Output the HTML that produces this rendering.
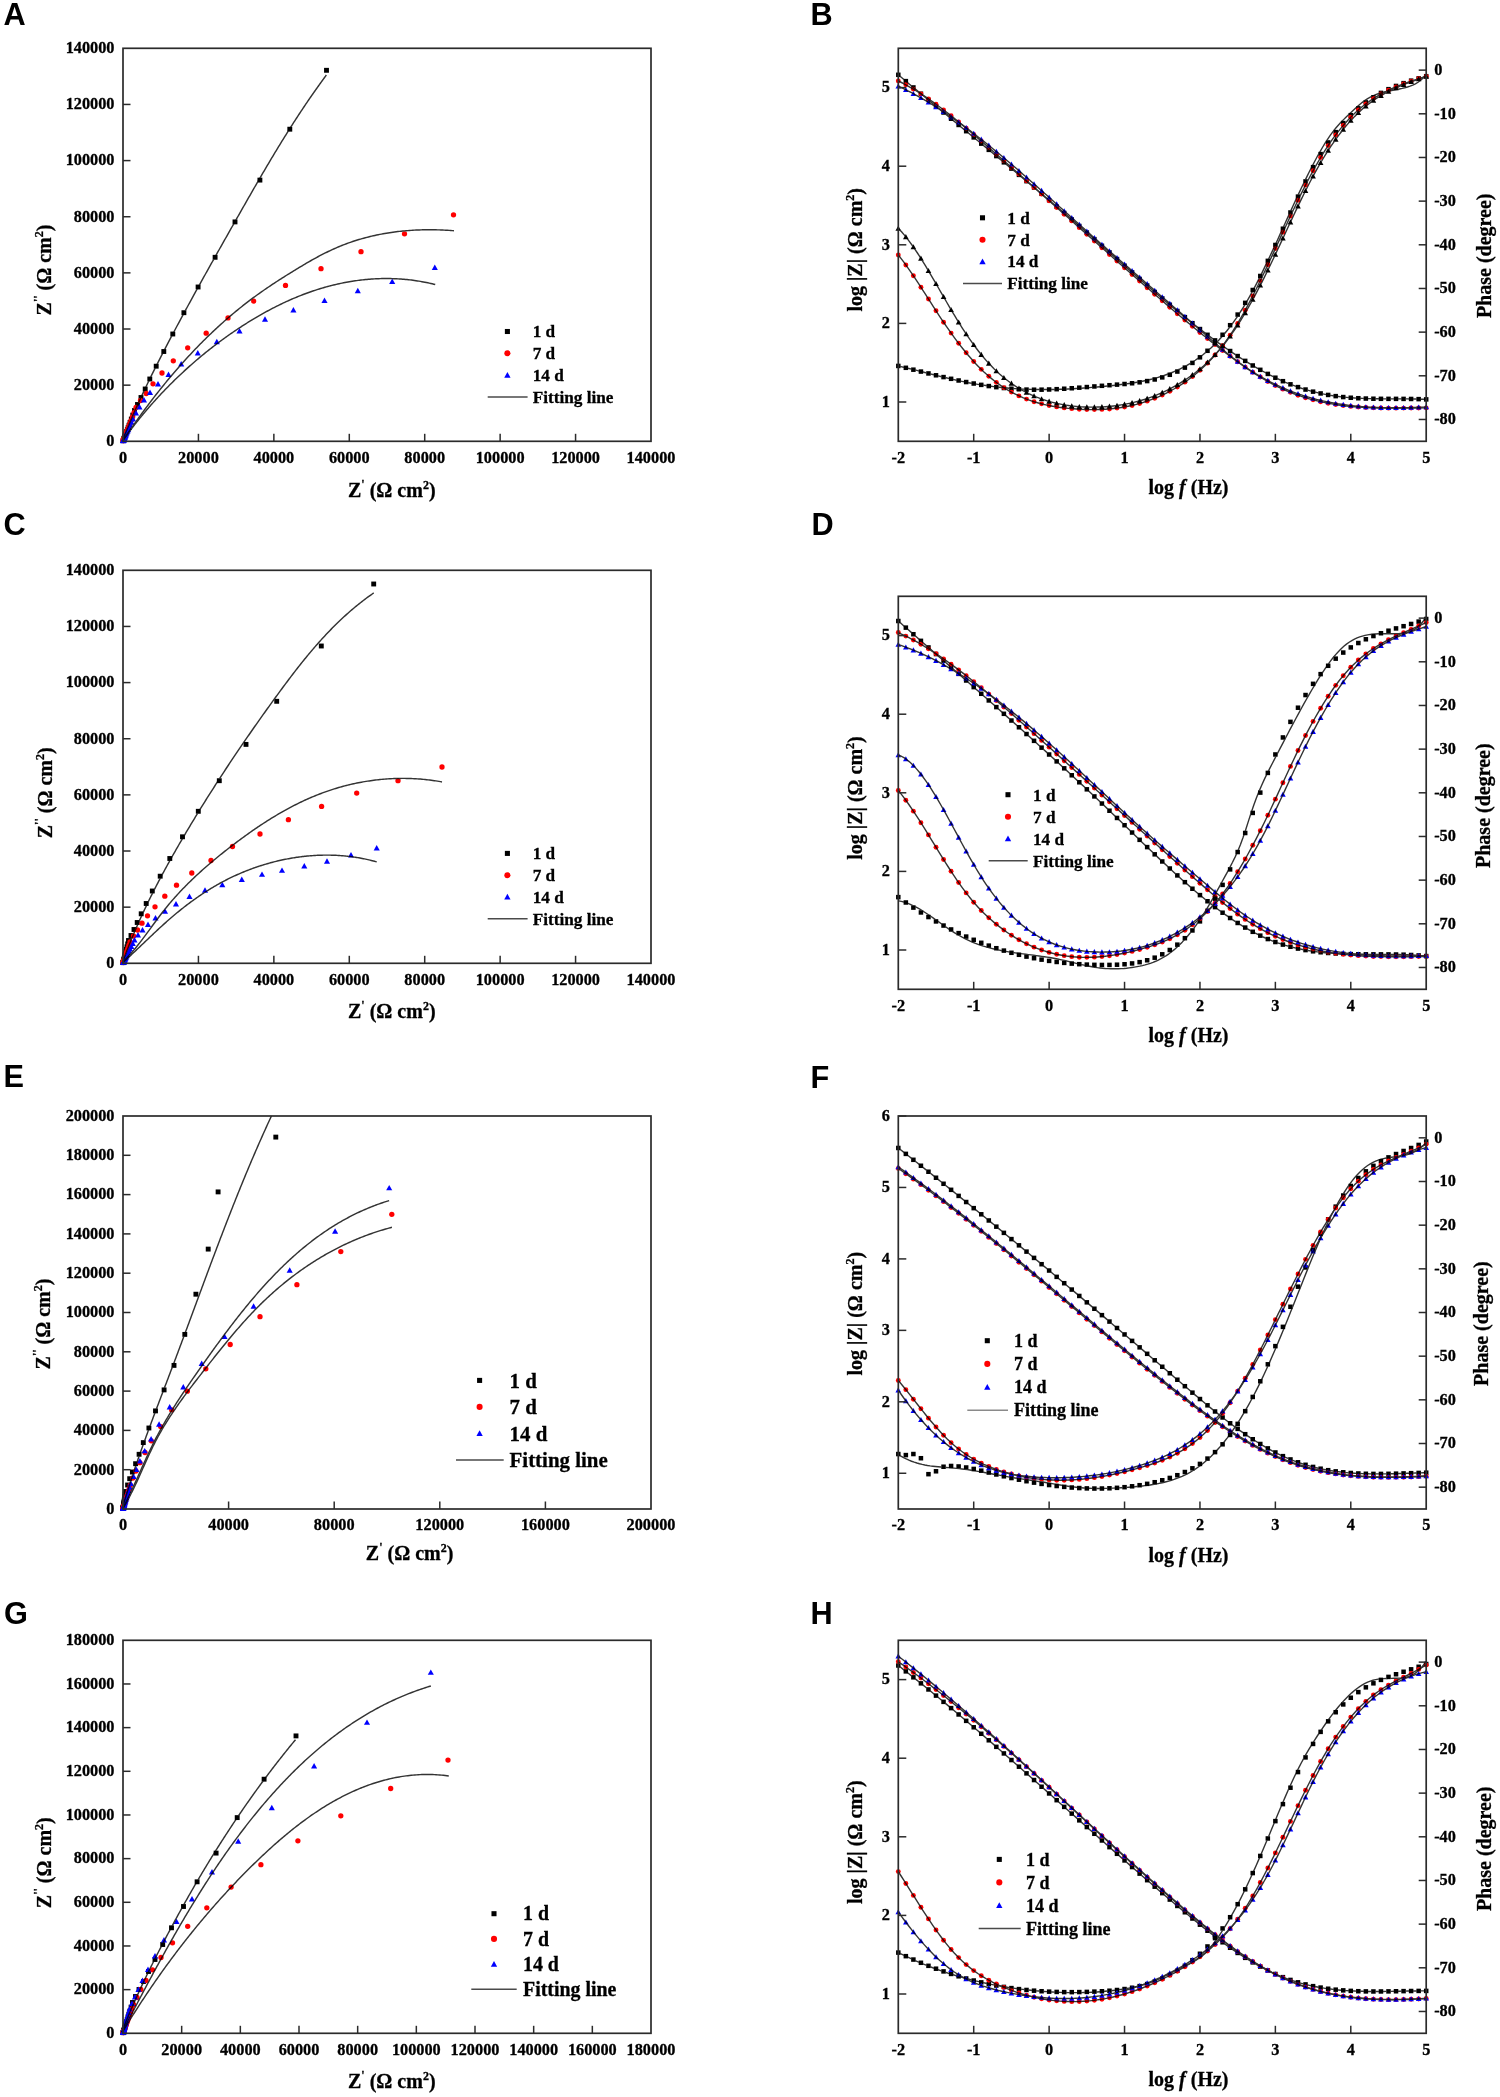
<!DOCTYPE html><html><head><meta charset="utf-8"><style>html,body{margin:0;padding:0;background:#fff;width:1500px;height:2097px;overflow:hidden}svg{display:block;will-change:transform} text[font-family*="Serif"]{stroke:#000;stroke-width:0.3px}</style></head><body><svg width="1500" height="2097" viewBox="0 0 1500 2097">
<rect width="1500" height="2097" fill="#fff"/>
<rect x="324.06" y="67.86" width="4.88" height="4.88" fill="#000"/>
<rect x="287.36" y="126.76" width="4.88" height="4.88" fill="#000"/>
<rect x="257.46" y="177.66" width="4.88" height="4.88" fill="#000"/>
<rect x="232.56" y="219.46" width="4.88" height="4.88" fill="#000"/>
<rect x="212.66" y="254.86" width="4.88" height="4.88" fill="#000"/>
<rect x="195.66" y="284.56" width="4.88" height="4.88" fill="#000"/>
<rect x="181.46" y="310.26" width="4.88" height="4.88" fill="#000"/>
<rect x="170.36" y="331.56" width="4.88" height="4.88" fill="#000"/>
<rect x="161.36" y="349.06" width="4.88" height="4.88" fill="#000"/>
<rect x="153.76" y="363.76" width="4.88" height="4.88" fill="#000"/>
<rect x="147.36" y="376.56" width="4.88" height="4.88" fill="#000"/>
<rect x="142.76" y="386.56" width="4.88" height="4.88" fill="#000"/>
<rect x="138.56" y="395.06" width="4.88" height="4.88" fill="#000"/>
<rect x="135.06" y="402.06" width="4.88" height="4.88" fill="#000"/>
<rect x="132.06" y="408.06" width="4.88" height="4.88" fill="#000"/>
<rect x="130.34" y="412.68" width="4.88" height="4.88" fill="#000"/>
<rect x="128.87" y="416.61" width="4.88" height="4.88" fill="#000"/>
<rect x="127.62" y="419.95" width="4.88" height="4.88" fill="#000"/>
<rect x="126.57" y="422.78" width="4.88" height="4.88" fill="#000"/>
<rect x="125.66" y="425.2" width="4.88" height="4.88" fill="#000"/>
<rect x="124.9" y="427.25" width="4.88" height="4.88" fill="#000"/>
<rect x="124.25" y="428.99" width="4.88" height="4.88" fill="#000"/>
<rect x="123.7" y="430.47" width="4.88" height="4.88" fill="#000"/>
<rect x="123.23" y="431.73" width="4.88" height="4.88" fill="#000"/>
<rect x="122.83" y="432.8" width="4.88" height="4.88" fill="#000"/>
<rect x="122.49" y="433.71" width="4.88" height="4.88" fill="#000"/>
<rect x="122.2" y="434.48" width="4.88" height="4.88" fill="#000"/>
<rect x="121.95" y="435.14" width="4.88" height="4.88" fill="#000"/>
<rect x="121.74" y="435.7" width="4.88" height="4.88" fill="#000"/>
<rect x="121.57" y="436.17" width="4.88" height="4.88" fill="#000"/>
<rect x="121.42" y="436.58" width="4.88" height="4.88" fill="#000"/>
<rect x="121.29" y="436.92" width="4.88" height="4.88" fill="#000"/>
<rect x="121.18" y="437.21" width="4.88" height="4.88" fill="#000"/>
<rect x="121.09" y="437.46" width="4.88" height="4.88" fill="#000"/>
<rect x="121.01" y="437.67" width="4.88" height="4.88" fill="#000"/>
<rect x="120.94" y="437.85" width="4.88" height="4.88" fill="#000"/>
<rect x="120.88" y="438" width="4.88" height="4.88" fill="#000"/>
<rect x="120.84" y="438.13" width="4.88" height="4.88" fill="#000"/>
<rect x="120.79" y="438.24" width="4.88" height="4.88" fill="#000"/>
<circle cx="453.5" cy="214.8" r="2.65" fill="#f00"/>
<circle cx="404.5" cy="233.8" r="2.65" fill="#f00"/>
<circle cx="361" cy="251.7" r="2.65" fill="#f00"/>
<circle cx="321" cy="268.7" r="2.65" fill="#f00"/>
<circle cx="285.5" cy="285.4" r="2.65" fill="#f00"/>
<circle cx="253.7" cy="301.1" r="2.65" fill="#f00"/>
<circle cx="228" cy="317.9" r="2.65" fill="#f00"/>
<circle cx="206.2" cy="333.2" r="2.65" fill="#f00"/>
<circle cx="187.7" cy="347.8" r="2.65" fill="#f00"/>
<circle cx="173.3" cy="360.8" r="2.65" fill="#f00"/>
<circle cx="162" cy="373" r="2.65" fill="#f00"/>
<circle cx="153" cy="383.8" r="2.65" fill="#f00"/>
<circle cx="146.2" cy="393.5" r="2.65" fill="#f00"/>
<circle cx="140.5" cy="400.5" r="2.65" fill="#f00"/>
<circle cx="136" cy="407.5" r="2.65" fill="#f00"/>
<circle cx="134.05" cy="412.57" r="2.65" fill="#f00"/>
<circle cx="132.39" cy="416.88" r="2.65" fill="#f00"/>
<circle cx="130.98" cy="420.54" r="2.65" fill="#f00"/>
<circle cx="129.79" cy="423.66" r="2.65" fill="#f00"/>
<circle cx="128.77" cy="426.3" r="2.65" fill="#f00"/>
<circle cx="127.9" cy="428.55" r="2.65" fill="#f00"/>
<circle cx="127.17" cy="430.46" r="2.65" fill="#f00"/>
<circle cx="126.54" cy="432.09" r="2.65" fill="#f00"/>
<circle cx="126.01" cy="433.47" r="2.65" fill="#f00"/>
<circle cx="125.56" cy="434.65" r="2.65" fill="#f00"/>
<circle cx="125.18" cy="435.64" r="2.65" fill="#f00"/>
<circle cx="124.85" cy="436.49" r="2.65" fill="#f00"/>
<circle cx="124.57" cy="437.21" r="2.65" fill="#f00"/>
<circle cx="124.34" cy="437.83" r="2.65" fill="#f00"/>
<circle cx="124.14" cy="438.35" r="2.65" fill="#f00"/>
<circle cx="123.97" cy="438.79" r="2.65" fill="#f00"/>
<circle cx="123.82" cy="439.17" r="2.65" fill="#f00"/>
<circle cx="123.7" cy="439.49" r="2.65" fill="#f00"/>
<circle cx="123.59" cy="439.76" r="2.65" fill="#f00"/>
<circle cx="123.5" cy="439.99" r="2.65" fill="#f00"/>
<circle cx="123.43" cy="440.19" r="2.65" fill="#f00"/>
<circle cx="123.36" cy="440.35" r="2.65" fill="#f00"/>
<circle cx="123.31" cy="440.5" r="2.65" fill="#f00"/>
<circle cx="123.26" cy="440.62" r="2.65" fill="#f00"/>
<path d="M431.75 269.97L437.85 269.97L434.8 264.48Z" fill="#00f"/>
<path d="M389.15 283.97L395.25 283.97L392.2 278.48Z" fill="#00f"/>
<path d="M354.75 293.27L360.85 293.27L357.8 287.78Z" fill="#00f"/>
<path d="M321.45 302.97L327.55 302.97L324.5 297.48Z" fill="#00f"/>
<path d="M290.35 312.57L296.45 312.57L293.4 307.08Z" fill="#00f"/>
<path d="M261.95 321.67L268.05 321.67L265 316.18Z" fill="#00f"/>
<path d="M236.45 333.47L242.55 333.47L239.5 327.98Z" fill="#00f"/>
<path d="M213.75 344.27L219.85 344.27L216.8 338.78Z" fill="#00f"/>
<path d="M194.75 355.47L200.85 355.47L197.8 349.98Z" fill="#00f"/>
<path d="M178.15 366.47L184.25 366.47L181.2 360.98Z" fill="#00f"/>
<path d="M165.45 376.97L171.55 376.97L168.5 371.48Z" fill="#00f"/>
<path d="M154.95 386.47L161.05 386.47L158 380.98Z" fill="#00f"/>
<path d="M146.95 394.97L153.05 394.97L150 389.48Z" fill="#00f"/>
<path d="M140.95 402.47L147.05 402.47L144 396.98Z" fill="#00f"/>
<path d="M136.45 409.47L142.55 409.47L139.5 403.98Z" fill="#00f"/>
<path d="M132.95 415.47L139.05 415.47L136 409.98Z" fill="#00f"/>
<path d="M129.95 421.47L136.05 421.47L133 415.98Z" fill="#00f"/>
<path d="M128.45 424.81L134.55 424.81L131.5 419.33Z" fill="#00f"/>
<path d="M127.18 427.66L133.27 427.66L130.22 422.17Z" fill="#00f"/>
<path d="M126.09 430.07L132.19 430.07L129.14 424.59Z" fill="#00f"/>
<path d="M125.17 432.13L131.27 432.13L128.22 426.64Z" fill="#00f"/>
<path d="M124.39 433.87L130.48 433.87L127.44 428.39Z" fill="#00f"/>
<path d="M123.72 435.36L129.82 435.36L126.77 429.87Z" fill="#00f"/>
<path d="M123.16 436.62L129.25 436.62L126.21 431.13Z" fill="#00f"/>
<path d="M122.68 437.69L128.77 437.69L125.72 432.21Z" fill="#00f"/>
<path d="M122.27 438.6L128.36 438.6L125.32 433.12Z" fill="#00f"/>
<path d="M121.92 439.38L128.02 439.38L124.97 433.89Z" fill="#00f"/>
<path d="M121.63 440.04L127.72 440.04L124.67 434.55Z" fill="#00f"/>
<path d="M121.37 440.6L127.47 440.6L124.42 435.11Z" fill="#00f"/>
<path d="M121.16 441.07L127.26 441.07L124.21 435.59Z" fill="#00f"/>
<path d="M120.98 441.48L127.08 441.48L124.03 435.99Z" fill="#00f"/>
<path d="M120.83 441.82L126.92 441.82L123.87 436.33Z" fill="#00f"/>
<path d="M120.7 442.11L126.79 442.11L123.74 436.63Z" fill="#00f"/>
<path d="M120.58 442.36L126.68 442.36L123.63 436.88Z" fill="#00f"/>
<path d="M120.49 442.57L126.58 442.57L123.54 437.09Z" fill="#00f"/>
<path d="M120.41 442.75L126.5 442.75L123.46 437.27Z" fill="#00f"/>
<path d="M120.34 442.9L126.44 442.9L123.39 437.42Z" fill="#00f"/>
<path d="M120.28 443.03L126.38 443.03L123.33 437.55Z" fill="#00f"/>
<path d="M120.23 443.14L126.33 443.14L123.28 437.66Z" fill="#00f"/>
<polyline points="326.37,75.04 325.37,76.4 324.37,77.76 323.37,79.12 322.37,80.49 321.38,81.85 320.39,83.22 319.41,84.59 318.43,85.96 317.45,87.34 316.47,88.71 315.5,90.09 314.53,91.47 313.56,92.85 312.6,94.23 311.64,95.62 310.68,97 309.72,98.39 308.77,99.78 307.82,101.17 306.87,102.57 305.93,103.96 304.99,105.36 304.05,106.75 303.11,108.15 302.18,109.56 301.25,110.96 300.32,112.36 299.4,113.77 298.47,115.17 297.55,116.58 296.63,117.99 295.72,119.4 294.8,120.82 293.89,122.23 292.98,123.65 292.08,125.06 291.17,126.48 290.27,127.9 289.37,129.32 288.47,130.75 287.58,132.17 286.68,133.59 285.79,135.02 284.9,136.45 284.01,137.88 283.13,139.3 282.24,140.74 281.36,142.17 280.48,143.6 279.6,145.03 278.72,146.47 277.85,147.91 276.97,149.34 276.1,150.78 275.23,152.22 274.36,153.66 273.5,155.1 272.63,156.54 271.77,157.99 270.9,159.43 270.04,160.87 269.18,162.32 268.32,163.77 267.47,165.21 266.61,166.66 265.76,168.11 264.9,169.56 264.05,171.01 263.2,172.46 262.35,173.92 261.5,175.37 260.65,176.82 259.81,178.28 258.96,179.73 258.12,181.19 257.27,182.64 256.43,184.1 255.59,185.56 254.75,187.01 253.91,188.47 253.07,189.93 252.23,191.39 251.39,192.85 250.55,194.31 249.72,195.77 248.88,197.23 248.04,198.69 247.21,200.15 246.37,201.62 245.54,203.08 244.71,204.54 243.87,206.01 243.04,207.47 242.21,208.93 241.38,210.4 240.54,211.86 239.71,213.33 238.88,214.79 238.05,216.26 237.22,217.72 236.39,219.19 235.56,220.65 234.72,222.12 233.89,223.58 233.06,225.05 232.23,226.51 231.4,227.98 230.57,229.45 229.74,230.91 228.91,232.38 228.08,233.85 227.25,235.31 226.42,236.78 225.59,238.25 224.76,239.71 223.93,241.18 223.1,242.65 222.27,244.11 221.44,245.58 220.61,247.05 219.79,248.52 218.96,249.99 218.13,251.46 217.3,252.92 216.48,254.39 215.65,255.86 214.82,257.33 214,258.8 213.17,260.27 212.35,261.74 211.52,263.21 210.7,264.68 209.87,266.15 209.05,267.63 208.23,269.1 207.4,270.57 206.58,272.04 205.76,273.51 204.94,274.99 204.12,276.46 203.3,277.93 202.48,279.41 201.66,280.88 200.84,282.35 200.02,283.83 199.2,285.3 198.39,286.78 197.57,288.25 196.76,289.73 195.94,291.21 195.13,292.68 194.31,294.16 193.5,295.64 192.69,297.12 191.88,298.59 191.07,300.07 190.26,301.55 189.45,303.03 188.64,304.51 187.83,305.99 187.03,307.47 186.22,308.95 185.42,310.44 184.61,311.92 183.81,313.4 183.01,314.88 182.2,316.37 181.4,317.85 180.6,319.33 179.81,320.82 179.01,322.31 178.21,323.79 177.42,325.28 176.62,326.76 175.83,328.25 175.03,329.74 174.24,331.23 173.45,332.72 172.66,334.21 171.87,335.7 171.09,337.19 170.3,338.68 169.52,340.17 168.73,341.66 167.95,343.15 167.17,344.65 166.39,346.14 165.61,347.64 164.83,349.13 164.06,350.63 163.28,352.13 162.51,353.62 161.74,355.12 160.97,356.62 160.2,358.12 159.44,359.62 158.67,361.12 157.91,362.63 157.15,364.13 156.39,365.63 155.64,367.14 154.88,368.65 154.13,370.15 153.38,371.66 152.63,373.17 151.88,374.68 151.14,376.19 150.4,377.7 149.66,379.22 148.92,380.73 148.19,382.24 147.45,383.76 146.72,385.28 146,386.8 145.27,388.32 144.55,389.84 143.83,391.36 143.11,392.88 142.4,394.41 141.69,395.93 140.98,397.46 140.27,398.98 139.57,400.51 138.87,402.04 138.17,403.58 137.47,405.11 136.78,406.64 136.09,408.18 135.41,409.72 134.72,411.25 134.04,412.79 133.37,414.34 132.7,415.88 132.03,417.42 131.36,418.97 130.7,420.51 130.04,422.06 129.38,423.61 128.73,425.16 128.08,426.72 127.43,428.27 126.79,429.83 126.15,431.39 125.52,432.95 124.89,434.51 124.26,436.07 123.64,437.64 123.02,439.2 122.4,440.77" fill="none" stroke="#333333" stroke-width="1.45" stroke-linejoin="round" style="mix-blend-mode:darken" />
<polyline points="453.96,230.76 452.33,230.63 450.71,230.51 449.08,230.39 447.45,230.29 445.81,230.19 444.17,230.11 442.53,230.03 440.89,229.96 439.25,229.9 437.6,229.85 435.96,229.81 434.31,229.78 432.66,229.75 431.01,229.74 429.35,229.74 427.7,229.75 426.04,229.76 424.39,229.79 422.73,229.82 421.07,229.87 419.41,229.92 417.76,229.99 416.1,230.06 414.44,230.15 412.78,230.25 411.12,230.35 409.46,230.47 407.81,230.6 406.15,230.73 404.49,230.88 402.84,231.04 401.18,231.21 399.53,231.39 397.88,231.58 396.23,231.78 394.58,231.99 392.93,232.22 391.28,232.45 389.64,232.7 388,232.95 386.35,233.22 384.72,233.5 383.08,233.79 381.45,234.09 379.82,234.41 378.19,234.73 376.56,235.07 374.94,235.42 373.32,235.78 371.71,236.15 370.1,236.53 368.49,236.93 366.88,237.34 365.28,237.76 363.68,238.19 362.09,238.63 360.5,239.09 358.92,239.56 357.34,240.04 355.76,240.53 354.19,241.04 352.63,241.56 351.06,242.09 349.51,242.63 347.96,243.19 346.41,243.76 344.87,244.34 343.34,244.94 341.8,245.54 340.28,246.16 338.76,246.79 337.24,247.43 335.73,248.08 334.22,248.75 332.72,249.42 331.22,250.11 329.73,250.8 328.24,251.51 326.76,252.23 325.28,252.96 323.81,253.69 322.34,254.44 320.87,255.2 319.41,255.97 317.95,256.74 316.5,257.53 315.05,258.32 313.6,259.12 312.16,259.93 310.72,260.75 309.28,261.57 307.84,262.4 306.41,263.23 304.99,264.07 303.56,264.91 302.13,265.76 300.71,266.61 299.29,267.46 297.87,268.32 296.46,269.18 295.04,270.04 293.63,270.9 292.22,271.77 290.81,272.64 289.4,273.51 287.99,274.38 286.59,275.26 285.19,276.14 283.79,277.02 282.39,277.91 280.99,278.8 279.6,279.69 278.21,280.59 276.82,281.49 275.44,282.4 274.06,283.3 272.68,284.22 271.3,285.13 269.93,286.05 268.56,286.98 267.19,287.9 265.83,288.84 264.47,289.77 263.11,290.72 261.76,291.66 260.41,292.61 259.06,293.57 257.72,294.53 256.38,295.5 255.04,296.47 253.71,297.44 252.38,298.42 251.06,299.41 249.74,300.4 248.42,301.4 247.11,302.4 245.8,303.41 244.5,304.43 243.2,305.44 241.91,306.47 240.62,307.5 239.33,308.53 238.04,309.57 236.77,310.62 235.49,311.66 234.22,312.72 232.95,313.78 231.69,314.84 230.43,315.91 229.17,316.99 227.92,318.06 226.67,319.15 225.43,320.24 224.19,321.33 222.95,322.43 221.72,323.53 220.49,324.63 219.27,325.75 218.04,326.86 216.83,327.98 215.61,329.11 214.41,330.23 213.2,331.37 212,332.5 210.8,333.65 209.61,334.79 208.42,335.94 207.23,337.1 206.05,338.25 204.87,339.42 203.69,340.58 202.52,341.75 201.35,342.93 200.19,344.11 199.03,345.29 197.87,346.47 196.72,347.66 195.57,348.86 194.42,350.05 193.28,351.25 192.14,352.46 191.01,353.67 189.87,354.88 188.75,356.09 187.62,357.31 186.5,358.53 185.39,359.76 184.27,360.99 183.16,362.22 182.06,363.45 180.95,364.69 179.86,365.93 178.76,367.18 177.67,368.43 176.58,369.68 175.49,370.93 174.41,372.19 173.34,373.45 172.26,374.71 171.19,375.98 170.12,377.25 169.06,378.52 168,379.79 166.94,381.07 165.89,382.35 164.84,383.63 163.79,384.92 162.75,386.21 161.71,387.5 160.67,388.79 159.64,390.09 158.61,391.38 157.58,392.68 156.56,393.99 155.54,395.29 154.52,396.6 153.51,397.91 152.5,399.22 151.49,400.53 150.49,401.85 149.49,403.17 148.49,404.49 147.5,405.81 146.51,407.14 145.52,408.46 144.54,409.79 143.56,411.12 142.58,412.45 141.6,413.79 140.63,415.12 139.67,416.46 138.7,417.8 137.74,419.14 136.78,420.48 135.83,421.82 134.88,423.17 133.93,424.51 132.98,425.86 132.04,427.21 131.1,428.56 130.16,429.92 129.23,431.27 128.3,432.62 127.37,433.98 126.45,435.34 125.53,436.7 124.61,438.05 123.7,439.42 122.79,440.78" fill="none" stroke="#333333" stroke-width="1.45" stroke-linejoin="round" style="mix-blend-mode:darken" />
<polyline points="435.24,284.55 433.76,284.18 432.28,283.83 430.79,283.48 429.31,283.15 427.83,282.83 426.34,282.52 424.86,282.23 423.38,281.94 421.89,281.67 420.4,281.41 418.92,281.16 417.43,280.92 415.94,280.69 414.45,280.48 412.97,280.28 411.48,280.08 409.99,279.9 408.5,279.74 407.01,279.58 405.52,279.43 404.04,279.3 402.55,279.17 401.06,279.06 399.57,278.96 398.08,278.87 396.59,278.79 395.11,278.72 393.62,278.66 392.13,278.61 390.64,278.58 389.16,278.55 387.67,278.54 386.19,278.53 384.7,278.54 383.22,278.55 381.74,278.58 380.25,278.62 378.77,278.67 377.29,278.72 375.81,278.79 374.33,278.87 372.85,278.96 371.37,279.06 369.9,279.17 368.42,279.29 366.95,279.42 365.48,279.56 364,279.71 362.53,279.87 361.06,280.03 359.6,280.21 358.13,280.4 356.66,280.6 355.2,280.81 353.74,281.02 352.28,281.25 350.82,281.49 349.36,281.73 347.91,281.99 346.45,282.25 345,282.52 343.55,282.81 342.1,283.1 340.66,283.4 339.21,283.71 337.77,284.03 336.33,284.36 334.89,284.7 333.45,285.04 332.02,285.4 330.59,285.76 329.16,286.13 327.73,286.51 326.31,286.9 324.89,287.3 323.47,287.71 322.05,288.12 320.63,288.55 319.22,288.98 317.81,289.42 316.41,289.87 315,290.33 313.6,290.79 312.2,291.26 310.8,291.75 309.41,292.24 308.02,292.73 306.63,293.24 305.25,293.75 303.86,294.27 302.48,294.8 301.1,295.34 299.73,295.88 298.36,296.43 296.99,296.99 295.62,297.55 294.26,298.12 292.9,298.7 291.54,299.29 290.18,299.89 288.83,300.49 287.48,301.09 286.13,301.71 284.78,302.33 283.44,302.96 282.1,303.59 280.77,304.23 279.43,304.88 278.1,305.54 276.77,306.2 275.45,306.86 274.12,307.54 272.8,308.22 271.49,308.9 270.17,309.59 268.86,310.29 267.55,310.99 266.24,311.7 264.94,312.42 263.64,313.14 262.34,313.87 261.05,314.6 259.76,315.34 258.47,316.08 257.18,316.83 255.9,317.58 254.62,318.34 253.34,319.11 252.06,319.88 250.79,320.65 249.52,321.43 248.25,322.21 246.99,323 245.73,323.8 244.47,324.6 243.22,325.4 241.97,326.21 240.72,327.02 239.47,327.84 238.23,328.66 236.99,329.49 235.75,330.32 234.51,331.15 233.28,331.99 232.05,332.83 230.83,333.68 229.61,334.53 228.39,335.39 227.17,336.25 225.96,337.12 224.75,337.98 223.54,338.86 222.33,339.73 221.13,340.62 219.94,341.5 218.74,342.39 217.55,343.28 216.36,344.18 215.17,345.08 213.99,345.99 212.81,346.9 211.63,347.81 210.46,348.73 209.29,349.65 208.12,350.58 206.96,351.51 205.8,352.44 204.64,353.38 203.49,354.32 202.34,355.27 201.19,356.21 200.05,357.17 198.91,358.12 197.77,359.08 196.63,360.05 195.5,361.02 194.38,361.99 193.25,362.96 192.13,363.94 191.01,364.93 189.9,365.91 188.79,366.9 187.68,367.9 186.58,368.89 185.48,369.89 184.38,370.9 183.29,371.91 182.2,372.92 181.11,373.93 180.03,374.95 178.95,375.98 177.87,377 176.8,378.03 175.73,379.06 174.66,380.1 173.6,381.14 172.54,382.18 171.49,383.23 170.43,384.28 169.39,385.33 168.34,386.39 167.3,387.45 166.27,388.51 165.23,389.57 164.2,390.64 163.18,391.72 162.15,392.79 161.13,393.87 160.12,394.95 159.11,396.04 158.1,397.13 157.1,398.22 156.1,399.31 155.1,400.41 154.11,401.51 153.12,402.62 152.13,403.72 151.15,404.83 150.18,405.95 149.2,407.06 148.23,408.18 147.27,409.3 146.3,410.43 145.35,411.56 144.39,412.69 143.44,413.82 142.5,414.96 141.55,416.1 140.61,417.24 139.68,418.38 138.75,419.53 137.82,420.68 136.9,421.83 135.98,422.99 135.06,424.15 134.15,425.31 133.25,426.47 132.34,427.64 131.45,428.81 130.55,429.98 129.66,431.16 128.77,432.33 127.89,433.51 127.01,434.7 126.14,435.88 125.27,437.07 124.4,438.26 123.54,439.45 122.68,440.65" fill="none" stroke="#333333" stroke-width="1.45" stroke-linejoin="round" style="mix-blend-mode:darken" />
<rect x="123" y="48.3" width="528" height="393.0" fill="none" stroke="#2b2b2b" stroke-width="1.7"/>
<text transform="translate(114.5,446.1) scale(1,1.075)" font-size="16.3" text-anchor="end" font-family='"Liberation Serif", serif' font-weight="bold">0</text>
<line x1="123" y1="385.16" x2="130.5" y2="385.16" stroke="#2b2b2b" stroke-width="1.5"/>
<text transform="translate(114.5,389.96) scale(1,1.075)" font-size="16.3" text-anchor="end" font-family='"Liberation Serif", serif' font-weight="bold">20000</text>
<line x1="123" y1="329.01" x2="130.5" y2="329.01" stroke="#2b2b2b" stroke-width="1.5"/>
<text transform="translate(114.5,333.81) scale(1,1.075)" font-size="16.3" text-anchor="end" font-family='"Liberation Serif", serif' font-weight="bold">40000</text>
<line x1="123" y1="272.87" x2="130.5" y2="272.87" stroke="#2b2b2b" stroke-width="1.5"/>
<text transform="translate(114.5,277.67) scale(1,1.075)" font-size="16.3" text-anchor="end" font-family='"Liberation Serif", serif' font-weight="bold">60000</text>
<line x1="123" y1="216.73" x2="130.5" y2="216.73" stroke="#2b2b2b" stroke-width="1.5"/>
<text transform="translate(114.5,221.53) scale(1,1.075)" font-size="16.3" text-anchor="end" font-family='"Liberation Serif", serif' font-weight="bold">80000</text>
<line x1="123" y1="160.59" x2="130.5" y2="160.59" stroke="#2b2b2b" stroke-width="1.5"/>
<text transform="translate(114.5,165.39) scale(1,1.075)" font-size="16.3" text-anchor="end" font-family='"Liberation Serif", serif' font-weight="bold">100000</text>
<line x1="123" y1="104.44" x2="130.5" y2="104.44" stroke="#2b2b2b" stroke-width="1.5"/>
<text transform="translate(114.5,109.24) scale(1,1.075)" font-size="16.3" text-anchor="end" font-family='"Liberation Serif", serif' font-weight="bold">120000</text>
<text transform="translate(114.5,53.1) scale(1,1.075)" font-size="16.3" text-anchor="end" font-family='"Liberation Serif", serif' font-weight="bold">140000</text>
<text transform="translate(123,462.5) scale(1,1.075)" font-size="16.3" text-anchor="middle" font-family='"Liberation Serif", serif' font-weight="bold">0</text>
<line x1="198.43" y1="441.3" x2="198.43" y2="433.8" stroke="#2b2b2b" stroke-width="1.5"/>
<text transform="translate(198.43,462.5) scale(1,1.075)" font-size="16.3" text-anchor="middle" font-family='"Liberation Serif", serif' font-weight="bold">20000</text>
<line x1="273.86" y1="441.3" x2="273.86" y2="433.8" stroke="#2b2b2b" stroke-width="1.5"/>
<text transform="translate(273.86,462.5) scale(1,1.075)" font-size="16.3" text-anchor="middle" font-family='"Liberation Serif", serif' font-weight="bold">40000</text>
<line x1="349.29" y1="441.3" x2="349.29" y2="433.8" stroke="#2b2b2b" stroke-width="1.5"/>
<text transform="translate(349.29,462.5) scale(1,1.075)" font-size="16.3" text-anchor="middle" font-family='"Liberation Serif", serif' font-weight="bold">60000</text>
<line x1="424.71" y1="441.3" x2="424.71" y2="433.8" stroke="#2b2b2b" stroke-width="1.5"/>
<text transform="translate(424.71,462.5) scale(1,1.075)" font-size="16.3" text-anchor="middle" font-family='"Liberation Serif", serif' font-weight="bold">80000</text>
<line x1="500.14" y1="441.3" x2="500.14" y2="433.8" stroke="#2b2b2b" stroke-width="1.5"/>
<text transform="translate(500.14,462.5) scale(1,1.075)" font-size="16.3" text-anchor="middle" font-family='"Liberation Serif", serif' font-weight="bold">100000</text>
<line x1="575.57" y1="441.3" x2="575.57" y2="433.8" stroke="#2b2b2b" stroke-width="1.5"/>
<text transform="translate(575.57,462.5) scale(1,1.075)" font-size="16.3" text-anchor="middle" font-family='"Liberation Serif", serif' font-weight="bold">120000</text>
<text transform="translate(651,462.5) scale(1,1.075)" font-size="16.3" text-anchor="middle" font-family='"Liberation Serif", serif' font-weight="bold">140000</text>
<rect x="371.26" y="581.56" width="4.88" height="4.88" fill="#000"/>
<rect x="318.86" y="643.56" width="4.88" height="4.88" fill="#000"/>
<rect x="274.26" y="698.86" width="4.88" height="4.88" fill="#000"/>
<rect x="243.56" y="741.96" width="4.88" height="4.88" fill="#000"/>
<rect x="216.86" y="778.26" width="4.88" height="4.88" fill="#000"/>
<rect x="195.86" y="808.86" width="4.88" height="4.88" fill="#000"/>
<rect x="180.06" y="834.36" width="4.88" height="4.88" fill="#000"/>
<rect x="167.36" y="856.06" width="4.88" height="4.88" fill="#000"/>
<rect x="157.76" y="873.76" width="4.88" height="4.88" fill="#000"/>
<rect x="149.86" y="888.56" width="4.88" height="4.88" fill="#000"/>
<rect x="143.76" y="901.06" width="4.88" height="4.88" fill="#000"/>
<rect x="138.76" y="911.36" width="4.88" height="4.88" fill="#000"/>
<rect x="134.76" y="920.06" width="4.88" height="4.88" fill="#000"/>
<rect x="131.56" y="927.06" width="4.88" height="4.88" fill="#000"/>
<rect x="128.56" y="933.06" width="4.88" height="4.88" fill="#000"/>
<rect x="126.06" y="938.06" width="4.88" height="4.88" fill="#000"/>
<rect x="125.24" y="941.48" width="4.88" height="4.88" fill="#000"/>
<rect x="124.54" y="944.39" width="4.88" height="4.88" fill="#000"/>
<rect x="123.94" y="946.86" width="4.88" height="4.88" fill="#000"/>
<rect x="123.43" y="948.96" width="4.88" height="4.88" fill="#000"/>
<rect x="123" y="950.75" width="4.88" height="4.88" fill="#000"/>
<rect x="122.64" y="952.26" width="4.88" height="4.88" fill="#000"/>
<rect x="122.33" y="953.55" width="4.88" height="4.88" fill="#000"/>
<rect x="122.06" y="954.65" width="4.88" height="4.88" fill="#000"/>
<rect x="121.84" y="955.58" width="4.88" height="4.88" fill="#000"/>
<rect x="121.64" y="956.37" width="4.88" height="4.88" fill="#000"/>
<rect x="121.48" y="957.05" width="4.88" height="4.88" fill="#000"/>
<rect x="121.34" y="957.62" width="4.88" height="4.88" fill="#000"/>
<rect x="121.23" y="958.11" width="4.88" height="4.88" fill="#000"/>
<rect x="121.13" y="958.52" width="4.88" height="4.88" fill="#000"/>
<rect x="121.04" y="958.87" width="4.88" height="4.88" fill="#000"/>
<rect x="120.97" y="959.17" width="4.88" height="4.88" fill="#000"/>
<rect x="120.91" y="959.42" width="4.88" height="4.88" fill="#000"/>
<rect x="120.86" y="959.64" width="4.88" height="4.88" fill="#000"/>
<rect x="120.81" y="959.82" width="4.88" height="4.88" fill="#000"/>
<rect x="120.78" y="959.98" width="4.88" height="4.88" fill="#000"/>
<rect x="120.74" y="960.11" width="4.88" height="4.88" fill="#000"/>
<rect x="120.72" y="960.22" width="4.88" height="4.88" fill="#000"/>
<circle cx="442" cy="767" r="2.65" fill="#f00"/>
<circle cx="398" cy="780.7" r="2.65" fill="#f00"/>
<circle cx="356.7" cy="793.1" r="2.65" fill="#f00"/>
<circle cx="321.6" cy="806.4" r="2.65" fill="#f00"/>
<circle cx="288.4" cy="819.7" r="2.65" fill="#f00"/>
<circle cx="260" cy="834" r="2.65" fill="#f00"/>
<circle cx="232.5" cy="846.5" r="2.65" fill="#f00"/>
<circle cx="211" cy="860.5" r="2.65" fill="#f00"/>
<circle cx="191.8" cy="873" r="2.65" fill="#f00"/>
<circle cx="176.5" cy="885.2" r="2.65" fill="#f00"/>
<circle cx="164.8" cy="896.2" r="2.65" fill="#f00"/>
<circle cx="155" cy="906.8" r="2.65" fill="#f00"/>
<circle cx="147.5" cy="915.8" r="2.65" fill="#f00"/>
<circle cx="142" cy="923.2" r="2.65" fill="#f00"/>
<circle cx="137.5" cy="930" r="2.65" fill="#f00"/>
<circle cx="133.5" cy="936" r="2.65" fill="#f00"/>
<circle cx="130" cy="942" r="2.65" fill="#f00"/>
<circle cx="128.95" cy="945.19" r="2.65" fill="#f00"/>
<circle cx="128.06" cy="947.91" r="2.65" fill="#f00"/>
<circle cx="127.3" cy="950.22" r="2.65" fill="#f00"/>
<circle cx="126.65" cy="952.18" r="2.65" fill="#f00"/>
<circle cx="126.11" cy="953.85" r="2.65" fill="#f00"/>
<circle cx="125.64" cy="955.27" r="2.65" fill="#f00"/>
<circle cx="125.24" cy="956.47" r="2.65" fill="#f00"/>
<circle cx="124.91" cy="957.5" r="2.65" fill="#f00"/>
<circle cx="124.62" cy="958.37" r="2.65" fill="#f00"/>
<circle cx="124.38" cy="959.11" r="2.65" fill="#f00"/>
<circle cx="124.17" cy="959.74" r="2.65" fill="#f00"/>
<circle cx="124" cy="960.27" r="2.65" fill="#f00"/>
<circle cx="123.85" cy="960.72" r="2.65" fill="#f00"/>
<circle cx="123.72" cy="961.11" r="2.65" fill="#f00"/>
<circle cx="123.61" cy="961.44" r="2.65" fill="#f00"/>
<circle cx="123.52" cy="961.72" r="2.65" fill="#f00"/>
<circle cx="123.44" cy="961.96" r="2.65" fill="#f00"/>
<circle cx="123.38" cy="962.16" r="2.65" fill="#f00"/>
<circle cx="123.32" cy="962.33" r="2.65" fill="#f00"/>
<circle cx="123.27" cy="962.47" r="2.65" fill="#f00"/>
<circle cx="123.23" cy="962.6" r="2.65" fill="#f00"/>
<path d="M373.65 850.47L379.75 850.47L376.7 844.98Z" fill="#00f"/>
<path d="M347.95 857.47L354.05 857.47L351 851.98Z" fill="#00f"/>
<path d="M323.95 863.77L330.05 863.77L327 858.28Z" fill="#00f"/>
<path d="M301.25 868.47L307.35 868.47L304.3 862.98Z" fill="#00f"/>
<path d="M278.95 872.87L285.05 872.87L282 867.38Z" fill="#00f"/>
<path d="M258.95 876.87L265.05 876.87L262 871.38Z" fill="#00f"/>
<path d="M238.75 881.97L244.85 881.97L241.8 876.48Z" fill="#00f"/>
<path d="M219.25 887.27L225.35 887.27L222.3 881.78Z" fill="#00f"/>
<path d="M201.95 892.67L208.05 892.67L205 887.18Z" fill="#00f"/>
<path d="M186.45 898.97L192.55 898.97L189.5 893.48Z" fill="#00f"/>
<path d="M172.95 906.47L179.05 906.47L176 900.98Z" fill="#00f"/>
<path d="M161.95 913.67L168.05 913.67L165 908.18Z" fill="#00f"/>
<path d="M152.45 920.47L158.55 920.47L155.5 914.98Z" fill="#00f"/>
<path d="M144.95 926.97L151.05 926.97L148 921.48Z" fill="#00f"/>
<path d="M139.45 932.47L145.55 932.47L142.5 926.98Z" fill="#00f"/>
<path d="M134.95 937.47L141.05 937.47L138 931.98Z" fill="#00f"/>
<path d="M131.45 942.47L137.55 942.47L134.5 936.98Z" fill="#00f"/>
<path d="M129.73 945.96L135.82 945.96L132.78 940.48Z" fill="#00f"/>
<path d="M128.26 948.93L134.36 948.93L131.31 943.45Z" fill="#00f"/>
<path d="M127.01 951.46L133.11 951.46L130.06 945.97Z" fill="#00f"/>
<path d="M125.96 953.61L132.05 953.61L129 948.12Z" fill="#00f"/>
<path d="M125.06 955.43L131.15 955.43L128.1 949.94Z" fill="#00f"/>
<path d="M124.29 956.98L130.38 956.98L127.34 951.5Z" fill="#00f"/>
<path d="M123.64 958.3L129.73 958.3L126.69 952.81Z" fill="#00f"/>
<path d="M123.09 959.42L129.18 959.42L126.13 953.93Z" fill="#00f"/>
<path d="M122.62 960.37L128.71 960.37L125.66 954.89Z" fill="#00f"/>
<path d="M122.22 961.18L128.31 961.18L125.26 955.7Z" fill="#00f"/>
<path d="M121.88 961.87L127.97 961.87L124.92 956.38Z" fill="#00f"/>
<path d="M121.59 962.45L127.68 962.45L124.64 956.97Z" fill="#00f"/>
<path d="M121.34 962.95L127.44 962.95L124.39 957.47Z" fill="#00f"/>
<path d="M121.13 963.37L127.23 963.37L124.18 957.89Z" fill="#00f"/>
<path d="M120.96 963.73L127.05 963.73L124 958.25Z" fill="#00f"/>
<path d="M120.81 964.04L126.9 964.04L123.85 958.55Z" fill="#00f"/>
<path d="M120.68 964.3L126.77 964.3L123.73 958.81Z" fill="#00f"/>
<path d="M120.57 964.52L126.66 964.52L123.62 959.03Z" fill="#00f"/>
<path d="M120.48 964.71L126.57 964.71L123.52 959.22Z" fill="#00f"/>
<path d="M120.4 964.87L126.49 964.87L123.45 959.38Z" fill="#00f"/>
<path d="M120.33 965L126.43 965L123.38 959.52Z" fill="#00f"/>
<path d="M120.27 965.12L126.37 965.12L123.32 959.63Z" fill="#00f"/>
<polyline points="373.72,592.94 372.21,593.99 370.71,595.05 369.22,596.11 367.74,597.19 366.27,598.28 364.81,599.37 363.35,600.47 361.91,601.59 360.48,602.71 359.05,603.84 357.63,604.97 356.23,606.12 354.83,607.28 353.44,608.44 352.05,609.61 350.68,610.79 349.31,611.98 347.96,613.17 346.61,614.38 345.26,615.59 343.93,616.8 342.6,618.03 341.29,619.26 339.97,620.5 338.67,621.75 337.37,623 336.09,624.26 334.8,625.53 333.53,626.81 332.26,628.09 331,629.37 329.74,630.67 328.49,631.97 327.25,633.27 326.01,634.58 324.78,635.9 323.56,637.22 322.34,638.55 321.13,639.88 319.92,641.22 318.72,642.57 317.53,643.92 316.34,645.27 315.15,646.63 313.97,648 312.8,649.37 311.63,650.74 310.46,652.12 309.3,653.51 308.15,654.89 307,656.29 305.85,657.68 304.71,659.08 303.57,660.49 302.44,661.89 301.31,663.3 300.18,664.72 299.06,666.14 297.94,667.56 296.82,668.98 295.71,670.41 294.6,671.84 293.5,673.28 292.4,674.71 291.3,676.15 290.2,677.6 289.11,679.04 288.02,680.49 286.93,681.94 285.84,683.39 284.76,684.84 283.68,686.3 282.6,687.75 281.52,689.21 280.45,690.67 279.38,692.13 278.31,693.6 277.24,695.06 276.17,696.53 275.1,698 274.03,699.46 272.97,700.93 271.91,702.4 270.85,703.87 269.78,705.34 268.73,706.82 267.67,708.29 266.61,709.76 265.55,711.24 264.5,712.71 263.45,714.19 262.4,715.67 261.35,717.15 260.3,718.63 259.25,720.11 258.2,721.59 257.16,723.07 256.11,724.56 255.07,726.04 254.03,727.53 252.99,729.01 251.95,730.5 250.92,731.99 249.88,733.48 248.85,734.97 247.82,736.46 246.79,737.95 245.76,739.45 244.73,740.94 243.7,742.44 242.68,743.93 241.66,745.43 240.63,746.93 239.61,748.43 238.59,749.93 237.58,751.43 236.56,752.93 235.55,754.43 234.53,755.94 233.52,757.44 232.51,758.95 231.51,760.46 230.5,761.97 229.5,763.47 228.49,764.98 227.49,766.5 226.49,768.01 225.49,769.52 224.5,771.04 223.5,772.55 222.51,774.07 221.52,775.59 220.53,777.11 219.54,778.62 218.55,780.15 217.57,781.67 216.58,783.19 215.6,784.71 214.62,786.24 213.64,787.77 212.67,789.29 211.69,790.82 210.72,792.35 209.75,793.88 208.78,795.41 207.81,796.94 206.85,798.48 205.88,800.01 204.92,801.55 203.96,803.08 203,804.62 202.04,806.16 201.09,807.7 200.14,809.24 199.19,810.78 198.24,812.33 197.29,813.87 196.34,815.42 195.4,816.96 194.46,818.51 193.52,820.06 192.58,821.61 191.64,823.16 190.71,824.71 189.78,826.27 188.85,827.82 187.92,829.38 186.99,830.93 186.07,832.49 185.15,834.05 184.23,835.61 183.31,837.17 182.39,838.74 181.48,840.3 180.57,841.86 179.66,843.43 178.75,845 177.84,846.57 176.94,848.14 176.04,849.71 175.14,851.28 174.25,852.85 173.35,854.43 172.46,856 171.57,857.58 170.69,859.16 169.81,860.74 168.93,862.32 168.05,863.91 167.17,865.49 166.3,867.08 165.43,868.67 164.57,870.26 163.71,871.85 162.85,873.44 161.99,875.04 161.14,876.63 160.29,878.23 159.44,879.83 158.6,881.43 157.76,883.04 156.92,884.64 156.09,886.25 155.26,887.86 154.44,889.47 153.62,891.08 152.8,892.7 151.98,894.32 151.17,895.93 150.37,897.55 149.57,899.18 148.77,900.8 147.97,902.43 147.18,904.06 146.4,905.69 145.62,907.32 144.84,908.96 144.07,910.59 143.3,912.23 142.53,913.88 141.77,915.52 141.02,917.17 140.27,918.82 139.52,920.47 138.78,922.12 138.05,923.78 137.31,925.43 136.59,927.1 135.87,928.76 135.15,930.42 134.44,932.09 133.73,933.76 133.03,935.44 132.33,937.11 131.64,938.79 130.95,940.47 130.27,942.15 129.6,943.84 128.93,945.53 128.26,947.22 127.61,948.91 126.95,950.61 126.3,952.31 125.66,954.01 125.03,955.72 124.4,957.43 123.77,959.14 123.15,960.85 122.54,962.57" fill="none" stroke="#333333" stroke-width="1.45" stroke-linejoin="round" style="mix-blend-mode:darken" />
<polyline points="442,781.93 440.47,781.65 438.94,781.39 437.41,781.13 435.88,780.89 434.34,780.66 432.8,780.44 431.26,780.23 429.72,780.04 428.18,779.85 426.64,779.68 425.09,779.51 423.54,779.36 421.99,779.22 420.45,779.09 418.89,778.97 417.34,778.86 415.79,778.77 414.24,778.68 412.68,778.61 411.13,778.54 409.57,778.49 408.01,778.45 406.46,778.42 404.9,778.4 403.34,778.39 401.78,778.39 400.23,778.41 398.67,778.43 397.11,778.46 395.55,778.51 393.99,778.57 392.44,778.63 390.88,778.71 389.32,778.8 387.77,778.9 386.21,779.01 384.66,779.13 383.1,779.26 381.55,779.4 380,779.55 378.44,779.71 376.89,779.89 375.34,780.07 373.8,780.26 372.25,780.47 370.7,780.68 369.16,780.91 367.62,781.14 366.08,781.39 364.54,781.64 363,781.91 361.47,782.19 359.93,782.47 358.4,782.77 356.87,783.08 355.35,783.4 353.82,783.72 352.3,784.06 350.78,784.41 349.26,784.77 347.75,785.13 346.24,785.51 344.73,785.9 343.22,786.3 341.72,786.71 340.22,787.12 338.72,787.55 337.23,787.99 335.74,788.44 334.25,788.89 332.77,789.36 331.29,789.84 329.81,790.32 328.34,790.82 326.87,791.33 325.41,791.84 323.95,792.37 322.49,792.9 321.04,793.45 319.59,794 318.14,794.56 316.7,795.14 315.26,795.72 313.83,796.31 312.4,796.91 310.97,797.51 309.55,798.13 308.13,798.76 306.71,799.39 305.3,800.03 303.89,800.68 302.48,801.34 301.08,802 299.68,802.68 298.29,803.36 296.9,804.05 295.51,804.74 294.13,805.45 292.75,806.16 291.37,806.88 290,807.61 288.63,808.34 287.26,809.08 285.9,809.83 284.54,810.58 283.18,811.34 281.83,812.11 280.48,812.88 279.13,813.67 277.79,814.45 276.45,815.25 275.11,816.04 273.78,816.85 272.44,817.66 271.12,818.48 269.79,819.3 268.47,820.13 267.15,820.96 265.84,821.8 264.53,822.65 263.22,823.5 261.91,824.35 260.61,825.21 259.31,826.08 258.01,826.94 256.72,827.82 255.43,828.7 254.14,829.58 252.85,830.47 251.57,831.36 250.29,832.26 249.02,833.16 247.74,834.06 246.47,834.97 245.21,835.88 243.94,836.8 242.68,837.72 241.42,838.64 240.16,839.57 238.91,840.5 237.66,841.43 236.41,842.37 235.16,843.31 233.92,844.25 232.68,845.19 231.44,846.14 230.2,847.09 228.97,848.05 227.74,849 226.51,849.96 225.29,850.92 224.07,851.89 222.85,852.85 221.63,853.83 220.42,854.8 219.21,855.78 218,856.76 216.8,857.74 215.6,858.73 214.4,859.72 213.21,860.71 212.02,861.71 210.84,862.71 209.66,863.72 208.48,864.73 207.31,865.74 206.14,866.76 204.97,867.78 203.81,868.8 202.65,869.83 201.49,870.86 200.35,871.9 199.2,872.94 198.06,873.99 196.92,875.04 195.79,876.09 194.66,877.15 193.54,878.21 192.42,879.28 191.31,880.36 190.2,881.43 189.09,882.52 187.99,883.6 186.9,884.69 185.81,885.79 184.73,886.89 183.65,888 182.57,889.11 181.5,890.23 180.44,891.36 179.38,892.48 178.33,893.62 177.28,894.76 176.24,895.9 175.21,897.05 174.18,898.21 173.15,899.37 172.14,900.54 171.12,901.71 170.12,902.89 169.12,904.08 168.12,905.27 167.14,906.46 166.15,907.67 165.18,908.88 164.21,910.09 163.25,911.32 162.29,912.54 161.34,913.78 160.39,915.02 159.45,916.26 158.51,917.5 157.57,918.75 156.64,920.01 155.71,921.26 154.79,922.52 153.86,923.78 152.93,925.04 152.01,926.3 151.09,927.56 150.16,928.83 149.24,930.09 148.31,931.35 147.39,932.61 146.46,933.87 145.53,935.12 144.59,936.37 143.66,937.62 142.72,938.87 141.77,940.11 140.82,941.35 139.87,942.59 138.91,943.82 137.94,945.04 136.97,946.26 135.99,947.47 135,948.67 134,949.87 133,951.05 131.99,952.23 130.97,953.41 129.94,954.57 128.9,955.72 127.84,956.86 126.78,958 125.71,959.12 124.62,960.23 123.52,961.33 122.41,962.41" fill="none" stroke="#333333" stroke-width="1.45" stroke-linejoin="round" style="mix-blend-mode:darken" />
<polyline points="376.74,861.91 375.63,861.6 374.52,861.29 373.41,861 372.3,860.71 371.18,860.43 370.07,860.16 368.95,859.89 367.83,859.63 366.71,859.38 365.59,859.14 364.46,858.9 363.33,858.67 362.21,858.45 361.08,858.24 359.95,858.03 358.82,857.83 357.68,857.64 356.55,857.45 355.41,857.27 354.28,857.1 353.14,856.94 352,856.78 350.86,856.63 349.72,856.49 348.57,856.36 347.43,856.23 346.29,856.11 345.14,856 343.99,855.89 342.85,855.79 341.7,855.7 340.55,855.61 339.4,855.53 338.25,855.46 337.1,855.4 335.95,855.34 334.8,855.29 333.64,855.24 332.49,855.21 331.34,855.17 330.18,855.15 329.03,855.13 327.87,855.12 326.72,855.12 325.56,855.12 324.41,855.13 323.25,855.15 322.09,855.17 320.94,855.2 319.78,855.24 318.62,855.28 317.47,855.33 316.31,855.39 315.15,855.45 314,855.52 312.84,855.6 311.68,855.68 310.53,855.77 309.37,855.87 308.22,855.97 307.06,856.08 305.91,856.19 304.75,856.31 303.6,856.44 302.44,856.57 301.29,856.72 300.14,856.86 298.99,857.01 297.83,857.17 296.68,857.34 295.53,857.51 294.38,857.69 293.24,857.87 292.09,858.06 290.94,858.26 289.79,858.46 288.65,858.67 287.5,858.88 286.36,859.1 285.22,859.33 284.08,859.56 282.94,859.8 281.8,860.05 280.66,860.3 279.52,860.55 278.39,860.82 277.25,861.08 276.12,861.36 274.99,861.64 273.86,861.92 272.73,862.22 271.6,862.51 270.48,862.82 269.35,863.13 268.23,863.44 267.11,863.76 265.99,864.09 264.87,864.42 263.76,864.76 262.64,865.1 261.53,865.45 260.42,865.81 259.31,866.17 258.2,866.53 257.1,866.9 256,867.28 254.9,867.66 253.8,868.05 252.7,868.44 251.61,868.84 250.51,869.25 249.42,869.66 248.34,870.07 247.25,870.49 246.17,870.92 245.09,871.35 244.01,871.79 242.93,872.23 241.86,872.68 240.79,873.13 239.72,873.59 238.65,874.05 237.59,874.52 236.53,874.99 235.47,875.47 234.42,875.95 233.36,876.44 232.32,876.94 231.27,877.44 230.22,877.94 229.18,878.45 228.15,878.96 227.11,879.48 226.08,880.01 225.05,880.54 224.03,881.07 223,881.61 221.98,882.15 220.97,882.7 219.95,883.25 218.95,883.81 217.94,884.38 216.94,884.94 215.93,885.52 214.94,886.09 213.94,886.68 212.95,887.26 211.96,887.85 210.98,888.45 210,889.05 209.02,889.65 208.04,890.26 207.07,890.88 206.1,891.49 205.13,892.12 204.16,892.74 203.2,893.37 202.24,894.01 201.28,894.64 200.33,895.29 199.38,895.93 198.43,896.58 197.49,897.24 196.54,897.9 195.6,898.56 194.66,899.23 193.73,899.9 192.8,900.57 191.87,901.25 190.94,901.93 190.01,902.61 189.09,903.3 188.17,903.99 187.25,904.69 186.34,905.39 185.42,906.09 184.51,906.8 183.61,907.51 182.7,908.22 181.8,908.93 180.89,909.65 180,910.38 179.1,911.1 178.2,911.83 177.31,912.56 176.42,913.3 175.53,914.03 174.65,914.78 173.77,915.52 172.88,916.27 172.01,917.02 171.13,917.77 170.25,918.52 169.38,919.28 168.51,920.04 167.64,920.81 166.77,921.57 165.91,922.34 165.04,923.11 164.18,923.89 163.32,924.66 162.46,925.44 161.61,926.22 160.75,927 159.9,927.78 159.04,928.57 158.19,929.36 157.34,930.15 156.49,930.94 155.64,931.73 154.8,932.52 153.95,933.32 153.11,934.11 152.26,934.91 151.42,935.7 150.57,936.5 149.73,937.3 148.89,938.1 148.05,938.9 147.21,939.7 146.37,940.5 145.52,941.3 144.68,942.11 143.84,942.91 143,943.71 142.16,944.51 141.32,945.31 140.48,946.11 139.64,946.91 138.8,947.71 137.96,948.51 137.12,949.31 136.27,950.11 135.43,950.91 134.59,951.7 133.74,952.5 132.9,953.29 132.05,954.08 131.2,954.87 130.35,955.66 129.5,956.45 128.65,957.24 127.8,958.02 126.95,958.81 126.09,959.59 125.24,960.37 124.38,961.14 123.52,961.92 122.66,962.69" fill="none" stroke="#333333" stroke-width="1.45" stroke-linejoin="round" style="mix-blend-mode:darken" />
<rect x="123" y="570.3" width="528" height="393.0" fill="none" stroke="#2b2b2b" stroke-width="1.7"/>
<text transform="translate(114.5,968.1) scale(1,1.075)" font-size="16.3" text-anchor="end" font-family='"Liberation Serif", serif' font-weight="bold">0</text>
<line x1="123" y1="907.16" x2="130.5" y2="907.16" stroke="#2b2b2b" stroke-width="1.5"/>
<text transform="translate(114.5,911.96) scale(1,1.075)" font-size="16.3" text-anchor="end" font-family='"Liberation Serif", serif' font-weight="bold">20000</text>
<line x1="123" y1="851.01" x2="130.5" y2="851.01" stroke="#2b2b2b" stroke-width="1.5"/>
<text transform="translate(114.5,855.81) scale(1,1.075)" font-size="16.3" text-anchor="end" font-family='"Liberation Serif", serif' font-weight="bold">40000</text>
<line x1="123" y1="794.87" x2="130.5" y2="794.87" stroke="#2b2b2b" stroke-width="1.5"/>
<text transform="translate(114.5,799.67) scale(1,1.075)" font-size="16.3" text-anchor="end" font-family='"Liberation Serif", serif' font-weight="bold">60000</text>
<line x1="123" y1="738.73" x2="130.5" y2="738.73" stroke="#2b2b2b" stroke-width="1.5"/>
<text transform="translate(114.5,743.53) scale(1,1.075)" font-size="16.3" text-anchor="end" font-family='"Liberation Serif", serif' font-weight="bold">80000</text>
<line x1="123" y1="682.59" x2="130.5" y2="682.59" stroke="#2b2b2b" stroke-width="1.5"/>
<text transform="translate(114.5,687.39) scale(1,1.075)" font-size="16.3" text-anchor="end" font-family='"Liberation Serif", serif' font-weight="bold">100000</text>
<line x1="123" y1="626.44" x2="130.5" y2="626.44" stroke="#2b2b2b" stroke-width="1.5"/>
<text transform="translate(114.5,631.24) scale(1,1.075)" font-size="16.3" text-anchor="end" font-family='"Liberation Serif", serif' font-weight="bold">120000</text>
<text transform="translate(114.5,575.1) scale(1,1.075)" font-size="16.3" text-anchor="end" font-family='"Liberation Serif", serif' font-weight="bold">140000</text>
<text transform="translate(123,984.5) scale(1,1.075)" font-size="16.3" text-anchor="middle" font-family='"Liberation Serif", serif' font-weight="bold">0</text>
<line x1="198.43" y1="963.3" x2="198.43" y2="955.8" stroke="#2b2b2b" stroke-width="1.5"/>
<text transform="translate(198.43,984.5) scale(1,1.075)" font-size="16.3" text-anchor="middle" font-family='"Liberation Serif", serif' font-weight="bold">20000</text>
<line x1="273.86" y1="963.3" x2="273.86" y2="955.8" stroke="#2b2b2b" stroke-width="1.5"/>
<text transform="translate(273.86,984.5) scale(1,1.075)" font-size="16.3" text-anchor="middle" font-family='"Liberation Serif", serif' font-weight="bold">40000</text>
<line x1="349.29" y1="963.3" x2="349.29" y2="955.8" stroke="#2b2b2b" stroke-width="1.5"/>
<text transform="translate(349.29,984.5) scale(1,1.075)" font-size="16.3" text-anchor="middle" font-family='"Liberation Serif", serif' font-weight="bold">60000</text>
<line x1="424.71" y1="963.3" x2="424.71" y2="955.8" stroke="#2b2b2b" stroke-width="1.5"/>
<text transform="translate(424.71,984.5) scale(1,1.075)" font-size="16.3" text-anchor="middle" font-family='"Liberation Serif", serif' font-weight="bold">80000</text>
<line x1="500.14" y1="963.3" x2="500.14" y2="955.8" stroke="#2b2b2b" stroke-width="1.5"/>
<text transform="translate(500.14,984.5) scale(1,1.075)" font-size="16.3" text-anchor="middle" font-family='"Liberation Serif", serif' font-weight="bold">100000</text>
<line x1="575.57" y1="963.3" x2="575.57" y2="955.8" stroke="#2b2b2b" stroke-width="1.5"/>
<text transform="translate(575.57,984.5) scale(1,1.075)" font-size="16.3" text-anchor="middle" font-family='"Liberation Serif", serif' font-weight="bold">120000</text>
<text transform="translate(651,984.5) scale(1,1.075)" font-size="16.3" text-anchor="middle" font-family='"Liberation Serif", serif' font-weight="bold">140000</text>
<rect x="273.36" y="1134.66" width="4.88" height="4.88" fill="#000"/>
<rect x="215.66" y="1189.46" width="4.88" height="4.88" fill="#000"/>
<rect x="205.76" y="1246.66" width="4.88" height="4.88" fill="#000"/>
<rect x="193.46" y="1291.76" width="4.88" height="4.88" fill="#000"/>
<rect x="182.36" y="1331.96" width="4.88" height="4.88" fill="#000"/>
<rect x="171.56" y="1362.96" width="4.88" height="4.88" fill="#000"/>
<rect x="161.66" y="1387.46" width="4.88" height="4.88" fill="#000"/>
<rect x="153.06" y="1408.46" width="4.88" height="4.88" fill="#000"/>
<rect x="146.46" y="1425.56" width="4.88" height="4.88" fill="#000"/>
<rect x="140.86" y="1440.16" width="4.88" height="4.88" fill="#000"/>
<rect x="136.66" y="1451.86" width="4.88" height="4.88" fill="#000"/>
<rect x="133.16" y="1461.26" width="4.88" height="4.88" fill="#000"/>
<rect x="129.96" y="1469.56" width="4.88" height="4.88" fill="#000"/>
<rect x="127.26" y="1476.26" width="4.88" height="4.88" fill="#000"/>
<rect x="125.16" y="1482.56" width="4.88" height="4.88" fill="#000"/>
<rect x="123.06" y="1489.06" width="4.88" height="4.88" fill="#000"/>
<rect x="122.69" y="1491.69" width="4.88" height="4.88" fill="#000"/>
<rect x="122.37" y="1493.92" width="4.88" height="4.88" fill="#000"/>
<rect x="122.1" y="1495.81" width="4.88" height="4.88" fill="#000"/>
<rect x="121.87" y="1497.43" width="4.88" height="4.88" fill="#000"/>
<rect x="121.67" y="1498.8" width="4.88" height="4.88" fill="#000"/>
<rect x="121.5" y="1499.96" width="4.88" height="4.88" fill="#000"/>
<rect x="121.36" y="1500.95" width="4.88" height="4.88" fill="#000"/>
<rect x="121.24" y="1501.79" width="4.88" height="4.88" fill="#000"/>
<rect x="121.14" y="1502.51" width="4.88" height="4.88" fill="#000"/>
<rect x="121.05" y="1503.12" width="4.88" height="4.88" fill="#000"/>
<rect x="120.98" y="1503.63" width="4.88" height="4.88" fill="#000"/>
<rect x="120.92" y="1504.07" width="4.88" height="4.88" fill="#000"/>
<rect x="120.86" y="1504.45" width="4.88" height="4.88" fill="#000"/>
<rect x="120.82" y="1504.76" width="4.88" height="4.88" fill="#000"/>
<rect x="120.78" y="1505.03" width="4.88" height="4.88" fill="#000"/>
<rect x="120.75" y="1505.26" width="4.88" height="4.88" fill="#000"/>
<rect x="120.72" y="1505.46" width="4.88" height="4.88" fill="#000"/>
<rect x="120.7" y="1505.62" width="4.88" height="4.88" fill="#000"/>
<rect x="120.68" y="1505.76" width="4.88" height="4.88" fill="#000"/>
<rect x="120.66" y="1505.88" width="4.88" height="4.88" fill="#000"/>
<circle cx="391.8" cy="1214.3" r="2.65" fill="#f00"/>
<circle cx="340.8" cy="1251.6" r="2.65" fill="#f00"/>
<circle cx="296.9" cy="1284.7" r="2.65" fill="#f00"/>
<circle cx="260" cy="1316.7" r="2.65" fill="#f00"/>
<circle cx="230.2" cy="1344.5" r="2.65" fill="#f00"/>
<circle cx="205.8" cy="1368.8" r="2.65" fill="#f00"/>
<circle cx="187.3" cy="1391.2" r="2.65" fill="#f00"/>
<circle cx="171.7" cy="1409.9" r="2.65" fill="#f00"/>
<circle cx="160.7" cy="1426.6" r="2.65" fill="#f00"/>
<circle cx="151.3" cy="1440.8" r="2.65" fill="#f00"/>
<circle cx="145" cy="1452.5" r="2.65" fill="#f00"/>
<circle cx="139.9" cy="1462.7" r="2.65" fill="#f00"/>
<circle cx="135.9" cy="1471" r="2.65" fill="#f00"/>
<circle cx="132.9" cy="1478.1" r="2.65" fill="#f00"/>
<circle cx="130.3" cy="1485.1" r="2.65" fill="#f00"/>
<circle cx="129.21" cy="1488.68" r="2.65" fill="#f00"/>
<circle cx="128.27" cy="1491.73" r="2.65" fill="#f00"/>
<circle cx="127.48" cy="1494.32" r="2.65" fill="#f00"/>
<circle cx="126.81" cy="1496.52" r="2.65" fill="#f00"/>
<circle cx="126.24" cy="1498.4" r="2.65" fill="#f00"/>
<circle cx="125.75" cy="1499.99" r="2.65" fill="#f00"/>
<circle cx="125.34" cy="1501.34" r="2.65" fill="#f00"/>
<circle cx="124.99" cy="1502.49" r="2.65" fill="#f00"/>
<circle cx="124.69" cy="1503.46" r="2.65" fill="#f00"/>
<circle cx="124.44" cy="1504.29" r="2.65" fill="#f00"/>
<circle cx="124.22" cy="1505" r="2.65" fill="#f00"/>
<circle cx="124.04" cy="1505.6" r="2.65" fill="#f00"/>
<circle cx="123.88" cy="1506.11" r="2.65" fill="#f00"/>
<circle cx="123.75" cy="1506.54" r="2.65" fill="#f00"/>
<circle cx="123.64" cy="1506.91" r="2.65" fill="#f00"/>
<circle cx="123.54" cy="1507.23" r="2.65" fill="#f00"/>
<circle cx="123.46" cy="1507.49" r="2.65" fill="#f00"/>
<circle cx="123.39" cy="1507.72" r="2.65" fill="#f00"/>
<circle cx="123.33" cy="1507.91" r="2.65" fill="#f00"/>
<circle cx="123.28" cy="1508.07" r="2.65" fill="#f00"/>
<circle cx="123.24" cy="1508.21" r="2.65" fill="#f00"/>
<circle cx="123.2" cy="1508.33" r="2.65" fill="#f00"/>
<path d="M386.15 1190.37L392.25 1190.37L389.2 1184.88Z" fill="#00f"/>
<path d="M332.05 1233.77L338.15 1233.77L335.1 1228.28Z" fill="#00f"/>
<path d="M286.65 1272.77L292.75 1272.77L289.7 1267.28Z" fill="#00f"/>
<path d="M250.55 1308.77L256.65 1308.77L253.6 1303.28Z" fill="#00f"/>
<path d="M221.45 1338.97L227.55 1338.97L224.5 1333.48Z" fill="#00f"/>
<path d="M198.65 1365.97L204.75 1365.97L201.7 1360.48Z" fill="#00f"/>
<path d="M180.25 1389.47L186.35 1389.47L183.3 1383.98Z" fill="#00f"/>
<path d="M166.65 1409.47L172.75 1409.47L169.7 1403.98Z" fill="#00f"/>
<path d="M156.05 1426.77L162.15 1426.77L159.1 1421.28Z" fill="#00f"/>
<path d="M148.05 1441.47L154.15 1441.47L151.1 1435.98Z" fill="#00f"/>
<path d="M141.65 1453.37L147.75 1453.37L144.7 1447.88Z" fill="#00f"/>
<path d="M136.85 1463.57L142.95 1463.57L139.9 1458.08Z" fill="#00f"/>
<path d="M133.25 1472.07L139.35 1472.07L136.3 1466.58Z" fill="#00f"/>
<path d="M130.45 1478.97L136.55 1478.97L133.5 1473.48Z" fill="#00f"/>
<path d="M127.75 1485.97L133.85 1485.97L130.8 1480.48Z" fill="#00f"/>
<path d="M126.58 1489.79L132.68 1489.79L129.63 1484.31Z" fill="#00f"/>
<path d="M125.59 1493.04L131.68 1493.04L128.64 1487.56Z" fill="#00f"/>
<path d="M124.74 1495.81L130.84 1495.81L127.79 1490.32Z" fill="#00f"/>
<path d="M124.02 1498.16L130.12 1498.16L127.07 1492.67Z" fill="#00f"/>
<path d="M123.41 1500.15L129.51 1500.15L126.46 1494.67Z" fill="#00f"/>
<path d="M122.89 1501.85L128.99 1501.85L125.94 1496.37Z" fill="#00f"/>
<path d="M122.45 1503.29L128.55 1503.29L125.5 1497.81Z" fill="#00f"/>
<path d="M122.08 1504.52L128.17 1504.52L125.13 1499.03Z" fill="#00f"/>
<path d="M121.76 1505.56L127.85 1505.56L124.81 1500.08Z" fill="#00f"/>
<path d="M121.49 1506.45L127.58 1506.45L124.54 1500.96Z" fill="#00f"/>
<path d="M121.26 1507.2L127.35 1507.2L124.31 1501.72Z" fill="#00f"/>
<path d="M121.06 1507.84L127.16 1507.84L124.11 1502.36Z" fill="#00f"/>
<path d="M120.9 1508.39L126.99 1508.39L123.94 1502.9Z" fill="#00f"/>
<path d="M120.75 1508.85L126.85 1508.85L123.8 1503.36Z" fill="#00f"/>
<path d="M120.63 1509.24L126.73 1509.24L123.68 1503.76Z" fill="#00f"/>
<path d="M120.53 1509.58L126.63 1509.58L123.58 1504.09Z" fill="#00f"/>
<path d="M120.44 1509.86L126.54 1509.86L123.49 1504.37Z" fill="#00f"/>
<path d="M120.37 1510.1L126.47 1510.1L123.42 1504.61Z" fill="#00f"/>
<path d="M120.31 1510.31L126.4 1510.31L123.36 1504.82Z" fill="#00f"/>
<path d="M120.25 1510.48L126.35 1510.48L123.3 1504.99Z" fill="#00f"/>
<path d="M120.21 1510.63L126.3 1510.63L123.26 1505.14Z" fill="#00f"/>
<path d="M120.17 1510.75L126.27 1510.75L123.22 1505.27Z" fill="#00f"/>
<path d="M120.14 1510.86L126.23 1510.86L123.19 1505.38Z" fill="#00f"/>
<polyline points="271.49,1115.87 270.77,1117.4 270.06,1118.94 269.35,1120.47 268.65,1122 267.94,1123.54 267.24,1125.07 266.54,1126.61 265.84,1128.15 265.15,1129.68 264.45,1131.22 263.76,1132.76 263.07,1134.3 262.38,1135.84 261.69,1137.38 261.01,1138.92 260.32,1140.47 259.64,1142.01 258.96,1143.56 258.29,1145.1 257.61,1146.65 256.94,1148.19 256.26,1149.74 255.59,1151.29 254.92,1152.84 254.26,1154.39 253.59,1155.94 252.93,1157.49 252.26,1159.04 251.6,1160.59 250.94,1162.14 250.29,1163.7 249.63,1165.25 248.98,1166.8 248.32,1168.36 247.67,1169.91 247.02,1171.47 246.37,1173.03 245.73,1174.59 245.08,1176.14 244.44,1177.7 243.79,1179.26 243.15,1180.82 242.51,1182.38 241.87,1183.94 241.24,1185.5 240.6,1187.07 239.97,1188.63 239.33,1190.19 238.7,1191.75 238.07,1193.32 237.44,1194.88 236.81,1196.45 236.19,1198.01 235.56,1199.58 234.94,1201.15 234.31,1202.71 233.69,1204.28 233.07,1205.85 232.45,1207.42 231.83,1208.98 231.21,1210.55 230.59,1212.12 229.98,1213.69 229.36,1215.26 228.75,1216.83 228.14,1218.4 227.52,1219.98 226.91,1221.55 226.3,1223.12 225.69,1224.69 225.09,1226.27 224.48,1227.84 223.87,1229.41 223.27,1230.99 222.66,1232.56 222.06,1234.14 221.45,1235.71 220.85,1237.29 220.25,1238.86 219.65,1240.44 219.05,1242.01 218.45,1243.59 217.85,1245.17 217.25,1246.75 216.65,1248.32 216.06,1249.9 215.46,1251.48 214.86,1253.06 214.27,1254.63 213.67,1256.21 213.08,1257.79 212.49,1259.37 211.89,1260.95 211.3,1262.53 210.71,1264.11 210.12,1265.69 209.53,1267.27 208.94,1268.85 208.34,1270.43 207.75,1272.01 207.17,1273.59 206.58,1275.17 205.99,1276.75 205.4,1278.33 204.81,1279.91 204.22,1281.5 203.63,1283.08 203.05,1284.66 202.46,1286.24 201.87,1287.82 201.29,1289.4 200.7,1290.99 200.11,1292.57 199.53,1294.15 198.94,1295.73 198.36,1297.31 197.77,1298.9 197.18,1300.48 196.6,1302.06 196.01,1303.64 195.43,1305.23 194.84,1306.81 194.26,1308.39 193.67,1309.97 193.08,1311.56 192.5,1313.14 191.91,1314.72 191.33,1316.3 190.74,1317.88 190.15,1319.47 189.57,1321.05 188.98,1322.63 188.4,1324.21 187.81,1325.79 187.22,1327.38 186.63,1328.96 186.05,1330.54 185.46,1332.12 184.87,1333.7 184.28,1335.28 183.69,1336.87 183.11,1338.45 182.52,1340.03 181.93,1341.61 181.34,1343.19 180.75,1344.77 180.15,1346.35 179.56,1347.93 178.97,1349.51 178.38,1351.09 177.79,1352.67 177.19,1354.25 176.6,1355.83 176.01,1357.41 175.41,1358.99 174.82,1360.57 174.22,1362.14 173.62,1363.72 173.03,1365.3 172.43,1366.88 171.83,1368.46 171.23,1370.03 170.63,1371.61 170.03,1373.19 169.43,1374.76 168.83,1376.34 168.23,1377.92 167.63,1379.49 167.03,1381.07 166.43,1382.64 165.82,1384.22 165.22,1385.8 164.62,1387.37 164.02,1388.95 163.42,1390.53 162.82,1392.1 162.22,1393.68 161.61,1395.25 161.01,1396.83 160.41,1398.41 159.81,1399.98 159.21,1401.56 158.61,1403.14 158.02,1404.71 157.42,1406.29 156.82,1407.87 156.22,1409.45 155.63,1411.02 155.03,1412.6 154.44,1414.18 153.84,1415.76 153.25,1417.34 152.66,1418.92 152.07,1420.49 151.48,1422.07 150.89,1423.65 150.3,1425.24 149.71,1426.82 149.12,1428.4 148.54,1429.98 147.96,1431.56 147.37,1433.14 146.79,1434.73 146.21,1436.31 145.64,1437.89 145.06,1439.48 144.48,1441.06 143.91,1442.65 143.34,1444.23 142.77,1445.82 142.2,1447.41 141.63,1449 141.07,1450.59 140.5,1452.17 139.94,1453.76 139.38,1455.35 138.83,1456.95 138.27,1458.54 137.72,1460.13 137.17,1461.72 136.62,1463.32 136.07,1464.91 135.53,1466.51 134.98,1468.11 134.44,1469.7 133.91,1471.3 133.37,1472.9 132.84,1474.5 132.31,1476.1 131.78,1477.7 131.26,1479.31 130.74,1480.91 130.22,1482.51 129.7,1484.12 129.19,1485.73 128.67,1487.33 128.17,1488.94 127.66,1490.55 127.16,1492.16 126.66,1493.77 126.16,1495.39 125.67,1497 125.18,1498.62 124.69,1500.23 124.21,1501.85 123.73,1503.47 123.25,1505.09 122.78,1506.71 122.31,1508.33" fill="none" stroke="#333333" stroke-width="1.45" stroke-linejoin="round" style="mix-blend-mode:darken" />
<polyline points="391.94,1227.32 390.36,1227.74 388.79,1228.16 387.21,1228.59 385.65,1229.04 384.08,1229.49 382.52,1229.95 380.97,1230.42 379.42,1230.91 377.87,1231.4 376.32,1231.9 374.78,1232.41 373.25,1232.93 371.71,1233.46 370.19,1233.99 368.66,1234.54 367.14,1235.1 365.62,1235.66 364.11,1236.24 362.6,1236.82 361.09,1237.41 359.59,1238.02 358.1,1238.63 356.6,1239.25 355.11,1239.87 353.63,1240.51 352.15,1241.15 350.67,1241.81 349.2,1242.47 347.73,1243.14 346.27,1243.82 344.81,1244.51 343.35,1245.21 341.9,1245.91 340.45,1246.62 339.01,1247.35 337.57,1248.08 336.14,1248.81 334.71,1249.56 333.28,1250.31 331.86,1251.07 330.45,1251.84 329.03,1252.62 327.62,1253.41 326.22,1254.2 324.82,1255 323.43,1255.81 322.04,1256.63 320.65,1257.45 319.27,1258.28 317.9,1259.12 316.52,1259.97 315.16,1260.82 313.79,1261.68 312.44,1262.55 311.08,1263.43 309.73,1264.31 308.39,1265.2 307.05,1266.1 305.72,1267.01 304.39,1267.92 303.06,1268.84 301.74,1269.76 300.43,1270.69 299.11,1271.63 297.81,1272.58 296.51,1273.53 295.21,1274.49 293.92,1275.46 292.63,1276.43 291.35,1277.41 290.08,1278.4 288.81,1279.39 287.54,1280.39 286.28,1281.39 285.02,1282.4 283.77,1283.42 282.52,1284.45 281.28,1285.48 280.05,1286.51 278.81,1287.55 277.59,1288.6 276.37,1289.66 275.15,1290.72 273.94,1291.78 272.74,1292.86 271.54,1293.93 270.34,1295.02 269.15,1296.11 267.97,1297.2 266.79,1298.3 265.62,1299.41 264.45,1300.52 263.28,1301.63 262.13,1302.76 260.97,1303.88 259.83,1305.02 258.69,1306.15 257.55,1307.3 256.42,1308.45 255.29,1309.6 254.17,1310.76 253.05,1311.92 251.94,1313.09 250.84,1314.26 249.73,1315.43 248.63,1316.61 247.54,1317.8 246.45,1318.99 245.37,1320.18 244.28,1321.37 243.21,1322.58 242.13,1323.78 241.06,1324.99 240,1326.2 238.94,1327.41 237.88,1328.63 236.82,1329.85 235.77,1331.07 234.72,1332.3 233.67,1333.53 232.63,1334.76 231.59,1336 230.55,1337.24 229.52,1338.48 228.49,1339.72 227.46,1340.97 226.43,1342.21 225.41,1343.46 224.38,1344.72 223.36,1345.97 222.35,1347.23 221.33,1348.48 220.32,1349.74 219.3,1351 218.29,1352.26 217.28,1353.53 216.28,1354.79 215.27,1356.06 214.26,1357.32 213.26,1358.59 212.26,1359.86 211.26,1361.13 210.25,1362.4 209.25,1363.67 208.26,1364.94 207.26,1366.21 206.26,1367.48 205.26,1368.75 204.26,1370.02 203.27,1371.3 202.27,1372.57 201.28,1373.84 200.28,1375.11 199.29,1376.39 198.3,1377.66 197.31,1378.94 196.32,1380.21 195.33,1381.49 194.35,1382.77 193.37,1384.05 192.39,1385.33 191.41,1386.61 190.43,1387.89 189.46,1389.18 188.49,1390.46 187.52,1391.75 186.56,1393.04 185.6,1394.34 184.64,1395.63 183.69,1396.93 182.74,1398.23 181.8,1399.53 180.86,1400.83 179.92,1402.14 178.99,1403.45 178.06,1404.76 177.14,1406.08 176.22,1407.4 175.31,1408.72 174.4,1410.04 173.5,1411.37 172.6,1412.71 171.71,1414.04 170.83,1415.38 169.95,1416.72 169.08,1418.07 168.21,1419.42 167.35,1420.78 166.5,1422.14 165.65,1423.5 164.81,1424.87 163.98,1426.24 163.16,1427.62 162.34,1429 161.53,1430.39 160.73,1431.78 159.94,1433.18 159.15,1434.58 158.37,1435.99 157.6,1437.4 156.84,1438.82 156.09,1440.24 155.35,1441.67 154.62,1443.11 153.89,1444.55 153.17,1446 152.46,1447.45 151.76,1448.9 151.06,1450.36 150.37,1451.82 149.68,1453.29 149,1454.76 148.32,1456.23 147.65,1457.7 146.98,1459.18 146.31,1460.66 145.65,1462.14 144.99,1463.62 144.32,1465.1 143.66,1466.58 143,1468.07 142.35,1469.55 141.69,1471.03 141.02,1472.52 140.36,1474 139.7,1475.48 139.03,1476.96 138.36,1478.43 137.69,1479.91 137.01,1481.38 136.33,1482.85 135.65,1484.32 134.95,1485.78 134.26,1487.24 133.55,1488.7 132.85,1490.15 132.13,1491.59 131.4,1493.04 130.67,1494.47 129.93,1495.9 129.18,1497.33 128.42,1498.75 127.65,1500.16 126.86,1501.57 126.07,1502.97 125.27,1504.36 124.45,1505.74 123.62,1507.12 122.78,1508.49" fill="none" stroke="#333333" stroke-width="1.45" stroke-linejoin="round" style="mix-blend-mode:darken" />
<polyline points="389.13,1200.6 387.47,1201.11 385.82,1201.63 384.17,1202.17 382.53,1202.71 380.9,1203.27 379.27,1203.84 377.66,1204.42 376.05,1205.01 374.45,1205.62 372.85,1206.23 371.27,1206.86 369.69,1207.49 368.12,1208.14 366.55,1208.8 364.99,1209.46 363.44,1210.14 361.9,1210.83 360.37,1211.53 358.84,1212.24 357.31,1212.96 355.8,1213.69 354.29,1214.43 352.79,1215.18 351.3,1215.94 349.81,1216.71 348.33,1217.49 346.85,1218.28 345.39,1219.08 343.93,1219.89 342.47,1220.71 341.02,1221.53 339.58,1222.37 338.15,1223.22 336.72,1224.07 335.3,1224.94 333.88,1225.81 332.47,1226.69 331.07,1227.58 329.67,1228.48 328.28,1229.39 326.9,1230.31 325.52,1231.23 324.15,1232.17 322.78,1233.11 321.42,1234.06 320.07,1235.02 318.72,1235.98 317.38,1236.96 316.04,1237.94 314.71,1238.93 313.38,1239.93 312.06,1240.93 310.75,1241.95 309.44,1242.97 308.14,1244 306.84,1245.03 305.55,1246.07 304.26,1247.12 302.98,1248.18 301.7,1249.25 300.43,1250.32 299.16,1251.4 297.9,1252.48 296.65,1253.57 295.4,1254.67 294.15,1255.78 292.91,1256.89 291.68,1258 290.45,1259.13 289.22,1260.26 288,1261.4 286.78,1262.54 285.57,1263.69 284.37,1264.84 283.17,1266 281.97,1267.17 280.78,1268.34 279.59,1269.52 278.4,1270.7 277.23,1271.89 276.05,1273.08 274.88,1274.28 273.71,1275.49 272.55,1276.7 271.4,1277.91 270.24,1279.13 269.09,1280.36 267.95,1281.58 266.81,1282.82 265.67,1284.06 264.54,1285.3 263.41,1286.55 262.28,1287.8 261.16,1289.06 260.05,1290.32 258.93,1291.58 257.82,1292.85 256.72,1294.12 255.62,1295.4 254.52,1296.68 253.42,1297.97 252.33,1299.26 251.24,1300.55 250.16,1301.84 249.07,1303.14 248,1304.44 246.92,1305.75 245.85,1307.06 244.78,1308.37 243.72,1309.69 242.66,1311 241.6,1312.32 240.54,1313.65 239.49,1314.97 238.44,1316.3 237.39,1317.64 236.35,1318.97 235.31,1320.31 234.27,1321.65 233.23,1322.99 232.2,1324.33 231.17,1325.68 230.14,1327.02 229.12,1328.37 228.09,1329.72 227.07,1331.08 226.06,1332.43 225.04,1333.79 224.03,1335.15 223.02,1336.5 222.01,1337.87 221,1339.23 220,1340.59 219,1341.96 218,1343.32 217,1344.69 216.01,1346.05 215.01,1347.42 214.02,1348.79 213.03,1350.16 212.05,1351.53 211.06,1352.9 210.08,1354.27 209.09,1355.65 208.11,1357.02 207.13,1358.39 206.16,1359.76 205.18,1361.13 204.21,1362.5 203.23,1363.88 202.26,1365.25 201.29,1366.62 200.32,1367.99 199.36,1369.36 198.39,1370.73 197.43,1372.1 196.47,1373.47 195.51,1374.85 194.55,1376.22 193.59,1377.59 192.64,1378.96 191.69,1380.33 190.74,1381.71 189.79,1383.08 188.85,1384.46 187.91,1385.83 186.97,1387.21 186.03,1388.59 185.1,1389.97 184.17,1391.35 183.24,1392.74 182.32,1394.12 181.4,1395.51 180.48,1396.9 179.57,1398.29 178.66,1399.68 177.75,1401.08 176.85,1402.47 175.95,1403.87 175.06,1405.27 174.17,1406.68 173.28,1408.09 172.4,1409.5 171.52,1410.91 170.65,1412.33 169.78,1413.74 168.92,1415.17 168.06,1416.59 167.21,1418.02 166.36,1419.45 165.52,1420.89 164.68,1422.33 163.84,1423.77 163.02,1425.22 162.19,1426.67 161.38,1428.13 160.56,1429.59 159.76,1431.05 158.96,1432.52 158.17,1433.99 157.38,1435.47 156.6,1436.95 155.82,1438.44 155.05,1439.93 154.29,1441.43 153.53,1442.93 152.78,1444.44 152.03,1445.95 151.29,1447.47 150.56,1448.98 149.83,1450.51 149.1,1452.03 148.38,1453.56 147.66,1455.09 146.95,1456.63 146.24,1458.16 145.53,1459.7 144.82,1461.24 144.12,1462.78 143.42,1464.32 142.72,1465.87 142.03,1467.41 141.33,1468.96 140.64,1470.5 139.94,1472.05 139.25,1473.6 138.56,1475.14 137.86,1476.68 137.17,1478.23 136.48,1479.77 135.78,1481.31 135.09,1482.85 134.39,1484.39 133.69,1485.92 132.99,1487.46 132.29,1488.99 131.59,1490.51 130.88,1492.04 130.17,1493.56 129.45,1495.07 128.74,1496.59 128.02,1498.1 127.29,1499.6 126.56,1501.1 125.83,1502.6 125.09,1504.09 124.34,1505.57 123.59,1507.05 122.84,1508.52" fill="none" stroke="#333333" stroke-width="1.45" stroke-linejoin="round" style="mix-blend-mode:darken" />
<rect x="123" y="1116" width="528" height="393.0" fill="none" stroke="#2b2b2b" stroke-width="1.7"/>
<text transform="translate(114.5,1513.8) scale(1,1.075)" font-size="16.3" text-anchor="end" font-family='"Liberation Serif", serif' font-weight="bold">0</text>
<line x1="123" y1="1469.7" x2="130.5" y2="1469.7" stroke="#2b2b2b" stroke-width="1.5"/>
<text transform="translate(114.5,1474.5) scale(1,1.075)" font-size="16.3" text-anchor="end" font-family='"Liberation Serif", serif' font-weight="bold">20000</text>
<line x1="123" y1="1430.4" x2="130.5" y2="1430.4" stroke="#2b2b2b" stroke-width="1.5"/>
<text transform="translate(114.5,1435.2) scale(1,1.075)" font-size="16.3" text-anchor="end" font-family='"Liberation Serif", serif' font-weight="bold">40000</text>
<line x1="123" y1="1391.1" x2="130.5" y2="1391.1" stroke="#2b2b2b" stroke-width="1.5"/>
<text transform="translate(114.5,1395.9) scale(1,1.075)" font-size="16.3" text-anchor="end" font-family='"Liberation Serif", serif' font-weight="bold">60000</text>
<line x1="123" y1="1351.8" x2="130.5" y2="1351.8" stroke="#2b2b2b" stroke-width="1.5"/>
<text transform="translate(114.5,1356.6) scale(1,1.075)" font-size="16.3" text-anchor="end" font-family='"Liberation Serif", serif' font-weight="bold">80000</text>
<line x1="123" y1="1312.5" x2="130.5" y2="1312.5" stroke="#2b2b2b" stroke-width="1.5"/>
<text transform="translate(114.5,1317.3) scale(1,1.075)" font-size="16.3" text-anchor="end" font-family='"Liberation Serif", serif' font-weight="bold">100000</text>
<line x1="123" y1="1273.2" x2="130.5" y2="1273.2" stroke="#2b2b2b" stroke-width="1.5"/>
<text transform="translate(114.5,1278) scale(1,1.075)" font-size="16.3" text-anchor="end" font-family='"Liberation Serif", serif' font-weight="bold">120000</text>
<line x1="123" y1="1233.9" x2="130.5" y2="1233.9" stroke="#2b2b2b" stroke-width="1.5"/>
<text transform="translate(114.5,1238.7) scale(1,1.075)" font-size="16.3" text-anchor="end" font-family='"Liberation Serif", serif' font-weight="bold">140000</text>
<line x1="123" y1="1194.6" x2="130.5" y2="1194.6" stroke="#2b2b2b" stroke-width="1.5"/>
<text transform="translate(114.5,1199.4) scale(1,1.075)" font-size="16.3" text-anchor="end" font-family='"Liberation Serif", serif' font-weight="bold">160000</text>
<line x1="123" y1="1155.3" x2="130.5" y2="1155.3" stroke="#2b2b2b" stroke-width="1.5"/>
<text transform="translate(114.5,1160.1) scale(1,1.075)" font-size="16.3" text-anchor="end" font-family='"Liberation Serif", serif' font-weight="bold">180000</text>
<text transform="translate(114.5,1120.8) scale(1,1.075)" font-size="16.3" text-anchor="end" font-family='"Liberation Serif", serif' font-weight="bold">200000</text>
<text transform="translate(123,1530.2) scale(1,1.075)" font-size="16.3" text-anchor="middle" font-family='"Liberation Serif", serif' font-weight="bold">0</text>
<line x1="228.6" y1="1509" x2="228.6" y2="1501.5" stroke="#2b2b2b" stroke-width="1.5"/>
<text transform="translate(228.6,1530.2) scale(1,1.075)" font-size="16.3" text-anchor="middle" font-family='"Liberation Serif", serif' font-weight="bold">40000</text>
<line x1="334.2" y1="1509" x2="334.2" y2="1501.5" stroke="#2b2b2b" stroke-width="1.5"/>
<text transform="translate(334.2,1530.2) scale(1,1.075)" font-size="16.3" text-anchor="middle" font-family='"Liberation Serif", serif' font-weight="bold">80000</text>
<line x1="439.8" y1="1509" x2="439.8" y2="1501.5" stroke="#2b2b2b" stroke-width="1.5"/>
<text transform="translate(439.8,1530.2) scale(1,1.075)" font-size="16.3" text-anchor="middle" font-family='"Liberation Serif", serif' font-weight="bold">120000</text>
<line x1="545.4" y1="1509" x2="545.4" y2="1501.5" stroke="#2b2b2b" stroke-width="1.5"/>
<text transform="translate(545.4,1530.2) scale(1,1.075)" font-size="16.3" text-anchor="middle" font-family='"Liberation Serif", serif' font-weight="bold">160000</text>
<text transform="translate(651,1530.2) scale(1,1.075)" font-size="16.3" text-anchor="middle" font-family='"Liberation Serif", serif' font-weight="bold">200000</text>
<rect x="293.56" y="1733.46" width="4.88" height="4.88" fill="#000"/>
<rect x="261.66" y="1776.76" width="4.88" height="4.88" fill="#000"/>
<rect x="234.76" y="1815.16" width="4.88" height="4.88" fill="#000"/>
<rect x="213.66" y="1850.66" width="4.88" height="4.88" fill="#000"/>
<rect x="194.66" y="1879.36" width="4.88" height="4.88" fill="#000"/>
<rect x="181.06" y="1904.06" width="4.88" height="4.88" fill="#000"/>
<rect x="169.06" y="1925.36" width="4.88" height="4.88" fill="#000"/>
<rect x="160.26" y="1942.06" width="4.88" height="4.88" fill="#000"/>
<rect x="152.56" y="1957.06" width="4.88" height="4.88" fill="#000"/>
<rect x="146.06" y="1969.06" width="4.88" height="4.88" fill="#000"/>
<rect x="141.06" y="1979.06" width="4.88" height="4.88" fill="#000"/>
<rect x="136.56" y="1987.06" width="4.88" height="4.88" fill="#000"/>
<rect x="133.06" y="1994.06" width="4.88" height="4.88" fill="#000"/>
<rect x="130.06" y="2000.06" width="4.88" height="4.88" fill="#000"/>
<rect x="128.64" y="2004.68" width="4.88" height="4.88" fill="#000"/>
<rect x="127.43" y="2008.61" width="4.88" height="4.88" fill="#000"/>
<rect x="126.4" y="2011.95" width="4.88" height="4.88" fill="#000"/>
<rect x="125.52" y="2014.78" width="4.88" height="4.88" fill="#000"/>
<rect x="124.78" y="2017.2" width="4.88" height="4.88" fill="#000"/>
<rect x="124.14" y="2019.25" width="4.88" height="4.88" fill="#000"/>
<rect x="123.61" y="2020.99" width="4.88" height="4.88" fill="#000"/>
<rect x="123.15" y="2022.47" width="4.88" height="4.88" fill="#000"/>
<rect x="122.76" y="2023.73" width="4.88" height="4.88" fill="#000"/>
<rect x="122.43" y="2024.8" width="4.88" height="4.88" fill="#000"/>
<rect x="122.15" y="2025.71" width="4.88" height="4.88" fill="#000"/>
<rect x="121.91" y="2026.48" width="4.88" height="4.88" fill="#000"/>
<rect x="121.71" y="2027.14" width="4.88" height="4.88" fill="#000"/>
<rect x="121.54" y="2027.7" width="4.88" height="4.88" fill="#000"/>
<rect x="121.39" y="2028.17" width="4.88" height="4.88" fill="#000"/>
<rect x="121.27" y="2028.58" width="4.88" height="4.88" fill="#000"/>
<rect x="121.16" y="2028.92" width="4.88" height="4.88" fill="#000"/>
<rect x="121.07" y="2029.21" width="4.88" height="4.88" fill="#000"/>
<rect x="121" y="2029.46" width="4.88" height="4.88" fill="#000"/>
<rect x="120.93" y="2029.67" width="4.88" height="4.88" fill="#000"/>
<rect x="120.87" y="2029.85" width="4.88" height="4.88" fill="#000"/>
<rect x="120.83" y="2030" width="4.88" height="4.88" fill="#000"/>
<rect x="120.79" y="2030.13" width="4.88" height="4.88" fill="#000"/>
<rect x="120.75" y="2030.24" width="4.88" height="4.88" fill="#000"/>
<circle cx="448" cy="1760.1" r="2.65" fill="#f00"/>
<circle cx="390.7" cy="1788.5" r="2.65" fill="#f00"/>
<circle cx="340.8" cy="1815.8" r="2.65" fill="#f00"/>
<circle cx="297.9" cy="1840.8" r="2.65" fill="#f00"/>
<circle cx="260.9" cy="1864.7" r="2.65" fill="#f00"/>
<circle cx="231.1" cy="1887.1" r="2.65" fill="#f00"/>
<circle cx="206.8" cy="1907.8" r="2.65" fill="#f00"/>
<circle cx="187.7" cy="1926.3" r="2.65" fill="#f00"/>
<circle cx="172.5" cy="1942.8" r="2.65" fill="#f00"/>
<circle cx="161" cy="1957.5" r="2.65" fill="#f00"/>
<circle cx="152.5" cy="1969.8" r="2.65" fill="#f00"/>
<circle cx="146" cy="1980.5" r="2.65" fill="#f00"/>
<circle cx="140.8" cy="1989.5" r="2.65" fill="#f00"/>
<circle cx="137" cy="1997.5" r="2.65" fill="#f00"/>
<circle cx="133.5" cy="2004.5" r="2.65" fill="#f00"/>
<circle cx="131.93" cy="2008.82" r="2.65" fill="#f00"/>
<circle cx="130.59" cy="2012.49" r="2.65" fill="#f00"/>
<circle cx="129.45" cy="2015.61" r="2.65" fill="#f00"/>
<circle cx="128.48" cy="2018.27" r="2.65" fill="#f00"/>
<circle cx="127.66" cy="2020.52" r="2.65" fill="#f00"/>
<circle cx="126.96" cy="2022.44" r="2.65" fill="#f00"/>
<circle cx="126.37" cy="2024.07" r="2.65" fill="#f00"/>
<circle cx="125.86" cy="2025.45" r="2.65" fill="#f00"/>
<circle cx="125.43" cy="2026.63" r="2.65" fill="#f00"/>
<circle cx="125.07" cy="2027.63" r="2.65" fill="#f00"/>
<circle cx="124.76" cy="2028.48" r="2.65" fill="#f00"/>
<circle cx="124.49" cy="2029.2" r="2.65" fill="#f00"/>
<circle cx="124.27" cy="2029.82" r="2.65" fill="#f00"/>
<circle cx="124.08" cy="2030.34" r="2.65" fill="#f00"/>
<circle cx="123.92" cy="2030.78" r="2.65" fill="#f00"/>
<circle cx="123.78" cy="2031.16" r="2.65" fill="#f00"/>
<circle cx="123.66" cy="2031.48" r="2.65" fill="#f00"/>
<circle cx="123.56" cy="2031.75" r="2.65" fill="#f00"/>
<circle cx="123.48" cy="2031.99" r="2.65" fill="#f00"/>
<circle cx="123.41" cy="2032.18" r="2.65" fill="#f00"/>
<circle cx="123.35" cy="2032.35" r="2.65" fill="#f00"/>
<circle cx="123.29" cy="2032.49" r="2.65" fill="#f00"/>
<circle cx="123.25" cy="2032.61" r="2.65" fill="#f00"/>
<path d="M427.75 1674.87L433.85 1674.87L430.8 1669.38Z" fill="#00f"/>
<path d="M363.95 1724.87L370.05 1724.87L367 1719.38Z" fill="#00f"/>
<path d="M311.05 1768.57L317.15 1768.57L314.1 1763.08Z" fill="#00f"/>
<path d="M268.75 1810.17L274.85 1810.17L271.8 1804.68Z" fill="#00f"/>
<path d="M235.15 1843.77L241.25 1843.77L238.2 1838.28Z" fill="#00f"/>
<path d="M208.95 1874.57L215.05 1874.57L212 1869.08Z" fill="#00f"/>
<path d="M188.95 1901.47L195.05 1901.47L192 1895.98Z" fill="#00f"/>
<path d="M173.45 1923.97L179.55 1923.97L176.5 1918.48Z" fill="#00f"/>
<path d="M160.95 1942.47L167.05 1942.47L164 1936.98Z" fill="#00f"/>
<path d="M151.95 1958.47L158.05 1958.47L155 1952.98Z" fill="#00f"/>
<path d="M144.95 1971.97L151.05 1971.97L148 1966.48Z" fill="#00f"/>
<path d="M139.45 1982.97L145.55 1982.97L142.5 1977.48Z" fill="#00f"/>
<path d="M135.45 1991.97L141.55 1991.97L138.5 1986.48Z" fill="#00f"/>
<path d="M131.95 1999.47L138.05 1999.47L135 1993.98Z" fill="#00f"/>
<path d="M128.95 2005.97L135.05 2005.97L132 2000.48Z" fill="#00f"/>
<path d="M126.45 2011.47L132.55 2011.47L129.5 2005.98Z" fill="#00f"/>
<path d="M125.48 2015.11L131.57 2015.11L128.53 2009.63Z" fill="#00f"/>
<path d="M124.65 2018.21L130.74 2018.21L127.7 2012.73Z" fill="#00f"/>
<path d="M123.94 2020.85L130.04 2020.85L126.99 2015.36Z" fill="#00f"/>
<path d="M123.35 2023.08L129.44 2023.08L126.39 2017.6Z" fill="#00f"/>
<path d="M122.84 2024.99L128.93 2024.99L125.88 2019.5Z" fill="#00f"/>
<path d="M122.4 2026.6L128.5 2026.6L125.45 2021.12Z" fill="#00f"/>
<path d="M122.04 2027.98L128.13 2027.98L125.08 2022.49Z" fill="#00f"/>
<path d="M121.72 2029.15L127.82 2029.15L124.77 2023.66Z" fill="#00f"/>
<path d="M121.46 2030.14L127.55 2030.14L124.51 2024.65Z" fill="#00f"/>
<path d="M121.23 2030.98L127.33 2030.98L124.28 2025.5Z" fill="#00f"/>
<path d="M121.04 2031.7L127.14 2031.7L124.09 2026.22Z" fill="#00f"/>
<path d="M120.88 2032.31L126.97 2032.31L123.92 2026.83Z" fill="#00f"/>
<path d="M120.74 2032.83L126.83 2032.83L123.79 2027.34Z" fill="#00f"/>
<path d="M120.62 2033.27L126.72 2033.27L123.67 2027.79Z" fill="#00f"/>
<path d="M120.52 2033.65L126.62 2033.65L123.57 2028.16Z" fill="#00f"/>
<path d="M120.44 2033.96L126.53 2033.96L123.48 2028.48Z" fill="#00f"/>
<path d="M120.36 2034.23L126.46 2034.23L123.41 2028.75Z" fill="#00f"/>
<path d="M120.3 2034.46L126.4 2034.46L123.35 2028.98Z" fill="#00f"/>
<path d="M120.25 2034.66L126.34 2034.66L123.3 2029.17Z" fill="#00f"/>
<path d="M120.2 2034.83L126.3 2034.83L123.25 2029.34Z" fill="#00f"/>
<path d="M120.17 2034.97L126.26 2034.97L123.21 2029.48Z" fill="#00f"/>
<path d="M120.13 2035.09L126.23 2035.09L123.18 2029.6Z" fill="#00f"/>
<polyline points="295.51,1739.68 294.64,1740.73 293.77,1741.78 292.9,1742.84 292.03,1743.89 291.16,1744.95 290.3,1746.01 289.43,1747.07 288.57,1748.14 287.71,1749.2 286.85,1750.26 286,1751.33 285.14,1752.4 284.28,1753.47 283.43,1754.54 282.58,1755.61 281.73,1756.68 280.88,1757.75 280.04,1758.83 279.19,1759.91 278.35,1760.98 277.5,1762.06 276.66,1763.14 275.83,1764.22 274.99,1765.31 274.15,1766.39 273.32,1767.48 272.48,1768.56 271.65,1769.65 270.82,1770.74 269.99,1771.83 269.17,1772.92 268.34,1774.01 267.52,1775.11 266.7,1776.2 265.88,1777.3 265.06,1778.4 264.24,1779.5 263.42,1780.6 262.61,1781.7 261.79,1782.8 260.98,1783.9 260.17,1785.01 259.36,1786.11 258.55,1787.22 257.75,1788.33 256.94,1789.44 256.14,1790.55 255.34,1791.66 254.54,1792.77 253.74,1793.88 252.94,1795 252.15,1796.11 251.35,1797.23 250.56,1798.35 249.77,1799.47 248.98,1800.59 248.19,1801.71 247.4,1802.83 246.62,1803.96 245.83,1805.08 245.05,1806.21 244.27,1807.33 243.49,1808.46 242.71,1809.59 241.93,1810.72 241.16,1811.85 240.38,1812.98 239.61,1814.12 238.84,1815.25 238.07,1816.39 237.3,1817.52 236.53,1818.66 235.77,1819.8 235,1820.94 234.24,1822.08 233.48,1823.22 232.72,1824.36 231.96,1825.5 231.2,1826.65 230.44,1827.79 229.69,1828.94 228.94,1830.08 228.18,1831.23 227.43,1832.38 226.68,1833.53 225.94,1834.68 225.19,1835.83 224.44,1836.99 223.7,1838.14 222.96,1839.29 222.22,1840.45 221.48,1841.61 220.74,1842.76 220,1843.92 219.26,1845.08 218.53,1846.24 217.8,1847.4 217.06,1848.56 216.33,1849.73 215.6,1850.89 214.88,1852.05 214.15,1853.22 213.42,1854.39 212.7,1855.55 211.98,1856.72 211.26,1857.89 210.54,1859.06 209.82,1860.23 209.1,1861.4 208.38,1862.57 207.67,1863.75 206.96,1864.92 206.24,1866.09 205.53,1867.27 204.82,1868.45 204.11,1869.62 203.41,1870.8 202.7,1871.98 202,1873.16 201.29,1874.34 200.59,1875.52 199.89,1876.7 199.19,1877.88 198.49,1879.07 197.79,1880.25 197.1,1881.43 196.4,1882.62 195.71,1883.81 195.02,1884.99 194.33,1886.18 193.64,1887.37 192.95,1888.56 192.26,1889.75 191.58,1890.94 190.89,1892.13 190.21,1893.32 189.53,1894.51 188.85,1895.71 188.17,1896.9 187.49,1898.09 186.81,1899.29 186.13,1900.49 185.46,1901.68 184.79,1902.88 184.11,1904.08 183.44,1905.28 182.77,1906.47 182.1,1907.67 181.43,1908.88 180.77,1910.08 180.1,1911.28 179.44,1912.48 178.78,1913.68 178.11,1914.89 177.45,1916.09 176.79,1917.3 176.13,1918.5 175.48,1919.71 174.82,1920.91 174.17,1922.12 173.51,1923.33 172.86,1924.54 172.21,1925.75 171.56,1926.95 170.91,1928.16 170.26,1929.37 169.62,1930.59 168.97,1931.8 168.32,1933.01 167.68,1934.22 167.04,1935.44 166.4,1936.65 165.76,1937.86 165.12,1939.08 164.48,1940.29 163.84,1941.51 163.21,1942.72 162.57,1943.94 161.94,1945.16 161.31,1946.38 160.68,1947.59 160.05,1948.81 159.42,1950.03 158.79,1951.25 158.17,1952.47 157.54,1953.69 156.92,1954.91 156.3,1956.14 155.67,1957.36 155.05,1958.58 154.44,1959.81 153.82,1961.03 153.2,1962.25 152.59,1963.48 151.98,1964.71 151.37,1965.93 150.76,1967.16 150.15,1968.39 149.54,1969.62 148.94,1970.85 148.34,1972.08 147.74,1973.31 147.14,1974.54 146.54,1975.77 145.94,1977.01 145.35,1978.24 144.76,1979.47 144.16,1980.71 143.58,1981.95 142.99,1983.18 142.4,1984.42 141.82,1985.66 141.24,1986.9 140.66,1988.14 140.08,1989.38 139.51,1990.62 138.93,1991.87 138.36,1993.11 137.79,1994.35 137.23,1995.6 136.66,1996.85 136.1,1998.09 135.54,1999.34 134.98,2000.59 134.42,2001.84 133.87,2003.09 133.32,2004.34 132.77,2005.6 132.22,2006.85 131.68,2008.11 131.14,2009.36 130.6,2010.62 130.06,2011.88 129.52,2013.14 128.99,2014.4 128.46,2015.66 127.93,2016.92 127.41,2018.18 126.89,2019.45 126.37,2020.71 125.85,2021.98 125.34,2023.25 124.82,2024.51 124.32,2025.78 123.81,2027.06 123.31,2028.33 122.8,2029.6 122.31,2030.88 121.81,2032.15" fill="none" stroke="#333333" stroke-width="1.45" stroke-linejoin="round" style="mix-blend-mode:darken" />
<polyline points="448.78,1775.96 446.96,1775.72 445.14,1775.5 443.32,1775.31 441.51,1775.13 439.7,1774.98 437.9,1774.85 436.09,1774.74 434.3,1774.65 432.5,1774.58 430.71,1774.53 428.93,1774.5 427.14,1774.49 425.37,1774.5 423.59,1774.53 421.82,1774.58 420.05,1774.65 418.29,1774.74 416.53,1774.85 414.78,1774.97 413.03,1775.12 411.28,1775.28 409.54,1775.47 407.8,1775.67 406.07,1775.89 404.34,1776.12 402.61,1776.38 400.89,1776.65 399.18,1776.94 397.46,1777.25 395.76,1777.57 394.05,1777.91 392.35,1778.27 390.66,1778.64 388.97,1779.03 387.28,1779.44 385.6,1779.86 383.93,1780.3 382.26,1780.75 380.59,1781.22 378.93,1781.71 377.27,1782.21 375.62,1782.72 373.97,1783.25 372.33,1783.8 370.69,1784.36 369.06,1784.93 367.43,1785.52 365.8,1786.12 364.19,1786.74 362.57,1787.37 360.96,1788.01 359.36,1788.67 357.76,1789.33 356.17,1790.02 354.58,1790.71 353,1791.42 351.42,1792.14 349.85,1792.87 348.28,1793.62 346.72,1794.37 345.16,1795.14 343.61,1795.92 342.07,1796.71 340.53,1797.52 338.99,1798.33 337.46,1799.16 335.94,1799.99 334.42,1800.84 332.91,1801.69 331.4,1802.56 329.9,1803.44 328.4,1804.33 326.91,1805.22 325.42,1806.13 323.94,1807.05 322.46,1807.98 320.99,1808.91 319.52,1809.86 318.06,1810.81 316.61,1811.78 315.15,1812.75 313.71,1813.73 312.27,1814.72 310.83,1815.72 309.4,1816.72 307.97,1817.74 306.55,1818.76 305.13,1819.79 303.72,1820.83 302.31,1821.87 300.9,1822.93 299.5,1823.99 298.11,1825.06 296.72,1826.13 295.33,1827.21 293.95,1828.3 292.58,1829.39 291.2,1830.5 289.84,1831.6 288.47,1832.72 287.11,1833.84 285.76,1834.96 284.41,1836.09 283.06,1837.23 281.72,1838.37 280.38,1839.52 279.05,1840.67 277.72,1841.83 276.39,1842.99 275.07,1844.16 273.75,1845.33 272.43,1846.51 271.12,1847.69 269.82,1848.88 268.52,1850.07 267.22,1851.26 265.92,1852.46 264.63,1853.66 263.34,1854.86 262.06,1856.07 260.78,1857.28 259.5,1858.49 258.23,1859.71 256.96,1860.93 255.69,1862.15 254.43,1863.38 253.17,1864.61 251.92,1865.84 250.66,1867.08 249.42,1868.32 248.17,1869.56 246.93,1870.8 245.69,1872.05 244.46,1873.3 243.23,1874.56 242,1875.81 240.77,1877.07 239.55,1878.33 238.33,1879.59 237.12,1880.86 235.91,1882.13 234.7,1883.4 233.49,1884.68 232.29,1885.95 231.09,1887.23 229.9,1888.51 228.7,1889.79 227.51,1891.08 226.33,1892.37 225.15,1893.66 223.96,1894.95 222.79,1896.25 221.61,1897.54 220.44,1898.84 219.28,1900.14 218.11,1901.45 216.95,1902.75 215.79,1904.06 214.63,1905.37 213.48,1906.69 212.33,1908 211.19,1909.32 210.04,1910.64 208.9,1911.96 207.76,1913.29 206.63,1914.61 205.5,1915.94 204.37,1917.27 203.24,1918.61 202.12,1919.94 201,1921.28 199.88,1922.62 198.77,1923.97 197.66,1925.31 196.55,1926.66 195.45,1928.01 194.34,1929.36 193.25,1930.71 192.15,1932.07 191.06,1933.43 189.97,1934.79 188.88,1936.15 187.79,1937.52 186.71,1938.88 185.63,1940.25 184.56,1941.62 183.48,1943 182.41,1944.37 181.35,1945.75 180.28,1947.13 179.22,1948.52 178.16,1949.9 177.1,1951.29 176.05,1952.68 175,1954.07 173.95,1955.46 172.91,1956.86 171.86,1958.26 170.82,1959.66 169.79,1961.06 168.75,1962.47 167.72,1963.87 166.69,1965.28 165.67,1966.69 164.64,1968.11 163.62,1969.52 162.61,1970.94 161.59,1972.36 160.58,1973.78 159.57,1975.21 158.56,1976.63 157.56,1978.06 156.56,1979.49 155.56,1980.93 154.56,1982.36 153.57,1983.8 152.58,1985.24 151.59,1986.68 150.6,1988.12 149.62,1989.57 148.64,1991.02 147.66,1992.47 146.69,1993.92 145.72,1995.37 144.75,1996.83 143.78,1998.29 142.81,1999.75 141.85,2001.21 140.89,2002.68 139.93,2004.15 138.98,2005.61 138.03,2007.09 137.08,2008.56 136.13,2010.04 135.19,2011.51 134.25,2012.99 133.31,2014.47 132.37,2015.96 131.44,2017.44 130.5,2018.93 129.57,2020.42 128.65,2021.92 127.72,2023.41 126.8,2024.91 125.88,2026.41 124.96,2027.91 124.05,2029.41 123.14,2030.91 122.23,2032.42" fill="none" stroke="#333333" stroke-width="1.45" stroke-linejoin="round" style="mix-blend-mode:darken" />
<polyline points="430.86,1685.95 428.97,1686.53 427.09,1687.12 425.22,1687.72 423.36,1688.33 421.5,1688.95 419.65,1689.59 417.8,1690.24 415.97,1690.9 414.14,1691.57 412.32,1692.26 410.5,1692.95 408.7,1693.66 406.89,1694.38 405.1,1695.1 403.31,1695.85 401.53,1696.6 399.76,1697.36 398,1698.14 396.24,1698.92 394.48,1699.72 392.74,1700.52 391,1701.34 389.27,1702.17 387.54,1703.01 385.82,1703.86 384.11,1704.72 382.41,1705.59 380.71,1706.47 379.02,1707.36 377.33,1708.26 375.65,1709.17 373.98,1710.09 372.31,1711.02 370.66,1711.96 369,1712.91 367.36,1713.87 365.72,1714.84 364.08,1715.82 362.46,1716.81 360.84,1717.8 359.22,1718.81 357.61,1719.83 356.01,1720.85 354.42,1721.89 352.83,1722.93 351.24,1723.98 349.67,1725.04 348.1,1726.11 346.53,1727.19 344.97,1728.28 343.42,1729.37 341.88,1730.48 340.34,1731.59 338.8,1732.71 337.27,1733.84 335.75,1734.98 334.24,1736.12 332.73,1737.27 331.22,1738.43 329.72,1739.6 328.23,1740.78 326.74,1741.96 325.26,1743.16 323.79,1744.35 322.32,1745.56 320.86,1746.78 319.4,1748 317.95,1749.23 316.5,1750.46 315.06,1751.7 313.62,1752.95 312.19,1754.21 310.77,1755.47 309.35,1756.74 307.94,1758.02 306.53,1759.3 305.13,1760.59 303.73,1761.89 302.34,1763.19 300.96,1764.5 299.58,1765.82 298.2,1767.14 296.83,1768.47 295.47,1769.8 294.11,1771.14 292.76,1772.48 291.41,1773.83 290.07,1775.19 288.73,1776.55 287.4,1777.92 286.07,1779.29 284.75,1780.67 283.43,1782.06 282.12,1783.45 280.81,1784.84 279.51,1786.24 278.21,1787.64 276.92,1789.05 275.63,1790.47 274.35,1791.89 273.07,1793.31 271.8,1794.74 270.53,1796.17 269.27,1797.61 268.01,1799.05 266.76,1800.49 265.51,1801.94 264.27,1803.4 263.03,1804.86 261.79,1806.32 260.57,1807.79 259.34,1809.26 258.12,1810.73 256.91,1812.21 255.69,1813.69 254.49,1815.18 253.29,1816.67 252.09,1818.16 250.9,1819.66 249.71,1821.16 248.52,1822.66 247.34,1824.17 246.17,1825.68 245,1827.2 243.83,1828.71 242.67,1830.24 241.51,1831.76 240.35,1833.29 239.2,1834.82 238.06,1836.36 236.91,1837.9 235.78,1839.44 234.64,1840.98 233.51,1842.53 232.38,1844.08 231.26,1845.64 230.14,1847.19 229.03,1848.75 227.92,1850.32 226.81,1851.88 225.71,1853.45 224.61,1855.02 223.51,1856.6 222.42,1858.17 221.33,1859.75 220.25,1861.34 219.17,1862.92 218.09,1864.51 217.01,1866.1 215.94,1867.69 214.87,1869.29 213.81,1870.89 212.75,1872.49 211.69,1874.09 210.64,1875.7 209.59,1877.3 208.54,1878.91 207.5,1880.52 206.46,1882.14 205.42,1883.75 204.38,1885.37 203.35,1886.99 202.32,1888.62 201.3,1890.24 200.28,1891.87 199.26,1893.49 198.24,1895.12 197.23,1896.76 196.22,1898.39 195.21,1900.02 194.21,1901.66 193.2,1903.3 192.21,1904.94 191.21,1906.58 190.22,1908.23 189.23,1909.87 188.24,1911.52 187.25,1913.17 186.27,1914.82 185.29,1916.47 184.31,1918.12 183.34,1919.77 182.36,1921.43 181.39,1923.08 180.42,1924.74 179.46,1926.4 178.5,1928.06 177.54,1929.72 176.58,1931.38 175.62,1933.04 174.67,1934.71 173.71,1936.37 172.77,1938.04 171.82,1939.7 170.87,1941.37 169.93,1943.04 168.99,1944.71 168.05,1946.38 167.11,1948.05 166.18,1949.72 165.24,1951.39 164.31,1953.06 163.38,1954.74 162.46,1956.41 161.53,1958.09 160.61,1959.76 159.69,1961.44 158.77,1963.11 157.85,1964.79 156.93,1966.47 156.02,1968.15 155.1,1969.83 154.19,1971.51 153.28,1973.19 152.37,1974.87 151.47,1976.55 150.56,1978.23 149.66,1979.91 148.75,1981.59 147.85,1983.27 146.95,1984.95 146.05,1986.64 145.16,1988.32 144.26,1990 143.37,1991.68 142.47,1993.37 141.58,1995.05 140.69,1996.73 139.8,1998.42 138.91,2000.1 138.03,2001.78 137.14,2003.47 136.25,2005.15 135.37,2006.83 134.49,2008.52 133.6,2010.2 132.72,2011.88 131.84,2013.57 130.96,2015.25 130.08,2016.93 129.21,2018.61 128.33,2020.3 127.45,2021.98 126.58,2023.66 125.7,2025.34 124.83,2027.02 123.96,2028.7 123.08,2030.38 122.21,2032.06" fill="none" stroke="#333333" stroke-width="1.45" stroke-linejoin="round" style="mix-blend-mode:darken" />
<rect x="123" y="1640.3" width="528" height="393.0" fill="none" stroke="#2b2b2b" stroke-width="1.7"/>
<text transform="translate(114.5,2038.1) scale(1,1.075)" font-size="16.3" text-anchor="end" font-family='"Liberation Serif", serif' font-weight="bold">0</text>
<line x1="123" y1="1989.63" x2="130.5" y2="1989.63" stroke="#2b2b2b" stroke-width="1.5"/>
<text transform="translate(114.5,1994.43) scale(1,1.075)" font-size="16.3" text-anchor="end" font-family='"Liberation Serif", serif' font-weight="bold">20000</text>
<line x1="123" y1="1945.97" x2="130.5" y2="1945.97" stroke="#2b2b2b" stroke-width="1.5"/>
<text transform="translate(114.5,1950.77) scale(1,1.075)" font-size="16.3" text-anchor="end" font-family='"Liberation Serif", serif' font-weight="bold">40000</text>
<line x1="123" y1="1902.3" x2="130.5" y2="1902.3" stroke="#2b2b2b" stroke-width="1.5"/>
<text transform="translate(114.5,1907.1) scale(1,1.075)" font-size="16.3" text-anchor="end" font-family='"Liberation Serif", serif' font-weight="bold">60000</text>
<line x1="123" y1="1858.63" x2="130.5" y2="1858.63" stroke="#2b2b2b" stroke-width="1.5"/>
<text transform="translate(114.5,1863.43) scale(1,1.075)" font-size="16.3" text-anchor="end" font-family='"Liberation Serif", serif' font-weight="bold">80000</text>
<line x1="123" y1="1814.97" x2="130.5" y2="1814.97" stroke="#2b2b2b" stroke-width="1.5"/>
<text transform="translate(114.5,1819.77) scale(1,1.075)" font-size="16.3" text-anchor="end" font-family='"Liberation Serif", serif' font-weight="bold">100000</text>
<line x1="123" y1="1771.3" x2="130.5" y2="1771.3" stroke="#2b2b2b" stroke-width="1.5"/>
<text transform="translate(114.5,1776.1) scale(1,1.075)" font-size="16.3" text-anchor="end" font-family='"Liberation Serif", serif' font-weight="bold">120000</text>
<line x1="123" y1="1727.63" x2="130.5" y2="1727.63" stroke="#2b2b2b" stroke-width="1.5"/>
<text transform="translate(114.5,1732.43) scale(1,1.075)" font-size="16.3" text-anchor="end" font-family='"Liberation Serif", serif' font-weight="bold">140000</text>
<line x1="123" y1="1683.97" x2="130.5" y2="1683.97" stroke="#2b2b2b" stroke-width="1.5"/>
<text transform="translate(114.5,1688.77) scale(1,1.075)" font-size="16.3" text-anchor="end" font-family='"Liberation Serif", serif' font-weight="bold">160000</text>
<text transform="translate(114.5,1645.1) scale(1,1.075)" font-size="16.3" text-anchor="end" font-family='"Liberation Serif", serif' font-weight="bold">180000</text>
<text transform="translate(123,2054.5) scale(1,1.075)" font-size="16.3" text-anchor="middle" font-family='"Liberation Serif", serif' font-weight="bold">0</text>
<line x1="181.67" y1="2033.3" x2="181.67" y2="2025.8" stroke="#2b2b2b" stroke-width="1.5"/>
<text transform="translate(181.67,2054.5) scale(1,1.075)" font-size="16.3" text-anchor="middle" font-family='"Liberation Serif", serif' font-weight="bold">20000</text>
<line x1="240.33" y1="2033.3" x2="240.33" y2="2025.8" stroke="#2b2b2b" stroke-width="1.5"/>
<text transform="translate(240.33,2054.5) scale(1,1.075)" font-size="16.3" text-anchor="middle" font-family='"Liberation Serif", serif' font-weight="bold">40000</text>
<line x1="299" y1="2033.3" x2="299" y2="2025.8" stroke="#2b2b2b" stroke-width="1.5"/>
<text transform="translate(299,2054.5) scale(1,1.075)" font-size="16.3" text-anchor="middle" font-family='"Liberation Serif", serif' font-weight="bold">60000</text>
<line x1="357.67" y1="2033.3" x2="357.67" y2="2025.8" stroke="#2b2b2b" stroke-width="1.5"/>
<text transform="translate(357.67,2054.5) scale(1,1.075)" font-size="16.3" text-anchor="middle" font-family='"Liberation Serif", serif' font-weight="bold">80000</text>
<line x1="416.33" y1="2033.3" x2="416.33" y2="2025.8" stroke="#2b2b2b" stroke-width="1.5"/>
<text transform="translate(416.33,2054.5) scale(1,1.075)" font-size="16.3" text-anchor="middle" font-family='"Liberation Serif", serif' font-weight="bold">100000</text>
<line x1="475" y1="2033.3" x2="475" y2="2025.8" stroke="#2b2b2b" stroke-width="1.5"/>
<text transform="translate(475,2054.5) scale(1,1.075)" font-size="16.3" text-anchor="middle" font-family='"Liberation Serif", serif' font-weight="bold">120000</text>
<line x1="533.67" y1="2033.3" x2="533.67" y2="2025.8" stroke="#2b2b2b" stroke-width="1.5"/>
<text transform="translate(533.67,2054.5) scale(1,1.075)" font-size="16.3" text-anchor="middle" font-family='"Liberation Serif", serif' font-weight="bold">140000</text>
<line x1="592.33" y1="2033.3" x2="592.33" y2="2025.8" stroke="#2b2b2b" stroke-width="1.5"/>
<text transform="translate(592.33,2054.5) scale(1,1.075)" font-size="16.3" text-anchor="middle" font-family='"Liberation Serif", serif' font-weight="bold">160000</text>
<text transform="translate(651,2054.5) scale(1,1.075)" font-size="16.3" text-anchor="middle" font-family='"Liberation Serif", serif' font-weight="bold">180000</text>
<rect x="896.05" y="72.55" width="4.51" height="4.51" fill="#000"/>
<rect x="903.59" y="78.88" width="4.51" height="4.51" fill="#000"/>
<rect x="911.13" y="85.19" width="4.51" height="4.51" fill="#000"/>
<rect x="918.67" y="91.48" width="4.51" height="4.51" fill="#000"/>
<rect x="926.21" y="97.75" width="4.51" height="4.51" fill="#000"/>
<rect x="933.75" y="104" width="4.51" height="4.51" fill="#000"/>
<rect x="941.29" y="110.25" width="4.51" height="4.51" fill="#000"/>
<rect x="948.84" y="116.48" width="4.51" height="4.51" fill="#000"/>
<rect x="956.38" y="122.7" width="4.51" height="4.51" fill="#000"/>
<rect x="963.92" y="128.93" width="4.51" height="4.51" fill="#000"/>
<rect x="971.46" y="135.15" width="4.51" height="4.51" fill="#000"/>
<rect x="979" y="141.37" width="4.51" height="4.51" fill="#000"/>
<rect x="986.54" y="147.6" width="4.51" height="4.51" fill="#000"/>
<rect x="994.08" y="153.83" width="4.51" height="4.51" fill="#000"/>
<rect x="1001.63" y="160.08" width="4.51" height="4.51" fill="#000"/>
<rect x="1009.17" y="166.34" width="4.51" height="4.51" fill="#000"/>
<rect x="1016.71" y="172.61" width="4.51" height="4.51" fill="#000"/>
<rect x="1024.25" y="178.91" width="4.51" height="4.51" fill="#000"/>
<rect x="1031.79" y="185.23" width="4.51" height="4.51" fill="#000"/>
<rect x="1039.33" y="191.57" width="4.51" height="4.51" fill="#000"/>
<rect x="1046.87" y="197.94" width="4.51" height="4.51" fill="#000"/>
<rect x="1054.42" y="204.34" width="4.51" height="4.51" fill="#000"/>
<rect x="1061.96" y="210.77" width="4.51" height="4.51" fill="#000"/>
<rect x="1069.5" y="217.24" width="4.51" height="4.51" fill="#000"/>
<rect x="1077.04" y="223.75" width="4.51" height="4.51" fill="#000"/>
<rect x="1084.58" y="230.3" width="4.51" height="4.51" fill="#000"/>
<rect x="1092.12" y="236.9" width="4.51" height="4.51" fill="#000"/>
<rect x="1099.66" y="243.53" width="4.51" height="4.51" fill="#000"/>
<rect x="1107.21" y="250.17" width="4.51" height="4.51" fill="#000"/>
<rect x="1114.75" y="256.82" width="4.51" height="4.51" fill="#000"/>
<rect x="1122.29" y="263.47" width="4.51" height="4.51" fill="#000"/>
<rect x="1129.83" y="270.1" width="4.51" height="4.51" fill="#000"/>
<rect x="1137.37" y="276.7" width="4.51" height="4.51" fill="#000"/>
<rect x="1144.91" y="283.25" width="4.51" height="4.51" fill="#000"/>
<rect x="1152.45" y="289.74" width="4.51" height="4.51" fill="#000"/>
<rect x="1160" y="296.17" width="4.51" height="4.51" fill="#000"/>
<rect x="1167.54" y="302.51" width="4.51" height="4.51" fill="#000"/>
<rect x="1175.08" y="308.76" width="4.51" height="4.51" fill="#000"/>
<rect x="1182.62" y="314.9" width="4.51" height="4.51" fill="#000"/>
<rect x="1190.16" y="320.93" width="4.51" height="4.51" fill="#000"/>
<rect x="1197.7" y="326.81" width="4.51" height="4.51" fill="#000"/>
<rect x="1205.24" y="332.55" width="4.51" height="4.51" fill="#000"/>
<rect x="1212.79" y="338.14" width="4.51" height="4.51" fill="#000"/>
<rect x="1220.33" y="343.55" width="4.51" height="4.51" fill="#000"/>
<rect x="1227.87" y="348.78" width="4.51" height="4.51" fill="#000"/>
<rect x="1235.41" y="353.81" width="4.51" height="4.51" fill="#000"/>
<rect x="1242.95" y="358.63" width="4.51" height="4.51" fill="#000"/>
<rect x="1250.49" y="363.23" width="4.51" height="4.51" fill="#000"/>
<rect x="1258.03" y="367.58" width="4.51" height="4.51" fill="#000"/>
<rect x="1265.58" y="371.66" width="4.51" height="4.51" fill="#000"/>
<rect x="1273.12" y="375.46" width="4.51" height="4.51" fill="#000"/>
<rect x="1280.66" y="378.93" width="4.51" height="4.51" fill="#000"/>
<rect x="1288.2" y="382.07" width="4.51" height="4.51" fill="#000"/>
<rect x="1295.74" y="384.85" width="4.51" height="4.51" fill="#000"/>
<rect x="1303.28" y="387.29" width="4.51" height="4.51" fill="#000"/>
<rect x="1310.82" y="389.4" width="4.51" height="4.51" fill="#000"/>
<rect x="1318.37" y="391.19" width="4.51" height="4.51" fill="#000"/>
<rect x="1325.91" y="392.68" width="4.51" height="4.51" fill="#000"/>
<rect x="1333.45" y="393.87" width="4.51" height="4.51" fill="#000"/>
<rect x="1340.99" y="394.8" width="4.51" height="4.51" fill="#000"/>
<rect x="1348.53" y="395.49" width="4.51" height="4.51" fill="#000"/>
<rect x="1356.07" y="395.97" width="4.51" height="4.51" fill="#000"/>
<rect x="1363.61" y="396.29" width="4.51" height="4.51" fill="#000"/>
<rect x="1371.16" y="396.48" width="4.51" height="4.51" fill="#000"/>
<rect x="1378.7" y="396.57" width="4.51" height="4.51" fill="#000"/>
<rect x="1386.24" y="396.6" width="4.51" height="4.51" fill="#000"/>
<rect x="1393.78" y="396.61" width="4.51" height="4.51" fill="#000"/>
<rect x="1401.32" y="396.64" width="4.51" height="4.51" fill="#000"/>
<rect x="1408.86" y="396.71" width="4.51" height="4.51" fill="#000"/>
<rect x="1416.4" y="396.87" width="4.51" height="4.51" fill="#000"/>
<rect x="1423.95" y="397.14" width="4.51" height="4.51" fill="#000"/>
<circle cx="898.3" cy="80.93" r="2.45" fill="#f00"/>
<circle cx="905.84" cy="84.82" r="2.45" fill="#f00"/>
<circle cx="913.38" cy="89.13" r="2.45" fill="#f00"/>
<circle cx="920.92" cy="93.83" r="2.45" fill="#f00"/>
<circle cx="928.47" cy="98.89" r="2.45" fill="#f00"/>
<circle cx="936.01" cy="104.26" r="2.45" fill="#f00"/>
<circle cx="943.55" cy="109.9" r="2.45" fill="#f00"/>
<circle cx="951.09" cy="115.79" r="2.45" fill="#f00"/>
<circle cx="958.63" cy="121.89" r="2.45" fill="#f00"/>
<circle cx="966.17" cy="128.15" r="2.45" fill="#f00"/>
<circle cx="973.71" cy="134.55" r="2.45" fill="#f00"/>
<circle cx="981.26" cy="141.05" r="2.45" fill="#f00"/>
<circle cx="988.8" cy="147.6" r="2.45" fill="#f00"/>
<circle cx="996.34" cy="154.18" r="2.45" fill="#f00"/>
<circle cx="1003.88" cy="160.79" r="2.45" fill="#f00"/>
<circle cx="1011.42" cy="167.42" r="2.45" fill="#f00"/>
<circle cx="1018.96" cy="174.06" r="2.45" fill="#f00"/>
<circle cx="1026.5" cy="180.73" r="2.45" fill="#f00"/>
<circle cx="1034.05" cy="187.4" r="2.45" fill="#f00"/>
<circle cx="1041.59" cy="194.09" r="2.45" fill="#f00"/>
<circle cx="1049.13" cy="200.79" r="2.45" fill="#f00"/>
<circle cx="1056.67" cy="207.49" r="2.45" fill="#f00"/>
<circle cx="1064.21" cy="214.2" r="2.45" fill="#f00"/>
<circle cx="1071.75" cy="220.92" r="2.45" fill="#f00"/>
<circle cx="1079.29" cy="227.63" r="2.45" fill="#f00"/>
<circle cx="1086.84" cy="234.34" r="2.45" fill="#f00"/>
<circle cx="1094.38" cy="241.05" r="2.45" fill="#f00"/>
<circle cx="1101.92" cy="247.75" r="2.45" fill="#f00"/>
<circle cx="1109.46" cy="254.44" r="2.45" fill="#f00"/>
<circle cx="1117" cy="261.12" r="2.45" fill="#f00"/>
<circle cx="1124.54" cy="267.79" r="2.45" fill="#f00"/>
<circle cx="1132.08" cy="274.44" r="2.45" fill="#f00"/>
<circle cx="1139.63" cy="281.07" r="2.45" fill="#f00"/>
<circle cx="1147.17" cy="287.68" r="2.45" fill="#f00"/>
<circle cx="1154.71" cy="294.25" r="2.45" fill="#f00"/>
<circle cx="1162.25" cy="300.78" r="2.45" fill="#f00"/>
<circle cx="1169.79" cy="307.26" r="2.45" fill="#f00"/>
<circle cx="1177.33" cy="313.69" r="2.45" fill="#f00"/>
<circle cx="1184.87" cy="320.04" r="2.45" fill="#f00"/>
<circle cx="1192.42" cy="326.32" r="2.45" fill="#f00"/>
<circle cx="1199.96" cy="332.51" r="2.45" fill="#f00"/>
<circle cx="1207.5" cy="338.61" r="2.45" fill="#f00"/>
<circle cx="1215.04" cy="344.61" r="2.45" fill="#f00"/>
<circle cx="1222.58" cy="350.5" r="2.45" fill="#f00"/>
<circle cx="1230.12" cy="356.25" r="2.45" fill="#f00"/>
<circle cx="1237.66" cy="361.82" r="2.45" fill="#f00"/>
<circle cx="1245.21" cy="367.17" r="2.45" fill="#f00"/>
<circle cx="1252.75" cy="372.26" r="2.45" fill="#f00"/>
<circle cx="1260.29" cy="377.03" r="2.45" fill="#f00"/>
<circle cx="1267.83" cy="381.46" r="2.45" fill="#f00"/>
<circle cx="1275.37" cy="385.51" r="2.45" fill="#f00"/>
<circle cx="1282.91" cy="389.13" r="2.45" fill="#f00"/>
<circle cx="1290.45" cy="392.35" r="2.45" fill="#f00"/>
<circle cx="1298" cy="395.19" r="2.45" fill="#f00"/>
<circle cx="1305.54" cy="397.68" r="2.45" fill="#f00"/>
<circle cx="1313.08" cy="399.83" r="2.45" fill="#f00"/>
<circle cx="1320.62" cy="401.68" r="2.45" fill="#f00"/>
<circle cx="1328.16" cy="403.23" r="2.45" fill="#f00"/>
<circle cx="1335.7" cy="404.53" r="2.45" fill="#f00"/>
<circle cx="1343.24" cy="405.58" r="2.45" fill="#f00"/>
<circle cx="1350.79" cy="406.41" r="2.45" fill="#f00"/>
<circle cx="1358.33" cy="407.05" r="2.45" fill="#f00"/>
<circle cx="1365.87" cy="407.52" r="2.45" fill="#f00"/>
<circle cx="1373.41" cy="407.85" r="2.45" fill="#f00"/>
<circle cx="1380.95" cy="408.04" r="2.45" fill="#f00"/>
<circle cx="1388.49" cy="408.14" r="2.45" fill="#f00"/>
<circle cx="1396.03" cy="408.15" r="2.45" fill="#f00"/>
<circle cx="1403.58" cy="408.12" r="2.45" fill="#f00"/>
<circle cx="1411.12" cy="408.04" r="2.45" fill="#f00"/>
<circle cx="1418.66" cy="407.96" r="2.45" fill="#f00"/>
<circle cx="1426.2" cy="407.9" r="2.45" fill="#f00"/>
<path d="M895.48 88.54L901.12 88.54L898.3 83.47Z" fill="#00f"/>
<path d="M903.02 92.11L908.66 92.11L905.84 87.04Z" fill="#00f"/>
<path d="M910.57 95.98L916.2 95.98L913.38 90.91Z" fill="#00f"/>
<path d="M918.11 100.12L923.74 100.12L920.92 95.05Z" fill="#00f"/>
<path d="M925.65 104.53L931.28 104.53L928.47 99.46Z" fill="#00f"/>
<path d="M933.19 109.19L938.82 109.19L936.01 104.12Z" fill="#00f"/>
<path d="M940.73 114.09L946.37 114.09L943.55 109.02Z" fill="#00f"/>
<path d="M948.27 119.21L953.91 119.21L951.09 114.14Z" fill="#00f"/>
<path d="M955.81 124.54L961.45 124.54L958.63 119.47Z" fill="#00f"/>
<path d="M963.36 130.06L968.99 130.06L966.17 124.99Z" fill="#00f"/>
<path d="M970.9 135.77L976.53 135.77L973.71 130.7Z" fill="#00f"/>
<path d="M978.44 141.64L984.07 141.64L981.26 136.57Z" fill="#00f"/>
<path d="M985.98 147.66L991.61 147.66L988.8 142.59Z" fill="#00f"/>
<path d="M993.52 153.83L999.16 153.83L996.34 148.75Z" fill="#00f"/>
<path d="M1001.06 160.11L1006.7 160.11L1003.88 155.04Z" fill="#00f"/>
<path d="M1008.6 166.51L1014.24 166.51L1011.42 161.44Z" fill="#00f"/>
<path d="M1016.15 173L1021.78 173L1018.96 167.93Z" fill="#00f"/>
<path d="M1023.69 179.58L1029.32 179.58L1026.5 174.51Z" fill="#00f"/>
<path d="M1031.23 186.22L1036.86 186.22L1034.05 181.15Z" fill="#00f"/>
<path d="M1038.77 192.92L1044.4 192.92L1041.59 187.85Z" fill="#00f"/>
<path d="M1046.31 199.66L1051.95 199.66L1049.13 194.58Z" fill="#00f"/>
<path d="M1053.85 206.42L1059.49 206.42L1056.67 201.35Z" fill="#00f"/>
<path d="M1061.39 213.2L1067.03 213.2L1064.21 208.13Z" fill="#00f"/>
<path d="M1068.94 219.97L1074.57 219.97L1071.75 214.9Z" fill="#00f"/>
<path d="M1076.48 226.73L1082.11 226.73L1079.29 221.66Z" fill="#00f"/>
<path d="M1084.02 233.46L1089.65 233.46L1086.84 228.39Z" fill="#00f"/>
<path d="M1091.56 240.14L1097.19 240.14L1094.38 235.07Z" fill="#00f"/>
<path d="M1099.1 246.79L1104.74 246.79L1101.92 241.72Z" fill="#00f"/>
<path d="M1106.64 253.41L1112.28 253.41L1109.46 248.34Z" fill="#00f"/>
<path d="M1114.18 260L1119.82 260L1117 254.93Z" fill="#00f"/>
<path d="M1121.73 266.56L1127.36 266.56L1124.54 261.49Z" fill="#00f"/>
<path d="M1129.27 273.11L1134.9 273.11L1132.08 268.04Z" fill="#00f"/>
<path d="M1136.81 279.65L1142.44 279.65L1139.63 274.57Z" fill="#00f"/>
<path d="M1144.35 286.17L1149.98 286.17L1147.17 281.1Z" fill="#00f"/>
<path d="M1151.89 292.7L1157.53 292.7L1154.71 287.63Z" fill="#00f"/>
<path d="M1159.43 299.23L1165.07 299.23L1162.25 294.16Z" fill="#00f"/>
<path d="M1166.97 305.77L1172.61 305.77L1169.79 300.7Z" fill="#00f"/>
<path d="M1174.52 312.33L1180.15 312.33L1177.33 307.26Z" fill="#00f"/>
<path d="M1182.06 318.9L1187.69 318.9L1184.87 313.83Z" fill="#00f"/>
<path d="M1189.6 325.51L1195.23 325.51L1192.42 320.43Z" fill="#00f"/>
<path d="M1197.14 332.14L1202.77 332.14L1199.96 327.06Z" fill="#00f"/>
<path d="M1204.68 338.78L1210.32 338.78L1207.5 333.71Z" fill="#00f"/>
<path d="M1212.22 345.36L1217.86 345.36L1215.04 340.29Z" fill="#00f"/>
<path d="M1219.76 351.78L1225.4 351.78L1222.58 346.71Z" fill="#00f"/>
<path d="M1227.31 357.95L1232.94 357.95L1230.12 352.87Z" fill="#00f"/>
<path d="M1234.85 363.77L1240.48 363.77L1237.66 358.69Z" fill="#00f"/>
<path d="M1242.39 369.17L1248.02 369.17L1245.21 364.09Z" fill="#00f"/>
<path d="M1249.93 374.15L1255.56 374.15L1252.75 369.07Z" fill="#00f"/>
<path d="M1257.47 378.72L1263.11 378.72L1260.29 373.65Z" fill="#00f"/>
<path d="M1265.01 382.91L1270.65 382.91L1267.83 377.84Z" fill="#00f"/>
<path d="M1272.55 386.72L1278.19 386.72L1275.37 381.65Z" fill="#00f"/>
<path d="M1280.1 390.18L1285.73 390.18L1282.91 385.11Z" fill="#00f"/>
<path d="M1287.64 393.29L1293.27 393.29L1290.45 388.22Z" fill="#00f"/>
<path d="M1295.18 396.08L1300.81 396.08L1298 391.01Z" fill="#00f"/>
<path d="M1302.72 398.56L1308.35 398.56L1305.54 393.49Z" fill="#00f"/>
<path d="M1310.26 400.75L1315.9 400.75L1313.08 395.68Z" fill="#00f"/>
<path d="M1317.8 402.66L1323.44 402.66L1320.62 397.59Z" fill="#00f"/>
<path d="M1325.34 404.31L1330.98 404.31L1328.16 399.24Z" fill="#00f"/>
<path d="M1332.89 405.71L1338.52 405.71L1335.7 400.64Z" fill="#00f"/>
<path d="M1340.43 406.89L1346.06 406.89L1343.24 401.82Z" fill="#00f"/>
<path d="M1347.97 407.85L1353.6 407.85L1350.79 402.78Z" fill="#00f"/>
<path d="M1355.51 408.61L1361.14 408.61L1358.33 403.54Z" fill="#00f"/>
<path d="M1363.05 409.2L1368.69 409.2L1365.87 404.13Z" fill="#00f"/>
<path d="M1370.59 409.61L1376.23 409.61L1373.41 404.54Z" fill="#00f"/>
<path d="M1378.13 409.88L1383.77 409.88L1380.95 404.81Z" fill="#00f"/>
<path d="M1385.68 410.02L1391.31 410.02L1388.49 404.95Z" fill="#00f"/>
<path d="M1393.22 410.03L1398.85 410.03L1396.03 404.96Z" fill="#00f"/>
<path d="M1400.76 409.95L1406.39 409.95L1403.58 404.88Z" fill="#00f"/>
<path d="M1408.3 409.78L1413.93 409.78L1411.12 404.71Z" fill="#00f"/>
<path d="M1415.84 409.54L1421.48 409.54L1418.66 404.47Z" fill="#00f"/>
<path d="M1423.38 409.25L1429.02 409.25L1426.2 404.17Z" fill="#00f"/>
<rect x="896.05" y="363.68" width="4.51" height="4.51" fill="#000"/>
<rect x="903.59" y="365.55" width="4.51" height="4.51" fill="#000"/>
<rect x="911.13" y="367.43" width="4.51" height="4.51" fill="#000"/>
<rect x="918.67" y="369.32" width="4.51" height="4.51" fill="#000"/>
<rect x="926.21" y="371.19" width="4.51" height="4.51" fill="#000"/>
<rect x="933.75" y="373.03" width="4.51" height="4.51" fill="#000"/>
<rect x="941.29" y="374.83" width="4.51" height="4.51" fill="#000"/>
<rect x="948.84" y="376.56" width="4.51" height="4.51" fill="#000"/>
<rect x="956.38" y="378.23" width="4.51" height="4.51" fill="#000"/>
<rect x="963.92" y="379.8" width="4.51" height="4.51" fill="#000"/>
<rect x="971.46" y="381.26" width="4.51" height="4.51" fill="#000"/>
<rect x="979" y="382.61" width="4.51" height="4.51" fill="#000"/>
<rect x="986.54" y="383.82" width="4.51" height="4.51" fill="#000"/>
<rect x="994.08" y="384.89" width="4.51" height="4.51" fill="#000"/>
<rect x="1001.63" y="385.78" width="4.51" height="4.51" fill="#000"/>
<rect x="1009.17" y="386.5" width="4.51" height="4.51" fill="#000"/>
<rect x="1016.71" y="387.02" width="4.51" height="4.51" fill="#000"/>
<rect x="1024.25" y="387.34" width="4.51" height="4.51" fill="#000"/>
<rect x="1031.79" y="387.46" width="4.51" height="4.51" fill="#000"/>
<rect x="1039.33" y="387.42" width="4.51" height="4.51" fill="#000"/>
<rect x="1046.87" y="387.23" width="4.51" height="4.51" fill="#000"/>
<rect x="1054.42" y="386.92" width="4.51" height="4.51" fill="#000"/>
<rect x="1061.96" y="386.49" width="4.51" height="4.51" fill="#000"/>
<rect x="1069.5" y="385.99" width="4.51" height="4.51" fill="#000"/>
<rect x="1077.04" y="385.42" width="4.51" height="4.51" fill="#000"/>
<rect x="1084.58" y="384.81" width="4.51" height="4.51" fill="#000"/>
<rect x="1092.12" y="384.19" width="4.51" height="4.51" fill="#000"/>
<rect x="1099.66" y="383.56" width="4.51" height="4.51" fill="#000"/>
<rect x="1107.21" y="382.95" width="4.51" height="4.51" fill="#000"/>
<rect x="1114.75" y="382.37" width="4.51" height="4.51" fill="#000"/>
<rect x="1122.29" y="381.75" width="4.51" height="4.51" fill="#000"/>
<rect x="1129.83" y="381.01" width="4.51" height="4.51" fill="#000"/>
<rect x="1137.37" y="380.06" width="4.51" height="4.51" fill="#000"/>
<rect x="1144.91" y="378.82" width="4.51" height="4.51" fill="#000"/>
<rect x="1152.45" y="377.21" width="4.51" height="4.51" fill="#000"/>
<rect x="1160" y="375.14" width="4.51" height="4.51" fill="#000"/>
<rect x="1167.54" y="372.53" width="4.51" height="4.51" fill="#000"/>
<rect x="1175.08" y="369.3" width="4.51" height="4.51" fill="#000"/>
<rect x="1182.62" y="365.37" width="4.51" height="4.51" fill="#000"/>
<rect x="1190.16" y="360.65" width="4.51" height="4.51" fill="#000"/>
<rect x="1197.7" y="355.07" width="4.51" height="4.51" fill="#000"/>
<rect x="1205.24" y="348.54" width="4.51" height="4.51" fill="#000"/>
<rect x="1212.79" y="341.03" width="4.51" height="4.51" fill="#000"/>
<rect x="1220.33" y="332.51" width="4.51" height="4.51" fill="#000"/>
<rect x="1227.87" y="322.95" width="4.51" height="4.51" fill="#000"/>
<rect x="1235.41" y="312.33" width="4.51" height="4.51" fill="#000"/>
<rect x="1242.95" y="300.6" width="4.51" height="4.51" fill="#000"/>
<rect x="1250.49" y="287.75" width="4.51" height="4.51" fill="#000"/>
<rect x="1258.03" y="273.73" width="4.51" height="4.51" fill="#000"/>
<rect x="1265.58" y="258.61" width="4.51" height="4.51" fill="#000"/>
<rect x="1273.12" y="242.73" width="4.51" height="4.51" fill="#000"/>
<rect x="1280.66" y="226.48" width="4.51" height="4.51" fill="#000"/>
<rect x="1288.2" y="210.24" width="4.51" height="4.51" fill="#000"/>
<rect x="1295.74" y="194.37" width="4.51" height="4.51" fill="#000"/>
<rect x="1303.28" y="179.17" width="4.51" height="4.51" fill="#000"/>
<rect x="1310.82" y="164.9" width="4.51" height="4.51" fill="#000"/>
<rect x="1318.37" y="151.84" width="4.51" height="4.51" fill="#000"/>
<rect x="1325.91" y="140.19" width="4.51" height="4.51" fill="#000"/>
<rect x="1333.45" y="129.89" width="4.51" height="4.51" fill="#000"/>
<rect x="1340.99" y="120.83" width="4.51" height="4.51" fill="#000"/>
<rect x="1348.53" y="112.92" width="4.51" height="4.51" fill="#000"/>
<rect x="1356.07" y="106.05" width="4.51" height="4.51" fill="#000"/>
<rect x="1363.61" y="100.12" width="4.51" height="4.51" fill="#000"/>
<rect x="1371.16" y="95.02" width="4.51" height="4.51" fill="#000"/>
<rect x="1378.7" y="90.65" width="4.51" height="4.51" fill="#000"/>
<rect x="1386.24" y="86.91" width="4.51" height="4.51" fill="#000"/>
<rect x="1393.78" y="83.69" width="4.51" height="4.51" fill="#000"/>
<rect x="1401.32" y="80.89" width="4.51" height="4.51" fill="#000"/>
<rect x="1408.86" y="78.4" width="4.51" height="4.51" fill="#000"/>
<rect x="1416.4" y="76.12" width="4.51" height="4.51" fill="#000"/>
<rect x="1423.95" y="73.95" width="4.51" height="4.51" fill="#000"/>
<circle cx="898.3" cy="254.95" r="2.45" fill="#f00"/>
<circle cx="905.84" cy="264.93" r="2.45" fill="#f00"/>
<circle cx="913.38" cy="275.8" r="2.45" fill="#f00"/>
<circle cx="920.92" cy="287.26" r="2.45" fill="#f00"/>
<circle cx="928.47" cy="299.02" r="2.45" fill="#f00"/>
<circle cx="936.01" cy="310.76" r="2.45" fill="#f00"/>
<circle cx="943.55" cy="322.2" r="2.45" fill="#f00"/>
<circle cx="951.09" cy="333.08" r="2.45" fill="#f00"/>
<circle cx="958.63" cy="343.31" r="2.45" fill="#f00"/>
<circle cx="966.17" cy="352.81" r="2.45" fill="#f00"/>
<circle cx="973.71" cy="361.52" r="2.45" fill="#f00"/>
<circle cx="981.26" cy="369.35" r="2.45" fill="#f00"/>
<circle cx="988.8" cy="376.28" r="2.45" fill="#f00"/>
<circle cx="996.34" cy="382.33" r="2.45" fill="#f00"/>
<circle cx="1003.88" cy="387.58" r="2.45" fill="#f00"/>
<circle cx="1011.42" cy="392.08" r="2.45" fill="#f00"/>
<circle cx="1018.96" cy="395.9" r="2.45" fill="#f00"/>
<circle cx="1026.5" cy="399.1" r="2.45" fill="#f00"/>
<circle cx="1034.05" cy="401.73" r="2.45" fill="#f00"/>
<circle cx="1041.59" cy="403.87" r="2.45" fill="#f00"/>
<circle cx="1049.13" cy="405.57" r="2.45" fill="#f00"/>
<circle cx="1056.67" cy="406.89" r="2.45" fill="#f00"/>
<circle cx="1064.21" cy="407.9" r="2.45" fill="#f00"/>
<circle cx="1071.75" cy="408.66" r="2.45" fill="#f00"/>
<circle cx="1079.29" cy="409.21" r="2.45" fill="#f00"/>
<circle cx="1086.84" cy="409.53" r="2.45" fill="#f00"/>
<circle cx="1094.38" cy="409.61" r="2.45" fill="#f00"/>
<circle cx="1101.92" cy="409.42" r="2.45" fill="#f00"/>
<circle cx="1109.46" cy="408.93" r="2.45" fill="#f00"/>
<circle cx="1117" cy="408.12" r="2.45" fill="#f00"/>
<circle cx="1124.54" cy="406.96" r="2.45" fill="#f00"/>
<circle cx="1132.08" cy="405.43" r="2.45" fill="#f00"/>
<circle cx="1139.63" cy="403.5" r="2.45" fill="#f00"/>
<circle cx="1147.17" cy="401.15" r="2.45" fill="#f00"/>
<circle cx="1154.71" cy="398.35" r="2.45" fill="#f00"/>
<circle cx="1162.25" cy="395.07" r="2.45" fill="#f00"/>
<circle cx="1169.79" cy="391.3" r="2.45" fill="#f00"/>
<circle cx="1177.33" cy="387" r="2.45" fill="#f00"/>
<circle cx="1184.87" cy="382.14" r="2.45" fill="#f00"/>
<circle cx="1192.42" cy="376.61" r="2.45" fill="#f00"/>
<circle cx="1199.96" cy="370.31" r="2.45" fill="#f00"/>
<circle cx="1207.5" cy="363.13" r="2.45" fill="#f00"/>
<circle cx="1215.04" cy="354.95" r="2.45" fill="#f00"/>
<circle cx="1222.58" cy="345.67" r="2.45" fill="#f00"/>
<circle cx="1230.12" cy="335.19" r="2.45" fill="#f00"/>
<circle cx="1237.66" cy="323.38" r="2.45" fill="#f00"/>
<circle cx="1245.21" cy="310.21" r="2.45" fill="#f00"/>
<circle cx="1252.75" cy="295.89" r="2.45" fill="#f00"/>
<circle cx="1260.29" cy="280.67" r="2.45" fill="#f00"/>
<circle cx="1267.83" cy="264.82" r="2.45" fill="#f00"/>
<circle cx="1275.37" cy="248.6" r="2.45" fill="#f00"/>
<circle cx="1282.91" cy="232.28" r="2.45" fill="#f00"/>
<circle cx="1290.45" cy="216.1" r="2.45" fill="#f00"/>
<circle cx="1298" cy="200.29" r="2.45" fill="#f00"/>
<circle cx="1305.54" cy="185.1" r="2.45" fill="#f00"/>
<circle cx="1313.08" cy="170.77" r="2.45" fill="#f00"/>
<circle cx="1320.62" cy="157.54" r="2.45" fill="#f00"/>
<circle cx="1328.16" cy="145.59" r="2.45" fill="#f00"/>
<circle cx="1335.7" cy="134.92" r="2.45" fill="#f00"/>
<circle cx="1343.24" cy="125.46" r="2.45" fill="#f00"/>
<circle cx="1350.79" cy="117.18" r="2.45" fill="#f00"/>
<circle cx="1358.33" cy="110.01" r="2.45" fill="#f00"/>
<circle cx="1365.87" cy="103.85" r="2.45" fill="#f00"/>
<circle cx="1373.41" cy="98.56" r="2.45" fill="#f00"/>
<circle cx="1380.95" cy="94.05" r="2.45" fill="#f00"/>
<circle cx="1388.49" cy="90.17" r="2.45" fill="#f00"/>
<circle cx="1396.03" cy="86.83" r="2.45" fill="#f00"/>
<circle cx="1403.58" cy="83.89" r="2.45" fill="#f00"/>
<circle cx="1411.12" cy="81.25" r="2.45" fill="#f00"/>
<circle cx="1418.66" cy="78.77" r="2.45" fill="#f00"/>
<circle cx="1426.2" cy="76.35" r="2.45" fill="#f00"/>
<path d="M895.48 230.7L901.12 230.7L898.3 225.63Z" fill="#000"/>
<path d="M903.02 239.15L908.66 239.15L905.84 234.07Z" fill="#000"/>
<path d="M910.57 249.27L916.2 249.27L913.38 244.2Z" fill="#000"/>
<path d="M918.11 260.7L923.74 260.7L920.92 255.62Z" fill="#000"/>
<path d="M925.65 273.05L931.28 273.05L928.47 267.98Z" fill="#000"/>
<path d="M933.19 285.97L938.82 285.97L936.01 280.9Z" fill="#000"/>
<path d="M940.73 299.07L946.37 299.07L943.55 294Z" fill="#000"/>
<path d="M948.27 312L953.91 312L951.09 306.93Z" fill="#000"/>
<path d="M955.81 324.48L961.45 324.48L958.63 319.41Z" fill="#000"/>
<path d="M963.36 336.25L968.99 336.25L966.17 331.18Z" fill="#000"/>
<path d="M970.9 347.08L976.53 347.08L973.71 342.01Z" fill="#000"/>
<path d="M978.44 356.9L984.07 356.9L981.26 351.83Z" fill="#000"/>
<path d="M985.98 365.65L991.61 365.65L988.8 360.58Z" fill="#000"/>
<path d="M993.52 373.32L999.16 373.32L996.34 368.25Z" fill="#000"/>
<path d="M1001.06 379.97L1006.7 379.97L1003.88 374.9Z" fill="#000"/>
<path d="M1008.6 385.69L1014.24 385.69L1011.42 380.62Z" fill="#000"/>
<path d="M1016.15 390.58L1021.78 390.58L1018.96 385.51Z" fill="#000"/>
<path d="M1023.69 394.74L1029.32 394.74L1026.5 389.67Z" fill="#000"/>
<path d="M1031.23 398.25L1036.86 398.25L1034.05 393.18Z" fill="#000"/>
<path d="M1038.77 401.21L1044.4 401.21L1041.59 396.14Z" fill="#000"/>
<path d="M1046.31 403.65L1051.95 403.65L1049.13 398.58Z" fill="#000"/>
<path d="M1053.85 405.61L1059.49 405.61L1056.67 400.54Z" fill="#000"/>
<path d="M1061.39 407.13L1067.03 407.13L1064.21 402.06Z" fill="#000"/>
<path d="M1068.94 408.23L1074.57 408.23L1071.75 403.16Z" fill="#000"/>
<path d="M1076.48 408.96L1082.11 408.96L1079.29 403.88Z" fill="#000"/>
<path d="M1084.02 409.33L1089.65 409.33L1086.84 404.26Z" fill="#000"/>
<path d="M1091.56 409.4L1097.19 409.4L1094.38 404.33Z" fill="#000"/>
<path d="M1099.1 409.18L1104.74 409.18L1101.92 404.11Z" fill="#000"/>
<path d="M1106.64 408.65L1112.28 408.65L1109.46 403.58Z" fill="#000"/>
<path d="M1114.18 407.81L1119.82 407.81L1117 402.74Z" fill="#000"/>
<path d="M1121.73 406.62L1127.36 406.62L1124.54 401.55Z" fill="#000"/>
<path d="M1129.27 405.07L1134.9 405.07L1132.08 400Z" fill="#000"/>
<path d="M1136.81 403.14L1142.44 403.14L1139.63 398.07Z" fill="#000"/>
<path d="M1144.35 400.8L1149.98 400.8L1147.17 395.73Z" fill="#000"/>
<path d="M1151.89 398.04L1157.53 398.04L1154.71 392.97Z" fill="#000"/>
<path d="M1159.43 394.84L1165.07 394.84L1162.25 389.77Z" fill="#000"/>
<path d="M1166.97 391.17L1172.61 391.17L1169.79 386.1Z" fill="#000"/>
<path d="M1174.52 387.02L1180.15 387.02L1177.33 381.94Z" fill="#000"/>
<path d="M1182.06 382.36L1187.69 382.36L1184.87 377.29Z" fill="#000"/>
<path d="M1189.6 377.15L1195.23 377.15L1192.42 372.08Z" fill="#000"/>
<path d="M1197.14 371.28L1202.77 371.28L1199.96 366.21Z" fill="#000"/>
<path d="M1204.68 364.61L1210.32 364.61L1207.5 359.54Z" fill="#000"/>
<path d="M1212.22 357.02L1217.86 357.02L1215.04 351.95Z" fill="#000"/>
<path d="M1219.76 348.37L1225.4 348.37L1222.58 343.29Z" fill="#000"/>
<path d="M1227.31 338.53L1232.94 338.53L1230.12 333.45Z" fill="#000"/>
<path d="M1234.85 327.42L1240.48 327.42L1237.66 322.35Z" fill="#000"/>
<path d="M1242.39 315.15L1248.02 315.15L1245.21 310.08Z" fill="#000"/>
<path d="M1249.93 301.82L1255.56 301.82L1252.75 296.75Z" fill="#000"/>
<path d="M1257.47 287.56L1263.11 287.56L1260.29 282.49Z" fill="#000"/>
<path d="M1265.01 272.48L1270.65 272.48L1267.83 267.41Z" fill="#000"/>
<path d="M1272.55 256.73L1278.19 256.73L1275.37 251.66Z" fill="#000"/>
<path d="M1280.1 240.59L1285.73 240.59L1282.91 235.52Z" fill="#000"/>
<path d="M1287.64 224.38L1293.27 224.38L1290.45 219.31Z" fill="#000"/>
<path d="M1295.18 208.41L1300.81 208.41L1298 203.34Z" fill="#000"/>
<path d="M1302.72 193L1308.35 193L1305.54 187.93Z" fill="#000"/>
<path d="M1310.26 178.46L1315.9 178.46L1313.08 173.39Z" fill="#000"/>
<path d="M1317.8 165.04L1323.44 165.04L1320.62 159.97Z" fill="#000"/>
<path d="M1325.34 152.78L1330.98 152.78L1328.16 147.71Z" fill="#000"/>
<path d="M1332.89 141.67L1338.52 141.67L1335.7 136.6Z" fill="#000"/>
<path d="M1340.43 131.7L1346.06 131.7L1343.24 126.63Z" fill="#000"/>
<path d="M1347.97 122.85L1353.6 122.85L1350.79 117.78Z" fill="#000"/>
<path d="M1355.51 115.12L1361.14 115.12L1358.33 110.05Z" fill="#000"/>
<path d="M1363.05 108.46L1368.69 108.46L1365.87 103.39Z" fill="#000"/>
<path d="M1370.59 102.77L1376.23 102.77L1373.41 97.7Z" fill="#000"/>
<path d="M1378.13 97.91L1383.77 97.91L1380.95 92.84Z" fill="#000"/>
<path d="M1385.68 93.74L1391.31 93.74L1388.49 88.67Z" fill="#000"/>
<path d="M1393.22 90.14L1398.85 90.14L1396.03 85.07Z" fill="#000"/>
<path d="M1400.76 86.96L1406.39 86.96L1403.58 81.89Z" fill="#000"/>
<path d="M1408.3 84.07L1413.93 84.07L1411.12 79Z" fill="#000"/>
<path d="M1415.84 81.34L1421.48 81.34L1418.66 76.26Z" fill="#000"/>
<path d="M1423.38 78.63L1429.02 78.63L1426.2 73.55Z" fill="#000"/>
<polyline points="898.3,74.8 900.95,77.03 903.6,79.26 906.26,81.48 908.91,83.7 911.56,85.92 914.21,88.14 916.86,90.35 919.51,92.56 922.17,94.77 924.82,96.97 927.47,99.18 930.12,101.38 932.77,103.58 935.42,105.78 938.08,107.97 940.73,110.17 943.38,112.36 946.03,114.55 948.68,116.74 951.34,118.94 953.99,121.12 956.64,123.31 959.29,125.5 961.94,127.69 964.59,129.88 967.25,132.07 969.9,134.25 972.55,136.44 975.2,138.63 977.85,140.82 980.5,143 983.16,145.19 985.81,147.38 988.46,149.57 991.11,151.76 993.76,153.96 996.42,156.15 999.07,158.35 1001.72,160.54 1004.37,162.74 1007.02,164.94 1009.67,167.14 1012.33,169.34 1014.98,171.55 1017.63,173.76 1020.28,175.97 1022.93,178.18 1025.58,180.39 1028.24,182.61 1030.89,184.83 1033.54,187.06 1036.19,189.28 1038.84,191.51 1041.49,193.74 1044.15,195.98 1046.8,198.22 1049.45,200.46 1052.1,202.71 1054.75,204.96 1057.41,207.22 1060.06,209.48 1062.71,211.74 1065.36,214.01 1068.01,216.28 1070.66,218.56 1073.32,220.84 1075.97,223.13 1078.62,225.42 1081.27,227.72 1083.92,230.02 1086.57,232.33 1089.23,234.65 1091.88,236.96 1094.53,239.29 1097.18,241.61 1099.83,243.95 1102.49,246.28 1105.14,248.61 1107.79,250.95 1110.44,253.29 1113.09,255.63 1115.74,257.97 1118.4,260.31 1121.05,262.65 1123.7,264.98 1126.35,267.32 1129,269.65 1131.65,271.98 1134.31,274.3 1136.96,276.62 1139.61,278.94 1142.26,281.25 1144.91,283.55 1147.57,285.85 1150.22,288.14 1152.87,290.42 1155.52,292.69 1158.17,294.96 1160.82,297.22 1163.48,299.46 1166.13,301.7 1168.78,303.92 1171.43,306.14 1174.08,308.34 1176.73,310.53 1179.39,312.7 1182.04,314.86 1184.69,317.01 1187.34,319.14 1189.99,321.26 1192.65,323.36 1195.3,325.45 1197.95,327.51 1200.6,329.56 1203.25,331.59 1205.9,333.61 1208.56,335.6 1211.21,337.58 1213.86,339.53 1216.51,341.46 1219.16,343.37 1221.81,345.26 1224.47,347.13 1227.12,348.97 1229.77,350.79 1232.42,352.59 1235.07,354.36 1237.73,356.1 1240.38,357.82 1243.03,359.52 1245.68,361.18 1248.33,362.82 1250.98,364.43 1253.64,366.01 1256.29,367.56 1258.94,369.08 1261.59,370.56 1264.24,372.01 1266.89,373.43 1269.55,374.81 1272.2,376.15 1274.85,377.46 1277.5,378.72 1280.15,379.95 1282.81,381.14 1285.46,382.28 1288.11,383.38 1290.76,384.44 1293.41,385.46 1296.06,386.43 1298.72,387.35 1301.37,388.24 1304.02,389.08 1306.67,389.88 1309.32,390.64 1311.97,391.36 1314.63,392.04 1317.28,392.69 1319.93,393.29 1322.58,393.86 1325.23,394.39 1327.88,394.88 1330.54,395.34 1333.19,395.76 1335.84,396.15 1338.49,396.5 1341.14,396.82 1343.8,397.11 1346.45,397.37 1349.1,397.61 1351.75,397.81 1354.4,398 1357.05,398.16 1359.71,398.29 1362.36,398.41 1365.01,398.51 1367.66,398.6 1370.31,398.67 1372.96,398.72 1375.62,398.77 1378.27,398.8 1380.92,398.82 1383.57,398.84 1386.22,398.85 1388.88,398.86 1391.53,398.86 1394.18,398.87 1396.83,398.87 1399.48,398.88 1402.13,398.88 1404.79,398.9 1407.44,398.92 1410.09,398.95 1412.74,398.99 1415.39,399.04 1418.04,399.1 1420.7,399.18 1423.35,399.28 1426,399.39" fill="none" stroke="#333333" stroke-width="1.4" stroke-linejoin="round" style="mix-blend-mode:darken" />
<polyline points="898.3,80.93 900.95,82.25 903.6,83.62 906.26,85.04 908.91,86.52 911.56,88.05 914.21,89.63 916.86,91.25 919.51,92.93 922.17,94.64 924.82,96.4 927.47,98.2 930.12,100.04 932.77,101.92 935.42,103.83 938.08,105.78 940.73,107.76 943.38,109.78 946.03,111.82 948.68,113.89 951.34,115.99 953.99,118.11 956.64,120.26 959.29,122.43 961.94,124.62 964.59,126.83 967.25,129.06 969.9,131.3 972.55,133.56 975.2,135.83 977.85,138.11 980.5,140.4 983.16,142.69 985.81,145 988.46,147.31 991.11,149.62 993.76,151.93 996.42,154.25 999.07,156.57 1001.72,158.89 1004.37,161.22 1007.02,163.55 1009.67,165.88 1012.33,168.21 1014.98,170.55 1017.63,172.89 1020.28,175.23 1022.93,177.57 1025.58,179.91 1028.24,182.26 1030.89,184.61 1033.54,186.95 1036.19,189.31 1038.84,191.66 1041.49,194.01 1044.15,196.36 1046.8,198.72 1049.45,201.08 1052.1,203.43 1054.75,205.79 1057.41,208.15 1060.06,210.51 1062.71,212.87 1065.36,215.23 1068.01,217.59 1070.66,219.95 1073.32,222.31 1075.97,224.67 1078.62,227.03 1081.27,229.39 1083.92,231.75 1086.57,234.11 1089.23,236.47 1091.88,238.83 1094.53,241.18 1097.18,243.54 1099.83,245.9 1102.49,248.25 1105.14,250.6 1107.79,252.96 1110.44,255.31 1113.09,257.66 1115.74,260.01 1118.4,262.35 1121.05,264.7 1123.7,267.04 1126.35,269.38 1129,271.72 1131.65,274.06 1134.31,276.39 1136.96,278.73 1139.61,281.06 1142.26,283.38 1144.91,285.71 1147.57,288.03 1150.22,290.34 1152.87,292.65 1155.52,294.96 1158.17,297.26 1160.82,299.55 1163.48,301.84 1166.13,304.12 1168.78,306.4 1171.43,308.67 1174.08,310.93 1176.73,313.18 1179.39,315.42 1182.04,317.66 1184.69,319.89 1187.34,322.1 1189.99,324.31 1192.65,326.51 1195.3,328.7 1197.95,330.87 1200.6,333.04 1203.25,335.19 1205.9,337.33 1208.56,339.46 1211.21,341.58 1213.86,343.68 1216.51,345.77 1219.16,347.85 1221.81,349.91 1224.47,351.95 1227.12,353.98 1229.77,355.99 1232.42,357.97 1235.07,359.93 1237.73,361.87 1240.38,363.77 1243.03,365.65 1245.68,367.5 1248.33,369.31 1250.98,371.09 1253.64,372.83 1256.29,374.54 1258.94,376.2 1261.59,377.82 1264.24,379.4 1266.89,380.93 1269.55,382.42 1272.2,383.85 1274.85,385.24 1277.5,386.57 1280.15,387.85 1282.81,389.08 1285.46,390.26 1288.11,391.39 1290.76,392.47 1293.41,393.51 1296.06,394.5 1298.72,395.45 1301.37,396.35 1304.02,397.21 1306.67,398.02 1309.32,398.8 1311.97,399.54 1314.63,400.24 1317.28,400.9 1319.93,401.52 1322.58,402.11 1325.23,402.66 1327.88,403.18 1330.54,403.67 1333.19,404.12 1335.84,404.55 1338.49,404.94 1341.14,405.31 1343.8,405.65 1346.45,405.96 1349.1,406.24 1351.75,406.51 1354.4,406.74 1357.05,406.96 1359.71,407.15 1362.36,407.32 1365.01,407.48 1367.66,407.61 1370.31,407.73 1372.96,407.83 1375.62,407.92 1378.27,407.99 1380.92,408.04 1383.57,408.09 1386.22,408.12 1388.88,408.14 1391.53,408.15 1394.18,408.16 1396.83,408.15 1399.48,408.14 1402.13,408.13 1404.79,408.11 1407.44,408.08 1410.09,408.06 1412.74,408.03 1415.39,408 1418.04,407.97 1420.7,407.94 1423.35,407.92 1426,407.9" fill="none" stroke="#333333" stroke-width="1.4" stroke-linejoin="round" style="mix-blend-mode:darken" />
<polyline points="898.3,86.26 900.95,87.48 903.6,88.74 906.26,90.03 908.91,91.37 911.56,92.73 914.21,94.14 916.86,95.57 919.51,97.04 922.17,98.55 924.82,100.08 927.47,101.65 930.12,103.25 932.77,104.88 935.42,106.54 938.08,108.23 940.73,109.95 943.38,111.7 946.03,113.47 948.68,115.27 951.34,117.1 953.99,118.95 956.64,120.83 959.29,122.73 961.94,124.66 964.59,126.61 967.25,128.58 969.9,130.58 972.55,132.59 975.2,134.63 977.85,136.69 980.5,138.77 983.16,140.86 985.81,142.98 988.46,145.11 991.11,147.26 993.76,149.42 996.42,151.61 999.07,153.8 1001.72,156.02 1004.37,158.24 1007.02,160.48 1009.67,162.73 1012.33,165 1014.98,167.28 1017.63,169.56 1020.28,171.86 1022.93,174.17 1025.58,176.49 1028.24,178.81 1030.89,181.15 1033.54,183.49 1036.19,185.84 1038.84,188.19 1041.49,190.55 1044.15,192.92 1046.8,195.29 1049.45,197.66 1052.1,200.04 1054.75,202.42 1057.41,204.8 1060.06,207.18 1062.71,209.56 1065.36,211.95 1068.01,214.33 1070.66,216.71 1073.32,219.09 1075.97,221.47 1078.62,223.84 1081.27,226.21 1083.92,228.58 1086.57,230.94 1089.23,233.3 1091.88,235.65 1094.53,238 1097.18,240.34 1099.83,242.68 1102.49,245.01 1105.14,247.34 1107.79,249.66 1110.44,251.98 1113.09,254.3 1115.74,256.62 1118.4,258.93 1121.05,261.24 1123.7,263.55 1126.35,265.85 1129,268.15 1131.65,270.45 1134.31,272.75 1136.96,275.05 1139.61,277.35 1142.26,279.65 1144.91,281.94 1147.57,284.24 1150.22,286.53 1152.87,288.83 1155.52,291.12 1158.17,293.42 1160.82,295.72 1163.48,298.01 1166.13,300.31 1168.78,302.61 1171.43,304.92 1174.08,307.22 1176.73,309.53 1179.39,311.84 1182.04,314.15 1184.69,316.46 1187.34,318.78 1189.99,321.1 1192.65,323.42 1195.3,325.75 1197.95,328.08 1200.6,330.42 1203.25,332.76 1205.9,335.1 1208.56,337.43 1211.21,339.75 1213.86,342.06 1216.51,344.34 1219.16,346.61 1221.81,348.85 1224.47,351.06 1227.12,353.24 1229.77,355.38 1232.42,357.48 1235.07,359.53 1237.73,361.53 1240.38,363.48 1243.03,365.37 1245.68,367.21 1248.33,369 1250.98,370.74 1253.64,372.42 1256.29,374.06 1258.94,375.65 1261.59,377.19 1264.24,378.68 1266.89,380.13 1269.55,381.53 1272.2,382.88 1274.85,384.19 1277.5,385.45 1280.15,386.67 1282.81,387.85 1285.46,388.98 1288.11,390.08 1290.76,391.13 1293.41,392.14 1296.06,393.11 1298.72,394.05 1301.37,394.95 1304.02,395.81 1306.67,396.63 1309.32,397.41 1311.97,398.17 1314.63,398.88 1317.28,399.57 1319.93,400.21 1322.58,400.83 1325.23,401.42 1327.88,401.97 1330.54,402.5 1333.19,402.99 1335.84,403.46 1338.49,403.89 1341.14,404.3 1343.8,404.68 1346.45,405.04 1349.1,405.37 1351.75,405.68 1354.4,405.96 1357.05,406.22 1359.71,406.45 1362.36,406.67 1365.01,406.86 1367.66,407.03 1370.31,407.18 1372.96,407.31 1375.62,407.43 1378.27,407.52 1380.92,407.6 1383.57,407.66 1386.22,407.71 1388.88,407.74 1391.53,407.75 1394.18,407.76 1396.83,407.75 1399.48,407.72 1402.13,407.69 1404.79,407.64 1407.44,407.59 1410.09,407.52 1412.74,407.45 1415.39,407.37 1418.04,407.28 1420.7,407.18 1423.35,407.08 1426,406.97" fill="none" stroke="#333333" stroke-width="1.4" stroke-linejoin="round" style="mix-blend-mode:darken" />
<polyline points="898.3,365.99 900.95,366.59 903.6,367.2 906.26,367.82 908.91,368.46 911.56,369.1 914.21,369.76 916.86,370.42 919.51,371.09 922.17,371.77 924.82,372.45 927.47,373.13 930.12,373.81 932.77,374.49 935.42,375.16 938.08,375.83 940.73,376.5 943.38,377.15 946.03,377.8 948.68,378.43 951.34,379.06 953.99,379.66 956.64,380.26 959.29,380.83 961.94,381.39 964.59,381.92 967.25,382.44 969.9,382.94 972.55,383.43 975.2,383.89 977.85,384.33 980.5,384.76 983.16,385.17 985.81,385.56 988.46,385.93 991.11,386.28 993.76,386.62 996.42,386.94 999.07,387.23 1001.72,387.52 1004.37,387.78 1007.02,388.02 1009.67,388.25 1012.33,388.45 1014.98,388.64 1017.63,388.81 1020.28,388.97 1022.93,389.1 1025.58,389.22 1028.24,389.32 1030.89,389.4 1033.54,389.47 1036.19,389.52 1038.84,389.55 1041.49,389.57 1044.15,389.57 1046.8,389.56 1049.45,389.54 1052.1,389.5 1054.75,389.44 1057.41,389.38 1060.06,389.29 1062.71,389.2 1065.36,389.09 1068.01,388.98 1070.66,388.85 1073.32,388.7 1075.97,388.55 1078.62,388.39 1081.27,388.21 1083.92,388.03 1086.57,387.84 1089.23,387.63 1091.88,387.42 1094.53,387.2 1097.18,386.97 1099.83,386.73 1102.49,386.49 1105.14,386.23 1107.79,385.97 1110.44,385.71 1113.09,385.43 1115.74,385.15 1118.4,384.85 1121.05,384.54 1123.7,384.21 1126.35,383.87 1129,383.5 1131.65,383.11 1134.31,382.69 1136.96,382.24 1139.61,381.76 1142.26,381.25 1144.91,380.7 1147.57,380.11 1150.22,379.49 1152.87,378.82 1155.52,378.11 1158.17,377.34 1160.82,376.53 1163.48,375.67 1166.13,374.75 1168.78,373.77 1171.43,372.74 1174.08,371.64 1176.73,370.48 1179.39,369.26 1182.04,367.96 1184.69,366.59 1187.34,365.13 1189.99,363.59 1192.65,361.97 1195.3,360.24 1197.95,358.42 1200.6,356.5 1203.25,354.46 1205.9,352.32 1208.56,350.05 1211.21,347.66 1213.86,345.15 1216.51,342.5 1219.16,339.72 1221.81,336.8 1224.47,333.73 1227.12,330.51 1229.77,327.13 1232.42,323.6 1235.07,319.9 1237.73,316.03 1240.38,311.99 1243.03,307.77 1245.68,303.37 1248.33,298.78 1250.98,294.03 1253.64,289.12 1256.29,284.07 1258.94,278.88 1261.59,273.58 1264.24,268.16 1266.89,262.65 1269.55,257.06 1272.2,251.4 1274.85,245.69 1277.5,239.92 1280.15,234.13 1282.81,228.31 1285.46,222.48 1288.11,216.66 1290.76,210.86 1293.41,205.08 1296.06,199.35 1298.72,193.67 1301.37,188.06 1304.02,182.52 1306.67,177.08 1309.32,171.74 1311.97,166.53 1314.63,161.45 1317.28,156.54 1319.93,151.8 1322.58,147.25 1325.23,142.91 1327.88,138.8 1330.54,134.93 1333.19,131.32 1335.84,127.99 1338.49,124.92 1341.14,122.07 1343.8,119.38 1346.45,116.8 1349.1,114.27 1351.75,111.76 1354.4,109.26 1357.05,106.82 1359.71,104.5 1362.36,102.33 1365.01,100.36 1367.66,98.63 1370.31,97.13 1372.96,95.83 1375.62,94.71 1378.27,93.74 1380.92,92.92 1383.57,92.2 1386.22,91.57 1388.88,91.01 1391.53,90.49 1394.18,89.99 1396.83,89.48 1399.48,88.96 1402.13,88.38 1404.79,87.73 1407.44,86.98 1410.09,86.11 1412.74,85.1 1415.39,83.84 1418.04,82.26 1420.7,80.25 1423.35,77.72 1426,74.59" fill="none" stroke="#333333" stroke-width="1.4" stroke-linejoin="round" style="mix-blend-mode:darken" />
<polyline points="898.9,255.7 901.55,259.12 904.2,262.67 906.85,266.34 909.49,270.11 912.14,273.97 914.79,277.91 917.44,281.92 920.09,285.98 922.74,290.08 925.39,294.2 928.04,298.34 930.68,302.49 933.33,306.62 935.98,310.72 938.63,314.79 941.28,318.81 943.93,322.76 946.58,326.64 949.23,330.45 951.87,334.18 954.52,337.83 957.17,341.39 959.82,344.86 962.47,348.24 965.12,351.53 967.77,354.72 970.42,357.81 973.06,360.8 975.71,363.68 978.36,366.45 981.01,369.11 983.66,371.66 986.31,374.09 988.96,376.41 991.61,378.63 994.25,380.74 996.9,382.75 999.55,384.66 1002.2,386.48 1004.85,388.2 1007.5,389.83 1010.15,391.37 1012.8,392.83 1015.44,394.2 1018.09,395.49 1020.74,396.71 1023.39,397.85 1026.04,398.92 1028.69,399.92 1031.34,400.85 1033.99,401.72 1036.63,402.52 1039.28,403.27 1041.93,403.96 1044.58,404.59 1047.23,405.18 1049.88,405.72 1052.53,406.21 1055.18,406.66 1057.82,407.07 1060.47,407.44 1063.12,407.77 1065.77,408.08 1068.42,408.35 1071.07,408.6 1073.72,408.82 1076.37,409.02 1079.01,409.19 1081.66,409.33 1084.31,409.45 1086.96,409.54 1089.61,409.59 1092.26,409.62 1094.91,409.61 1097.56,409.57 1100.2,409.49 1102.85,409.38 1105.5,409.23 1108.15,409.04 1110.8,408.81 1113.45,408.54 1116.1,408.23 1118.75,407.88 1121.39,407.49 1124.04,407.05 1126.69,406.56 1129.34,406.03 1131.99,405.45 1134.64,404.82 1137.29,404.14 1139.94,403.41 1142.58,402.63 1145.23,401.79 1147.88,400.9 1150.53,399.95 1153.18,398.95 1155.83,397.89 1158.48,396.77 1161.13,395.59 1163.77,394.35 1166.42,393.05 1169.07,391.68 1171.72,390.25 1174.37,388.76 1177.02,387.19 1179.67,385.56 1182.32,383.86 1184.96,382.08 1187.61,380.22 1190.26,378.27 1192.91,376.23 1195.56,374.09 1198.21,371.85 1200.86,369.5 1203.51,367.05 1206.15,364.48 1208.8,361.79 1211.45,358.97 1214.1,356.03 1216.75,352.95 1219.4,349.73 1222.05,346.37 1224.7,342.86 1227.34,339.2 1229.99,335.38 1232.64,331.4 1235.29,327.25 1237.94,322.92 1240.59,318.43 1243.24,313.77 1245.89,308.96 1248.53,304.02 1251.18,298.94 1253.83,293.75 1256.48,288.45 1259.13,283.05 1261.78,277.58 1264.43,272.03 1267.08,266.43 1269.72,260.77 1272.37,255.08 1275.02,249.36 1277.67,243.63 1280.32,237.89 1282.97,232.16 1285.62,226.45 1288.27,220.76 1290.91,215.12 1293.56,209.52 1296.21,203.98 1298.86,198.51 1301.51,193.12 1304.16,187.82 1306.81,182.62 1309.46,177.53 1312.1,172.56 1314.75,167.73 1317.4,163.04 1320.05,158.5 1322.7,154.12 1325.35,149.9 1328,145.84 1330.65,141.94 1333.29,138.19 1335.94,134.6 1338.59,131.15 1341.24,127.86 1343.89,124.71 1346.54,121.7 1349.19,118.84 1351.84,116.12 1354.48,113.53 1357.13,111.08 1359.78,108.75 1362.43,106.54 1365.08,104.45 1367.73,102.47 1370.38,100.59 1373.03,98.81 1375.67,97.13 1378.32,95.54 1380.97,94.04 1383.62,92.61 1386.27,91.26 1388.92,89.97 1391.57,88.75 1394.22,87.59 1396.86,86.49 1399.51,85.43 1402.16,84.42 1404.81,83.44 1407.46,82.5 1410.11,81.59 1412.76,80.7 1415.41,79.83 1418.05,78.97 1420.7,78.12 1423.35,77.27 1426,76.42" fill="none" stroke="#333333" stroke-width="1.4" stroke-linejoin="round" style="mix-blend-mode:darken" />
<polyline points="898.9,229.02 901.55,231.83 904.2,234.87 906.85,238.12 909.49,241.58 912.14,245.22 914.79,249.03 917.44,253 920.09,257.1 922.74,261.32 925.39,265.64 928.04,270.05 930.68,274.53 933.33,279.07 935.98,283.65 938.63,288.25 941.28,292.85 943.93,297.45 946.58,302.02 949.23,306.56 951.87,311.04 954.52,315.47 957.17,319.83 959.82,324.11 962.47,328.29 965.12,332.37 967.77,336.34 970.42,340.18 973.06,343.9 975.71,347.5 978.36,350.97 981.01,354.31 983.66,357.53 986.31,360.6 988.96,363.55 991.61,366.35 994.25,369.03 996.9,371.57 999.55,373.99 1002.2,376.29 1004.85,378.47 1007.5,380.54 1010.15,382.5 1012.8,384.36 1015.44,386.12 1018.09,387.78 1020.74,389.35 1023.39,390.83 1026.04,392.22 1028.69,393.54 1031.34,394.78 1033.99,395.95 1036.63,397.05 1039.28,398.08 1041.93,399.05 1044.58,399.96 1047.23,400.8 1049.88,401.59 1052.53,402.31 1055.18,402.98 1057.82,403.59 1060.47,404.15 1063.12,404.65 1065.77,405.11 1068.42,405.51 1071.07,405.87 1073.72,406.17 1076.37,406.43 1079.01,406.65 1081.66,406.83 1084.31,406.96 1086.96,407.05 1089.61,407.11 1092.26,407.13 1094.91,407.11 1097.56,407.06 1100.2,406.97 1102.85,406.85 1105.5,406.68 1108.15,406.48 1110.8,406.25 1113.45,405.97 1116.1,405.64 1118.75,405.28 1121.39,404.88 1124.04,404.43 1126.69,403.93 1129.34,403.4 1131.99,402.81 1134.64,402.18 1137.29,401.5 1139.94,400.77 1142.58,399.99 1145.23,399.16 1147.88,398.28 1150.53,397.34 1153.18,396.35 1155.83,395.31 1158.48,394.22 1161.13,393.06 1163.77,391.85 1166.42,390.58 1169.07,389.26 1171.72,387.87 1174.37,386.43 1177.02,384.92 1179.67,383.35 1182.32,381.71 1184.96,380.02 1187.61,378.25 1190.26,376.42 1192.91,374.5 1195.56,372.51 1198.21,370.42 1200.86,368.25 1203.51,365.97 1206.15,363.58 1208.8,361.08 1211.45,358.47 1214.1,355.74 1216.75,352.87 1219.4,349.87 1222.05,346.73 1224.7,343.45 1227.34,340.02 1229.99,336.42 1232.64,332.67 1235.29,328.77 1237.94,324.71 1240.59,320.52 1243.24,316.18 1245.89,311.71 1248.53,307.11 1251.18,302.38 1253.83,297.54 1256.48,292.59 1259.13,287.52 1261.78,282.36 1264.43,277.09 1267.08,271.74 1269.72,266.29 1272.37,260.77 1275.02,255.19 1277.67,249.55 1280.32,243.88 1282.97,238.19 1285.62,232.49 1288.27,226.79 1290.91,221.12 1293.56,215.47 1296.21,209.87 1298.86,204.33 1301.51,198.86 1304.16,193.48 1306.81,188.2 1309.46,183.03 1312.1,177.99 1314.75,173.1 1317.4,168.34 1320.05,163.73 1322.7,159.26 1325.35,154.94 1328,150.76 1330.65,146.71 1333.29,142.81 1335.94,139.06 1338.59,135.44 1341.24,131.96 1343.89,128.62 1346.54,125.42 1349.19,122.35 1351.84,119.43 1354.48,116.64 1357.13,113.99 1359.78,111.47 1362.43,109.09 1365.08,106.83 1367.73,104.69 1370.38,102.67 1373.03,100.76 1375.67,98.95 1378.32,97.24 1380.97,95.62 1383.62,94.08 1386.27,92.63 1388.92,91.25 1391.57,89.93 1394.22,88.68 1396.86,87.49 1399.51,86.34 1402.16,85.25 1404.81,84.19 1407.46,83.16 1410.11,82.16 1412.76,81.18 1415.41,80.22 1418.05,79.27 1420.7,78.32 1423.35,77.37 1426,76.42" fill="none" stroke="#333333" stroke-width="1.4" stroke-linejoin="round" style="mix-blend-mode:darken" />
<rect x="898.3" y="48.3" width="527.9" height="393.0" fill="none" stroke="#2b2b2b" stroke-width="1.7"/>
<line x1="898.3" y1="402" x2="906.3" y2="402" stroke="#2b2b2b" stroke-width="1.5"/>
<text transform="translate(889.8,406.8) scale(1,1.075)" font-size="16.3" text-anchor="end" font-family='"Liberation Serif", serif' font-weight="bold">1</text>
<line x1="898.3" y1="323.4" x2="906.3" y2="323.4" stroke="#2b2b2b" stroke-width="1.5"/>
<text transform="translate(889.8,328.2) scale(1,1.075)" font-size="16.3" text-anchor="end" font-family='"Liberation Serif", serif' font-weight="bold">2</text>
<line x1="898.3" y1="244.8" x2="906.3" y2="244.8" stroke="#2b2b2b" stroke-width="1.5"/>
<text transform="translate(889.8,249.6) scale(1,1.075)" font-size="16.3" text-anchor="end" font-family='"Liberation Serif", serif' font-weight="bold">3</text>
<line x1="898.3" y1="166.2" x2="906.3" y2="166.2" stroke="#2b2b2b" stroke-width="1.5"/>
<text transform="translate(889.8,171) scale(1,1.075)" font-size="16.3" text-anchor="end" font-family='"Liberation Serif", serif' font-weight="bold">4</text>
<line x1="898.3" y1="87.6" x2="906.3" y2="87.6" stroke="#2b2b2b" stroke-width="1.5"/>
<text transform="translate(889.8,92.4) scale(1,1.075)" font-size="16.3" text-anchor="end" font-family='"Liberation Serif", serif' font-weight="bold">5</text>
<line x1="1426.2" y1="70.13" x2="1418.7" y2="70.13" stroke="#2b2b2b" stroke-width="1.5"/>
<text transform="translate(1434.2,74.93) scale(1,1.075)" font-size="16.3" text-anchor="start" font-family='"Liberation Serif", serif' font-weight="bold">0</text>
<line x1="1426.2" y1="113.8" x2="1418.7" y2="113.8" stroke="#2b2b2b" stroke-width="1.5"/>
<text transform="translate(1434.2,118.6) scale(1,1.075)" font-size="16.3" text-anchor="start" font-family='"Liberation Serif", serif' font-weight="bold">-10</text>
<line x1="1426.2" y1="157.47" x2="1418.7" y2="157.47" stroke="#2b2b2b" stroke-width="1.5"/>
<text transform="translate(1434.2,162.27) scale(1,1.075)" font-size="16.3" text-anchor="start" font-family='"Liberation Serif", serif' font-weight="bold">-20</text>
<line x1="1426.2" y1="201.13" x2="1418.7" y2="201.13" stroke="#2b2b2b" stroke-width="1.5"/>
<text transform="translate(1434.2,205.93) scale(1,1.075)" font-size="16.3" text-anchor="start" font-family='"Liberation Serif", serif' font-weight="bold">-30</text>
<line x1="1426.2" y1="244.8" x2="1418.7" y2="244.8" stroke="#2b2b2b" stroke-width="1.5"/>
<text transform="translate(1434.2,249.6) scale(1,1.075)" font-size="16.3" text-anchor="start" font-family='"Liberation Serif", serif' font-weight="bold">-40</text>
<line x1="1426.2" y1="288.47" x2="1418.7" y2="288.47" stroke="#2b2b2b" stroke-width="1.5"/>
<text transform="translate(1434.2,293.27) scale(1,1.075)" font-size="16.3" text-anchor="start" font-family='"Liberation Serif", serif' font-weight="bold">-50</text>
<line x1="1426.2" y1="332.13" x2="1418.7" y2="332.13" stroke="#2b2b2b" stroke-width="1.5"/>
<text transform="translate(1434.2,336.93) scale(1,1.075)" font-size="16.3" text-anchor="start" font-family='"Liberation Serif", serif' font-weight="bold">-60</text>
<line x1="1426.2" y1="375.8" x2="1418.7" y2="375.8" stroke="#2b2b2b" stroke-width="1.5"/>
<text transform="translate(1434.2,380.6) scale(1,1.075)" font-size="16.3" text-anchor="start" font-family='"Liberation Serif", serif' font-weight="bold">-70</text>
<line x1="1426.2" y1="419.47" x2="1418.7" y2="419.47" stroke="#2b2b2b" stroke-width="1.5"/>
<text transform="translate(1434.2,424.27) scale(1,1.075)" font-size="16.3" text-anchor="start" font-family='"Liberation Serif", serif' font-weight="bold">-80</text>
<text transform="translate(898.3,462.5) scale(1,1.075)" font-size="16.3" text-anchor="middle" font-family='"Liberation Serif", serif' font-weight="bold">-2</text>
<line x1="973.71" y1="441.3" x2="973.71" y2="433.8" stroke="#2b2b2b" stroke-width="1.5"/>
<text transform="translate(973.71,462.5) scale(1,1.075)" font-size="16.3" text-anchor="middle" font-family='"Liberation Serif", serif' font-weight="bold">-1</text>
<line x1="1049.13" y1="441.3" x2="1049.13" y2="433.8" stroke="#2b2b2b" stroke-width="1.5"/>
<text transform="translate(1049.13,462.5) scale(1,1.075)" font-size="16.3" text-anchor="middle" font-family='"Liberation Serif", serif' font-weight="bold">0</text>
<line x1="1124.54" y1="441.3" x2="1124.54" y2="433.8" stroke="#2b2b2b" stroke-width="1.5"/>
<text transform="translate(1124.54,462.5) scale(1,1.075)" font-size="16.3" text-anchor="middle" font-family='"Liberation Serif", serif' font-weight="bold">1</text>
<line x1="1199.96" y1="441.3" x2="1199.96" y2="433.8" stroke="#2b2b2b" stroke-width="1.5"/>
<text transform="translate(1199.96,462.5) scale(1,1.075)" font-size="16.3" text-anchor="middle" font-family='"Liberation Serif", serif' font-weight="bold">2</text>
<line x1="1275.37" y1="441.3" x2="1275.37" y2="433.8" stroke="#2b2b2b" stroke-width="1.5"/>
<text transform="translate(1275.37,462.5) scale(1,1.075)" font-size="16.3" text-anchor="middle" font-family='"Liberation Serif", serif' font-weight="bold">3</text>
<line x1="1350.79" y1="441.3" x2="1350.79" y2="433.8" stroke="#2b2b2b" stroke-width="1.5"/>
<text transform="translate(1350.79,462.5) scale(1,1.075)" font-size="16.3" text-anchor="middle" font-family='"Liberation Serif", serif' font-weight="bold">4</text>
<text transform="translate(1426.2,462.5) scale(1,1.075)" font-size="16.3" text-anchor="middle" font-family='"Liberation Serif", serif' font-weight="bold">5</text>
<rect x="896.05" y="618.76" width="4.51" height="4.51" fill="#000"/>
<rect x="903.59" y="625.38" width="4.51" height="4.51" fill="#000"/>
<rect x="911.13" y="631.98" width="4.51" height="4.51" fill="#000"/>
<rect x="918.67" y="638.59" width="4.51" height="4.51" fill="#000"/>
<rect x="926.21" y="645.19" width="4.51" height="4.51" fill="#000"/>
<rect x="933.75" y="651.79" width="4.51" height="4.51" fill="#000"/>
<rect x="941.29" y="658.39" width="4.51" height="4.51" fill="#000"/>
<rect x="948.84" y="665" width="4.51" height="4.51" fill="#000"/>
<rect x="956.38" y="671.61" width="4.51" height="4.51" fill="#000"/>
<rect x="963.92" y="678.24" width="4.51" height="4.51" fill="#000"/>
<rect x="971.46" y="684.87" width="4.51" height="4.51" fill="#000"/>
<rect x="979" y="691.52" width="4.51" height="4.51" fill="#000"/>
<rect x="986.54" y="698.18" width="4.51" height="4.51" fill="#000"/>
<rect x="994.08" y="704.86" width="4.51" height="4.51" fill="#000"/>
<rect x="1001.63" y="711.56" width="4.51" height="4.51" fill="#000"/>
<rect x="1009.17" y="718.28" width="4.51" height="4.51" fill="#000"/>
<rect x="1016.71" y="725.02" width="4.51" height="4.51" fill="#000"/>
<rect x="1024.25" y="731.78" width="4.51" height="4.51" fill="#000"/>
<rect x="1031.79" y="738.58" width="4.51" height="4.51" fill="#000"/>
<rect x="1039.33" y="745.4" width="4.51" height="4.51" fill="#000"/>
<rect x="1046.87" y="752.26" width="4.51" height="4.51" fill="#000"/>
<rect x="1054.42" y="759.14" width="4.51" height="4.51" fill="#000"/>
<rect x="1061.96" y="766.07" width="4.51" height="4.51" fill="#000"/>
<rect x="1069.5" y="773.03" width="4.51" height="4.51" fill="#000"/>
<rect x="1077.04" y="780.03" width="4.51" height="4.51" fill="#000"/>
<rect x="1084.58" y="787.07" width="4.51" height="4.51" fill="#000"/>
<rect x="1092.12" y="794.16" width="4.51" height="4.51" fill="#000"/>
<rect x="1099.66" y="801.29" width="4.51" height="4.51" fill="#000"/>
<rect x="1107.21" y="808.47" width="4.51" height="4.51" fill="#000"/>
<rect x="1114.75" y="815.7" width="4.51" height="4.51" fill="#000"/>
<rect x="1122.29" y="822.97" width="4.51" height="4.51" fill="#000"/>
<rect x="1129.83" y="830.28" width="4.51" height="4.51" fill="#000"/>
<rect x="1137.37" y="837.58" width="4.51" height="4.51" fill="#000"/>
<rect x="1144.91" y="844.85" width="4.51" height="4.51" fill="#000"/>
<rect x="1152.45" y="852.07" width="4.51" height="4.51" fill="#000"/>
<rect x="1160" y="859.21" width="4.51" height="4.51" fill="#000"/>
<rect x="1167.54" y="866.25" width="4.51" height="4.51" fill="#000"/>
<rect x="1175.08" y="873.16" width="4.51" height="4.51" fill="#000"/>
<rect x="1182.62" y="879.92" width="4.51" height="4.51" fill="#000"/>
<rect x="1190.16" y="886.49" width="4.51" height="4.51" fill="#000"/>
<rect x="1197.7" y="892.86" width="4.51" height="4.51" fill="#000"/>
<rect x="1205.24" y="898.99" width="4.51" height="4.51" fill="#000"/>
<rect x="1212.79" y="904.86" width="4.51" height="4.51" fill="#000"/>
<rect x="1220.33" y="910.46" width="4.51" height="4.51" fill="#000"/>
<rect x="1227.87" y="915.75" width="4.51" height="4.51" fill="#000"/>
<rect x="1235.41" y="920.71" width="4.51" height="4.51" fill="#000"/>
<rect x="1242.95" y="925.32" width="4.51" height="4.51" fill="#000"/>
<rect x="1250.49" y="929.56" width="4.51" height="4.51" fill="#000"/>
<rect x="1258.03" y="933.39" width="4.51" height="4.51" fill="#000"/>
<rect x="1265.58" y="936.8" width="4.51" height="4.51" fill="#000"/>
<rect x="1273.12" y="939.77" width="4.51" height="4.51" fill="#000"/>
<rect x="1280.66" y="942.33" width="4.51" height="4.51" fill="#000"/>
<rect x="1288.2" y="944.51" width="4.51" height="4.51" fill="#000"/>
<rect x="1295.74" y="946.33" width="4.51" height="4.51" fill="#000"/>
<rect x="1303.28" y="947.83" width="4.51" height="4.51" fill="#000"/>
<rect x="1310.82" y="949.05" width="4.51" height="4.51" fill="#000"/>
<rect x="1318.37" y="950" width="4.51" height="4.51" fill="#000"/>
<rect x="1325.91" y="950.73" width="4.51" height="4.51" fill="#000"/>
<rect x="1333.45" y="951.26" width="4.51" height="4.51" fill="#000"/>
<rect x="1340.99" y="951.63" width="4.51" height="4.51" fill="#000"/>
<rect x="1348.53" y="951.87" width="4.51" height="4.51" fill="#000"/>
<rect x="1356.07" y="952" width="4.51" height="4.51" fill="#000"/>
<rect x="1363.61" y="952.06" width="4.51" height="4.51" fill="#000"/>
<rect x="1371.16" y="952.09" width="4.51" height="4.51" fill="#000"/>
<rect x="1378.7" y="952.11" width="4.51" height="4.51" fill="#000"/>
<rect x="1386.24" y="952.15" width="4.51" height="4.51" fill="#000"/>
<rect x="1393.78" y="952.24" width="4.51" height="4.51" fill="#000"/>
<rect x="1401.32" y="952.43" width="4.51" height="4.51" fill="#000"/>
<rect x="1408.86" y="952.73" width="4.51" height="4.51" fill="#000"/>
<rect x="1416.4" y="953.18" width="4.51" height="4.51" fill="#000"/>
<rect x="1423.95" y="953.81" width="4.51" height="4.51" fill="#000"/>
<circle cx="898.3" cy="632.56" r="2.45" fill="#f00"/>
<circle cx="905.84" cy="636.12" r="2.45" fill="#f00"/>
<circle cx="913.38" cy="640.04" r="2.45" fill="#f00"/>
<circle cx="920.92" cy="644.29" r="2.45" fill="#f00"/>
<circle cx="928.47" cy="648.86" r="2.45" fill="#f00"/>
<circle cx="936.01" cy="653.72" r="2.45" fill="#f00"/>
<circle cx="943.55" cy="658.85" r="2.45" fill="#f00"/>
<circle cx="951.09" cy="664.22" r="2.45" fill="#f00"/>
<circle cx="958.63" cy="669.83" r="2.45" fill="#f00"/>
<circle cx="966.17" cy="675.64" r="2.45" fill="#f00"/>
<circle cx="973.71" cy="681.63" r="2.45" fill="#f00"/>
<circle cx="981.26" cy="687.79" r="2.45" fill="#f00"/>
<circle cx="988.8" cy="694.08" r="2.45" fill="#f00"/>
<circle cx="996.34" cy="700.5" r="2.45" fill="#f00"/>
<circle cx="1003.88" cy="707.02" r="2.45" fill="#f00"/>
<circle cx="1011.42" cy="713.61" r="2.45" fill="#f00"/>
<circle cx="1018.96" cy="720.25" r="2.45" fill="#f00"/>
<circle cx="1026.5" cy="726.94" r="2.45" fill="#f00"/>
<circle cx="1034.05" cy="733.65" r="2.45" fill="#f00"/>
<circle cx="1041.59" cy="740.39" r="2.45" fill="#f00"/>
<circle cx="1049.13" cy="747.16" r="2.45" fill="#f00"/>
<circle cx="1056.67" cy="753.94" r="2.45" fill="#f00"/>
<circle cx="1064.21" cy="760.75" r="2.45" fill="#f00"/>
<circle cx="1071.75" cy="767.57" r="2.45" fill="#f00"/>
<circle cx="1079.29" cy="774.41" r="2.45" fill="#f00"/>
<circle cx="1086.84" cy="781.26" r="2.45" fill="#f00"/>
<circle cx="1094.38" cy="788.12" r="2.45" fill="#f00"/>
<circle cx="1101.92" cy="794.98" r="2.45" fill="#f00"/>
<circle cx="1109.46" cy="801.84" r="2.45" fill="#f00"/>
<circle cx="1117" cy="808.71" r="2.45" fill="#f00"/>
<circle cx="1124.54" cy="815.57" r="2.45" fill="#f00"/>
<circle cx="1132.08" cy="822.42" r="2.45" fill="#f00"/>
<circle cx="1139.63" cy="829.27" r="2.45" fill="#f00"/>
<circle cx="1147.17" cy="836.11" r="2.45" fill="#f00"/>
<circle cx="1154.71" cy="842.93" r="2.45" fill="#f00"/>
<circle cx="1162.25" cy="849.73" r="2.45" fill="#f00"/>
<circle cx="1169.79" cy="856.51" r="2.45" fill="#f00"/>
<circle cx="1177.33" cy="863.25" r="2.45" fill="#f00"/>
<circle cx="1184.87" cy="869.96" r="2.45" fill="#f00"/>
<circle cx="1192.42" cy="876.63" r="2.45" fill="#f00"/>
<circle cx="1199.96" cy="883.25" r="2.45" fill="#f00"/>
<circle cx="1207.5" cy="889.81" r="2.45" fill="#f00"/>
<circle cx="1215.04" cy="896.24" r="2.45" fill="#f00"/>
<circle cx="1222.58" cy="902.48" r="2.45" fill="#f00"/>
<circle cx="1230.12" cy="908.46" r="2.45" fill="#f00"/>
<circle cx="1237.66" cy="914.13" r="2.45" fill="#f00"/>
<circle cx="1245.21" cy="919.41" r="2.45" fill="#f00"/>
<circle cx="1252.75" cy="924.25" r="2.45" fill="#f00"/>
<circle cx="1260.29" cy="928.66" r="2.45" fill="#f00"/>
<circle cx="1267.83" cy="932.65" r="2.45" fill="#f00"/>
<circle cx="1275.37" cy="936.26" r="2.45" fill="#f00"/>
<circle cx="1282.91" cy="939.49" r="2.45" fill="#f00"/>
<circle cx="1290.45" cy="942.37" r="2.45" fill="#f00"/>
<circle cx="1298" cy="944.91" r="2.45" fill="#f00"/>
<circle cx="1305.54" cy="947.14" r="2.45" fill="#f00"/>
<circle cx="1313.08" cy="949.08" r="2.45" fill="#f00"/>
<circle cx="1320.62" cy="950.75" r="2.45" fill="#f00"/>
<circle cx="1328.16" cy="952.16" r="2.45" fill="#f00"/>
<circle cx="1335.7" cy="953.34" r="2.45" fill="#f00"/>
<circle cx="1343.24" cy="954.31" r="2.45" fill="#f00"/>
<circle cx="1350.79" cy="955.08" r="2.45" fill="#f00"/>
<circle cx="1358.33" cy="955.67" r="2.45" fill="#f00"/>
<circle cx="1365.87" cy="956.12" r="2.45" fill="#f00"/>
<circle cx="1373.41" cy="956.43" r="2.45" fill="#f00"/>
<circle cx="1380.95" cy="956.62" r="2.45" fill="#f00"/>
<circle cx="1388.49" cy="956.72" r="2.45" fill="#f00"/>
<circle cx="1396.03" cy="956.75" r="2.45" fill="#f00"/>
<circle cx="1403.58" cy="956.72" r="2.45" fill="#f00"/>
<circle cx="1411.12" cy="956.65" r="2.45" fill="#f00"/>
<circle cx="1418.66" cy="956.57" r="2.45" fill="#f00"/>
<circle cx="1426.2" cy="956.5" r="2.45" fill="#f00"/>
<path d="M895.48 646.84L901.12 646.84L898.3 641.77Z" fill="#00f"/>
<path d="M903.02 649.48L908.66 649.48L905.84 644.41Z" fill="#00f"/>
<path d="M910.57 652.41L916.2 652.41L913.38 647.34Z" fill="#00f"/>
<path d="M918.11 655.64L923.74 655.64L920.92 650.57Z" fill="#00f"/>
<path d="M925.65 659.15L931.28 659.15L928.47 654.08Z" fill="#00f"/>
<path d="M933.19 662.93L938.82 662.93L936.01 657.86Z" fill="#00f"/>
<path d="M940.73 666.97L946.37 666.97L943.55 661.9Z" fill="#00f"/>
<path d="M948.27 671.26L953.91 671.26L951.09 666.19Z" fill="#00f"/>
<path d="M955.81 675.8L961.45 675.8L958.63 670.73Z" fill="#00f"/>
<path d="M963.36 680.56L968.99 680.56L966.17 675.49Z" fill="#00f"/>
<path d="M970.9 685.55L976.53 685.55L973.71 680.48Z" fill="#00f"/>
<path d="M978.44 690.76L984.07 690.76L981.26 685.69Z" fill="#00f"/>
<path d="M985.98 696.17L991.61 696.17L988.8 691.09Z" fill="#00f"/>
<path d="M993.52 701.77L999.16 701.77L996.34 696.7Z" fill="#00f"/>
<path d="M1001.06 707.55L1006.7 707.55L1003.88 702.48Z" fill="#00f"/>
<path d="M1008.6 713.51L1014.24 713.51L1011.42 708.44Z" fill="#00f"/>
<path d="M1016.15 719.64L1021.78 719.64L1018.96 714.57Z" fill="#00f"/>
<path d="M1023.69 725.92L1029.32 725.92L1026.5 720.85Z" fill="#00f"/>
<path d="M1031.23 732.34L1036.86 732.34L1034.05 727.27Z" fill="#00f"/>
<path d="M1038.77 738.89L1044.4 738.89L1041.59 733.82Z" fill="#00f"/>
<path d="M1046.31 745.55L1051.95 745.55L1049.13 740.48Z" fill="#00f"/>
<path d="M1053.85 752.31L1059.49 752.31L1056.67 747.24Z" fill="#00f"/>
<path d="M1061.39 759.15L1067.03 759.15L1064.21 754.08Z" fill="#00f"/>
<path d="M1068.94 766.06L1074.57 766.06L1071.75 760.99Z" fill="#00f"/>
<path d="M1076.48 773.02L1082.11 773.02L1079.29 767.95Z" fill="#00f"/>
<path d="M1084.02 780.02L1089.65 780.02L1086.84 774.95Z" fill="#00f"/>
<path d="M1091.56 787.04L1097.19 787.04L1094.38 781.97Z" fill="#00f"/>
<path d="M1099.1 794.07L1104.74 794.07L1101.92 789Z" fill="#00f"/>
<path d="M1106.64 801.1L1112.28 801.1L1109.46 796.03Z" fill="#00f"/>
<path d="M1114.18 808.1L1119.82 808.1L1117 803.03Z" fill="#00f"/>
<path d="M1121.73 815.07L1127.36 815.07L1124.54 810Z" fill="#00f"/>
<path d="M1129.27 821.99L1134.9 821.99L1132.08 816.92Z" fill="#00f"/>
<path d="M1136.81 828.85L1142.44 828.85L1139.63 823.78Z" fill="#00f"/>
<path d="M1144.35 835.63L1149.98 835.63L1147.17 830.56Z" fill="#00f"/>
<path d="M1151.89 842.31L1157.53 842.31L1154.71 837.24Z" fill="#00f"/>
<path d="M1159.43 848.91L1165.07 848.91L1162.25 843.84Z" fill="#00f"/>
<path d="M1166.97 855.44L1172.61 855.44L1169.79 850.37Z" fill="#00f"/>
<path d="M1174.52 861.92L1180.15 861.92L1177.33 856.85Z" fill="#00f"/>
<path d="M1182.06 868.38L1187.69 868.38L1184.87 863.31Z" fill="#00f"/>
<path d="M1189.6 874.82L1195.23 874.82L1192.42 869.75Z" fill="#00f"/>
<path d="M1197.14 881.27L1202.77 881.27L1199.96 876.2Z" fill="#00f"/>
<path d="M1204.68 887.73L1210.32 887.73L1207.5 882.66Z" fill="#00f"/>
<path d="M1212.22 894.14L1217.86 894.14L1215.04 889.06Z" fill="#00f"/>
<path d="M1219.76 900.41L1225.4 900.41L1222.58 895.34Z" fill="#00f"/>
<path d="M1227.31 906.48L1232.94 906.48L1230.12 901.41Z" fill="#00f"/>
<path d="M1234.85 912.26L1240.48 912.26L1237.66 907.19Z" fill="#00f"/>
<path d="M1242.39 917.68L1248.02 917.68L1245.21 912.61Z" fill="#00f"/>
<path d="M1249.93 922.68L1255.56 922.68L1252.75 917.61Z" fill="#00f"/>
<path d="M1257.47 927.26L1263.11 927.26L1260.29 922.19Z" fill="#00f"/>
<path d="M1265.01 931.43L1270.65 931.43L1267.83 926.36Z" fill="#00f"/>
<path d="M1272.55 935.23L1278.19 935.23L1275.37 930.15Z" fill="#00f"/>
<path d="M1280.1 938.65L1285.73 938.65L1282.91 933.58Z" fill="#00f"/>
<path d="M1287.64 941.73L1293.27 941.73L1290.45 936.66Z" fill="#00f"/>
<path d="M1295.18 944.47L1300.81 944.47L1298 939.4Z" fill="#00f"/>
<path d="M1302.72 946.91L1308.35 946.91L1305.54 941.84Z" fill="#00f"/>
<path d="M1310.26 949.05L1315.9 949.05L1313.08 943.98Z" fill="#00f"/>
<path d="M1317.8 950.91L1323.44 950.91L1320.62 945.84Z" fill="#00f"/>
<path d="M1325.34 952.51L1330.98 952.51L1328.16 947.44Z" fill="#00f"/>
<path d="M1332.89 953.87L1338.52 953.87L1335.7 948.8Z" fill="#00f"/>
<path d="M1340.43 955.01L1346.06 955.01L1343.24 949.94Z" fill="#00f"/>
<path d="M1347.97 955.95L1353.6 955.95L1350.79 950.87Z" fill="#00f"/>
<path d="M1355.51 956.69L1361.14 956.69L1358.33 951.62Z" fill="#00f"/>
<path d="M1363.05 957.27L1368.69 957.27L1365.87 952.2Z" fill="#00f"/>
<path d="M1370.59 957.69L1376.23 957.69L1373.41 952.62Z" fill="#00f"/>
<path d="M1378.13 957.98L1383.77 957.98L1380.95 952.91Z" fill="#00f"/>
<path d="M1385.68 958.16L1391.31 958.16L1388.49 953.09Z" fill="#00f"/>
<path d="M1393.22 958.23L1398.85 958.23L1396.03 953.16Z" fill="#00f"/>
<path d="M1400.76 958.23L1406.39 958.23L1403.58 953.16Z" fill="#00f"/>
<path d="M1408.3 958.16L1413.93 958.16L1411.12 953.09Z" fill="#00f"/>
<path d="M1415.84 958.05L1421.48 958.05L1418.66 952.98Z" fill="#00f"/>
<path d="M1423.38 957.92L1429.02 957.92L1426.2 952.85Z" fill="#00f"/>
<rect x="896.05" y="894.88" width="4.51" height="4.51" fill="#000"/>
<rect x="903.59" y="900.23" width="4.51" height="4.51" fill="#000"/>
<rect x="911.13" y="905.33" width="4.51" height="4.51" fill="#000"/>
<rect x="918.67" y="910.19" width="4.51" height="4.51" fill="#000"/>
<rect x="926.21" y="914.79" width="4.51" height="4.51" fill="#000"/>
<rect x="933.75" y="919.16" width="4.51" height="4.51" fill="#000"/>
<rect x="941.29" y="923.3" width="4.51" height="4.51" fill="#000"/>
<rect x="948.84" y="927.2" width="4.51" height="4.51" fill="#000"/>
<rect x="956.38" y="930.87" width="4.51" height="4.51" fill="#000"/>
<rect x="963.92" y="934.32" width="4.51" height="4.51" fill="#000"/>
<rect x="971.46" y="937.55" width="4.51" height="4.51" fill="#000"/>
<rect x="979" y="940.56" width="4.51" height="4.51" fill="#000"/>
<rect x="986.54" y="943.37" width="4.51" height="4.51" fill="#000"/>
<rect x="994.08" y="945.96" width="4.51" height="4.51" fill="#000"/>
<rect x="1001.63" y="948.35" width="4.51" height="4.51" fill="#000"/>
<rect x="1009.17" y="950.54" width="4.51" height="4.51" fill="#000"/>
<rect x="1016.71" y="952.53" width="4.51" height="4.51" fill="#000"/>
<rect x="1024.25" y="954.34" width="4.51" height="4.51" fill="#000"/>
<rect x="1031.79" y="955.95" width="4.51" height="4.51" fill="#000"/>
<rect x="1039.33" y="957.38" width="4.51" height="4.51" fill="#000"/>
<rect x="1046.87" y="958.64" width="4.51" height="4.51" fill="#000"/>
<rect x="1054.42" y="959.71" width="4.51" height="4.51" fill="#000"/>
<rect x="1061.96" y="960.61" width="4.51" height="4.51" fill="#000"/>
<rect x="1069.5" y="961.35" width="4.51" height="4.51" fill="#000"/>
<rect x="1077.04" y="961.92" width="4.51" height="4.51" fill="#000"/>
<rect x="1084.58" y="962.34" width="4.51" height="4.51" fill="#000"/>
<rect x="1092.12" y="962.59" width="4.51" height="4.51" fill="#000"/>
<rect x="1099.66" y="962.7" width="4.51" height="4.51" fill="#000"/>
<rect x="1107.21" y="962.66" width="4.51" height="4.51" fill="#000"/>
<rect x="1114.75" y="962.45" width="4.51" height="4.51" fill="#000"/>
<rect x="1122.29" y="962" width="4.51" height="4.51" fill="#000"/>
<rect x="1129.83" y="961.18" width="4.51" height="4.51" fill="#000"/>
<rect x="1137.37" y="959.89" width="4.51" height="4.51" fill="#000"/>
<rect x="1144.91" y="958.01" width="4.51" height="4.51" fill="#000"/>
<rect x="1152.45" y="955.43" width="4.51" height="4.51" fill="#000"/>
<rect x="1160" y="952.05" width="4.51" height="4.51" fill="#000"/>
<rect x="1167.54" y="947.75" width="4.51" height="4.51" fill="#000"/>
<rect x="1175.08" y="942.41" width="4.51" height="4.51" fill="#000"/>
<rect x="1182.62" y="935.93" width="4.51" height="4.51" fill="#000"/>
<rect x="1190.16" y="928.2" width="4.51" height="4.51" fill="#000"/>
<rect x="1197.7" y="919.11" width="4.51" height="4.51" fill="#000"/>
<rect x="1205.24" y="908.54" width="4.51" height="4.51" fill="#000"/>
<rect x="1212.79" y="896.41" width="4.51" height="4.51" fill="#000"/>
<rect x="1220.33" y="882.63" width="4.51" height="4.51" fill="#000"/>
<rect x="1227.87" y="867.13" width="4.51" height="4.51" fill="#000"/>
<rect x="1235.41" y="849.8" width="4.51" height="4.51" fill="#000"/>
<rect x="1242.95" y="830.75" width="4.51" height="4.51" fill="#000"/>
<rect x="1250.49" y="810.66" width="4.51" height="4.51" fill="#000"/>
<rect x="1258.03" y="790.35" width="4.51" height="4.51" fill="#000"/>
<rect x="1265.58" y="770.65" width="4.51" height="4.51" fill="#000"/>
<rect x="1273.12" y="752.22" width="4.51" height="4.51" fill="#000"/>
<rect x="1280.66" y="735.2" width="4.51" height="4.51" fill="#000"/>
<rect x="1288.2" y="719.61" width="4.51" height="4.51" fill="#000"/>
<rect x="1295.74" y="705.46" width="4.51" height="4.51" fill="#000"/>
<rect x="1303.28" y="692.78" width="4.51" height="4.51" fill="#000"/>
<rect x="1310.82" y="681.59" width="4.51" height="4.51" fill="#000"/>
<rect x="1318.37" y="671.88" width="4.51" height="4.51" fill="#000"/>
<rect x="1325.91" y="663.53" width="4.51" height="4.51" fill="#000"/>
<rect x="1333.45" y="656.39" width="4.51" height="4.51" fill="#000"/>
<rect x="1340.99" y="650.31" width="4.51" height="4.51" fill="#000"/>
<rect x="1348.53" y="645.16" width="4.51" height="4.51" fill="#000"/>
<rect x="1356.07" y="640.77" width="4.51" height="4.51" fill="#000"/>
<rect x="1363.61" y="637.02" width="4.51" height="4.51" fill="#000"/>
<rect x="1371.16" y="633.79" width="4.51" height="4.51" fill="#000"/>
<rect x="1378.7" y="630.98" width="4.51" height="4.51" fill="#000"/>
<rect x="1386.24" y="628.47" width="4.51" height="4.51" fill="#000"/>
<rect x="1393.78" y="626.16" width="4.51" height="4.51" fill="#000"/>
<rect x="1401.32" y="623.94" width="4.51" height="4.51" fill="#000"/>
<rect x="1408.86" y="621.71" width="4.51" height="4.51" fill="#000"/>
<rect x="1416.4" y="619.35" width="4.51" height="4.51" fill="#000"/>
<rect x="1423.95" y="616.77" width="4.51" height="4.51" fill="#000"/>
<circle cx="898.3" cy="790.44" r="2.45" fill="#f00"/>
<circle cx="905.84" cy="800.27" r="2.45" fill="#f00"/>
<circle cx="913.38" cy="811.13" r="2.45" fill="#f00"/>
<circle cx="920.92" cy="822.76" r="2.45" fill="#f00"/>
<circle cx="928.47" cy="834.88" r="2.45" fill="#f00"/>
<circle cx="936.01" cy="847.21" r="2.45" fill="#f00"/>
<circle cx="943.55" cy="859.45" r="2.45" fill="#f00"/>
<circle cx="951.09" cy="871.31" r="2.45" fill="#f00"/>
<circle cx="958.63" cy="882.51" r="2.45" fill="#f00"/>
<circle cx="966.17" cy="892.88" r="2.45" fill="#f00"/>
<circle cx="973.71" cy="902.25" r="2.45" fill="#f00"/>
<circle cx="981.26" cy="910.51" r="2.45" fill="#f00"/>
<circle cx="988.8" cy="917.8" r="2.45" fill="#f00"/>
<circle cx="996.34" cy="924.27" r="2.45" fill="#f00"/>
<circle cx="1003.88" cy="930.06" r="2.45" fill="#f00"/>
<circle cx="1011.42" cy="935.23" r="2.45" fill="#f00"/>
<circle cx="1018.96" cy="939.78" r="2.45" fill="#f00"/>
<circle cx="1026.5" cy="943.75" r="2.45" fill="#f00"/>
<circle cx="1034.05" cy="947.16" r="2.45" fill="#f00"/>
<circle cx="1041.59" cy="950.03" r="2.45" fill="#f00"/>
<circle cx="1049.13" cy="952.39" r="2.45" fill="#f00"/>
<circle cx="1056.67" cy="954.27" r="2.45" fill="#f00"/>
<circle cx="1064.21" cy="955.67" r="2.45" fill="#f00"/>
<circle cx="1071.75" cy="956.64" r="2.45" fill="#f00"/>
<circle cx="1079.29" cy="957.19" r="2.45" fill="#f00"/>
<circle cx="1086.84" cy="957.35" r="2.45" fill="#f00"/>
<circle cx="1094.38" cy="957.14" r="2.45" fill="#f00"/>
<circle cx="1101.92" cy="956.58" r="2.45" fill="#f00"/>
<circle cx="1109.46" cy="955.7" r="2.45" fill="#f00"/>
<circle cx="1117" cy="954.53" r="2.45" fill="#f00"/>
<circle cx="1124.54" cy="953.08" r="2.45" fill="#f00"/>
<circle cx="1132.08" cy="951.38" r="2.45" fill="#f00"/>
<circle cx="1139.63" cy="949.46" r="2.45" fill="#f00"/>
<circle cx="1147.17" cy="947.31" r="2.45" fill="#f00"/>
<circle cx="1154.71" cy="944.86" r="2.45" fill="#f00"/>
<circle cx="1162.25" cy="942.02" r="2.45" fill="#f00"/>
<circle cx="1169.79" cy="938.68" r="2.45" fill="#f00"/>
<circle cx="1177.33" cy="934.77" r="2.45" fill="#f00"/>
<circle cx="1184.87" cy="930.19" r="2.45" fill="#f00"/>
<circle cx="1192.42" cy="924.84" r="2.45" fill="#f00"/>
<circle cx="1199.96" cy="918.63" r="2.45" fill="#f00"/>
<circle cx="1207.5" cy="911.48" r="2.45" fill="#f00"/>
<circle cx="1215.04" cy="903.28" r="2.45" fill="#f00"/>
<circle cx="1222.58" cy="893.95" r="2.45" fill="#f00"/>
<circle cx="1230.12" cy="883.43" r="2.45" fill="#f00"/>
<circle cx="1237.66" cy="871.76" r="2.45" fill="#f00"/>
<circle cx="1245.21" cy="859.02" r="2.45" fill="#f00"/>
<circle cx="1252.75" cy="845.31" r="2.45" fill="#f00"/>
<circle cx="1260.29" cy="830.69" r="2.45" fill="#f00"/>
<circle cx="1267.83" cy="815.26" r="2.45" fill="#f00"/>
<circle cx="1275.37" cy="799.15" r="2.45" fill="#f00"/>
<circle cx="1282.91" cy="782.74" r="2.45" fill="#f00"/>
<circle cx="1290.45" cy="766.41" r="2.45" fill="#f00"/>
<circle cx="1298" cy="750.55" r="2.45" fill="#f00"/>
<circle cx="1305.54" cy="735.5" r="2.45" fill="#f00"/>
<circle cx="1313.08" cy="721.38" r="2.45" fill="#f00"/>
<circle cx="1320.62" cy="708.25" r="2.45" fill="#f00"/>
<circle cx="1328.16" cy="696.21" r="2.45" fill="#f00"/>
<circle cx="1335.7" cy="685.33" r="2.45" fill="#f00"/>
<circle cx="1343.24" cy="675.68" r="2.45" fill="#f00"/>
<circle cx="1350.79" cy="667.3" r="2.45" fill="#f00"/>
<circle cx="1358.33" cy="660.07" r="2.45" fill="#f00"/>
<circle cx="1365.87" cy="653.85" r="2.45" fill="#f00"/>
<circle cx="1373.41" cy="648.48" r="2.45" fill="#f00"/>
<circle cx="1380.95" cy="643.83" r="2.45" fill="#f00"/>
<circle cx="1388.49" cy="639.74" r="2.45" fill="#f00"/>
<circle cx="1396.03" cy="636.07" r="2.45" fill="#f00"/>
<circle cx="1403.58" cy="632.66" r="2.45" fill="#f00"/>
<circle cx="1411.12" cy="629.38" r="2.45" fill="#f00"/>
<circle cx="1418.66" cy="626.07" r="2.45" fill="#f00"/>
<circle cx="1426.2" cy="622.59" r="2.45" fill="#f00"/>
<path d="M895.48 757.32L901.12 757.32L898.3 752.25Z" fill="#00f"/>
<path d="M903.02 761.25L908.66 761.25L905.84 756.18Z" fill="#00f"/>
<path d="M910.57 767.77L916.2 767.77L913.38 762.7Z" fill="#00f"/>
<path d="M918.11 776.5L923.74 776.5L920.92 771.43Z" fill="#00f"/>
<path d="M925.65 787.04L931.28 787.04L928.47 781.97Z" fill="#00f"/>
<path d="M933.19 799.01L938.82 799.01L936.01 793.94Z" fill="#00f"/>
<path d="M940.73 812.03L946.37 812.03L943.55 806.96Z" fill="#00f"/>
<path d="M948.27 825.7L953.91 825.7L951.09 820.63Z" fill="#00f"/>
<path d="M955.81 839.65L961.45 839.65L958.63 834.58Z" fill="#00f"/>
<path d="M963.36 853.49L968.99 853.49L966.17 848.42Z" fill="#00f"/>
<path d="M970.9 866.82L976.53 866.82L973.71 861.75Z" fill="#00f"/>
<path d="M978.44 879.27L984.07 879.27L981.26 874.2Z" fill="#00f"/>
<path d="M985.98 890.55L991.61 890.55L988.8 885.48Z" fill="#00f"/>
<path d="M993.52 900.67L999.16 900.67L996.34 895.6Z" fill="#00f"/>
<path d="M1001.06 909.7L1006.7 909.7L1003.88 904.63Z" fill="#00f"/>
<path d="M1008.6 917.69L1014.24 917.69L1011.42 912.62Z" fill="#00f"/>
<path d="M1016.15 924.7L1021.78 924.7L1018.96 919.63Z" fill="#00f"/>
<path d="M1023.69 930.8L1029.32 930.8L1026.5 925.72Z" fill="#00f"/>
<path d="M1031.23 936.03L1036.86 936.03L1034.05 930.96Z" fill="#00f"/>
<path d="M1038.77 940.47L1044.4 940.47L1041.59 935.4Z" fill="#00f"/>
<path d="M1046.31 944.17L1051.95 944.17L1049.13 939.1Z" fill="#00f"/>
<path d="M1053.85 947.19L1059.49 947.19L1056.67 942.12Z" fill="#00f"/>
<path d="M1061.39 949.59L1067.03 949.59L1064.21 944.52Z" fill="#00f"/>
<path d="M1068.94 951.43L1074.57 951.43L1071.75 946.36Z" fill="#00f"/>
<path d="M1076.48 952.77L1082.11 952.77L1079.29 947.7Z" fill="#00f"/>
<path d="M1084.02 953.67L1089.65 953.67L1086.84 948.6Z" fill="#00f"/>
<path d="M1091.56 954.19L1097.19 954.19L1094.38 949.12Z" fill="#00f"/>
<path d="M1099.1 954.38L1104.74 954.38L1101.92 949.31Z" fill="#00f"/>
<path d="M1106.64 954.22L1112.28 954.22L1109.46 949.15Z" fill="#00f"/>
<path d="M1114.18 953.71L1119.82 953.71L1117 948.64Z" fill="#00f"/>
<path d="M1121.73 952.82L1127.36 952.82L1124.54 947.75Z" fill="#00f"/>
<path d="M1129.27 951.54L1134.9 951.54L1132.08 946.47Z" fill="#00f"/>
<path d="M1136.81 949.85L1142.44 949.85L1139.63 944.78Z" fill="#00f"/>
<path d="M1144.35 947.73L1149.98 947.73L1147.17 942.66Z" fill="#00f"/>
<path d="M1151.89 945.16L1157.53 945.16L1154.71 940.09Z" fill="#00f"/>
<path d="M1159.43 942.13L1165.07 942.13L1162.25 937.06Z" fill="#00f"/>
<path d="M1166.97 938.62L1172.61 938.62L1169.79 933.55Z" fill="#00f"/>
<path d="M1174.52 934.61L1180.15 934.61L1177.33 929.54Z" fill="#00f"/>
<path d="M1182.06 930.08L1187.69 930.08L1184.87 925.01Z" fill="#00f"/>
<path d="M1189.6 925.01L1195.23 925.01L1192.42 919.94Z" fill="#00f"/>
<path d="M1197.14 919.33L1202.77 919.33L1199.96 914.25Z" fill="#00f"/>
<path d="M1204.68 912.95L1210.32 912.95L1207.5 907.88Z" fill="#00f"/>
<path d="M1212.22 905.82L1217.86 905.82L1215.04 900.75Z" fill="#00f"/>
<path d="M1219.76 897.84L1225.4 897.84L1222.58 892.77Z" fill="#00f"/>
<path d="M1227.31 888.96L1232.94 888.96L1230.12 883.89Z" fill="#00f"/>
<path d="M1234.85 879.09L1240.48 879.09L1237.66 874.02Z" fill="#00f"/>
<path d="M1242.39 868.15L1248.02 868.15L1245.21 863.08Z" fill="#00f"/>
<path d="M1249.93 856.08L1255.56 856.08L1252.75 851.01Z" fill="#00f"/>
<path d="M1257.47 842.8L1263.11 842.8L1260.29 837.73Z" fill="#00f"/>
<path d="M1265.01 828.3L1270.65 828.3L1267.83 823.23Z" fill="#00f"/>
<path d="M1272.55 812.87L1278.19 812.87L1275.37 807.79Z" fill="#00f"/>
<path d="M1280.1 796.84L1285.73 796.84L1282.91 791.77Z" fill="#00f"/>
<path d="M1287.64 780.59L1293.27 780.59L1290.45 775.52Z" fill="#00f"/>
<path d="M1295.18 764.45L1300.81 764.45L1298 759.38Z" fill="#00f"/>
<path d="M1302.72 748.8L1308.35 748.8L1305.54 743.72Z" fill="#00f"/>
<path d="M1310.26 733.92L1315.9 733.92L1313.08 728.85Z" fill="#00f"/>
<path d="M1317.8 719.94L1323.44 719.94L1320.62 714.87Z" fill="#00f"/>
<path d="M1325.34 706.95L1330.98 706.95L1328.16 701.88Z" fill="#00f"/>
<path d="M1332.89 695.02L1338.52 695.02L1335.7 689.94Z" fill="#00f"/>
<path d="M1340.43 684.22L1346.06 684.22L1343.24 679.15Z" fill="#00f"/>
<path d="M1347.97 674.65L1353.6 674.65L1350.79 669.58Z" fill="#00f"/>
<path d="M1355.51 666.34L1361.14 666.34L1358.33 661.27Z" fill="#00f"/>
<path d="M1363.05 659.21L1368.69 659.21L1365.87 654.14Z" fill="#00f"/>
<path d="M1370.59 653.12L1376.23 653.12L1373.41 648.04Z" fill="#00f"/>
<path d="M1378.13 647.94L1383.77 647.94L1380.95 642.87Z" fill="#00f"/>
<path d="M1385.68 643.55L1391.31 643.55L1388.49 638.48Z" fill="#00f"/>
<path d="M1393.22 639.82L1398.85 639.82L1396.03 634.75Z" fill="#00f"/>
<path d="M1400.76 636.63L1406.39 636.63L1403.58 631.55Z" fill="#00f"/>
<path d="M1408.3 633.82L1413.93 633.82L1411.12 628.75Z" fill="#00f"/>
<path d="M1415.84 631.27L1421.48 631.27L1418.66 626.2Z" fill="#00f"/>
<path d="M1423.38 628.85L1429.02 628.85L1426.2 623.77Z" fill="#00f"/>
<polyline points="898.3,621.02 900.95,623.34 903.6,625.67 906.26,627.99 908.91,630.32 911.56,632.64 914.21,634.96 916.86,637.28 919.51,639.6 922.17,641.93 924.82,644.25 927.47,646.57 930.12,648.89 932.77,651.21 935.42,653.53 938.08,655.85 940.73,658.18 943.38,660.5 946.03,662.82 948.68,665.14 951.34,667.47 953.99,669.79 956.64,672.12 959.29,674.45 961.94,676.78 964.59,679.1 967.25,681.44 969.9,683.77 972.55,686.1 975.2,688.44 977.85,690.77 980.5,693.11 983.16,695.45 985.81,697.79 988.46,700.14 991.11,702.48 993.76,704.83 996.42,707.18 999.07,709.53 1001.72,711.89 1004.37,714.25 1007.02,716.61 1009.67,718.97 1012.33,721.34 1014.98,723.71 1017.63,726.08 1020.28,728.45 1022.93,730.83 1025.58,733.21 1028.24,735.6 1030.89,737.98 1033.54,740.38 1036.19,742.77 1038.84,745.17 1041.49,747.57 1044.15,749.98 1046.8,752.39 1049.45,754.8 1052.1,757.22 1054.75,759.64 1057.41,762.07 1060.06,764.5 1062.71,766.94 1065.36,769.38 1068.01,771.83 1070.66,774.28 1073.32,776.73 1075.97,779.19 1078.62,781.65 1081.27,784.13 1083.92,786.6 1086.57,789.08 1089.23,791.57 1091.88,794.06 1094.53,796.56 1097.18,799.06 1099.83,801.57 1102.49,804.08 1105.14,806.6 1107.79,809.13 1110.44,811.66 1113.09,814.2 1115.74,816.74 1118.4,819.29 1121.05,821.85 1123.7,824.41 1126.35,826.98 1129,829.54 1131.65,832.11 1134.31,834.68 1136.96,837.25 1139.61,839.81 1142.26,842.38 1144.91,844.93 1147.57,847.49 1150.22,850.03 1152.87,852.57 1155.52,855.1 1158.17,857.62 1160.82,860.12 1163.48,862.62 1166.13,865.1 1168.78,867.57 1171.43,870.02 1174.08,872.46 1176.73,874.87 1179.39,877.27 1182.04,879.65 1184.69,882.01 1187.34,884.34 1189.99,886.65 1192.65,888.94 1195.3,891.2 1197.95,893.44 1200.6,895.64 1203.25,897.82 1205.9,899.97 1208.56,902.08 1211.21,904.17 1213.86,906.22 1216.51,908.23 1219.16,910.21 1221.81,912.16 1224.47,914.06 1227.12,915.93 1229.77,917.76 1232.42,919.55 1235.07,921.3 1237.73,923.01 1240.38,924.67 1243.03,926.28 1245.68,927.85 1248.33,929.38 1250.98,930.86 1253.64,932.28 1256.29,933.66 1258.94,934.99 1261.59,936.27 1264.24,937.49 1266.89,938.66 1269.55,939.77 1272.2,940.83 1274.85,941.84 1277.5,942.79 1280.15,943.7 1282.81,944.55 1285.46,945.36 1288.11,946.12 1290.76,946.84 1293.41,947.52 1296.06,948.15 1298.72,948.74 1301.37,949.29 1304.02,949.81 1306.67,950.29 1309.32,950.73 1311.97,951.14 1314.63,951.52 1317.28,951.86 1319.93,952.18 1322.58,952.46 1325.23,952.73 1327.88,952.96 1330.54,953.17 1333.19,953.36 1335.84,953.52 1338.49,953.67 1341.14,953.8 1343.8,953.91 1346.45,954 1349.1,954.08 1351.75,954.14 1354.4,954.19 1357.05,954.24 1359.71,954.27 1362.36,954.29 1365.01,954.31 1367.66,954.33 1370.31,954.34 1372.96,954.34 1375.62,954.35 1378.27,954.35 1380.92,954.36 1383.57,954.37 1386.22,954.39 1388.88,954.41 1391.53,954.43 1394.18,954.47 1396.83,954.51 1399.48,954.57 1402.13,954.64 1404.79,954.72 1407.44,954.82 1410.09,954.93 1412.74,955.06 1415.39,955.22 1418.04,955.39 1420.7,955.58 1423.35,955.8 1426,956.04" fill="none" stroke="#333333" stroke-width="1.4" stroke-linejoin="round" style="mix-blend-mode:darken" />
<polyline points="898.3,632.56 900.95,633.77 903.6,635.03 906.26,636.33 908.91,637.67 911.56,639.06 914.21,640.49 916.86,641.96 919.51,643.47 922.17,645.02 924.82,646.61 927.47,648.24 930.12,649.9 932.77,651.6 935.42,653.33 938.08,655.1 940.73,656.9 943.38,658.73 946.03,660.59 948.68,662.48 951.34,664.4 953.99,666.35 956.64,668.32 959.29,670.33 961.94,672.35 964.59,674.4 967.25,676.48 969.9,678.57 972.55,680.69 975.2,682.83 977.85,684.99 980.5,687.17 983.16,689.36 985.81,691.57 988.46,693.8 991.11,696.04 993.76,698.3 996.42,700.57 999.07,702.85 1001.72,705.14 1004.37,707.44 1007.02,709.75 1009.67,712.07 1012.33,714.4 1014.98,716.73 1017.63,719.07 1020.28,721.42 1022.93,723.77 1025.58,726.12 1028.24,728.47 1030.89,730.83 1033.54,733.2 1036.19,735.56 1038.84,737.93 1041.49,740.31 1044.15,742.68 1046.8,745.06 1049.45,747.44 1052.1,749.83 1054.75,752.22 1057.41,754.61 1060.06,757 1062.71,759.39 1065.36,761.79 1068.01,764.19 1070.66,766.59 1073.32,768.99 1075.97,771.39 1078.62,773.8 1081.27,776.21 1083.92,778.61 1086.57,781.02 1089.23,783.43 1091.88,785.84 1094.53,788.26 1097.18,790.67 1099.83,793.08 1102.49,795.5 1105.14,797.91 1107.79,800.32 1110.44,802.74 1113.09,805.15 1115.74,807.56 1118.4,809.98 1121.05,812.39 1123.7,814.8 1126.35,817.21 1129,819.62 1131.65,822.03 1134.31,824.44 1136.96,826.85 1139.61,829.26 1142.26,831.66 1144.91,834.07 1147.57,836.47 1150.22,838.87 1152.87,841.27 1155.52,843.66 1158.17,846.05 1160.82,848.45 1163.48,850.83 1166.13,853.22 1168.78,855.6 1171.43,857.98 1174.08,860.35 1176.73,862.72 1179.39,865.08 1182.04,867.45 1184.69,869.8 1187.34,872.15 1189.99,874.5 1192.65,876.83 1195.3,879.17 1197.95,881.49 1200.6,883.81 1203.25,886.13 1205.9,888.43 1208.56,890.72 1211.21,892.99 1213.86,895.24 1216.51,897.47 1219.16,899.68 1221.81,901.85 1224.47,904 1227.12,906.11 1229.77,908.19 1232.42,910.23 1235.07,912.22 1237.73,914.17 1240.38,916.08 1243.03,917.93 1245.68,919.73 1248.33,921.47 1250.98,923.16 1253.64,924.79 1256.29,926.37 1258.94,927.9 1261.59,929.38 1264.24,930.8 1266.89,932.18 1269.55,933.51 1272.2,934.79 1274.85,936.02 1277.5,937.21 1280.15,938.35 1282.81,939.44 1285.46,940.5 1288.11,941.51 1290.76,942.48 1293.41,943.4 1296.06,944.29 1298.72,945.14 1301.37,945.95 1304.02,946.72 1306.67,947.45 1309.32,948.15 1311.97,948.82 1314.63,949.45 1317.28,950.04 1319.93,950.61 1322.58,951.14 1325.23,951.64 1327.88,952.11 1330.54,952.56 1333.19,952.97 1335.84,953.36 1338.49,953.72 1341.14,954.06 1343.8,954.37 1346.45,954.66 1349.1,954.92 1351.75,955.16 1354.4,955.38 1357.05,955.58 1359.71,955.77 1362.36,955.93 1365.01,956.07 1367.66,956.2 1370.31,956.31 1372.96,956.41 1375.62,956.49 1378.27,956.56 1380.92,956.62 1383.57,956.66 1386.22,956.7 1388.88,956.72 1391.53,956.74 1394.18,956.75 1396.83,956.75 1399.48,956.74 1402.13,956.73 1404.79,956.71 1407.44,956.69 1410.09,956.66 1412.74,956.64 1415.39,956.61 1418.04,956.58 1420.7,956.55 1423.35,956.53 1426,956.5" fill="none" stroke="#333333" stroke-width="1.4" stroke-linejoin="round" style="mix-blend-mode:darken" />
<polyline points="898.3,644.56 900.95,645.45 903.6,646.38 906.26,647.35 908.91,648.35 911.56,649.39 914.21,650.47 916.86,651.59 919.51,652.73 922.17,653.92 924.82,655.14 927.47,656.39 930.12,657.67 932.77,658.99 935.42,660.35 938.08,661.73 940.73,663.15 943.38,664.59 946.03,666.07 948.68,667.58 951.34,669.12 953.99,670.69 956.64,672.29 959.29,673.92 961.94,675.58 964.59,677.27 967.25,678.98 969.9,680.72 972.55,682.49 975.2,684.28 977.85,686.1 980.5,687.95 983.16,689.82 985.81,691.72 988.46,693.64 991.11,695.58 993.76,697.55 996.42,699.54 999.07,701.56 1001.72,703.59 1004.37,705.65 1007.02,707.73 1009.67,709.84 1012.33,711.96 1014.98,714.1 1017.63,716.26 1020.28,718.45 1022.93,720.65 1025.58,722.87 1028.24,725.1 1030.89,727.36 1033.54,729.63 1036.19,731.91 1038.84,734.21 1041.49,736.53 1044.15,738.86 1046.8,741.2 1049.45,743.56 1052.1,745.92 1054.75,748.3 1057.41,750.69 1060.06,753.09 1062.71,755.5 1065.36,757.92 1068.01,760.34 1070.66,762.77 1073.32,765.21 1075.97,767.66 1078.62,770.11 1081.27,772.57 1083.92,775.03 1086.57,777.49 1089.23,779.96 1091.88,782.43 1094.53,784.9 1097.18,787.37 1099.83,789.84 1102.49,792.32 1105.14,794.79 1107.79,797.26 1110.44,799.73 1113.09,802.19 1115.74,804.65 1118.4,807.11 1121.05,809.57 1123.7,812.01 1126.35,814.46 1129,816.89 1131.65,819.32 1134.31,821.74 1136.96,824.15 1139.61,826.55 1142.26,828.95 1144.91,831.33 1147.57,833.7 1150.22,836.06 1152.87,838.41 1155.52,840.75 1158.17,843.07 1160.82,845.39 1163.48,847.7 1166.13,849.99 1168.78,852.29 1171.43,854.57 1174.08,856.85 1176.73,859.13 1179.39,861.4 1182.04,863.67 1184.69,865.94 1187.34,868.2 1189.99,870.47 1192.65,872.73 1195.3,875 1197.95,877.27 1200.6,879.54 1203.25,881.81 1205.9,884.08 1208.56,886.35 1211.21,888.61 1213.86,890.86 1216.51,893.09 1219.16,895.3 1221.81,897.5 1224.47,899.67 1227.12,901.81 1229.77,903.92 1232.42,905.99 1235.07,908.03 1237.73,910.02 1240.38,911.97 1243.03,913.87 1245.68,915.72 1248.33,917.52 1250.98,919.27 1253.64,920.96 1256.29,922.6 1258.94,924.19 1261.59,925.72 1264.24,927.21 1266.89,928.65 1269.55,930.05 1272.2,931.39 1274.85,932.69 1277.5,933.95 1280.15,935.16 1282.81,936.32 1285.46,937.44 1288.11,938.53 1290.76,939.56 1293.41,940.56 1296.06,941.52 1298.72,942.44 1301.37,943.32 1304.02,944.16 1306.67,944.97 1309.32,945.74 1311.97,946.47 1314.63,947.17 1317.28,947.84 1319.93,948.47 1322.58,949.07 1325.23,949.64 1327.88,950.18 1330.54,950.68 1333.19,951.16 1335.84,951.61 1338.49,952.04 1341.14,952.43 1343.8,952.81 1346.45,953.15 1349.1,953.47 1351.75,953.77 1354.4,954.04 1357.05,954.3 1359.71,954.53 1362.36,954.74 1365.01,954.93 1367.66,955.1 1370.31,955.25 1372.96,955.39 1375.62,955.51 1378.27,955.61 1380.92,955.7 1383.57,955.77 1386.22,955.83 1388.88,955.88 1391.53,955.92 1394.18,955.94 1396.83,955.95 1399.48,955.96 1402.13,955.95 1404.79,955.94 1407.44,955.92 1410.09,955.89 1412.74,955.86 1415.39,955.82 1418.04,955.78 1420.7,955.74 1423.35,955.69 1426,955.64" fill="none" stroke="#333333" stroke-width="1.4" stroke-linejoin="round" style="mix-blend-mode:darken" />
<polyline points="898.6,900.88 901.25,901.37 903.9,902.04 906.55,902.88 909.2,903.88 911.85,905.03 914.5,906.31 917.15,907.7 919.8,909.2 922.45,910.8 925.1,912.48 927.75,914.22 930.4,916.02 933.05,917.86 935.7,919.73 938.35,921.61 941,923.5 943.65,925.39 946.3,927.24 948.95,929.07 951.61,930.84 954.26,932.56 956.91,934.2 959.56,935.76 962.21,937.22 964.86,938.6 967.51,939.89 970.16,941.11 972.81,942.25 975.46,943.31 978.11,944.3 980.76,945.23 983.41,946.1 986.06,946.9 988.71,947.65 991.36,948.35 994.01,949 996.66,949.6 999.31,950.17 1001.96,950.69 1004.61,951.18 1007.26,951.64 1009.91,952.07 1012.56,952.47 1015.21,952.86 1017.86,953.22 1020.51,953.58 1023.16,953.92 1025.81,954.26 1028.46,954.59 1031.11,954.92 1033.76,955.26 1036.41,955.6 1039.06,955.96 1041.71,956.32 1044.36,956.71 1047.01,957.12 1049.66,957.55 1052.31,958.01 1054.96,958.5 1057.62,959.03 1060.27,959.59 1062.92,960.18 1065.57,960.79 1068.22,961.42 1070.87,962.05 1073.52,962.69 1076.17,963.33 1078.82,963.96 1081.47,964.58 1084.12,965.17 1086.77,965.74 1089.42,966.27 1092.07,966.77 1094.72,967.23 1097.37,967.63 1100.02,967.97 1102.67,968.26 1105.32,968.49 1107.97,968.65 1110.62,968.76 1113.27,968.81 1115.92,968.8 1118.57,968.73 1121.22,968.61 1123.87,968.43 1126.52,968.19 1129.17,967.89 1131.82,967.54 1134.47,967.14 1137.12,966.68 1139.77,966.16 1142.42,965.57 1145.07,964.91 1147.72,964.15 1150.37,963.3 1153.02,962.35 1155.67,961.27 1158.32,960.07 1160.97,958.73 1163.63,957.25 1166.28,955.61 1168.93,953.8 1171.58,951.81 1174.23,949.66 1176.88,947.33 1179.53,944.82 1182.18,942.14 1184.83,939.29 1187.48,936.26 1190.13,933.06 1192.78,929.68 1195.43,926.12 1198.08,922.39 1200.73,918.49 1203.38,914.41 1206.03,910.15 1208.68,905.73 1211.33,901.16 1213.98,896.47 1216.63,891.7 1219.28,886.87 1221.93,882.02 1224.58,877.17 1227.23,872.33 1229.88,867.41 1232.53,862.29 1235.18,856.84 1237.83,850.94 1240.48,844.48 1243.13,837.33 1245.78,829.44 1248.43,821.15 1251.08,812.92 1253.73,805.16 1256.38,798 1259.03,791.38 1261.68,785.2 1264.33,779.4 1266.98,773.89 1269.64,768.6 1272.29,763.45 1274.94,758.36 1277.59,753.28 1280.24,748.19 1282.89,743.1 1285.54,738.03 1288.19,732.98 1290.84,727.95 1293.49,722.96 1296.14,718.01 1298.79,713.1 1301.44,708.25 1304.09,703.46 1306.74,698.73 1309.39,694.09 1312.04,689.52 1314.69,685.05 1317.34,680.67 1319.99,676.42 1322.64,672.31 1325.29,668.34 1327.94,664.55 1330.59,660.94 1333.24,657.54 1335.89,654.36 1338.54,651.41 1341.19,648.71 1343.84,646.29 1346.49,644.14 1349.14,642.24 1351.79,640.59 1354.44,639.16 1357.09,637.94 1359.74,636.92 1362.39,636.07 1365.04,635.38 1367.69,634.84 1370.34,634.43 1372.99,634.14 1375.65,633.94 1378.3,633.82 1380.95,633.75 1383.6,633.73 1386.25,633.74 1388.9,633.74 1391.55,633.73 1394.2,633.69 1396.85,633.6 1399.5,633.43 1402.15,633.17 1404.8,632.8 1407.45,632.27 1410.1,631.49 1412.75,630.38 1415.4,628.85 1418.05,626.83 1420.7,624.23 1423.35,620.97 1426,616.96" fill="none" stroke="#333333" stroke-width="1.4" stroke-linejoin="round" style="mix-blend-mode:darken" />
<polyline points="898.6,790.8 901.25,794.14 903.9,797.63 906.55,801.25 909.2,805 911.85,808.86 914.5,812.82 917.15,816.87 919.8,820.99 922.45,825.19 925.1,829.43 927.75,833.72 930.4,838.04 933.05,842.37 935.7,846.71 938.35,851.04 941,855.34 943.65,859.62 946.3,863.84 948.95,868 951.61,872.09 954.26,876.1 956.91,880.02 959.56,883.83 962.21,887.54 964.86,891.14 967.51,894.62 970.16,897.97 972.81,901.18 975.46,904.26 978.11,907.19 980.76,910 983.41,912.68 986.06,915.25 988.71,917.72 991.36,920.08 994.01,922.35 996.66,924.53 999.31,926.63 1001.96,928.65 1004.61,930.59 1007.26,932.45 1009.91,934.24 1012.56,935.95 1015.21,937.59 1017.86,939.15 1020.51,940.64 1023.16,942.06 1025.81,943.41 1028.46,944.69 1031.11,945.9 1033.76,947.04 1036.41,948.12 1039.06,949.13 1041.71,950.08 1044.36,950.96 1047.01,951.78 1049.66,952.54 1052.31,953.24 1054.96,953.88 1057.62,954.47 1060.27,954.99 1062.92,955.46 1065.57,955.88 1068.22,956.24 1070.87,956.55 1073.52,956.81 1076.17,957.01 1078.82,957.17 1081.47,957.28 1084.12,957.33 1086.77,957.35 1089.42,957.32 1092.07,957.24 1094.72,957.12 1097.37,956.96 1100.02,956.75 1102.67,956.51 1105.32,956.22 1107.97,955.9 1110.62,955.54 1113.27,955.14 1115.92,954.71 1118.57,954.25 1121.22,953.75 1123.87,953.22 1126.52,952.66 1129.17,952.07 1131.82,951.45 1134.47,950.8 1137.12,950.12 1139.77,949.42 1142.42,948.69 1145.07,947.94 1147.72,947.14 1150.37,946.31 1153.02,945.44 1155.67,944.52 1158.32,943.55 1160.97,942.53 1163.63,941.45 1166.28,940.3 1168.93,939.09 1171.58,937.81 1174.23,936.46 1176.88,935.03 1179.53,933.51 1182.18,931.91 1184.83,930.22 1187.48,928.43 1190.13,926.55 1192.78,924.56 1195.43,922.46 1198.08,920.26 1200.73,917.94 1203.38,915.51 1206.03,912.95 1208.68,910.26 1211.33,907.45 1213.98,904.5 1216.63,901.41 1219.28,898.18 1221.93,894.8 1224.58,891.28 1227.23,887.6 1229.88,883.78 1232.53,879.82 1235.18,875.72 1237.83,871.49 1240.48,867.12 1243.13,862.63 1245.78,858.01 1248.43,853.27 1251.08,848.42 1253.73,843.45 1256.38,838.37 1259.03,833.18 1261.68,827.9 1264.33,822.51 1266.98,817.02 1269.64,811.45 1272.29,805.8 1274.94,800.1 1277.59,794.35 1280.24,788.57 1282.89,782.8 1285.54,777.03 1288.19,771.28 1290.84,765.59 1293.49,759.95 1296.14,754.39 1298.79,748.93 1301.44,743.57 1304.09,738.32 1306.74,733.19 1309.39,728.17 1312.04,723.27 1314.69,718.49 1317.34,713.83 1319.99,709.31 1322.64,704.92 1325.29,700.66 1327.94,696.55 1330.59,692.57 1333.24,688.75 1335.89,685.07 1338.54,681.54 1341.19,678.18 1343.84,674.97 1346.49,671.92 1349.14,669.02 1351.79,666.27 1354.44,663.66 1357.09,661.18 1359.74,658.83 1362.39,656.6 1365.04,654.48 1367.69,652.47 1370.34,650.57 1372.99,648.76 1375.65,647.04 1378.3,645.4 1380.95,643.83 1383.6,642.34 1386.25,640.91 1388.9,639.53 1391.55,638.21 1394.2,636.93 1396.85,635.69 1399.5,634.48 1402.15,633.29 1404.8,632.13 1407.45,630.97 1410.1,629.82 1412.75,628.67 1415.4,627.51 1418.05,626.34 1420.7,625.15 1423.35,623.94 1426,622.69" fill="none" stroke="#333333" stroke-width="1.4" stroke-linejoin="round" style="mix-blend-mode:darken" />
<polyline points="898.6,755.14 901.25,756.24 903.9,757.69 906.55,759.48 909.2,761.58 911.85,763.97 914.5,766.65 917.15,769.6 919.8,772.79 922.45,776.22 925.1,779.86 927.75,783.69 930.4,787.71 933.05,791.89 935.7,796.22 938.35,800.69 941,805.26 943.65,809.93 946.3,814.69 948.95,819.51 951.61,824.37 954.26,829.27 956.91,834.17 959.56,839.08 962.21,843.97 964.86,848.81 967.51,853.61 970.16,858.34 972.81,862.97 975.46,867.51 978.11,871.92 980.76,876.2 983.41,880.33 986.06,884.31 988.71,888.14 991.36,891.83 994.01,895.38 996.66,898.8 999.31,902.07 1001.96,905.22 1004.61,908.23 1007.26,911.12 1009.91,913.89 1012.56,916.53 1015.21,919.05 1017.86,921.45 1020.51,923.74 1023.16,925.92 1025.81,927.99 1028.46,929.95 1031.11,931.81 1033.76,933.57 1036.41,935.23 1039.06,936.79 1041.71,938.26 1044.36,939.63 1047.01,940.92 1049.66,942.12 1052.31,943.24 1054.96,944.28 1057.62,945.24 1060.27,946.12 1062.92,946.94 1065.57,947.68 1068.22,948.35 1070.87,948.96 1073.52,949.5 1076.17,949.99 1078.82,950.42 1081.47,950.79 1084.12,951.11 1086.77,951.38 1089.42,951.61 1092.07,951.79 1094.72,951.93 1097.37,952.02 1100.02,952.08 1102.67,952.1 1105.32,952.07 1107.97,952 1110.62,951.89 1113.27,951.73 1115.92,951.52 1118.57,951.27 1121.22,950.98 1123.87,950.63 1126.52,950.24 1129.17,949.8 1131.82,949.31 1134.47,948.77 1137.12,948.17 1139.77,947.53 1142.42,946.83 1145.07,946.08 1147.72,945.27 1150.37,944.41 1153.02,943.49 1155.67,942.52 1158.32,941.48 1160.97,940.39 1163.63,939.24 1166.28,938.04 1168.93,936.77 1171.58,935.43 1174.23,934.04 1176.88,932.58 1179.53,931.06 1182.18,929.48 1184.83,927.83 1187.48,926.11 1190.13,924.33 1192.78,922.47 1195.43,920.54 1198.08,918.52 1200.73,916.42 1203.38,914.24 1206.03,911.97 1208.68,909.61 1211.33,907.15 1213.98,904.59 1216.63,901.93 1219.28,899.16 1221.93,896.28 1224.58,893.3 1227.23,890.2 1229.88,886.98 1232.53,883.63 1235.18,880.17 1237.83,876.57 1240.48,872.85 1243.13,868.99 1245.78,864.99 1248.43,860.85 1251.08,856.57 1253.73,852.13 1256.38,847.55 1259.03,842.82 1261.68,837.92 1264.33,832.88 1266.98,827.7 1269.64,822.4 1272.29,816.99 1274.94,811.5 1277.59,805.92 1280.24,800.29 1282.89,794.62 1285.54,788.91 1288.19,783.2 1290.84,777.48 1293.49,771.78 1296.14,766.12 1298.79,760.5 1301.44,754.94 1304.09,749.47 1306.74,744.09 1309.39,738.81 1312.04,733.63 1314.69,728.57 1317.34,723.62 1319.99,718.79 1322.64,714.08 1325.29,709.49 1327.94,705.03 1330.59,700.7 1333.24,696.51 1335.89,692.45 1338.54,688.53 1341.19,684.76 1343.84,681.14 1346.49,677.67 1349.14,674.35 1351.79,671.19 1354.44,668.19 1357.09,665.34 1359.74,662.64 1362.39,660.08 1365.04,657.65 1367.69,655.36 1370.34,653.19 1372.99,651.14 1375.65,649.21 1378.3,647.38 1380.95,645.66 1383.6,644.03 1386.25,642.5 1388.9,641.05 1391.55,639.69 1394.2,638.39 1396.85,637.17 1399.5,636.01 1402.15,634.91 1404.8,633.87 1407.45,632.86 1410.1,631.9 1412.75,630.97 1415.4,630.07 1418.05,629.19 1420.7,628.33 1423.35,627.48 1426,626.63" fill="none" stroke="#333333" stroke-width="1.4" stroke-linejoin="round" style="mix-blend-mode:darken" />
<rect x="898.3" y="596.3" width="527.9" height="393.0" fill="none" stroke="#2b2b2b" stroke-width="1.7"/>
<line x1="898.3" y1="950" x2="906.3" y2="950" stroke="#2b2b2b" stroke-width="1.5"/>
<text transform="translate(889.8,954.8) scale(1,1.075)" font-size="16.3" text-anchor="end" font-family='"Liberation Serif", serif' font-weight="bold">1</text>
<line x1="898.3" y1="871.4" x2="906.3" y2="871.4" stroke="#2b2b2b" stroke-width="1.5"/>
<text transform="translate(889.8,876.2) scale(1,1.075)" font-size="16.3" text-anchor="end" font-family='"Liberation Serif", serif' font-weight="bold">2</text>
<line x1="898.3" y1="792.8" x2="906.3" y2="792.8" stroke="#2b2b2b" stroke-width="1.5"/>
<text transform="translate(889.8,797.6) scale(1,1.075)" font-size="16.3" text-anchor="end" font-family='"Liberation Serif", serif' font-weight="bold">3</text>
<line x1="898.3" y1="714.2" x2="906.3" y2="714.2" stroke="#2b2b2b" stroke-width="1.5"/>
<text transform="translate(889.8,719) scale(1,1.075)" font-size="16.3" text-anchor="end" font-family='"Liberation Serif", serif' font-weight="bold">4</text>
<line x1="898.3" y1="635.6" x2="906.3" y2="635.6" stroke="#2b2b2b" stroke-width="1.5"/>
<text transform="translate(889.8,640.4) scale(1,1.075)" font-size="16.3" text-anchor="end" font-family='"Liberation Serif", serif' font-weight="bold">5</text>
<line x1="1426.2" y1="618.13" x2="1418.7" y2="618.13" stroke="#2b2b2b" stroke-width="1.5"/>
<text transform="translate(1434.2,622.93) scale(1,1.075)" font-size="16.3" text-anchor="start" font-family='"Liberation Serif", serif' font-weight="bold">0</text>
<line x1="1426.2" y1="661.8" x2="1418.7" y2="661.8" stroke="#2b2b2b" stroke-width="1.5"/>
<text transform="translate(1434.2,666.6) scale(1,1.075)" font-size="16.3" text-anchor="start" font-family='"Liberation Serif", serif' font-weight="bold">-10</text>
<line x1="1426.2" y1="705.47" x2="1418.7" y2="705.47" stroke="#2b2b2b" stroke-width="1.5"/>
<text transform="translate(1434.2,710.27) scale(1,1.075)" font-size="16.3" text-anchor="start" font-family='"Liberation Serif", serif' font-weight="bold">-20</text>
<line x1="1426.2" y1="749.13" x2="1418.7" y2="749.13" stroke="#2b2b2b" stroke-width="1.5"/>
<text transform="translate(1434.2,753.93) scale(1,1.075)" font-size="16.3" text-anchor="start" font-family='"Liberation Serif", serif' font-weight="bold">-30</text>
<line x1="1426.2" y1="792.8" x2="1418.7" y2="792.8" stroke="#2b2b2b" stroke-width="1.5"/>
<text transform="translate(1434.2,797.6) scale(1,1.075)" font-size="16.3" text-anchor="start" font-family='"Liberation Serif", serif' font-weight="bold">-40</text>
<line x1="1426.2" y1="836.47" x2="1418.7" y2="836.47" stroke="#2b2b2b" stroke-width="1.5"/>
<text transform="translate(1434.2,841.27) scale(1,1.075)" font-size="16.3" text-anchor="start" font-family='"Liberation Serif", serif' font-weight="bold">-50</text>
<line x1="1426.2" y1="880.13" x2="1418.7" y2="880.13" stroke="#2b2b2b" stroke-width="1.5"/>
<text transform="translate(1434.2,884.93) scale(1,1.075)" font-size="16.3" text-anchor="start" font-family='"Liberation Serif", serif' font-weight="bold">-60</text>
<line x1="1426.2" y1="923.8" x2="1418.7" y2="923.8" stroke="#2b2b2b" stroke-width="1.5"/>
<text transform="translate(1434.2,928.6) scale(1,1.075)" font-size="16.3" text-anchor="start" font-family='"Liberation Serif", serif' font-weight="bold">-70</text>
<line x1="1426.2" y1="967.47" x2="1418.7" y2="967.47" stroke="#2b2b2b" stroke-width="1.5"/>
<text transform="translate(1434.2,972.27) scale(1,1.075)" font-size="16.3" text-anchor="start" font-family='"Liberation Serif", serif' font-weight="bold">-80</text>
<text transform="translate(898.3,1010.5) scale(1,1.075)" font-size="16.3" text-anchor="middle" font-family='"Liberation Serif", serif' font-weight="bold">-2</text>
<line x1="973.71" y1="989.3" x2="973.71" y2="981.8" stroke="#2b2b2b" stroke-width="1.5"/>
<text transform="translate(973.71,1010.5) scale(1,1.075)" font-size="16.3" text-anchor="middle" font-family='"Liberation Serif", serif' font-weight="bold">-1</text>
<line x1="1049.13" y1="989.3" x2="1049.13" y2="981.8" stroke="#2b2b2b" stroke-width="1.5"/>
<text transform="translate(1049.13,1010.5) scale(1,1.075)" font-size="16.3" text-anchor="middle" font-family='"Liberation Serif", serif' font-weight="bold">0</text>
<line x1="1124.54" y1="989.3" x2="1124.54" y2="981.8" stroke="#2b2b2b" stroke-width="1.5"/>
<text transform="translate(1124.54,1010.5) scale(1,1.075)" font-size="16.3" text-anchor="middle" font-family='"Liberation Serif", serif' font-weight="bold">1</text>
<line x1="1199.96" y1="989.3" x2="1199.96" y2="981.8" stroke="#2b2b2b" stroke-width="1.5"/>
<text transform="translate(1199.96,1010.5) scale(1,1.075)" font-size="16.3" text-anchor="middle" font-family='"Liberation Serif", serif' font-weight="bold">2</text>
<line x1="1275.37" y1="989.3" x2="1275.37" y2="981.8" stroke="#2b2b2b" stroke-width="1.5"/>
<text transform="translate(1275.37,1010.5) scale(1,1.075)" font-size="16.3" text-anchor="middle" font-family='"Liberation Serif", serif' font-weight="bold">3</text>
<line x1="1350.79" y1="989.3" x2="1350.79" y2="981.8" stroke="#2b2b2b" stroke-width="1.5"/>
<text transform="translate(1350.79,1010.5) scale(1,1.075)" font-size="16.3" text-anchor="middle" font-family='"Liberation Serif", serif' font-weight="bold">4</text>
<text transform="translate(1426.2,1010.5) scale(1,1.075)" font-size="16.3" text-anchor="middle" font-family='"Liberation Serif", serif' font-weight="bold">5</text>
<rect x="896.05" y="1145.73" width="4.51" height="4.51" fill="#000"/>
<rect x="903.59" y="1151.63" width="4.51" height="4.51" fill="#000"/>
<rect x="911.13" y="1157.55" width="4.51" height="4.51" fill="#000"/>
<rect x="918.67" y="1163.5" width="4.51" height="4.51" fill="#000"/>
<rect x="926.21" y="1169.48" width="4.51" height="4.51" fill="#000"/>
<rect x="933.75" y="1175.49" width="4.51" height="4.51" fill="#000"/>
<rect x="941.29" y="1181.52" width="4.51" height="4.51" fill="#000"/>
<rect x="948.84" y="1187.57" width="4.51" height="4.51" fill="#000"/>
<rect x="956.38" y="1193.65" width="4.51" height="4.51" fill="#000"/>
<rect x="963.92" y="1199.76" width="4.51" height="4.51" fill="#000"/>
<rect x="971.46" y="1205.89" width="4.51" height="4.51" fill="#000"/>
<rect x="979" y="1212.04" width="4.51" height="4.51" fill="#000"/>
<rect x="986.54" y="1218.21" width="4.51" height="4.51" fill="#000"/>
<rect x="994.08" y="1224.4" width="4.51" height="4.51" fill="#000"/>
<rect x="1001.63" y="1230.61" width="4.51" height="4.51" fill="#000"/>
<rect x="1009.17" y="1236.84" width="4.51" height="4.51" fill="#000"/>
<rect x="1016.71" y="1243.09" width="4.51" height="4.51" fill="#000"/>
<rect x="1024.25" y="1249.36" width="4.51" height="4.51" fill="#000"/>
<rect x="1031.79" y="1255.65" width="4.51" height="4.51" fill="#000"/>
<rect x="1039.33" y="1261.95" width="4.51" height="4.51" fill="#000"/>
<rect x="1046.87" y="1268.27" width="4.51" height="4.51" fill="#000"/>
<rect x="1054.42" y="1274.61" width="4.51" height="4.51" fill="#000"/>
<rect x="1061.96" y="1280.96" width="4.51" height="4.51" fill="#000"/>
<rect x="1069.5" y="1287.32" width="4.51" height="4.51" fill="#000"/>
<rect x="1077.04" y="1293.7" width="4.51" height="4.51" fill="#000"/>
<rect x="1084.58" y="1300.08" width="4.51" height="4.51" fill="#000"/>
<rect x="1092.12" y="1306.49" width="4.51" height="4.51" fill="#000"/>
<rect x="1099.66" y="1312.9" width="4.51" height="4.51" fill="#000"/>
<rect x="1107.21" y="1319.32" width="4.51" height="4.51" fill="#000"/>
<rect x="1114.75" y="1325.75" width="4.51" height="4.51" fill="#000"/>
<rect x="1122.29" y="1332.19" width="4.51" height="4.51" fill="#000"/>
<rect x="1129.83" y="1338.64" width="4.51" height="4.51" fill="#000"/>
<rect x="1137.37" y="1345.1" width="4.51" height="4.51" fill="#000"/>
<rect x="1144.91" y="1351.56" width="4.51" height="4.51" fill="#000"/>
<rect x="1152.45" y="1358.03" width="4.51" height="4.51" fill="#000"/>
<rect x="1160" y="1364.51" width="4.51" height="4.51" fill="#000"/>
<rect x="1167.54" y="1370.99" width="4.51" height="4.51" fill="#000"/>
<rect x="1175.08" y="1377.47" width="4.51" height="4.51" fill="#000"/>
<rect x="1182.62" y="1383.95" width="4.51" height="4.51" fill="#000"/>
<rect x="1190.16" y="1390.4" width="4.51" height="4.51" fill="#000"/>
<rect x="1197.7" y="1396.78" width="4.51" height="4.51" fill="#000"/>
<rect x="1205.24" y="1403.06" width="4.51" height="4.51" fill="#000"/>
<rect x="1212.79" y="1409.22" width="4.51" height="4.51" fill="#000"/>
<rect x="1220.33" y="1415.22" width="4.51" height="4.51" fill="#000"/>
<rect x="1227.87" y="1421.03" width="4.51" height="4.51" fill="#000"/>
<rect x="1235.41" y="1426.61" width="4.51" height="4.51" fill="#000"/>
<rect x="1242.95" y="1431.94" width="4.51" height="4.51" fill="#000"/>
<rect x="1250.49" y="1436.99" width="4.51" height="4.51" fill="#000"/>
<rect x="1258.03" y="1441.73" width="4.51" height="4.51" fill="#000"/>
<rect x="1265.58" y="1446.14" width="4.51" height="4.51" fill="#000"/>
<rect x="1273.12" y="1450.2" width="4.51" height="4.51" fill="#000"/>
<rect x="1280.66" y="1453.89" width="4.51" height="4.51" fill="#000"/>
<rect x="1288.2" y="1457.18" width="4.51" height="4.51" fill="#000"/>
<rect x="1295.74" y="1460.06" width="4.51" height="4.51" fill="#000"/>
<rect x="1303.28" y="1462.54" width="4.51" height="4.51" fill="#000"/>
<rect x="1310.82" y="1464.67" width="4.51" height="4.51" fill="#000"/>
<rect x="1318.37" y="1466.45" width="4.51" height="4.51" fill="#000"/>
<rect x="1325.91" y="1467.93" width="4.51" height="4.51" fill="#000"/>
<rect x="1333.45" y="1469.11" width="4.51" height="4.51" fill="#000"/>
<rect x="1340.99" y="1470.04" width="4.51" height="4.51" fill="#000"/>
<rect x="1348.53" y="1470.73" width="4.51" height="4.51" fill="#000"/>
<rect x="1356.07" y="1471.21" width="4.51" height="4.51" fill="#000"/>
<rect x="1363.61" y="1471.51" width="4.51" height="4.51" fill="#000"/>
<rect x="1371.16" y="1471.65" width="4.51" height="4.51" fill="#000"/>
<rect x="1378.7" y="1471.66" width="4.51" height="4.51" fill="#000"/>
<rect x="1386.24" y="1471.56" width="4.51" height="4.51" fill="#000"/>
<rect x="1393.78" y="1471.39" width="4.51" height="4.51" fill="#000"/>
<rect x="1401.32" y="1471.16" width="4.51" height="4.51" fill="#000"/>
<rect x="1408.86" y="1470.91" width="4.51" height="4.51" fill="#000"/>
<rect x="1416.4" y="1470.66" width="4.51" height="4.51" fill="#000"/>
<rect x="1423.95" y="1470.43" width="4.51" height="4.51" fill="#000"/>
<circle cx="898.3" cy="1168.42" r="2.45" fill="#f00"/>
<circle cx="905.84" cy="1173.74" r="2.45" fill="#f00"/>
<circle cx="913.38" cy="1179.15" r="2.45" fill="#f00"/>
<circle cx="920.92" cy="1184.65" r="2.45" fill="#f00"/>
<circle cx="928.47" cy="1190.24" r="2.45" fill="#f00"/>
<circle cx="936.01" cy="1195.9" r="2.45" fill="#f00"/>
<circle cx="943.55" cy="1201.64" r="2.45" fill="#f00"/>
<circle cx="951.09" cy="1207.45" r="2.45" fill="#f00"/>
<circle cx="958.63" cy="1213.32" r="2.45" fill="#f00"/>
<circle cx="966.17" cy="1219.26" r="2.45" fill="#f00"/>
<circle cx="973.71" cy="1225.26" r="2.45" fill="#f00"/>
<circle cx="981.26" cy="1231.31" r="2.45" fill="#f00"/>
<circle cx="988.8" cy="1237.41" r="2.45" fill="#f00"/>
<circle cx="996.34" cy="1243.55" r="2.45" fill="#f00"/>
<circle cx="1003.88" cy="1249.74" r="2.45" fill="#f00"/>
<circle cx="1011.42" cy="1255.96" r="2.45" fill="#f00"/>
<circle cx="1018.96" cy="1262.22" r="2.45" fill="#f00"/>
<circle cx="1026.5" cy="1268.5" r="2.45" fill="#f00"/>
<circle cx="1034.05" cy="1274.8" r="2.45" fill="#f00"/>
<circle cx="1041.59" cy="1281.13" r="2.45" fill="#f00"/>
<circle cx="1049.13" cy="1287.47" r="2.45" fill="#f00"/>
<circle cx="1056.67" cy="1293.82" r="2.45" fill="#f00"/>
<circle cx="1064.21" cy="1300.18" r="2.45" fill="#f00"/>
<circle cx="1071.75" cy="1306.53" r="2.45" fill="#f00"/>
<circle cx="1079.29" cy="1312.89" r="2.45" fill="#f00"/>
<circle cx="1086.84" cy="1319.24" r="2.45" fill="#f00"/>
<circle cx="1094.38" cy="1325.58" r="2.45" fill="#f00"/>
<circle cx="1101.92" cy="1331.9" r="2.45" fill="#f00"/>
<circle cx="1109.46" cy="1338.2" r="2.45" fill="#f00"/>
<circle cx="1117" cy="1344.48" r="2.45" fill="#f00"/>
<circle cx="1124.54" cy="1350.73" r="2.45" fill="#f00"/>
<circle cx="1132.08" cy="1356.95" r="2.45" fill="#f00"/>
<circle cx="1139.63" cy="1363.13" r="2.45" fill="#f00"/>
<circle cx="1147.17" cy="1369.27" r="2.45" fill="#f00"/>
<circle cx="1154.71" cy="1375.36" r="2.45" fill="#f00"/>
<circle cx="1162.25" cy="1381.4" r="2.45" fill="#f00"/>
<circle cx="1169.79" cy="1387.39" r="2.45" fill="#f00"/>
<circle cx="1177.33" cy="1393.32" r="2.45" fill="#f00"/>
<circle cx="1184.87" cy="1399.19" r="2.45" fill="#f00"/>
<circle cx="1192.42" cy="1404.96" r="2.45" fill="#f00"/>
<circle cx="1199.96" cy="1410.63" r="2.45" fill="#f00"/>
<circle cx="1207.5" cy="1416.16" r="2.45" fill="#f00"/>
<circle cx="1215.04" cy="1421.54" r="2.45" fill="#f00"/>
<circle cx="1222.58" cy="1426.75" r="2.45" fill="#f00"/>
<circle cx="1230.12" cy="1431.76" r="2.45" fill="#f00"/>
<circle cx="1237.66" cy="1436.55" r="2.45" fill="#f00"/>
<circle cx="1245.21" cy="1441.1" r="2.45" fill="#f00"/>
<circle cx="1252.75" cy="1445.39" r="2.45" fill="#f00"/>
<circle cx="1260.29" cy="1449.41" r="2.45" fill="#f00"/>
<circle cx="1267.83" cy="1453.15" r="2.45" fill="#f00"/>
<circle cx="1275.37" cy="1456.61" r="2.45" fill="#f00"/>
<circle cx="1282.91" cy="1459.78" r="2.45" fill="#f00"/>
<circle cx="1290.45" cy="1462.64" r="2.45" fill="#f00"/>
<circle cx="1298" cy="1465.2" r="2.45" fill="#f00"/>
<circle cx="1305.54" cy="1467.47" r="2.45" fill="#f00"/>
<circle cx="1313.08" cy="1469.45" r="2.45" fill="#f00"/>
<circle cx="1320.62" cy="1471.18" r="2.45" fill="#f00"/>
<circle cx="1328.16" cy="1472.65" r="2.45" fill="#f00"/>
<circle cx="1335.7" cy="1473.9" r="2.45" fill="#f00"/>
<circle cx="1343.24" cy="1474.93" r="2.45" fill="#f00"/>
<circle cx="1350.79" cy="1475.76" r="2.45" fill="#f00"/>
<circle cx="1358.33" cy="1476.4" r="2.45" fill="#f00"/>
<circle cx="1365.87" cy="1476.87" r="2.45" fill="#f00"/>
<circle cx="1373.41" cy="1477.18" r="2.45" fill="#f00"/>
<circle cx="1380.95" cy="1477.35" r="2.45" fill="#f00"/>
<circle cx="1388.49" cy="1477.4" r="2.45" fill="#f00"/>
<circle cx="1396.03" cy="1477.34" r="2.45" fill="#f00"/>
<circle cx="1403.58" cy="1477.19" r="2.45" fill="#f00"/>
<circle cx="1411.12" cy="1476.95" r="2.45" fill="#f00"/>
<circle cx="1418.66" cy="1476.65" r="2.45" fill="#f00"/>
<circle cx="1426.2" cy="1476.3" r="2.45" fill="#f00"/>
<path d="M895.48 1169.2L901.12 1169.2L898.3 1164.13Z" fill="#00f"/>
<path d="M903.02 1174.55L908.66 1174.55L905.84 1169.47Z" fill="#00f"/>
<path d="M910.57 1179.98L916.2 1179.98L913.38 1174.91Z" fill="#00f"/>
<path d="M918.11 1185.51L923.74 1185.51L920.92 1180.43Z" fill="#00f"/>
<path d="M925.65 1191.11L931.28 1191.11L928.47 1186.04Z" fill="#00f"/>
<path d="M933.19 1196.79L938.82 1196.79L936.01 1191.72Z" fill="#00f"/>
<path d="M940.73 1202.54L946.37 1202.54L943.55 1197.47Z" fill="#00f"/>
<path d="M948.27 1208.36L953.91 1208.36L951.09 1203.29Z" fill="#00f"/>
<path d="M955.81 1214.24L961.45 1214.24L958.63 1209.17Z" fill="#00f"/>
<path d="M963.36 1220.18L968.99 1220.18L966.17 1215.11Z" fill="#00f"/>
<path d="M970.9 1226.18L976.53 1226.18L973.71 1221.11Z" fill="#00f"/>
<path d="M978.44 1232.23L984.07 1232.23L981.26 1227.16Z" fill="#00f"/>
<path d="M985.98 1238.33L991.61 1238.33L988.8 1233.26Z" fill="#00f"/>
<path d="M993.52 1244.47L999.16 1244.47L996.34 1239.4Z" fill="#00f"/>
<path d="M1001.06 1250.65L1006.7 1250.65L1003.88 1245.58Z" fill="#00f"/>
<path d="M1008.6 1256.87L1014.24 1256.87L1011.42 1251.8Z" fill="#00f"/>
<path d="M1016.15 1263.11L1021.78 1263.11L1018.96 1258.04Z" fill="#00f"/>
<path d="M1023.69 1269.39L1029.32 1269.39L1026.5 1264.32Z" fill="#00f"/>
<path d="M1031.23 1275.68L1036.86 1275.68L1034.05 1270.61Z" fill="#00f"/>
<path d="M1038.77 1282L1044.4 1282L1041.59 1276.93Z" fill="#00f"/>
<path d="M1046.31 1288.33L1051.95 1288.33L1049.13 1283.26Z" fill="#00f"/>
<path d="M1053.85 1294.67L1059.49 1294.67L1056.67 1289.6Z" fill="#00f"/>
<path d="M1061.39 1301.02L1067.03 1301.02L1064.21 1295.94Z" fill="#00f"/>
<path d="M1068.94 1307.36L1074.57 1307.36L1071.75 1302.29Z" fill="#00f"/>
<path d="M1076.48 1313.71L1082.11 1313.71L1079.29 1308.64Z" fill="#00f"/>
<path d="M1084.02 1320.05L1089.65 1320.05L1086.84 1314.98Z" fill="#00f"/>
<path d="M1091.56 1326.38L1097.19 1326.38L1094.38 1321.31Z" fill="#00f"/>
<path d="M1099.1 1332.7L1104.74 1332.7L1101.92 1327.63Z" fill="#00f"/>
<path d="M1106.64 1338.99L1112.28 1338.99L1109.46 1333.92Z" fill="#00f"/>
<path d="M1114.18 1345.27L1119.82 1345.27L1117 1340.2Z" fill="#00f"/>
<path d="M1121.73 1351.52L1127.36 1351.52L1124.54 1346.45Z" fill="#00f"/>
<path d="M1129.27 1357.74L1134.9 1357.74L1132.08 1352.66Z" fill="#00f"/>
<path d="M1136.81 1363.92L1142.44 1363.92L1139.63 1358.85Z" fill="#00f"/>
<path d="M1144.35 1370.06L1149.98 1370.06L1147.17 1364.99Z" fill="#00f"/>
<path d="M1151.89 1376.16L1157.53 1376.16L1154.71 1371.09Z" fill="#00f"/>
<path d="M1159.43 1382.22L1165.07 1382.22L1162.25 1377.14Z" fill="#00f"/>
<path d="M1166.97 1388.22L1172.61 1388.22L1169.79 1383.15Z" fill="#00f"/>
<path d="M1174.52 1394.16L1180.15 1394.16L1177.33 1389.09Z" fill="#00f"/>
<path d="M1182.06 1400.05L1187.69 1400.05L1184.87 1394.97Z" fill="#00f"/>
<path d="M1189.6 1405.84L1195.23 1405.84L1192.42 1400.77Z" fill="#00f"/>
<path d="M1197.14 1411.53L1202.77 1411.53L1199.96 1406.46Z" fill="#00f"/>
<path d="M1204.68 1417.1L1210.32 1417.1L1207.5 1412.03Z" fill="#00f"/>
<path d="M1212.22 1422.51L1217.86 1422.51L1215.04 1417.44Z" fill="#00f"/>
<path d="M1219.76 1427.75L1225.4 1427.75L1222.58 1422.68Z" fill="#00f"/>
<path d="M1227.31 1432.8L1232.94 1432.8L1230.12 1427.73Z" fill="#00f"/>
<path d="M1234.85 1437.63L1240.48 1437.63L1237.66 1432.56Z" fill="#00f"/>
<path d="M1242.39 1442.23L1248.02 1442.23L1245.21 1437.16Z" fill="#00f"/>
<path d="M1249.93 1446.57L1255.56 1446.57L1252.75 1441.49Z" fill="#00f"/>
<path d="M1257.47 1450.64L1263.11 1450.64L1260.29 1445.57Z" fill="#00f"/>
<path d="M1265.01 1454.44L1270.65 1454.44L1267.83 1449.36Z" fill="#00f"/>
<path d="M1272.55 1457.95L1278.19 1457.95L1275.37 1452.88Z" fill="#00f"/>
<path d="M1280.1 1461.17L1285.73 1461.17L1282.91 1456.1Z" fill="#00f"/>
<path d="M1287.64 1464.09L1293.27 1464.09L1290.45 1459.01Z" fill="#00f"/>
<path d="M1295.18 1466.7L1300.81 1466.7L1298 1461.63Z" fill="#00f"/>
<path d="M1302.72 1469.02L1308.35 1469.02L1305.54 1463.94Z" fill="#00f"/>
<path d="M1310.26 1471.05L1315.9 1471.05L1313.08 1465.98Z" fill="#00f"/>
<path d="M1317.8 1472.83L1323.44 1472.83L1320.62 1467.76Z" fill="#00f"/>
<path d="M1325.34 1474.35L1330.98 1474.35L1328.16 1469.28Z" fill="#00f"/>
<path d="M1332.89 1475.64L1338.52 1475.64L1335.7 1470.57Z" fill="#00f"/>
<path d="M1340.43 1476.71L1346.06 1476.71L1343.24 1471.64Z" fill="#00f"/>
<path d="M1347.97 1477.57L1353.6 1477.57L1350.79 1472.5Z" fill="#00f"/>
<path d="M1355.51 1478.24L1361.14 1478.24L1358.33 1473.17Z" fill="#00f"/>
<path d="M1363.05 1478.74L1368.69 1478.74L1365.87 1473.67Z" fill="#00f"/>
<path d="M1370.59 1479.08L1376.23 1479.08L1373.41 1474.01Z" fill="#00f"/>
<path d="M1378.13 1479.27L1383.77 1479.27L1380.95 1474.2Z" fill="#00f"/>
<path d="M1385.68 1479.33L1391.31 1479.33L1388.49 1474.26Z" fill="#00f"/>
<path d="M1393.22 1479.28L1398.85 1479.28L1396.03 1474.21Z" fill="#00f"/>
<path d="M1400.76 1479.12L1406.39 1479.12L1403.58 1474.05Z" fill="#00f"/>
<path d="M1408.3 1478.88L1413.93 1478.88L1411.12 1473.81Z" fill="#00f"/>
<path d="M1415.84 1478.56L1421.48 1478.56L1418.66 1473.49Z" fill="#00f"/>
<path d="M1423.38 1478.19L1429.02 1478.19L1426.2 1473.12Z" fill="#00f"/>
<rect x="896.05" y="1451.8" width="4.51" height="4.51" fill="#000"/>
<rect x="903.59" y="1452.83" width="4.51" height="4.51" fill="#000"/>
<rect x="911.13" y="1451.78" width="4.51" height="4.51" fill="#000"/>
<rect x="918.67" y="1455.97" width="4.51" height="4.51" fill="#000"/>
<rect x="926.21" y="1471.92" width="4.51" height="4.51" fill="#000"/>
<rect x="933.75" y="1469.03" width="4.51" height="4.51" fill="#000"/>
<rect x="941.29" y="1464.48" width="4.51" height="4.51" fill="#000"/>
<rect x="948.84" y="1463.72" width="4.51" height="4.51" fill="#000"/>
<rect x="956.38" y="1464.21" width="4.51" height="4.51" fill="#000"/>
<rect x="963.92" y="1465.24" width="4.51" height="4.51" fill="#000"/>
<rect x="971.46" y="1466.68" width="4.51" height="4.51" fill="#000"/>
<rect x="979" y="1468.41" width="4.51" height="4.51" fill="#000"/>
<rect x="986.54" y="1470.3" width="4.51" height="4.51" fill="#000"/>
<rect x="994.08" y="1472.21" width="4.51" height="4.51" fill="#000"/>
<rect x="1001.63" y="1474.06" width="4.51" height="4.51" fill="#000"/>
<rect x="1009.17" y="1475.8" width="4.51" height="4.51" fill="#000"/>
<rect x="1016.71" y="1477.44" width="4.51" height="4.51" fill="#000"/>
<rect x="1024.25" y="1478.96" width="4.51" height="4.51" fill="#000"/>
<rect x="1031.79" y="1480.37" width="4.51" height="4.51" fill="#000"/>
<rect x="1039.33" y="1481.64" width="4.51" height="4.51" fill="#000"/>
<rect x="1046.87" y="1482.78" width="4.51" height="4.51" fill="#000"/>
<rect x="1054.42" y="1483.77" width="4.51" height="4.51" fill="#000"/>
<rect x="1061.96" y="1484.61" width="4.51" height="4.51" fill="#000"/>
<rect x="1069.5" y="1485.29" width="4.51" height="4.51" fill="#000"/>
<rect x="1077.04" y="1485.8" width="4.51" height="4.51" fill="#000"/>
<rect x="1084.58" y="1486.14" width="4.51" height="4.51" fill="#000"/>
<rect x="1092.12" y="1486.29" width="4.51" height="4.51" fill="#000"/>
<rect x="1099.66" y="1486.25" width="4.51" height="4.51" fill="#000"/>
<rect x="1107.21" y="1486.02" width="4.51" height="4.51" fill="#000"/>
<rect x="1114.75" y="1485.58" width="4.51" height="4.51" fill="#000"/>
<rect x="1122.29" y="1484.92" width="4.51" height="4.51" fill="#000"/>
<rect x="1129.83" y="1484.04" width="4.51" height="4.51" fill="#000"/>
<rect x="1137.37" y="1482.94" width="4.51" height="4.51" fill="#000"/>
<rect x="1144.91" y="1481.59" width="4.51" height="4.51" fill="#000"/>
<rect x="1152.45" y="1479.96" width="4.51" height="4.51" fill="#000"/>
<rect x="1160" y="1478" width="4.51" height="4.51" fill="#000"/>
<rect x="1167.54" y="1475.68" width="4.51" height="4.51" fill="#000"/>
<rect x="1175.08" y="1472.95" width="4.51" height="4.51" fill="#000"/>
<rect x="1182.62" y="1469.78" width="4.51" height="4.51" fill="#000"/>
<rect x="1190.16" y="1466.07" width="4.51" height="4.51" fill="#000"/>
<rect x="1197.7" y="1461.66" width="4.51" height="4.51" fill="#000"/>
<rect x="1205.24" y="1456.33" width="4.51" height="4.51" fill="#000"/>
<rect x="1212.79" y="1449.86" width="4.51" height="4.51" fill="#000"/>
<rect x="1220.33" y="1442.05" width="4.51" height="4.51" fill="#000"/>
<rect x="1227.87" y="1432.69" width="4.51" height="4.51" fill="#000"/>
<rect x="1235.41" y="1421.63" width="4.51" height="4.51" fill="#000"/>
<rect x="1242.95" y="1408.92" width="4.51" height="4.51" fill="#000"/>
<rect x="1250.49" y="1394.69" width="4.51" height="4.51" fill="#000"/>
<rect x="1258.03" y="1379.03" width="4.51" height="4.51" fill="#000"/>
<rect x="1265.58" y="1362.05" width="4.51" height="4.51" fill="#000"/>
<rect x="1273.12" y="1343.87" width="4.51" height="4.51" fill="#000"/>
<rect x="1280.66" y="1324.6" width="4.51" height="4.51" fill="#000"/>
<rect x="1288.2" y="1304.52" width="4.51" height="4.51" fill="#000"/>
<rect x="1295.74" y="1284.42" width="4.51" height="4.51" fill="#000"/>
<rect x="1303.28" y="1265.18" width="4.51" height="4.51" fill="#000"/>
<rect x="1310.82" y="1247.51" width="4.51" height="4.51" fill="#000"/>
<rect x="1318.37" y="1231.5" width="4.51" height="4.51" fill="#000"/>
<rect x="1325.91" y="1217.13" width="4.51" height="4.51" fill="#000"/>
<rect x="1333.45" y="1204.4" width="4.51" height="4.51" fill="#000"/>
<rect x="1340.99" y="1193.27" width="4.51" height="4.51" fill="#000"/>
<rect x="1348.53" y="1183.73" width="4.51" height="4.51" fill="#000"/>
<rect x="1356.07" y="1175.74" width="4.51" height="4.51" fill="#000"/>
<rect x="1363.61" y="1169.09" width="4.51" height="4.51" fill="#000"/>
<rect x="1371.16" y="1163.58" width="4.51" height="4.51" fill="#000"/>
<rect x="1378.7" y="1158.99" width="4.51" height="4.51" fill="#000"/>
<rect x="1386.24" y="1155.13" width="4.51" height="4.51" fill="#000"/>
<rect x="1393.78" y="1151.78" width="4.51" height="4.51" fill="#000"/>
<rect x="1401.32" y="1148.73" width="4.51" height="4.51" fill="#000"/>
<rect x="1408.86" y="1145.76" width="4.51" height="4.51" fill="#000"/>
<rect x="1416.4" y="1142.68" width="4.51" height="4.51" fill="#000"/>
<rect x="1423.95" y="1139.26" width="4.51" height="4.51" fill="#000"/>
<circle cx="898.3" cy="1380.43" r="2.45" fill="#f00"/>
<circle cx="905.84" cy="1389.67" r="2.45" fill="#f00"/>
<circle cx="913.38" cy="1399.21" r="2.45" fill="#f00"/>
<circle cx="920.92" cy="1408.79" r="2.45" fill="#f00"/>
<circle cx="928.47" cy="1418.15" r="2.45" fill="#f00"/>
<circle cx="936.01" cy="1427.04" r="2.45" fill="#f00"/>
<circle cx="943.55" cy="1435.27" r="2.45" fill="#f00"/>
<circle cx="951.09" cy="1442.64" r="2.45" fill="#f00"/>
<circle cx="958.63" cy="1449.03" r="2.45" fill="#f00"/>
<circle cx="966.17" cy="1454.5" r="2.45" fill="#f00"/>
<circle cx="973.71" cy="1459.16" r="2.45" fill="#f00"/>
<circle cx="981.26" cy="1463.12" r="2.45" fill="#f00"/>
<circle cx="988.8" cy="1466.5" r="2.45" fill="#f00"/>
<circle cx="996.34" cy="1469.4" r="2.45" fill="#f00"/>
<circle cx="1003.88" cy="1471.91" r="2.45" fill="#f00"/>
<circle cx="1011.42" cy="1474.07" r="2.45" fill="#f00"/>
<circle cx="1018.96" cy="1475.88" r="2.45" fill="#f00"/>
<circle cx="1026.5" cy="1477.36" r="2.45" fill="#f00"/>
<circle cx="1034.05" cy="1478.52" r="2.45" fill="#f00"/>
<circle cx="1041.59" cy="1479.37" r="2.45" fill="#f00"/>
<circle cx="1049.13" cy="1479.92" r="2.45" fill="#f00"/>
<circle cx="1056.67" cy="1480.18" r="2.45" fill="#f00"/>
<circle cx="1064.21" cy="1480.18" r="2.45" fill="#f00"/>
<circle cx="1071.75" cy="1479.91" r="2.45" fill="#f00"/>
<circle cx="1079.29" cy="1479.4" r="2.45" fill="#f00"/>
<circle cx="1086.84" cy="1478.64" r="2.45" fill="#f00"/>
<circle cx="1094.38" cy="1477.67" r="2.45" fill="#f00"/>
<circle cx="1101.92" cy="1476.48" r="2.45" fill="#f00"/>
<circle cx="1109.46" cy="1475.1" r="2.45" fill="#f00"/>
<circle cx="1117" cy="1473.52" r="2.45" fill="#f00"/>
<circle cx="1124.54" cy="1471.77" r="2.45" fill="#f00"/>
<circle cx="1132.08" cy="1469.86" r="2.45" fill="#f00"/>
<circle cx="1139.63" cy="1467.8" r="2.45" fill="#f00"/>
<circle cx="1147.17" cy="1465.58" r="2.45" fill="#f00"/>
<circle cx="1154.71" cy="1463.1" r="2.45" fill="#f00"/>
<circle cx="1162.25" cy="1460.28" r="2.45" fill="#f00"/>
<circle cx="1169.79" cy="1457.02" r="2.45" fill="#f00"/>
<circle cx="1177.33" cy="1453.2" r="2.45" fill="#f00"/>
<circle cx="1184.87" cy="1448.74" r="2.45" fill="#f00"/>
<circle cx="1192.42" cy="1443.54" r="2.45" fill="#f00"/>
<circle cx="1199.96" cy="1437.48" r="2.45" fill="#f00"/>
<circle cx="1207.5" cy="1430.48" r="2.45" fill="#f00"/>
<circle cx="1215.04" cy="1422.43" r="2.45" fill="#f00"/>
<circle cx="1222.58" cy="1413.24" r="2.45" fill="#f00"/>
<circle cx="1230.12" cy="1402.8" r="2.45" fill="#f00"/>
<circle cx="1237.66" cy="1391.08" r="2.45" fill="#f00"/>
<circle cx="1245.21" cy="1378.22" r="2.45" fill="#f00"/>
<circle cx="1252.75" cy="1364.44" r="2.45" fill="#f00"/>
<circle cx="1260.29" cy="1349.95" r="2.45" fill="#f00"/>
<circle cx="1267.83" cy="1334.95" r="2.45" fill="#f00"/>
<circle cx="1275.37" cy="1319.66" r="2.45" fill="#f00"/>
<circle cx="1282.91" cy="1304.28" r="2.45" fill="#f00"/>
<circle cx="1290.45" cy="1289" r="2.45" fill="#f00"/>
<circle cx="1298" cy="1273.98" r="2.45" fill="#f00"/>
<circle cx="1305.54" cy="1259.37" r="2.45" fill="#f00"/>
<circle cx="1313.08" cy="1245.33" r="2.45" fill="#f00"/>
<circle cx="1320.62" cy="1232" r="2.45" fill="#f00"/>
<circle cx="1328.16" cy="1219.52" r="2.45" fill="#f00"/>
<circle cx="1335.7" cy="1208.06" r="2.45" fill="#f00"/>
<circle cx="1343.24" cy="1197.76" r="2.45" fill="#f00"/>
<circle cx="1350.79" cy="1188.77" r="2.45" fill="#f00"/>
<circle cx="1358.33" cy="1181.16" r="2.45" fill="#f00"/>
<circle cx="1365.87" cy="1174.78" r="2.45" fill="#f00"/>
<circle cx="1373.41" cy="1169.43" r="2.45" fill="#f00"/>
<circle cx="1380.95" cy="1164.91" r="2.45" fill="#f00"/>
<circle cx="1388.49" cy="1161.02" r="2.45" fill="#f00"/>
<circle cx="1396.03" cy="1157.57" r="2.45" fill="#f00"/>
<circle cx="1403.58" cy="1154.35" r="2.45" fill="#f00"/>
<circle cx="1411.12" cy="1151.17" r="2.45" fill="#f00"/>
<circle cx="1418.66" cy="1147.84" r="2.45" fill="#f00"/>
<circle cx="1426.2" cy="1144.14" r="2.45" fill="#f00"/>
<path d="M895.48 1392.4L901.12 1392.4L898.3 1387.33Z" fill="#00f"/>
<path d="M903.02 1403.15L908.66 1403.15L905.84 1398.08Z" fill="#00f"/>
<path d="M910.57 1413L916.2 1413L913.38 1407.93Z" fill="#00f"/>
<path d="M918.11 1421.98L923.74 1421.98L920.92 1416.9Z" fill="#00f"/>
<path d="M925.65 1430.12L931.28 1430.12L928.47 1425.05Z" fill="#00f"/>
<path d="M933.19 1437.48L938.82 1437.48L936.01 1432.41Z" fill="#00f"/>
<path d="M940.73 1444.1L946.37 1444.1L943.55 1439.02Z" fill="#00f"/>
<path d="M948.27 1450L953.91 1450L951.09 1444.92Z" fill="#00f"/>
<path d="M955.81 1455.23L961.45 1455.23L958.63 1450.15Z" fill="#00f"/>
<path d="M963.36 1459.82L968.99 1459.82L966.17 1454.75Z" fill="#00f"/>
<path d="M970.9 1463.83L976.53 1463.83L973.71 1458.76Z" fill="#00f"/>
<path d="M978.44 1467.29L984.07 1467.29L981.26 1462.21Z" fill="#00f"/>
<path d="M985.98 1470.23L991.61 1470.23L988.8 1465.16Z" fill="#00f"/>
<path d="M993.52 1472.69L999.16 1472.69L996.34 1467.62Z" fill="#00f"/>
<path d="M1001.06 1474.73L1006.7 1474.73L1003.88 1469.66Z" fill="#00f"/>
<path d="M1008.6 1476.36L1014.24 1476.36L1011.42 1471.29Z" fill="#00f"/>
<path d="M1016.15 1477.64L1021.78 1477.64L1018.96 1472.57Z" fill="#00f"/>
<path d="M1023.69 1478.6L1029.32 1478.6L1026.5 1473.53Z" fill="#00f"/>
<path d="M1031.23 1479.28L1036.86 1479.28L1034.05 1474.21Z" fill="#00f"/>
<path d="M1038.77 1479.71L1044.4 1479.71L1041.59 1474.64Z" fill="#00f"/>
<path d="M1046.31 1479.94L1051.95 1479.94L1049.13 1474.87Z" fill="#00f"/>
<path d="M1053.85 1480L1059.49 1480L1056.67 1474.93Z" fill="#00f"/>
<path d="M1061.39 1479.88L1067.03 1479.88L1064.21 1474.8Z" fill="#00f"/>
<path d="M1068.94 1479.58L1074.57 1479.58L1071.75 1474.5Z" fill="#00f"/>
<path d="M1076.48 1479.09L1082.11 1479.09L1079.29 1474.02Z" fill="#00f"/>
<path d="M1084.02 1478.41L1089.65 1478.41L1086.84 1473.34Z" fill="#00f"/>
<path d="M1091.56 1477.54L1097.19 1477.54L1094.38 1472.47Z" fill="#00f"/>
<path d="M1099.1 1476.46L1104.74 1476.46L1101.92 1471.39Z" fill="#00f"/>
<path d="M1106.64 1475.17L1112.28 1475.17L1109.46 1470.1Z" fill="#00f"/>
<path d="M1114.18 1473.67L1119.82 1473.67L1117 1468.6Z" fill="#00f"/>
<path d="M1121.73 1471.95L1127.36 1471.95L1124.54 1466.88Z" fill="#00f"/>
<path d="M1129.27 1470L1134.9 1470L1132.08 1464.93Z" fill="#00f"/>
<path d="M1136.81 1467.83L1142.44 1467.83L1139.63 1462.76Z" fill="#00f"/>
<path d="M1144.35 1465.4L1149.98 1465.4L1147.17 1460.33Z" fill="#00f"/>
<path d="M1151.89 1462.66L1157.53 1462.66L1154.71 1457.59Z" fill="#00f"/>
<path d="M1159.43 1459.55L1165.07 1459.55L1162.25 1454.48Z" fill="#00f"/>
<path d="M1166.97 1456L1172.61 1456L1169.79 1450.93Z" fill="#00f"/>
<path d="M1174.52 1451.95L1180.15 1451.95L1177.33 1446.88Z" fill="#00f"/>
<path d="M1182.06 1447.32L1187.69 1447.32L1184.87 1442.25Z" fill="#00f"/>
<path d="M1189.6 1442.06L1195.23 1442.06L1192.42 1436.98Z" fill="#00f"/>
<path d="M1197.14 1436.09L1202.77 1436.09L1199.96 1431.02Z" fill="#00f"/>
<path d="M1204.68 1429.35L1210.32 1429.35L1207.5 1424.28Z" fill="#00f"/>
<path d="M1212.22 1421.78L1217.86 1421.78L1215.04 1416.71Z" fill="#00f"/>
<path d="M1219.76 1413.31L1225.4 1413.31L1222.58 1408.24Z" fill="#00f"/>
<path d="M1227.31 1403.87L1232.94 1403.87L1230.12 1398.8Z" fill="#00f"/>
<path d="M1234.85 1393.41L1240.48 1393.41L1237.66 1388.34Z" fill="#00f"/>
<path d="M1242.39 1381.96L1248.02 1381.96L1245.21 1376.89Z" fill="#00f"/>
<path d="M1249.93 1369.56L1255.56 1369.56L1252.75 1364.49Z" fill="#00f"/>
<path d="M1257.47 1356.25L1263.11 1356.25L1260.29 1351.18Z" fill="#00f"/>
<path d="M1265.01 1342.11L1270.65 1342.11L1267.83 1337.04Z" fill="#00f"/>
<path d="M1272.55 1327.37L1278.19 1327.37L1275.37 1322.3Z" fill="#00f"/>
<path d="M1280.1 1312.27L1285.73 1312.27L1282.91 1307.2Z" fill="#00f"/>
<path d="M1287.64 1297.06L1293.27 1297.06L1290.45 1291.98Z" fill="#00f"/>
<path d="M1295.18 1282L1300.81 1282L1298 1276.93Z" fill="#00f"/>
<path d="M1302.72 1267.38L1308.35 1267.38L1305.54 1262.31Z" fill="#00f"/>
<path d="M1310.26 1253.41L1315.9 1253.41L1313.08 1248.34Z" fill="#00f"/>
<path d="M1317.8 1240.21L1323.44 1240.21L1320.62 1235.13Z" fill="#00f"/>
<path d="M1325.34 1227.84L1330.98 1227.84L1328.16 1222.77Z" fill="#00f"/>
<path d="M1332.89 1216.39L1338.52 1216.39L1335.7 1211.32Z" fill="#00f"/>
<path d="M1340.43 1205.93L1346.06 1205.93L1343.24 1200.86Z" fill="#00f"/>
<path d="M1347.97 1196.54L1353.6 1196.54L1350.79 1191.47Z" fill="#00f"/>
<path d="M1355.51 1188.27L1361.14 1188.27L1358.33 1183.2Z" fill="#00f"/>
<path d="M1363.05 1181.04L1368.69 1181.04L1365.87 1175.97Z" fill="#00f"/>
<path d="M1370.59 1174.78L1376.23 1174.78L1373.41 1169.71Z" fill="#00f"/>
<path d="M1378.13 1169.38L1383.77 1169.38L1380.95 1164.3Z" fill="#00f"/>
<path d="M1385.68 1164.75L1391.31 1164.75L1388.49 1159.67Z" fill="#00f"/>
<path d="M1393.22 1160.79L1398.85 1160.79L1396.03 1155.72Z" fill="#00f"/>
<path d="M1400.76 1157.43L1406.39 1157.43L1403.58 1152.35Z" fill="#00f"/>
<path d="M1408.3 1154.55L1413.93 1154.55L1411.12 1149.48Z" fill="#00f"/>
<path d="M1415.84 1152.07L1421.48 1152.07L1418.66 1147Z" fill="#00f"/>
<path d="M1423.38 1149.9L1429.02 1149.9L1426.2 1144.83Z" fill="#00f"/>
<polyline points="898.3,1147.99 900.95,1150.06 903.6,1152.13 906.26,1154.21 908.91,1156.29 911.56,1158.37 914.21,1160.46 916.86,1162.55 919.51,1164.64 922.17,1166.74 924.82,1168.84 927.47,1170.94 930.12,1173.05 932.77,1175.16 935.42,1177.28 938.08,1179.39 940.73,1181.51 943.38,1183.64 946.03,1185.76 948.68,1187.89 951.34,1190.03 953.99,1192.16 956.64,1194.3 959.29,1196.44 961.94,1198.59 964.59,1200.73 967.25,1202.88 969.9,1205.04 972.55,1207.19 975.2,1209.35 977.85,1211.51 980.5,1213.68 983.16,1215.84 985.81,1218.01 988.46,1220.18 991.11,1222.36 993.76,1224.54 996.42,1226.72 999.07,1228.9 1001.72,1231.08 1004.37,1233.27 1007.02,1235.46 1009.67,1237.65 1012.33,1239.85 1014.98,1242.04 1017.63,1244.24 1020.28,1246.44 1022.93,1248.65 1025.58,1250.85 1028.24,1253.06 1030.89,1255.27 1033.54,1257.48 1036.19,1259.7 1038.84,1261.91 1041.49,1264.13 1044.15,1266.35 1046.8,1268.57 1049.45,1270.8 1052.1,1273.02 1054.75,1275.25 1057.41,1277.48 1060.06,1279.71 1062.71,1281.94 1065.36,1284.18 1068.01,1286.42 1070.66,1288.65 1073.32,1290.89 1075.97,1293.14 1078.62,1295.38 1081.27,1297.62 1083.92,1299.87 1086.57,1302.12 1089.23,1304.37 1091.88,1306.62 1094.53,1308.87 1097.18,1311.12 1099.83,1313.38 1102.49,1315.63 1105.14,1317.89 1107.79,1320.15 1110.44,1322.41 1113.09,1324.67 1115.74,1326.93 1118.4,1329.2 1121.05,1331.46 1123.7,1333.73 1126.35,1335.99 1129,1338.26 1131.65,1340.53 1134.31,1342.8 1136.96,1345.07 1139.61,1347.34 1142.26,1349.61 1144.91,1351.88 1147.57,1354.16 1150.22,1356.43 1152.87,1358.71 1155.52,1360.98 1158.17,1363.26 1160.82,1365.54 1163.48,1367.81 1166.13,1370.09 1168.78,1372.37 1171.43,1374.65 1174.08,1376.93 1176.73,1379.21 1179.39,1381.49 1182.04,1383.77 1184.69,1386.05 1187.34,1388.32 1189.99,1390.59 1192.65,1392.85 1195.3,1395.1 1197.95,1397.34 1200.6,1399.57 1203.25,1401.79 1205.9,1404 1208.56,1406.19 1211.21,1408.36 1213.86,1410.52 1216.51,1412.66 1219.16,1414.78 1221.81,1416.87 1224.47,1418.94 1227.12,1420.99 1229.77,1423.01 1232.42,1425.01 1235.07,1426.97 1237.73,1428.91 1240.38,1430.81 1243.03,1432.69 1245.68,1434.52 1248.33,1436.33 1250.98,1438.09 1253.64,1439.82 1256.29,1441.51 1258.94,1443.16 1261.59,1444.77 1264.24,1446.34 1266.89,1447.87 1269.55,1449.35 1272.2,1450.79 1274.85,1452.19 1277.5,1453.54 1280.15,1454.84 1282.81,1456.09 1285.46,1457.3 1288.11,1458.45 1290.76,1459.56 1293.41,1460.61 1296.06,1461.61 1298.72,1462.56 1301.37,1463.47 1304.02,1464.33 1306.67,1465.14 1309.32,1465.91 1311.97,1466.63 1314.63,1467.31 1317.28,1467.96 1319.93,1468.56 1322.58,1469.12 1325.23,1469.64 1327.88,1470.13 1330.54,1470.58 1333.19,1471 1335.84,1471.38 1338.49,1471.74 1341.14,1472.06 1343.8,1472.35 1346.45,1472.61 1349.1,1472.84 1351.75,1473.05 1354.4,1473.24 1357.05,1473.39 1359.71,1473.53 1362.36,1473.64 1365.01,1473.73 1367.66,1473.81 1370.31,1473.86 1372.96,1473.9 1375.62,1473.92 1378.27,1473.92 1380.92,1473.91 1383.57,1473.89 1386.22,1473.86 1388.88,1473.81 1391.53,1473.76 1394.18,1473.69 1396.83,1473.62 1399.48,1473.55 1402.13,1473.46 1404.79,1473.38 1407.44,1473.29 1410.09,1473.2 1412.74,1473.11 1415.39,1473.02 1418.04,1472.93 1420.7,1472.84 1423.35,1472.76 1426,1472.69" fill="none" stroke="#333333" stroke-width="1.4" stroke-linejoin="round" style="mix-blend-mode:darken" />
<polyline points="898.3,1168.42 900.95,1170.28 903.6,1172.15 906.26,1174.04 908.91,1175.93 911.56,1177.84 914.21,1179.75 916.86,1181.68 919.51,1183.62 922.17,1185.57 924.82,1187.52 927.47,1189.49 930.12,1191.47 932.77,1193.46 935.42,1195.46 938.08,1197.47 940.73,1199.48 943.38,1201.51 946.03,1203.54 948.68,1205.59 951.34,1207.64 953.99,1209.7 956.64,1211.76 959.29,1213.84 961.94,1215.92 964.59,1218.01 967.25,1220.11 969.9,1222.22 972.55,1224.33 975.2,1226.45 977.85,1228.57 980.5,1230.7 983.16,1232.84 985.81,1234.99 988.46,1237.14 991.11,1239.29 993.76,1241.45 996.42,1243.62 999.07,1245.79 1001.72,1247.96 1004.37,1250.14 1007.02,1252.33 1009.67,1254.52 1012.33,1256.71 1014.98,1258.91 1017.63,1261.11 1020.28,1263.31 1022.93,1265.52 1025.58,1267.73 1028.24,1269.95 1030.89,1272.16 1033.54,1274.38 1036.19,1276.6 1038.84,1278.83 1041.49,1281.05 1044.15,1283.28 1046.8,1285.51 1049.45,1287.74 1052.1,1289.97 1054.75,1292.21 1057.41,1294.44 1060.06,1296.67 1062.71,1298.91 1065.36,1301.15 1068.01,1303.38 1070.66,1305.62 1073.32,1307.85 1075.97,1310.09 1078.62,1312.32 1081.27,1314.56 1083.92,1316.79 1086.57,1319.02 1089.23,1321.25 1091.88,1323.48 1094.53,1325.71 1097.18,1327.93 1099.83,1330.15 1102.49,1332.37 1105.14,1334.59 1107.79,1336.81 1110.44,1339.02 1113.09,1341.23 1115.74,1343.44 1118.4,1345.64 1121.05,1347.84 1123.7,1350.03 1126.35,1352.23 1129,1354.41 1131.65,1356.6 1134.31,1358.77 1136.96,1360.95 1139.61,1363.12 1142.26,1365.28 1144.91,1367.44 1147.57,1369.59 1150.22,1371.74 1152.87,1373.88 1155.52,1376.01 1158.17,1378.14 1160.82,1380.27 1163.48,1382.38 1166.13,1384.49 1168.78,1386.59 1171.43,1388.69 1174.08,1390.78 1176.73,1392.86 1179.39,1394.93 1182.04,1396.99 1184.69,1399.04 1187.34,1401.09 1189.99,1403.12 1192.65,1405.14 1195.3,1407.14 1197.95,1409.13 1200.6,1411.11 1203.25,1413.06 1205.9,1415 1208.56,1416.93 1211.21,1418.83 1213.86,1420.71 1216.51,1422.57 1219.16,1424.41 1221.81,1426.23 1224.47,1428.02 1227.12,1429.79 1229.77,1431.53 1232.42,1433.24 1235.07,1434.93 1237.73,1436.59 1240.38,1438.21 1243.03,1439.81 1245.68,1441.37 1248.33,1442.91 1250.98,1444.41 1253.64,1445.88 1256.29,1447.31 1258.94,1448.71 1261.59,1450.08 1264.24,1451.41 1266.89,1452.7 1269.55,1453.97 1272.2,1455.19 1274.85,1456.38 1277.5,1457.54 1280.15,1458.65 1282.81,1459.73 1285.46,1460.78 1288.11,1461.78 1290.76,1462.75 1293.41,1463.68 1296.06,1464.57 1298.72,1465.43 1301.37,1466.25 1304.02,1467.03 1306.67,1467.78 1309.32,1468.5 1311.97,1469.18 1314.63,1469.83 1317.28,1470.44 1319.93,1471.03 1322.58,1471.58 1325.23,1472.11 1327.88,1472.6 1330.54,1473.07 1333.19,1473.51 1335.84,1473.92 1338.49,1474.3 1341.14,1474.66 1343.8,1475 1346.45,1475.3 1349.1,1475.59 1351.75,1475.85 1354.4,1476.09 1357.05,1476.3 1359.71,1476.49 1362.36,1476.67 1365.01,1476.82 1367.66,1476.95 1370.31,1477.07 1372.96,1477.17 1375.62,1477.25 1378.27,1477.31 1380.92,1477.35 1383.57,1477.38 1386.22,1477.4 1388.88,1477.4 1391.53,1477.39 1394.18,1477.37 1396.83,1477.33 1399.48,1477.28 1402.13,1477.22 1404.79,1477.15 1407.44,1477.07 1410.09,1476.99 1412.74,1476.89 1415.39,1476.79 1418.04,1476.68 1420.7,1476.56 1423.35,1476.44 1426,1476.31" fill="none" stroke="#333333" stroke-width="1.4" stroke-linejoin="round" style="mix-blend-mode:darken" />
<polyline points="898.3,1166.91 900.95,1168.79 903.6,1170.67 906.26,1172.56 908.91,1174.46 911.56,1176.38 914.21,1178.3 916.86,1180.24 919.51,1182.18 922.17,1184.14 924.82,1186.11 927.47,1188.08 930.12,1190.07 932.77,1192.06 935.42,1194.06 938.08,1196.08 940.73,1198.1 943.38,1200.13 946.03,1202.16 948.68,1204.21 951.34,1206.27 953.99,1208.33 956.64,1210.4 959.29,1212.48 961.94,1214.56 964.59,1216.65 967.25,1218.75 969.9,1220.86 972.55,1222.97 975.2,1225.09 977.85,1227.21 980.5,1229.35 983.16,1231.48 985.81,1233.63 988.46,1235.77 991.11,1237.93 993.76,1240.09 996.42,1242.25 999.07,1244.42 1001.72,1246.6 1004.37,1248.77 1007.02,1250.96 1009.67,1253.14 1012.33,1255.33 1014.98,1257.53 1017.63,1259.73 1020.28,1261.93 1022.93,1264.13 1025.58,1266.34 1028.24,1268.55 1030.89,1270.76 1033.54,1272.98 1036.19,1275.2 1038.84,1277.42 1041.49,1279.64 1044.15,1281.86 1046.8,1284.09 1049.45,1286.32 1052.1,1288.55 1054.75,1290.78 1057.41,1293.01 1060.06,1295.24 1062.71,1297.47 1065.36,1299.7 1068.01,1301.93 1070.66,1304.17 1073.32,1306.4 1075.97,1308.63 1078.62,1310.86 1081.27,1313.09 1083.92,1315.32 1086.57,1317.55 1089.23,1319.78 1091.88,1322 1094.53,1324.23 1097.18,1326.45 1099.83,1328.67 1102.49,1330.89 1105.14,1333.11 1107.79,1335.32 1110.44,1337.53 1113.09,1339.74 1115.74,1341.94 1118.4,1344.15 1121.05,1346.34 1123.7,1348.54 1126.35,1350.73 1129,1352.92 1131.65,1355.1 1134.31,1357.28 1136.96,1359.45 1139.61,1361.62 1142.26,1363.79 1144.91,1365.95 1147.57,1368.1 1150.22,1370.25 1152.87,1372.4 1155.52,1374.53 1158.17,1376.67 1160.82,1378.79 1163.48,1380.91 1166.13,1383.03 1168.78,1385.13 1171.43,1387.23 1174.08,1389.33 1176.73,1391.41 1179.39,1393.49 1182.04,1395.56 1184.69,1397.62 1187.34,1399.67 1189.99,1401.71 1192.65,1403.74 1195.3,1405.75 1197.95,1407.75 1200.6,1409.73 1203.25,1411.7 1205.9,1413.65 1208.56,1415.58 1211.21,1417.5 1213.86,1419.39 1216.51,1421.26 1219.16,1423.12 1221.81,1424.95 1224.47,1426.75 1227.12,1428.53 1229.77,1430.29 1232.42,1432.01 1235.07,1433.72 1237.73,1435.39 1240.38,1437.03 1243.03,1438.64 1245.68,1440.23 1248.33,1441.78 1250.98,1443.29 1253.64,1444.78 1256.29,1446.23 1258.94,1447.65 1261.59,1449.03 1264.24,1450.38 1266.89,1451.7 1269.55,1452.98 1272.2,1454.22 1274.85,1455.43 1277.5,1456.61 1280.15,1457.74 1282.81,1458.84 1285.46,1459.9 1288.11,1460.93 1290.76,1461.92 1293.41,1462.86 1296.06,1463.77 1298.72,1464.65 1301.37,1465.49 1304.02,1466.29 1306.67,1467.06 1309.32,1467.79 1311.97,1468.49 1314.63,1469.16 1317.28,1469.79 1319.93,1470.39 1322.58,1470.96 1325.23,1471.51 1327.88,1472.02 1330.54,1472.5 1333.19,1472.95 1335.84,1473.38 1338.49,1473.78 1341.14,1474.15 1343.8,1474.5 1346.45,1474.82 1349.1,1475.11 1351.75,1475.39 1354.4,1475.63 1357.05,1475.86 1359.71,1476.07 1362.36,1476.25 1365.01,1476.41 1367.66,1476.55 1370.31,1476.68 1372.96,1476.78 1375.62,1476.87 1378.27,1476.94 1380.92,1476.99 1383.57,1477.02 1386.22,1477.04 1388.88,1477.05 1391.53,1477.04 1394.18,1477.02 1396.83,1476.98 1399.48,1476.94 1402.13,1476.88 1404.79,1476.81 1407.44,1476.72 1410.09,1476.63 1412.74,1476.53 1415.39,1476.43 1418.04,1476.31 1420.7,1476.19 1423.35,1476.06 1426,1475.92" fill="none" stroke="#333333" stroke-width="1.4" stroke-linejoin="round" style="mix-blend-mode:darken" />
<polyline points="898.3,1454.41 900.95,1456.08 903.6,1457.59 906.26,1458.95 908.91,1460.16 911.56,1461.24 914.21,1462.2 916.86,1463.04 919.51,1463.77 922.17,1464.41 924.82,1464.96 927.47,1465.44 930.12,1465.85 932.77,1466.2 935.42,1466.5 938.08,1466.77 940.73,1467.01 943.38,1467.22 946.03,1467.43 948.68,1467.63 951.34,1467.85 953.99,1468.08 956.64,1468.34 959.29,1468.63 961.94,1468.95 964.59,1469.3 967.25,1469.67 969.9,1470.06 972.55,1470.47 975.2,1470.9 977.85,1471.34 980.5,1471.8 983.16,1472.27 985.81,1472.74 988.46,1473.22 991.11,1473.71 993.76,1474.2 996.42,1474.69 999.07,1475.18 1001.72,1475.66 1004.37,1476.14 1007.02,1476.61 1009.67,1477.07 1012.33,1477.51 1014.98,1477.94 1017.63,1478.36 1020.28,1478.76 1022.93,1479.15 1025.58,1479.53 1028.24,1479.91 1030.89,1480.29 1033.54,1480.68 1036.19,1481.07 1038.84,1481.47 1041.49,1481.88 1044.15,1482.31 1046.8,1482.75 1049.45,1483.2 1052.1,1483.65 1054.75,1484.1 1057.41,1484.55 1060.06,1484.99 1062.71,1485.42 1065.36,1485.83 1068.01,1486.22 1070.66,1486.59 1073.32,1486.93 1075.97,1487.24 1078.62,1487.51 1081.27,1487.75 1083.92,1487.95 1086.57,1488.11 1089.23,1488.24 1091.88,1488.34 1094.53,1488.41 1097.18,1488.45 1099.83,1488.46 1102.49,1488.45 1105.14,1488.41 1107.79,1488.35 1110.44,1488.27 1113.09,1488.16 1115.74,1488.04 1118.4,1487.89 1121.05,1487.74 1123.7,1487.56 1126.35,1487.38 1129,1487.18 1131.65,1486.97 1134.31,1486.75 1136.96,1486.51 1139.61,1486.26 1142.26,1485.98 1144.91,1485.67 1147.57,1485.34 1150.22,1484.97 1152.87,1484.56 1155.52,1484.11 1158.17,1483.61 1160.82,1483.05 1163.48,1482.45 1166.13,1481.78 1168.78,1481.05 1171.43,1480.26 1174.08,1479.39 1176.73,1478.44 1179.39,1477.42 1182.04,1476.3 1184.69,1475.08 1187.34,1473.76 1189.99,1472.33 1192.65,1470.77 1195.3,1469.09 1197.95,1467.29 1200.6,1465.35 1203.25,1463.27 1205.9,1461.06 1208.56,1458.71 1211.21,1456.21 1213.86,1453.57 1216.51,1450.78 1219.16,1447.84 1221.81,1444.76 1224.47,1441.51 1227.12,1438.12 1229.77,1434.57 1232.42,1430.86 1235.07,1427 1237.73,1422.98 1240.38,1418.8 1243.03,1414.46 1245.68,1409.96 1248.33,1405.31 1250.98,1400.49 1253.64,1395.52 1256.29,1390.38 1258.94,1385.08 1261.59,1379.62 1264.24,1374 1266.89,1368.24 1269.55,1362.34 1272.2,1356.32 1274.85,1350.18 1277.5,1343.94 1280.15,1337.61 1282.81,1331.19 1285.46,1324.71 1288.11,1318.16 1290.76,1311.57 1293.41,1304.93 1296.06,1298.27 1298.72,1291.59 1301.37,1284.91 1304.02,1278.25 1306.67,1271.63 1309.32,1265.06 1311.97,1258.58 1314.63,1252.2 1317.28,1245.94 1319.93,1239.82 1322.58,1233.86 1325.23,1228.06 1327.88,1222.45 1330.54,1217.02 1333.19,1211.79 1335.84,1206.76 1338.49,1201.95 1341.14,1197.35 1343.8,1193 1346.45,1188.88 1349.1,1185.01 1351.75,1181.4 1354.4,1178.05 1357.05,1174.99 1359.71,1172.21 1362.36,1169.71 1365.01,1167.48 1367.66,1165.52 1370.31,1163.81 1372.96,1162.35 1375.62,1161.12 1378.27,1160.11 1380.92,1159.28 1383.57,1158.61 1386.22,1158.06 1388.88,1157.62 1391.53,1157.26 1394.18,1156.93 1396.83,1156.61 1399.48,1156.25 1402.13,1155.82 1404.79,1155.29 1407.44,1154.61 1410.09,1153.74 1412.74,1152.66 1415.39,1151.33 1418.04,1149.7 1420.7,1147.74 1423.35,1145.42 1426,1142.69" fill="none" stroke="#333333" stroke-width="1.4" stroke-linejoin="round" style="mix-blend-mode:darken" />
<polyline points="899,1381.27 901.65,1384.48 904.3,1387.75 906.94,1391.06 909.59,1394.4 912.24,1397.76 914.89,1401.13 917.54,1404.5 920.19,1407.86 922.83,1411.19 925.48,1414.49 928.13,1417.74 930.78,1420.93 933.43,1424.06 936.08,1427.12 938.72,1430.09 941.37,1432.97 944.02,1435.75 946.67,1438.43 949.32,1440.99 951.96,1443.43 954.61,1445.75 957.26,1447.94 959.91,1450.02 962.56,1451.98 965.21,1453.85 967.85,1455.6 970.5,1457.27 973.15,1458.84 975.8,1460.32 978.45,1461.72 981.1,1463.05 983.74,1464.3 986.39,1465.48 989.04,1466.6 991.69,1467.66 994.34,1468.67 996.98,1469.63 999.63,1470.54 1002.28,1471.41 1004.93,1472.24 1007.58,1473.02 1010.23,1473.75 1012.87,1474.45 1015.52,1475.1 1018.17,1475.71 1020.82,1476.28 1023.47,1476.81 1026.12,1477.29 1028.76,1477.74 1031.41,1478.15 1034.06,1478.52 1036.71,1478.85 1039.36,1479.15 1042.01,1479.41 1044.65,1479.63 1047.3,1479.81 1049.95,1479.96 1052.6,1480.07 1055.25,1480.15 1057.89,1480.2 1060.54,1480.21 1063.19,1480.19 1065.84,1480.14 1068.49,1480.06 1071.14,1479.94 1073.78,1479.8 1076.43,1479.62 1079.08,1479.41 1081.73,1479.18 1084.38,1478.91 1087.03,1478.62 1089.67,1478.3 1092.32,1477.96 1094.97,1477.58 1097.62,1477.18 1100.27,1476.76 1102.91,1476.31 1105.56,1475.84 1108.21,1475.34 1110.86,1474.82 1113.51,1474.27 1116.16,1473.71 1118.8,1473.12 1121.45,1472.51 1124.1,1471.88 1126.75,1471.23 1129.4,1470.56 1132.05,1469.87 1134.69,1469.17 1137.34,1468.44 1139.99,1467.7 1142.64,1466.94 1145.29,1466.15 1147.93,1465.34 1150.58,1464.49 1153.23,1463.61 1155.88,1462.69 1158.53,1461.73 1161.18,1460.71 1163.82,1459.64 1166.47,1458.52 1169.12,1457.33 1171.77,1456.07 1174.42,1454.75 1177.07,1453.35 1179.71,1451.87 1182.36,1450.31 1185.01,1448.66 1187.66,1446.91 1190.31,1445.07 1192.95,1443.13 1195.6,1441.09 1198.25,1438.93 1200.9,1436.66 1203.55,1434.27 1206.2,1431.76 1208.84,1429.12 1211.49,1426.36 1214.14,1423.45 1216.79,1420.41 1219.44,1417.22 1222.09,1413.88 1224.73,1410.39 1227.38,1406.75 1230.03,1402.94 1232.68,1398.97 1235.33,1394.84 1237.97,1390.57 1240.62,1386.15 1243.27,1381.61 1245.92,1376.95 1248.57,1372.18 1251.22,1367.3 1253.86,1362.33 1256.51,1357.28 1259.16,1352.15 1261.81,1346.96 1264.46,1341.71 1267.11,1336.41 1269.75,1331.07 1272.4,1325.7 1275.05,1320.32 1277.7,1314.91 1280.35,1309.51 1282.99,1304.11 1285.64,1298.72 1288.29,1293.36 1290.94,1288.02 1293.59,1282.72 1296.24,1277.45 1298.88,1272.24 1301.53,1267.07 1304.18,1261.96 1306.83,1256.92 1309.48,1251.96 1312.13,1247.07 1314.77,1242.27 1317.42,1237.55 1320.07,1232.94 1322.72,1228.43 1325.37,1224.04 1328.02,1219.76 1330.66,1215.6 1333.31,1211.58 1335.96,1207.69 1338.61,1203.95 1341.26,1200.36 1343.9,1196.92 1346.55,1193.65 1349.2,1190.55 1351.85,1187.62 1354.5,1184.86 1357.15,1182.27 1359.79,1179.83 1362.44,1177.54 1365.09,1175.39 1367.74,1173.37 1370.39,1171.47 1373.04,1169.68 1375.68,1167.99 1378.33,1166.4 1380.98,1164.89 1383.63,1163.47 1386.28,1162.11 1388.92,1160.81 1391.57,1159.57 1394.22,1158.37 1396.87,1157.2 1399.52,1156.06 1402.17,1154.94 1404.81,1153.83 1407.46,1152.72 1410.11,1151.6 1412.76,1150.47 1415.41,1149.31 1418.06,1148.11 1420.7,1146.88 1423.35,1145.59 1426,1144.25" fill="none" stroke="#333333" stroke-width="1.4" stroke-linejoin="round" style="mix-blend-mode:darken" />
<polyline points="899,1391.15 901.65,1395.01 904.3,1398.74 906.94,1402.37 909.59,1405.88 912.24,1409.28 914.89,1412.58 917.54,1415.77 920.19,1418.85 922.83,1421.83 925.48,1424.72 928.13,1427.5 930.78,1430.18 933.43,1432.77 936.08,1435.27 938.72,1437.67 941.37,1439.98 944.02,1442.2 946.67,1444.34 949.32,1446.39 951.96,1448.35 954.61,1450.24 957.26,1452.04 959.91,1453.77 962.56,1455.41 965.21,1456.99 967.85,1458.49 970.5,1459.91 973.15,1461.27 975.8,1462.56 978.45,1463.78 981.1,1464.94 983.74,1466.03 986.39,1467.06 989.04,1468.03 991.69,1468.94 994.34,1469.8 996.98,1470.6 999.63,1471.35 1002.28,1472.05 1004.93,1472.7 1007.58,1473.3 1010.23,1473.85 1012.87,1474.36 1015.52,1474.82 1018.17,1475.24 1020.82,1475.63 1023.47,1475.97 1026.12,1476.28 1028.76,1476.55 1031.41,1476.79 1034.06,1477 1036.71,1477.18 1039.36,1477.33 1042.01,1477.45 1044.65,1477.55 1047.3,1477.62 1049.95,1477.68 1052.6,1477.71 1055.25,1477.72 1057.89,1477.71 1060.54,1477.68 1063.19,1477.62 1065.84,1477.54 1068.49,1477.45 1071.14,1477.33 1073.78,1477.18 1076.43,1477.01 1079.08,1476.82 1081.73,1476.61 1084.38,1476.37 1087.03,1476.11 1089.67,1475.82 1092.32,1475.51 1094.97,1475.18 1097.62,1474.82 1100.27,1474.43 1102.91,1474.02 1105.56,1473.58 1108.21,1473.12 1110.86,1472.63 1113.51,1472.11 1116.16,1471.57 1118.8,1471 1121.45,1470.4 1124.1,1469.78 1126.75,1469.12 1129.4,1468.44 1132.05,1467.73 1134.69,1467 1137.34,1466.23 1139.99,1465.43 1142.64,1464.61 1145.29,1463.75 1147.93,1462.85 1150.58,1461.92 1153.23,1460.94 1155.88,1459.92 1158.53,1458.86 1161.18,1457.74 1163.82,1456.57 1166.47,1455.34 1169.12,1454.06 1171.77,1452.71 1174.42,1451.3 1177.07,1449.82 1179.71,1448.27 1182.36,1446.65 1185.01,1444.95 1187.66,1443.17 1190.31,1441.31 1192.95,1439.37 1195.6,1437.34 1198.25,1435.22 1200.9,1433.01 1203.55,1430.7 1206.2,1428.29 1208.84,1425.78 1211.49,1423.17 1214.14,1420.45 1216.79,1417.61 1219.44,1414.67 1222.09,1411.61 1224.73,1408.43 1227.38,1405.13 1230.03,1401.71 1232.68,1398.16 1235.33,1394.48 1237.97,1390.68 1240.62,1386.75 1243.27,1382.71 1245.92,1378.55 1248.57,1374.27 1251.22,1369.87 1253.86,1365.36 1256.51,1360.74 1259.16,1356.01 1261.81,1351.18 1264.46,1346.24 1267.11,1341.22 1269.75,1336.12 1272.4,1330.95 1275.05,1325.72 1277.7,1320.45 1280.35,1315.15 1282.99,1309.82 1285.64,1304.48 1288.29,1299.13 1290.94,1293.8 1293.59,1288.48 1296.24,1283.21 1298.88,1277.97 1301.53,1272.79 1304.18,1267.68 1306.83,1262.65 1309.48,1257.71 1312.13,1252.85 1314.77,1248.09 1317.42,1243.43 1320.07,1238.86 1322.72,1234.4 1325.37,1230.04 1328.02,1225.79 1330.66,1221.66 1333.31,1217.64 1335.96,1213.74 1338.61,1209.96 1341.26,1206.31 1343.9,1202.78 1346.55,1199.4 1349.2,1196.14 1351.85,1193.03 1354.5,1190.05 1357.15,1187.21 1359.79,1184.5 1362.44,1181.92 1365.09,1179.46 1367.74,1177.12 1370.39,1174.9 1373.04,1172.79 1375.68,1170.78 1378.33,1168.88 1380.98,1167.08 1383.63,1165.37 1386.28,1163.75 1388.92,1162.22 1391.57,1160.77 1394.22,1159.41 1396.87,1158.11 1399.52,1156.89 1402.17,1155.73 1404.81,1154.64 1407.46,1153.61 1410.11,1152.63 1412.76,1151.7 1415.41,1150.82 1418.06,1149.98 1420.7,1149.18 1423.35,1148.41 1426,1147.67" fill="none" stroke="#333333" stroke-width="1.4" stroke-linejoin="round" style="mix-blend-mode:darken" />
<rect x="898.3" y="1116" width="527.9" height="393.0" fill="none" stroke="#2b2b2b" stroke-width="1.7"/>
<line x1="898.3" y1="1473.27" x2="906.3" y2="1473.27" stroke="#2b2b2b" stroke-width="1.5"/>
<text transform="translate(889.8,1478.07) scale(1,1.075)" font-size="16.3" text-anchor="end" font-family='"Liberation Serif", serif' font-weight="bold">1</text>
<line x1="898.3" y1="1401.82" x2="906.3" y2="1401.82" stroke="#2b2b2b" stroke-width="1.5"/>
<text transform="translate(889.8,1406.62) scale(1,1.075)" font-size="16.3" text-anchor="end" font-family='"Liberation Serif", serif' font-weight="bold">2</text>
<line x1="898.3" y1="1330.36" x2="906.3" y2="1330.36" stroke="#2b2b2b" stroke-width="1.5"/>
<text transform="translate(889.8,1335.16) scale(1,1.075)" font-size="16.3" text-anchor="end" font-family='"Liberation Serif", serif' font-weight="bold">3</text>
<line x1="898.3" y1="1258.91" x2="906.3" y2="1258.91" stroke="#2b2b2b" stroke-width="1.5"/>
<text transform="translate(889.8,1263.71) scale(1,1.075)" font-size="16.3" text-anchor="end" font-family='"Liberation Serif", serif' font-weight="bold">4</text>
<line x1="898.3" y1="1187.45" x2="906.3" y2="1187.45" stroke="#2b2b2b" stroke-width="1.5"/>
<text transform="translate(889.8,1192.25) scale(1,1.075)" font-size="16.3" text-anchor="end" font-family='"Liberation Serif", serif' font-weight="bold">5</text>
<line x1="898.3" y1="1116" x2="906.3" y2="1116" stroke="#2b2b2b" stroke-width="1.5"/>
<text transform="translate(889.8,1120.8) scale(1,1.075)" font-size="16.3" text-anchor="end" font-family='"Liberation Serif", serif' font-weight="bold">6</text>
<line x1="1426.2" y1="1137.83" x2="1418.7" y2="1137.83" stroke="#2b2b2b" stroke-width="1.5"/>
<text transform="translate(1434.2,1142.63) scale(1,1.075)" font-size="16.3" text-anchor="start" font-family='"Liberation Serif", serif' font-weight="bold">0</text>
<line x1="1426.2" y1="1181.5" x2="1418.7" y2="1181.5" stroke="#2b2b2b" stroke-width="1.5"/>
<text transform="translate(1434.2,1186.3) scale(1,1.075)" font-size="16.3" text-anchor="start" font-family='"Liberation Serif", serif' font-weight="bold">-10</text>
<line x1="1426.2" y1="1225.17" x2="1418.7" y2="1225.17" stroke="#2b2b2b" stroke-width="1.5"/>
<text transform="translate(1434.2,1229.97) scale(1,1.075)" font-size="16.3" text-anchor="start" font-family='"Liberation Serif", serif' font-weight="bold">-20</text>
<line x1="1426.2" y1="1268.83" x2="1418.7" y2="1268.83" stroke="#2b2b2b" stroke-width="1.5"/>
<text transform="translate(1434.2,1273.63) scale(1,1.075)" font-size="16.3" text-anchor="start" font-family='"Liberation Serif", serif' font-weight="bold">-30</text>
<line x1="1426.2" y1="1312.5" x2="1418.7" y2="1312.5" stroke="#2b2b2b" stroke-width="1.5"/>
<text transform="translate(1434.2,1317.3) scale(1,1.075)" font-size="16.3" text-anchor="start" font-family='"Liberation Serif", serif' font-weight="bold">-40</text>
<line x1="1426.2" y1="1356.17" x2="1418.7" y2="1356.17" stroke="#2b2b2b" stroke-width="1.5"/>
<text transform="translate(1434.2,1360.97) scale(1,1.075)" font-size="16.3" text-anchor="start" font-family='"Liberation Serif", serif' font-weight="bold">-50</text>
<line x1="1426.2" y1="1399.83" x2="1418.7" y2="1399.83" stroke="#2b2b2b" stroke-width="1.5"/>
<text transform="translate(1434.2,1404.63) scale(1,1.075)" font-size="16.3" text-anchor="start" font-family='"Liberation Serif", serif' font-weight="bold">-60</text>
<line x1="1426.2" y1="1443.5" x2="1418.7" y2="1443.5" stroke="#2b2b2b" stroke-width="1.5"/>
<text transform="translate(1434.2,1448.3) scale(1,1.075)" font-size="16.3" text-anchor="start" font-family='"Liberation Serif", serif' font-weight="bold">-70</text>
<line x1="1426.2" y1="1487.17" x2="1418.7" y2="1487.17" stroke="#2b2b2b" stroke-width="1.5"/>
<text transform="translate(1434.2,1491.97) scale(1,1.075)" font-size="16.3" text-anchor="start" font-family='"Liberation Serif", serif' font-weight="bold">-80</text>
<text transform="translate(898.3,1530.2) scale(1,1.075)" font-size="16.3" text-anchor="middle" font-family='"Liberation Serif", serif' font-weight="bold">-2</text>
<line x1="973.71" y1="1509" x2="973.71" y2="1501.5" stroke="#2b2b2b" stroke-width="1.5"/>
<text transform="translate(973.71,1530.2) scale(1,1.075)" font-size="16.3" text-anchor="middle" font-family='"Liberation Serif", serif' font-weight="bold">-1</text>
<line x1="1049.13" y1="1509" x2="1049.13" y2="1501.5" stroke="#2b2b2b" stroke-width="1.5"/>
<text transform="translate(1049.13,1530.2) scale(1,1.075)" font-size="16.3" text-anchor="middle" font-family='"Liberation Serif", serif' font-weight="bold">0</text>
<line x1="1124.54" y1="1509" x2="1124.54" y2="1501.5" stroke="#2b2b2b" stroke-width="1.5"/>
<text transform="translate(1124.54,1530.2) scale(1,1.075)" font-size="16.3" text-anchor="middle" font-family='"Liberation Serif", serif' font-weight="bold">1</text>
<line x1="1199.96" y1="1509" x2="1199.96" y2="1501.5" stroke="#2b2b2b" stroke-width="1.5"/>
<text transform="translate(1199.96,1530.2) scale(1,1.075)" font-size="16.3" text-anchor="middle" font-family='"Liberation Serif", serif' font-weight="bold">2</text>
<line x1="1275.37" y1="1509" x2="1275.37" y2="1501.5" stroke="#2b2b2b" stroke-width="1.5"/>
<text transform="translate(1275.37,1530.2) scale(1,1.075)" font-size="16.3" text-anchor="middle" font-family='"Liberation Serif", serif' font-weight="bold">3</text>
<line x1="1350.79" y1="1509" x2="1350.79" y2="1501.5" stroke="#2b2b2b" stroke-width="1.5"/>
<text transform="translate(1350.79,1530.2) scale(1,1.075)" font-size="16.3" text-anchor="middle" font-family='"Liberation Serif", serif' font-weight="bold">4</text>
<text transform="translate(1426.2,1530.2) scale(1,1.075)" font-size="16.3" text-anchor="middle" font-family='"Liberation Serif", serif' font-weight="bold">5</text>
<rect x="896.05" y="1663.22" width="4.51" height="4.51" fill="#000"/>
<rect x="903.59" y="1669.11" width="4.51" height="4.51" fill="#000"/>
<rect x="911.13" y="1675.07" width="4.51" height="4.51" fill="#000"/>
<rect x="918.67" y="1681.1" width="4.51" height="4.51" fill="#000"/>
<rect x="926.21" y="1687.2" width="4.51" height="4.51" fill="#000"/>
<rect x="933.75" y="1693.36" width="4.51" height="4.51" fill="#000"/>
<rect x="941.29" y="1699.59" width="4.51" height="4.51" fill="#000"/>
<rect x="948.84" y="1705.87" width="4.51" height="4.51" fill="#000"/>
<rect x="956.38" y="1712.21" width="4.51" height="4.51" fill="#000"/>
<rect x="963.92" y="1718.6" width="4.51" height="4.51" fill="#000"/>
<rect x="971.46" y="1725.03" width="4.51" height="4.51" fill="#000"/>
<rect x="979" y="1731.51" width="4.51" height="4.51" fill="#000"/>
<rect x="986.54" y="1738.03" width="4.51" height="4.51" fill="#000"/>
<rect x="994.08" y="1744.59" width="4.51" height="4.51" fill="#000"/>
<rect x="1001.63" y="1751.17" width="4.51" height="4.51" fill="#000"/>
<rect x="1009.17" y="1757.79" width="4.51" height="4.51" fill="#000"/>
<rect x="1016.71" y="1764.43" width="4.51" height="4.51" fill="#000"/>
<rect x="1024.25" y="1771.1" width="4.51" height="4.51" fill="#000"/>
<rect x="1031.79" y="1777.79" width="4.51" height="4.51" fill="#000"/>
<rect x="1039.33" y="1784.49" width="4.51" height="4.51" fill="#000"/>
<rect x="1046.87" y="1791.2" width="4.51" height="4.51" fill="#000"/>
<rect x="1054.42" y="1797.92" width="4.51" height="4.51" fill="#000"/>
<rect x="1061.96" y="1804.64" width="4.51" height="4.51" fill="#000"/>
<rect x="1069.5" y="1811.37" width="4.51" height="4.51" fill="#000"/>
<rect x="1077.04" y="1818.09" width="4.51" height="4.51" fill="#000"/>
<rect x="1084.58" y="1824.81" width="4.51" height="4.51" fill="#000"/>
<rect x="1092.12" y="1831.52" width="4.51" height="4.51" fill="#000"/>
<rect x="1099.66" y="1838.22" width="4.51" height="4.51" fill="#000"/>
<rect x="1107.21" y="1844.9" width="4.51" height="4.51" fill="#000"/>
<rect x="1114.75" y="1851.55" width="4.51" height="4.51" fill="#000"/>
<rect x="1122.29" y="1858.19" width="4.51" height="4.51" fill="#000"/>
<rect x="1129.83" y="1864.8" width="4.51" height="4.51" fill="#000"/>
<rect x="1137.37" y="1871.38" width="4.51" height="4.51" fill="#000"/>
<rect x="1144.91" y="1877.92" width="4.51" height="4.51" fill="#000"/>
<rect x="1152.45" y="1884.43" width="4.51" height="4.51" fill="#000"/>
<rect x="1160" y="1890.9" width="4.51" height="4.51" fill="#000"/>
<rect x="1167.54" y="1897.32" width="4.51" height="4.51" fill="#000"/>
<rect x="1175.08" y="1903.69" width="4.51" height="4.51" fill="#000"/>
<rect x="1182.62" y="1910.01" width="4.51" height="4.51" fill="#000"/>
<rect x="1190.16" y="1916.27" width="4.51" height="4.51" fill="#000"/>
<rect x="1197.7" y="1922.44" width="4.51" height="4.51" fill="#000"/>
<rect x="1205.24" y="1928.48" width="4.51" height="4.51" fill="#000"/>
<rect x="1212.79" y="1934.36" width="4.51" height="4.51" fill="#000"/>
<rect x="1220.33" y="1940.05" width="4.51" height="4.51" fill="#000"/>
<rect x="1227.87" y="1945.5" width="4.51" height="4.51" fill="#000"/>
<rect x="1235.41" y="1950.69" width="4.51" height="4.51" fill="#000"/>
<rect x="1242.95" y="1955.58" width="4.51" height="4.51" fill="#000"/>
<rect x="1250.49" y="1960.14" width="4.51" height="4.51" fill="#000"/>
<rect x="1258.03" y="1964.35" width="4.51" height="4.51" fill="#000"/>
<rect x="1265.58" y="1968.23" width="4.51" height="4.51" fill="#000"/>
<rect x="1273.12" y="1971.74" width="4.51" height="4.51" fill="#000"/>
<rect x="1280.66" y="1974.9" width="4.51" height="4.51" fill="#000"/>
<rect x="1288.2" y="1977.68" width="4.51" height="4.51" fill="#000"/>
<rect x="1295.74" y="1980.09" width="4.51" height="4.51" fill="#000"/>
<rect x="1303.28" y="1982.15" width="4.51" height="4.51" fill="#000"/>
<rect x="1310.82" y="1983.89" width="4.51" height="4.51" fill="#000"/>
<rect x="1318.37" y="1985.33" width="4.51" height="4.51" fill="#000"/>
<rect x="1325.91" y="1986.49" width="4.51" height="4.51" fill="#000"/>
<rect x="1333.45" y="1987.41" width="4.51" height="4.51" fill="#000"/>
<rect x="1340.99" y="1988.11" width="4.51" height="4.51" fill="#000"/>
<rect x="1348.53" y="1988.62" width="4.51" height="4.51" fill="#000"/>
<rect x="1356.07" y="1988.95" width="4.51" height="4.51" fill="#000"/>
<rect x="1363.61" y="1989.14" width="4.51" height="4.51" fill="#000"/>
<rect x="1371.16" y="1989.22" width="4.51" height="4.51" fill="#000"/>
<rect x="1378.7" y="1989.2" width="4.51" height="4.51" fill="#000"/>
<rect x="1386.24" y="1989.12" width="4.51" height="4.51" fill="#000"/>
<rect x="1393.78" y="1989" width="4.51" height="4.51" fill="#000"/>
<rect x="1401.32" y="1988.87" width="4.51" height="4.51" fill="#000"/>
<rect x="1408.86" y="1988.75" width="4.51" height="4.51" fill="#000"/>
<rect x="1416.4" y="1988.67" width="4.51" height="4.51" fill="#000"/>
<rect x="1423.95" y="1988.65" width="4.51" height="4.51" fill="#000"/>
<circle cx="898.3" cy="1661.7" r="2.45" fill="#f00"/>
<circle cx="905.84" cy="1667.02" r="2.45" fill="#f00"/>
<circle cx="913.38" cy="1672.47" r="2.45" fill="#f00"/>
<circle cx="920.92" cy="1678.06" r="2.45" fill="#f00"/>
<circle cx="928.47" cy="1683.76" r="2.45" fill="#f00"/>
<circle cx="936.01" cy="1689.59" r="2.45" fill="#f00"/>
<circle cx="943.55" cy="1695.53" r="2.45" fill="#f00"/>
<circle cx="951.09" cy="1701.58" r="2.45" fill="#f00"/>
<circle cx="958.63" cy="1707.72" r="2.45" fill="#f00"/>
<circle cx="966.17" cy="1713.97" r="2.45" fill="#f00"/>
<circle cx="973.71" cy="1720.3" r="2.45" fill="#f00"/>
<circle cx="981.26" cy="1726.71" r="2.45" fill="#f00"/>
<circle cx="988.8" cy="1733.21" r="2.45" fill="#f00"/>
<circle cx="996.34" cy="1739.77" r="2.45" fill="#f00"/>
<circle cx="1003.88" cy="1746.4" r="2.45" fill="#f00"/>
<circle cx="1011.42" cy="1753.09" r="2.45" fill="#f00"/>
<circle cx="1018.96" cy="1759.84" r="2.45" fill="#f00"/>
<circle cx="1026.5" cy="1766.63" r="2.45" fill="#f00"/>
<circle cx="1034.05" cy="1773.47" r="2.45" fill="#f00"/>
<circle cx="1041.59" cy="1780.34" r="2.45" fill="#f00"/>
<circle cx="1049.13" cy="1787.24" r="2.45" fill="#f00"/>
<circle cx="1056.67" cy="1794.17" r="2.45" fill="#f00"/>
<circle cx="1064.21" cy="1801.12" r="2.45" fill="#f00"/>
<circle cx="1071.75" cy="1808.08" r="2.45" fill="#f00"/>
<circle cx="1079.29" cy="1815.05" r="2.45" fill="#f00"/>
<circle cx="1086.84" cy="1822.01" r="2.45" fill="#f00"/>
<circle cx="1094.38" cy="1828.98" r="2.45" fill="#f00"/>
<circle cx="1101.92" cy="1835.93" r="2.45" fill="#f00"/>
<circle cx="1109.46" cy="1842.87" r="2.45" fill="#f00"/>
<circle cx="1117" cy="1849.79" r="2.45" fill="#f00"/>
<circle cx="1124.54" cy="1856.67" r="2.45" fill="#f00"/>
<circle cx="1132.08" cy="1863.53" r="2.45" fill="#f00"/>
<circle cx="1139.63" cy="1870.34" r="2.45" fill="#f00"/>
<circle cx="1147.17" cy="1877.11" r="2.45" fill="#f00"/>
<circle cx="1154.71" cy="1883.83" r="2.45" fill="#f00"/>
<circle cx="1162.25" cy="1890.49" r="2.45" fill="#f00"/>
<circle cx="1169.79" cy="1897.09" r="2.45" fill="#f00"/>
<circle cx="1177.33" cy="1903.61" r="2.45" fill="#f00"/>
<circle cx="1184.87" cy="1910.07" r="2.45" fill="#f00"/>
<circle cx="1192.42" cy="1916.44" r="2.45" fill="#f00"/>
<circle cx="1199.96" cy="1922.7" r="2.45" fill="#f00"/>
<circle cx="1207.5" cy="1928.84" r="2.45" fill="#f00"/>
<circle cx="1215.04" cy="1934.82" r="2.45" fill="#f00"/>
<circle cx="1222.58" cy="1940.62" r="2.45" fill="#f00"/>
<circle cx="1230.12" cy="1946.22" r="2.45" fill="#f00"/>
<circle cx="1237.66" cy="1951.59" r="2.45" fill="#f00"/>
<circle cx="1245.21" cy="1956.71" r="2.45" fill="#f00"/>
<circle cx="1252.75" cy="1961.57" r="2.45" fill="#f00"/>
<circle cx="1260.29" cy="1966.13" r="2.45" fill="#f00"/>
<circle cx="1267.83" cy="1970.41" r="2.45" fill="#f00"/>
<circle cx="1275.37" cy="1974.38" r="2.45" fill="#f00"/>
<circle cx="1282.91" cy="1978.04" r="2.45" fill="#f00"/>
<circle cx="1290.45" cy="1981.37" r="2.45" fill="#f00"/>
<circle cx="1298" cy="1984.37" r="2.45" fill="#f00"/>
<circle cx="1305.54" cy="1987.05" r="2.45" fill="#f00"/>
<circle cx="1313.08" cy="1989.42" r="2.45" fill="#f00"/>
<circle cx="1320.62" cy="1991.51" r="2.45" fill="#f00"/>
<circle cx="1328.16" cy="1993.32" r="2.45" fill="#f00"/>
<circle cx="1335.7" cy="1994.87" r="2.45" fill="#f00"/>
<circle cx="1343.24" cy="1996.17" r="2.45" fill="#f00"/>
<circle cx="1350.79" cy="1997.25" r="2.45" fill="#f00"/>
<circle cx="1358.33" cy="1998.1" r="2.45" fill="#f00"/>
<circle cx="1365.87" cy="1998.76" r="2.45" fill="#f00"/>
<circle cx="1373.41" cy="1999.23" r="2.45" fill="#f00"/>
<circle cx="1380.95" cy="1999.53" r="2.45" fill="#f00"/>
<circle cx="1388.49" cy="1999.67" r="2.45" fill="#f00"/>
<circle cx="1396.03" cy="1999.67" r="2.45" fill="#f00"/>
<circle cx="1403.58" cy="1999.54" r="2.45" fill="#f00"/>
<circle cx="1411.12" cy="1999.3" r="2.45" fill="#f00"/>
<circle cx="1418.66" cy="1998.96" r="2.45" fill="#f00"/>
<circle cx="1426.2" cy="1998.54" r="2.45" fill="#f00"/>
<path d="M895.48 1658.42L901.12 1658.42L898.3 1653.35Z" fill="#00f"/>
<path d="M903.02 1664.32L908.66 1664.32L905.84 1659.25Z" fill="#00f"/>
<path d="M910.57 1670.32L916.2 1670.32L913.38 1665.24Z" fill="#00f"/>
<path d="M918.11 1676.4L923.74 1676.4L920.92 1671.33Z" fill="#00f"/>
<path d="M925.65 1682.57L931.28 1682.57L928.47 1677.49Z" fill="#00f"/>
<path d="M933.19 1688.81L938.82 1688.81L936.01 1683.74Z" fill="#00f"/>
<path d="M940.73 1695.14L946.37 1695.14L943.55 1690.07Z" fill="#00f"/>
<path d="M948.27 1701.53L953.91 1701.53L951.09 1696.46Z" fill="#00f"/>
<path d="M955.81 1708L961.45 1708L958.63 1702.93Z" fill="#00f"/>
<path d="M963.36 1714.52L968.99 1714.52L966.17 1709.45Z" fill="#00f"/>
<path d="M970.9 1721.11L976.53 1721.11L973.71 1716.04Z" fill="#00f"/>
<path d="M978.44 1727.75L984.07 1727.75L981.26 1722.68Z" fill="#00f"/>
<path d="M985.98 1734.44L991.61 1734.44L988.8 1729.36Z" fill="#00f"/>
<path d="M993.52 1741.17L999.16 1741.17L996.34 1736.1Z" fill="#00f"/>
<path d="M1001.06 1747.95L1006.7 1747.95L1003.88 1742.87Z" fill="#00f"/>
<path d="M1008.6 1754.76L1014.24 1754.76L1011.42 1749.69Z" fill="#00f"/>
<path d="M1016.15 1761.6L1021.78 1761.6L1018.96 1756.53Z" fill="#00f"/>
<path d="M1023.69 1768.48L1029.32 1768.48L1026.5 1763.41Z" fill="#00f"/>
<path d="M1031.23 1775.37L1036.86 1775.37L1034.05 1770.3Z" fill="#00f"/>
<path d="M1038.77 1782.29L1044.4 1782.29L1041.59 1777.22Z" fill="#00f"/>
<path d="M1046.31 1789.22L1051.95 1789.22L1049.13 1784.15Z" fill="#00f"/>
<path d="M1053.85 1796.17L1059.49 1796.17L1056.67 1791.09Z" fill="#00f"/>
<path d="M1061.39 1803.11L1067.03 1803.11L1064.21 1798.04Z" fill="#00f"/>
<path d="M1068.94 1810.07L1074.57 1810.07L1071.75 1804.99Z" fill="#00f"/>
<path d="M1076.48 1817.01L1082.11 1817.01L1079.29 1811.94Z" fill="#00f"/>
<path d="M1084.02 1823.96L1089.65 1823.96L1086.84 1818.89Z" fill="#00f"/>
<path d="M1091.56 1830.89L1097.19 1830.89L1094.38 1825.82Z" fill="#00f"/>
<path d="M1099.1 1837.8L1104.74 1837.8L1101.92 1832.73Z" fill="#00f"/>
<path d="M1106.64 1844.7L1112.28 1844.7L1109.46 1839.63Z" fill="#00f"/>
<path d="M1114.18 1851.57L1119.82 1851.57L1117 1846.5Z" fill="#00f"/>
<path d="M1121.73 1858.42L1127.36 1858.42L1124.54 1853.34Z" fill="#00f"/>
<path d="M1129.27 1865.23L1134.9 1865.23L1132.08 1860.16Z" fill="#00f"/>
<path d="M1136.81 1872L1142.44 1872L1139.63 1866.93Z" fill="#00f"/>
<path d="M1144.35 1878.73L1149.98 1878.73L1147.17 1873.66Z" fill="#00f"/>
<path d="M1151.89 1885.42L1157.53 1885.42L1154.71 1880.35Z" fill="#00f"/>
<path d="M1159.43 1892.06L1165.07 1892.06L1162.25 1886.99Z" fill="#00f"/>
<path d="M1166.97 1898.64L1172.61 1898.64L1169.79 1893.57Z" fill="#00f"/>
<path d="M1174.52 1905.16L1180.15 1905.16L1177.33 1900.09Z" fill="#00f"/>
<path d="M1182.06 1911.62L1187.69 1911.62L1184.87 1906.55Z" fill="#00f"/>
<path d="M1189.6 1918.01L1195.23 1918.01L1192.42 1912.94Z" fill="#00f"/>
<path d="M1197.14 1924.3L1202.77 1924.3L1199.96 1919.23Z" fill="#00f"/>
<path d="M1204.68 1930.48L1210.32 1930.48L1207.5 1925.41Z" fill="#00f"/>
<path d="M1212.22 1936.5L1217.86 1936.5L1215.04 1931.43Z" fill="#00f"/>
<path d="M1219.76 1942.36L1225.4 1942.36L1222.58 1937.28Z" fill="#00f"/>
<path d="M1227.31 1948.01L1232.94 1948.01L1230.12 1942.94Z" fill="#00f"/>
<path d="M1234.85 1953.43L1240.48 1953.43L1237.66 1948.36Z" fill="#00f"/>
<path d="M1242.39 1958.61L1248.02 1958.61L1245.21 1953.54Z" fill="#00f"/>
<path d="M1249.93 1963.51L1255.56 1963.51L1252.75 1958.44Z" fill="#00f"/>
<path d="M1257.47 1968.12L1263.11 1968.12L1260.29 1963.05Z" fill="#00f"/>
<path d="M1265.01 1972.44L1270.65 1972.44L1267.83 1967.37Z" fill="#00f"/>
<path d="M1272.55 1976.44L1278.19 1976.44L1275.37 1971.37Z" fill="#00f"/>
<path d="M1280.1 1980.13L1285.73 1980.13L1282.91 1975.05Z" fill="#00f"/>
<path d="M1287.64 1983.48L1293.27 1983.48L1290.45 1978.41Z" fill="#00f"/>
<path d="M1295.18 1986.49L1300.81 1986.49L1298 1981.42Z" fill="#00f"/>
<path d="M1302.72 1989.18L1308.35 1989.18L1305.54 1984.11Z" fill="#00f"/>
<path d="M1310.26 1991.56L1315.9 1991.56L1313.08 1986.49Z" fill="#00f"/>
<path d="M1317.8 1993.64L1323.44 1993.64L1320.62 1988.57Z" fill="#00f"/>
<path d="M1325.34 1995.45L1330.98 1995.45L1328.16 1990.38Z" fill="#00f"/>
<path d="M1332.89 1996.99L1338.52 1996.99L1335.7 1991.92Z" fill="#00f"/>
<path d="M1340.43 1998.28L1346.06 1998.28L1343.24 1993.21Z" fill="#00f"/>
<path d="M1347.97 1999.35L1353.6 1999.35L1350.79 1994.27Z" fill="#00f"/>
<path d="M1355.51 2000.19L1361.14 2000.19L1358.33 1995.12Z" fill="#00f"/>
<path d="M1363.05 2000.83L1368.69 2000.83L1365.87 1995.76Z" fill="#00f"/>
<path d="M1370.59 2001.29L1376.23 2001.29L1373.41 1996.22Z" fill="#00f"/>
<path d="M1378.13 2001.58L1383.77 2001.58L1380.95 1996.51Z" fill="#00f"/>
<path d="M1385.68 2001.72L1391.31 2001.72L1388.49 1996.64Z" fill="#00f"/>
<path d="M1393.22 2001.71L1398.85 2001.71L1396.03 1996.64Z" fill="#00f"/>
<path d="M1400.76 2001.58L1406.39 2001.58L1403.58 1996.51Z" fill="#00f"/>
<path d="M1408.3 2001.35L1413.93 2001.35L1411.12 1996.28Z" fill="#00f"/>
<path d="M1415.84 2001.02L1421.48 2001.02L1418.66 1995.95Z" fill="#00f"/>
<path d="M1423.38 2000.62L1429.02 2000.62L1426.2 1995.55Z" fill="#00f"/>
<rect x="896.05" y="1950.34" width="4.51" height="4.51" fill="#000"/>
<rect x="903.59" y="1953.91" width="4.51" height="4.51" fill="#000"/>
<rect x="911.13" y="1957.31" width="4.51" height="4.51" fill="#000"/>
<rect x="918.67" y="1960.53" width="4.51" height="4.51" fill="#000"/>
<rect x="926.21" y="1963.57" width="4.51" height="4.51" fill="#000"/>
<rect x="933.75" y="1966.45" width="4.51" height="4.51" fill="#000"/>
<rect x="941.29" y="1969.15" width="4.51" height="4.51" fill="#000"/>
<rect x="948.84" y="1971.68" width="4.51" height="4.51" fill="#000"/>
<rect x="956.38" y="1974.04" width="4.51" height="4.51" fill="#000"/>
<rect x="963.92" y="1976.23" width="4.51" height="4.51" fill="#000"/>
<rect x="971.46" y="1978.26" width="4.51" height="4.51" fill="#000"/>
<rect x="979" y="1980.11" width="4.51" height="4.51" fill="#000"/>
<rect x="986.54" y="1981.79" width="4.51" height="4.51" fill="#000"/>
<rect x="994.08" y="1983.31" width="4.51" height="4.51" fill="#000"/>
<rect x="1001.63" y="1984.66" width="4.51" height="4.51" fill="#000"/>
<rect x="1009.17" y="1985.84" width="4.51" height="4.51" fill="#000"/>
<rect x="1016.71" y="1986.85" width="4.51" height="4.51" fill="#000"/>
<rect x="1024.25" y="1987.71" width="4.51" height="4.51" fill="#000"/>
<rect x="1031.79" y="1988.42" width="4.51" height="4.51" fill="#000"/>
<rect x="1039.33" y="1988.98" width="4.51" height="4.51" fill="#000"/>
<rect x="1046.87" y="1989.4" width="4.51" height="4.51" fill="#000"/>
<rect x="1054.42" y="1989.68" width="4.51" height="4.51" fill="#000"/>
<rect x="1061.96" y="1989.85" width="4.51" height="4.51" fill="#000"/>
<rect x="1069.5" y="1989.89" width="4.51" height="4.51" fill="#000"/>
<rect x="1077.04" y="1989.82" width="4.51" height="4.51" fill="#000"/>
<rect x="1084.58" y="1989.65" width="4.51" height="4.51" fill="#000"/>
<rect x="1092.12" y="1989.37" width="4.51" height="4.51" fill="#000"/>
<rect x="1099.66" y="1989" width="4.51" height="4.51" fill="#000"/>
<rect x="1107.21" y="1988.48" width="4.51" height="4.51" fill="#000"/>
<rect x="1114.75" y="1987.75" width="4.51" height="4.51" fill="#000"/>
<rect x="1122.29" y="1986.78" width="4.51" height="4.51" fill="#000"/>
<rect x="1129.83" y="1985.5" width="4.51" height="4.51" fill="#000"/>
<rect x="1137.37" y="1983.86" width="4.51" height="4.51" fill="#000"/>
<rect x="1144.91" y="1981.82" width="4.51" height="4.51" fill="#000"/>
<rect x="1152.45" y="1979.3" width="4.51" height="4.51" fill="#000"/>
<rect x="1160" y="1976.27" width="4.51" height="4.51" fill="#000"/>
<rect x="1167.54" y="1972.67" width="4.51" height="4.51" fill="#000"/>
<rect x="1175.08" y="1968.45" width="4.51" height="4.51" fill="#000"/>
<rect x="1182.62" y="1963.55" width="4.51" height="4.51" fill="#000"/>
<rect x="1190.16" y="1957.92" width="4.51" height="4.51" fill="#000"/>
<rect x="1197.7" y="1951.51" width="4.51" height="4.51" fill="#000"/>
<rect x="1205.24" y="1944.22" width="4.51" height="4.51" fill="#000"/>
<rect x="1212.79" y="1935.86" width="4.51" height="4.51" fill="#000"/>
<rect x="1220.33" y="1926.18" width="4.51" height="4.51" fill="#000"/>
<rect x="1227.87" y="1914.95" width="4.51" height="4.51" fill="#000"/>
<rect x="1235.41" y="1901.94" width="4.51" height="4.51" fill="#000"/>
<rect x="1242.95" y="1887.08" width="4.51" height="4.51" fill="#000"/>
<rect x="1250.49" y="1870.82" width="4.51" height="4.51" fill="#000"/>
<rect x="1258.03" y="1853.69" width="4.51" height="4.51" fill="#000"/>
<rect x="1265.58" y="1836.22" width="4.51" height="4.51" fill="#000"/>
<rect x="1273.12" y="1818.87" width="4.51" height="4.51" fill="#000"/>
<rect x="1280.66" y="1801.88" width="4.51" height="4.51" fill="#000"/>
<rect x="1288.2" y="1785.46" width="4.51" height="4.51" fill="#000"/>
<rect x="1295.74" y="1769.81" width="4.51" height="4.51" fill="#000"/>
<rect x="1303.28" y="1755.15" width="4.51" height="4.51" fill="#000"/>
<rect x="1310.82" y="1741.68" width="4.51" height="4.51" fill="#000"/>
<rect x="1318.37" y="1729.61" width="4.51" height="4.51" fill="#000"/>
<rect x="1325.91" y="1719.07" width="4.51" height="4.51" fill="#000"/>
<rect x="1333.45" y="1709.97" width="4.51" height="4.51" fill="#000"/>
<rect x="1340.99" y="1702.16" width="4.51" height="4.51" fill="#000"/>
<rect x="1348.53" y="1695.5" width="4.51" height="4.51" fill="#000"/>
<rect x="1356.07" y="1689.86" width="4.51" height="4.51" fill="#000"/>
<rect x="1363.61" y="1685.09" width="4.51" height="4.51" fill="#000"/>
<rect x="1371.16" y="1681.06" width="4.51" height="4.51" fill="#000"/>
<rect x="1378.7" y="1677.63" width="4.51" height="4.51" fill="#000"/>
<rect x="1386.24" y="1674.65" width="4.51" height="4.51" fill="#000"/>
<rect x="1393.78" y="1672" width="4.51" height="4.51" fill="#000"/>
<rect x="1401.32" y="1669.52" width="4.51" height="4.51" fill="#000"/>
<rect x="1408.86" y="1667.08" width="4.51" height="4.51" fill="#000"/>
<rect x="1416.4" y="1664.54" width="4.51" height="4.51" fill="#000"/>
<rect x="1423.95" y="1661.76" width="4.51" height="4.51" fill="#000"/>
<circle cx="898.3" cy="1871.62" r="2.45" fill="#f00"/>
<circle cx="905.84" cy="1883.44" r="2.45" fill="#f00"/>
<circle cx="913.38" cy="1895.42" r="2.45" fill="#f00"/>
<circle cx="920.92" cy="1907.32" r="2.45" fill="#f00"/>
<circle cx="928.47" cy="1918.92" r="2.45" fill="#f00"/>
<circle cx="936.01" cy="1929.97" r="2.45" fill="#f00"/>
<circle cx="943.55" cy="1940.24" r="2.45" fill="#f00"/>
<circle cx="951.09" cy="1949.5" r="2.45" fill="#f00"/>
<circle cx="958.63" cy="1957.59" r="2.45" fill="#f00"/>
<circle cx="966.17" cy="1964.58" r="2.45" fill="#f00"/>
<circle cx="973.71" cy="1970.59" r="2.45" fill="#f00"/>
<circle cx="981.26" cy="1975.75" r="2.45" fill="#f00"/>
<circle cx="988.8" cy="1980.19" r="2.45" fill="#f00"/>
<circle cx="996.34" cy="1984.03" r="2.45" fill="#f00"/>
<circle cx="1003.88" cy="1987.38" r="2.45" fill="#f00"/>
<circle cx="1011.42" cy="1990.36" r="2.45" fill="#f00"/>
<circle cx="1018.96" cy="1992.99" r="2.45" fill="#f00"/>
<circle cx="1026.5" cy="1995.26" r="2.45" fill="#f00"/>
<circle cx="1034.05" cy="1997.18" r="2.45" fill="#f00"/>
<circle cx="1041.59" cy="1998.75" r="2.45" fill="#f00"/>
<circle cx="1049.13" cy="1999.98" r="2.45" fill="#f00"/>
<circle cx="1056.67" cy="2000.86" r="2.45" fill="#f00"/>
<circle cx="1064.21" cy="2001.41" r="2.45" fill="#f00"/>
<circle cx="1071.75" cy="2001.63" r="2.45" fill="#f00"/>
<circle cx="1079.29" cy="2001.51" r="2.45" fill="#f00"/>
<circle cx="1086.84" cy="2001.06" r="2.45" fill="#f00"/>
<circle cx="1094.38" cy="2000.29" r="2.45" fill="#f00"/>
<circle cx="1101.92" cy="1999.19" r="2.45" fill="#f00"/>
<circle cx="1109.46" cy="1997.78" r="2.45" fill="#f00"/>
<circle cx="1117" cy="1996.05" r="2.45" fill="#f00"/>
<circle cx="1124.54" cy="1994" r="2.45" fill="#f00"/>
<circle cx="1132.08" cy="1991.65" r="2.45" fill="#f00"/>
<circle cx="1139.63" cy="1988.99" r="2.45" fill="#f00"/>
<circle cx="1147.17" cy="1986.03" r="2.45" fill="#f00"/>
<circle cx="1154.71" cy="1982.76" r="2.45" fill="#f00"/>
<circle cx="1162.25" cy="1979.2" r="2.45" fill="#f00"/>
<circle cx="1169.79" cy="1975.34" r="2.45" fill="#f00"/>
<circle cx="1177.33" cy="1971.19" r="2.45" fill="#f00"/>
<circle cx="1184.87" cy="1966.76" r="2.45" fill="#f00"/>
<circle cx="1192.42" cy="1962" r="2.45" fill="#f00"/>
<circle cx="1199.96" cy="1956.81" r="2.45" fill="#f00"/>
<circle cx="1207.5" cy="1951.04" r="2.45" fill="#f00"/>
<circle cx="1215.04" cy="1944.53" r="2.45" fill="#f00"/>
<circle cx="1222.58" cy="1937.14" r="2.45" fill="#f00"/>
<circle cx="1230.12" cy="1928.73" r="2.45" fill="#f00"/>
<circle cx="1237.66" cy="1919.15" r="2.45" fill="#f00"/>
<circle cx="1245.21" cy="1908.26" r="2.45" fill="#f00"/>
<circle cx="1252.75" cy="1895.99" r="2.45" fill="#f00"/>
<circle cx="1260.29" cy="1882.51" r="2.45" fill="#f00"/>
<circle cx="1267.83" cy="1868.06" r="2.45" fill="#f00"/>
<circle cx="1275.37" cy="1852.88" r="2.45" fill="#f00"/>
<circle cx="1282.91" cy="1837.23" r="2.45" fill="#f00"/>
<circle cx="1290.45" cy="1821.39" r="2.45" fill="#f00"/>
<circle cx="1298" cy="1805.63" r="2.45" fill="#f00"/>
<circle cx="1305.54" cy="1790.22" r="2.45" fill="#f00"/>
<circle cx="1313.08" cy="1775.43" r="2.45" fill="#f00"/>
<circle cx="1320.62" cy="1761.54" r="2.45" fill="#f00"/>
<circle cx="1328.16" cy="1748.76" r="2.45" fill="#f00"/>
<circle cx="1335.7" cy="1737.1" r="2.45" fill="#f00"/>
<circle cx="1343.24" cy="1726.55" r="2.45" fill="#f00"/>
<circle cx="1350.79" cy="1717.09" r="2.45" fill="#f00"/>
<circle cx="1358.33" cy="1708.7" r="2.45" fill="#f00"/>
<circle cx="1365.87" cy="1701.35" r="2.45" fill="#f00"/>
<circle cx="1373.41" cy="1695.04" r="2.45" fill="#f00"/>
<circle cx="1380.95" cy="1689.69" r="2.45" fill="#f00"/>
<circle cx="1388.49" cy="1685.09" r="2.45" fill="#f00"/>
<circle cx="1396.03" cy="1681" r="2.45" fill="#f00"/>
<circle cx="1403.58" cy="1677.18" r="2.45" fill="#f00"/>
<circle cx="1411.12" cy="1673.39" r="2.45" fill="#f00"/>
<circle cx="1418.66" cy="1669.39" r="2.45" fill="#f00"/>
<circle cx="1426.2" cy="1664.93" r="2.45" fill="#f00"/>
<path d="M895.48 1914.26L901.12 1914.26L898.3 1909.19Z" fill="#00f"/>
<path d="M903.02 1924.52L908.66 1924.52L905.84 1919.45Z" fill="#00f"/>
<path d="M910.57 1934.2L916.2 1934.2L913.38 1929.13Z" fill="#00f"/>
<path d="M918.11 1943.25L923.74 1943.25L920.92 1938.18Z" fill="#00f"/>
<path d="M925.65 1951.61L931.28 1951.61L928.47 1946.54Z" fill="#00f"/>
<path d="M933.19 1959.22L938.82 1959.22L936.01 1954.15Z" fill="#00f"/>
<path d="M940.73 1966.02L946.37 1966.02L943.55 1960.95Z" fill="#00f"/>
<path d="M948.27 1971.95L953.91 1971.95L951.09 1966.88Z" fill="#00f"/>
<path d="M955.81 1977L961.45 1977L958.63 1971.92Z" fill="#00f"/>
<path d="M963.36 1981.23L968.99 1981.23L966.17 1976.16Z" fill="#00f"/>
<path d="M970.9 1984.77L976.53 1984.77L973.71 1979.69Z" fill="#00f"/>
<path d="M978.44 1987.7L984.07 1987.7L981.26 1982.63Z" fill="#00f"/>
<path d="M985.98 1990.15L991.61 1990.15L988.8 1985.07Z" fill="#00f"/>
<path d="M993.52 1992.2L999.16 1992.2L996.34 1987.13Z" fill="#00f"/>
<path d="M1001.06 1993.97L1006.7 1993.97L1003.88 1988.9Z" fill="#00f"/>
<path d="M1008.6 1995.54L1014.24 1995.54L1011.42 1990.47Z" fill="#00f"/>
<path d="M1016.15 1996.92L1021.78 1996.92L1018.96 1991.85Z" fill="#00f"/>
<path d="M1023.69 1998.1L1029.32 1998.1L1026.5 1993.03Z" fill="#00f"/>
<path d="M1031.23 1999.08L1036.86 1999.08L1034.05 1994Z" fill="#00f"/>
<path d="M1038.77 1999.84L1044.4 1999.84L1041.59 1994.77Z" fill="#00f"/>
<path d="M1046.31 2000.4L1051.95 2000.4L1049.13 1995.33Z" fill="#00f"/>
<path d="M1053.85 2000.73L1059.49 2000.73L1056.67 1995.66Z" fill="#00f"/>
<path d="M1061.39 2000.84L1067.03 2000.84L1064.21 1995.77Z" fill="#00f"/>
<path d="M1068.94 2000.71L1074.57 2000.71L1071.75 1995.64Z" fill="#00f"/>
<path d="M1076.48 2000.35L1082.11 2000.35L1079.29 1995.28Z" fill="#00f"/>
<path d="M1084.02 1999.74L1089.65 1999.74L1086.84 1994.67Z" fill="#00f"/>
<path d="M1091.56 1998.88L1097.19 1998.88L1094.38 1993.81Z" fill="#00f"/>
<path d="M1099.1 1997.76L1104.74 1997.76L1101.92 1992.69Z" fill="#00f"/>
<path d="M1106.64 1996.38L1112.28 1996.38L1109.46 1991.31Z" fill="#00f"/>
<path d="M1114.18 1994.74L1119.82 1994.74L1117 1989.67Z" fill="#00f"/>
<path d="M1121.73 1992.82L1127.36 1992.82L1124.54 1987.75Z" fill="#00f"/>
<path d="M1129.27 1990.62L1134.9 1990.62L1132.08 1985.54Z" fill="#00f"/>
<path d="M1136.81 1988.13L1142.44 1988.13L1139.63 1983.06Z" fill="#00f"/>
<path d="M1144.35 1985.35L1149.98 1985.35L1147.17 1980.28Z" fill="#00f"/>
<path d="M1151.89 1982.27L1157.53 1982.27L1154.71 1977.2Z" fill="#00f"/>
<path d="M1159.43 1978.89L1165.07 1978.89L1162.25 1973.82Z" fill="#00f"/>
<path d="M1166.97 1975.2L1172.61 1975.2L1169.79 1970.13Z" fill="#00f"/>
<path d="M1174.52 1971.19L1180.15 1971.19L1177.33 1966.12Z" fill="#00f"/>
<path d="M1182.06 1966.86L1187.69 1966.86L1184.87 1961.79Z" fill="#00f"/>
<path d="M1189.6 1962.18L1195.23 1962.18L1192.42 1957.11Z" fill="#00f"/>
<path d="M1197.14 1957.08L1202.77 1957.08L1199.96 1952.01Z" fill="#00f"/>
<path d="M1204.68 1951.47L1210.32 1951.47L1207.5 1946.39Z" fill="#00f"/>
<path d="M1212.22 1945.24L1217.86 1945.24L1215.04 1940.17Z" fill="#00f"/>
<path d="M1219.76 1938.31L1225.4 1938.31L1222.58 1933.24Z" fill="#00f"/>
<path d="M1227.31 1930.6L1232.94 1930.6L1230.12 1925.52Z" fill="#00f"/>
<path d="M1234.85 1921.99L1240.48 1921.99L1237.66 1916.92Z" fill="#00f"/>
<path d="M1242.39 1912.42L1248.02 1912.42L1245.21 1907.35Z" fill="#00f"/>
<path d="M1249.93 1901.78L1255.56 1901.78L1252.75 1896.71Z" fill="#00f"/>
<path d="M1257.47 1889.98L1263.11 1889.98L1260.29 1884.91Z" fill="#00f"/>
<path d="M1265.01 1876.93L1270.65 1876.93L1267.83 1871.86Z" fill="#00f"/>
<path d="M1272.55 1862.61L1278.19 1862.61L1275.37 1857.54Z" fill="#00f"/>
<path d="M1280.1 1847.33L1285.73 1847.33L1282.91 1842.25Z" fill="#00f"/>
<path d="M1287.64 1831.44L1293.27 1831.44L1290.45 1826.37Z" fill="#00f"/>
<path d="M1295.18 1815.34L1300.81 1815.34L1298 1810.27Z" fill="#00f"/>
<path d="M1302.72 1799.4L1308.35 1799.4L1305.54 1794.33Z" fill="#00f"/>
<path d="M1310.26 1784.01L1315.9 1784.01L1313.08 1778.93Z" fill="#00f"/>
<path d="M1317.8 1769.52L1323.44 1769.52L1320.62 1764.45Z" fill="#00f"/>
<path d="M1325.34 1756.26L1330.98 1756.26L1328.16 1751.19Z" fill="#00f"/>
<path d="M1332.89 1744.22L1338.52 1744.22L1335.7 1739.15Z" fill="#00f"/>
<path d="M1340.43 1733.36L1346.06 1733.36L1343.24 1728.29Z" fill="#00f"/>
<path d="M1347.97 1723.6L1353.6 1723.6L1350.79 1718.53Z" fill="#00f"/>
<path d="M1355.51 1714.9L1361.14 1714.9L1358.33 1709.83Z" fill="#00f"/>
<path d="M1363.05 1707.18L1368.69 1707.18L1365.87 1702.11Z" fill="#00f"/>
<path d="M1370.59 1700.4L1376.23 1700.4L1373.41 1695.33Z" fill="#00f"/>
<path d="M1378.13 1694.49L1383.77 1694.49L1380.95 1689.42Z" fill="#00f"/>
<path d="M1385.68 1689.4L1391.31 1689.4L1388.49 1684.33Z" fill="#00f"/>
<path d="M1393.22 1685.06L1398.85 1685.06L1396.03 1679.99Z" fill="#00f"/>
<path d="M1400.76 1681.41L1406.39 1681.41L1403.58 1676.34Z" fill="#00f"/>
<path d="M1408.3 1678.4L1413.93 1678.4L1411.12 1673.33Z" fill="#00f"/>
<path d="M1415.84 1675.97L1421.48 1675.97L1418.66 1670.89Z" fill="#00f"/>
<path d="M1423.38 1674.05L1429.02 1674.05L1426.2 1668.98Z" fill="#00f"/>
<polyline points="898.3,1665.48 900.95,1667.54 903.6,1669.61 906.26,1671.69 908.91,1673.78 911.56,1675.87 914.21,1677.98 916.86,1680.1 919.51,1682.22 922.17,1684.35 924.82,1686.49 927.47,1688.64 930.12,1690.8 932.77,1692.97 935.42,1695.14 938.08,1697.32 940.73,1699.51 943.38,1701.7 946.03,1703.91 948.68,1706.12 951.34,1708.33 953.99,1710.55 956.64,1712.78 959.29,1715.02 961.94,1717.26 964.59,1719.51 967.25,1721.76 969.9,1724.02 972.55,1726.29 975.2,1728.56 977.85,1730.84 980.5,1733.12 983.16,1735.4 985.81,1737.7 988.46,1739.99 991.11,1742.29 993.76,1744.6 996.42,1746.91 999.07,1749.22 1001.72,1751.54 1004.37,1753.86 1007.02,1756.18 1009.67,1758.51 1012.33,1760.84 1014.98,1763.17 1017.63,1765.51 1020.28,1767.85 1022.93,1770.2 1025.58,1772.54 1028.24,1774.89 1030.89,1777.24 1033.54,1779.59 1036.19,1781.94 1038.84,1784.3 1041.49,1786.66 1044.15,1789.02 1046.8,1791.38 1049.45,1793.74 1052.1,1796.1 1054.75,1798.46 1057.41,1800.83 1060.06,1803.19 1062.71,1805.56 1065.36,1807.92 1068.01,1810.29 1070.66,1812.65 1073.32,1815.02 1075.97,1817.38 1078.62,1819.75 1081.27,1822.11 1083.92,1824.47 1086.57,1826.83 1089.23,1829.19 1091.88,1831.55 1094.53,1833.91 1097.18,1836.27 1099.83,1838.62 1102.49,1840.97 1105.14,1843.32 1107.79,1845.67 1110.44,1848.02 1113.09,1850.36 1115.74,1852.7 1118.4,1855.04 1121.05,1857.37 1123.7,1859.7 1126.35,1862.03 1129,1864.36 1131.65,1866.68 1134.31,1869 1136.96,1871.31 1139.61,1873.62 1142.26,1875.92 1144.91,1878.23 1147.57,1880.52 1150.22,1882.81 1152.87,1885.1 1155.52,1887.38 1158.17,1889.66 1160.82,1891.93 1163.48,1894.2 1166.13,1896.46 1168.78,1898.71 1171.43,1900.96 1174.08,1903.2 1176.73,1905.44 1179.39,1907.67 1182.04,1909.89 1184.69,1912.11 1187.34,1914.32 1189.99,1916.52 1192.65,1918.71 1195.3,1920.89 1197.95,1923.06 1200.6,1925.21 1203.25,1927.35 1205.9,1929.47 1208.56,1931.57 1211.21,1933.65 1213.86,1935.71 1216.51,1937.74 1219.16,1939.75 1221.81,1941.73 1224.47,1943.69 1227.12,1945.61 1229.77,1947.5 1232.42,1949.37 1235.07,1951.19 1237.73,1952.98 1240.38,1954.74 1243.03,1956.45 1245.68,1958.13 1248.33,1959.76 1250.98,1961.35 1253.64,1962.9 1256.29,1964.41 1258.94,1965.88 1261.59,1967.3 1264.24,1968.68 1266.89,1970.02 1269.55,1971.31 1272.2,1972.56 1274.85,1973.77 1277.5,1974.93 1280.15,1976.04 1282.81,1977.11 1285.46,1978.13 1288.11,1979.11 1290.76,1980.04 1293.41,1980.92 1296.06,1981.76 1298.72,1982.56 1301.37,1983.31 1304.02,1984.02 1306.67,1984.69 1309.32,1985.32 1311.97,1985.91 1314.63,1986.46 1317.28,1986.98 1319.93,1987.46 1322.58,1987.91 1325.23,1988.33 1327.88,1988.71 1330.54,1989.06 1333.19,1989.39 1335.84,1989.68 1338.49,1989.95 1341.14,1990.19 1343.8,1990.41 1346.45,1990.6 1349.1,1990.77 1351.75,1990.92 1354.4,1991.05 1357.05,1991.16 1359.71,1991.25 1362.36,1991.32 1365.01,1991.38 1367.66,1991.43 1370.31,1991.45 1372.96,1991.47 1375.62,1991.48 1378.27,1991.47 1380.92,1991.46 1383.57,1991.44 1386.22,1991.41 1388.88,1991.37 1391.53,1991.33 1394.18,1991.29 1396.83,1991.24 1399.48,1991.2 1402.13,1991.15 1404.79,1991.1 1407.44,1991.06 1410.09,1991.02 1412.74,1990.98 1415.39,1990.95 1418.04,1990.93 1420.7,1990.91 1423.35,1990.9 1426,1990.91" fill="none" stroke="#333333" stroke-width="1.4" stroke-linejoin="round" style="mix-blend-mode:darken" />
<polyline points="898.3,1661.7 900.95,1663.56 903.6,1665.43 906.26,1667.31 908.91,1669.22 911.56,1671.14 914.21,1673.08 916.86,1675.03 919.51,1677 922.17,1678.99 924.82,1680.99 927.47,1683 930.12,1685.03 932.77,1687.08 935.42,1689.14 938.08,1691.21 940.73,1693.3 943.38,1695.4 946.03,1697.51 948.68,1699.64 951.34,1701.78 953.99,1703.93 956.64,1706.09 959.29,1708.27 961.94,1710.45 964.59,1712.65 967.25,1714.86 969.9,1717.08 972.55,1719.32 975.2,1721.56 977.85,1723.81 980.5,1726.07 983.16,1728.34 985.81,1730.63 988.46,1732.92 991.11,1735.22 993.76,1737.52 996.42,1739.84 999.07,1742.16 1001.72,1744.5 1004.37,1746.84 1007.02,1749.18 1009.67,1751.54 1012.33,1753.9 1014.98,1756.27 1017.63,1758.64 1020.28,1761.02 1022.93,1763.41 1025.58,1765.8 1028.24,1768.2 1030.89,1770.6 1033.54,1773.01 1036.19,1775.42 1038.84,1777.84 1041.49,1780.26 1044.15,1782.68 1046.8,1785.11 1049.45,1787.54 1052.1,1789.97 1054.75,1792.41 1057.41,1794.85 1060.06,1797.29 1062.71,1799.73 1065.36,1802.18 1068.01,1804.63 1070.66,1807.07 1073.32,1809.52 1075.97,1811.97 1078.62,1814.42 1081.27,1816.87 1083.92,1819.32 1086.57,1821.77 1089.23,1824.22 1091.88,1826.67 1094.53,1829.12 1097.18,1831.57 1099.83,1834.01 1102.49,1836.45 1105.14,1838.9 1107.79,1841.33 1110.44,1843.77 1113.09,1846.2 1115.74,1848.64 1118.4,1851.06 1121.05,1853.49 1123.7,1855.91 1126.35,1858.32 1129,1860.73 1131.65,1863.14 1134.31,1865.54 1136.96,1867.94 1139.61,1870.33 1142.26,1872.71 1144.91,1875.09 1147.57,1877.47 1150.22,1879.83 1152.87,1882.2 1155.52,1884.55 1158.17,1886.9 1160.82,1889.23 1163.48,1891.57 1166.13,1893.89 1168.78,1896.21 1171.43,1898.51 1174.08,1900.81 1176.73,1903.1 1179.39,1905.38 1182.04,1907.65 1184.69,1909.91 1187.34,1912.16 1189.99,1914.4 1192.65,1916.63 1195.3,1918.84 1197.95,1921.04 1200.6,1923.23 1203.25,1925.4 1205.9,1927.55 1208.56,1929.68 1211.21,1931.8 1213.86,1933.89 1216.51,1935.96 1219.16,1938.01 1221.81,1940.04 1224.47,1942.04 1227.12,1944.01 1229.77,1945.96 1232.42,1947.88 1235.07,1949.77 1237.73,1951.63 1240.38,1953.46 1243.03,1955.26 1245.68,1957.03 1248.33,1958.76 1250.98,1960.46 1253.64,1962.12 1256.29,1963.75 1258.94,1965.34 1261.59,1966.89 1264.24,1968.41 1266.89,1969.9 1269.55,1971.34 1272.2,1972.75 1274.85,1974.12 1277.5,1975.45 1280.15,1976.74 1282.81,1977.99 1285.46,1979.2 1288.11,1980.37 1290.76,1981.49 1293.41,1982.58 1296.06,1983.63 1298.72,1984.64 1301.37,1985.6 1304.02,1986.53 1306.67,1987.42 1309.32,1988.28 1311.97,1989.09 1314.63,1989.87 1317.28,1990.62 1319.93,1991.33 1322.58,1992 1325.23,1992.65 1327.88,1993.26 1330.54,1993.83 1333.19,1994.38 1335.84,1994.89 1338.49,1995.38 1341.14,1995.83 1343.8,1996.26 1346.45,1996.66 1349.1,1997.03 1351.75,1997.37 1354.4,1997.68 1357.05,1997.97 1359.71,1998.24 1362.36,1998.48 1365.01,1998.7 1367.66,1998.89 1370.31,1999.06 1372.96,1999.21 1375.62,1999.33 1378.27,1999.44 1380.92,1999.53 1383.57,1999.59 1386.22,1999.64 1388.88,1999.67 1391.53,1999.69 1394.18,1999.68 1396.83,1999.66 1399.48,1999.63 1402.13,1999.58 1404.79,1999.51 1407.44,1999.43 1410.09,1999.34 1412.74,1999.24 1415.39,1999.12 1418.04,1998.99 1420.7,1998.86 1423.35,1998.71 1426,1998.56" fill="none" stroke="#333333" stroke-width="1.4" stroke-linejoin="round" style="mix-blend-mode:darken" />
<polyline points="898.3,1656.14 900.95,1658.2 903.6,1660.28 906.26,1662.37 908.91,1664.47 911.56,1666.58 914.21,1668.7 916.86,1670.83 919.51,1672.97 922.17,1675.13 924.82,1677.29 927.47,1679.46 930.12,1681.65 932.77,1683.84 935.42,1686.05 938.08,1688.26 940.73,1690.48 943.38,1692.71 946.03,1694.95 948.68,1697.2 951.34,1699.46 953.99,1701.73 956.64,1704 959.29,1706.28 961.94,1708.57 964.59,1710.87 967.25,1713.17 969.9,1715.49 972.55,1717.8 975.2,1720.13 977.85,1722.46 980.5,1724.8 983.16,1727.15 985.81,1729.5 988.46,1731.85 991.11,1734.22 993.76,1736.58 996.42,1738.96 999.07,1741.33 1001.72,1743.72 1004.37,1746.11 1007.02,1748.5 1009.67,1750.89 1012.33,1753.3 1014.98,1755.7 1017.63,1758.11 1020.28,1760.52 1022.93,1762.94 1025.58,1765.36 1028.24,1767.78 1030.89,1770.2 1033.54,1772.63 1036.19,1775.06 1038.84,1777.49 1041.49,1779.92 1044.15,1782.36 1046.8,1784.8 1049.45,1787.24 1052.1,1789.68 1054.75,1792.12 1057.41,1794.56 1060.06,1797 1062.71,1799.45 1065.36,1801.89 1068.01,1804.34 1070.66,1806.78 1073.32,1809.22 1075.97,1811.67 1078.62,1814.11 1081.27,1816.55 1083.92,1818.99 1086.57,1821.43 1089.23,1823.87 1091.88,1826.31 1094.53,1828.75 1097.18,1831.18 1099.83,1833.61 1102.49,1836.04 1105.14,1838.47 1107.79,1840.89 1110.44,1843.31 1113.09,1845.73 1115.74,1848.15 1118.4,1850.56 1121.05,1852.97 1123.7,1855.37 1126.35,1857.77 1129,1860.17 1131.65,1862.56 1134.31,1864.95 1136.96,1867.33 1139.61,1869.7 1142.26,1872.08 1144.91,1874.44 1147.57,1876.81 1150.22,1879.16 1152.87,1881.51 1155.52,1883.86 1158.17,1886.19 1160.82,1888.52 1163.48,1890.85 1166.13,1893.17 1168.78,1895.48 1171.43,1897.78 1174.08,1900.08 1176.73,1902.37 1179.39,1904.65 1182.04,1906.92 1184.69,1909.18 1187.34,1911.44 1189.99,1913.69 1192.65,1915.92 1195.3,1918.15 1197.95,1920.36 1200.6,1922.55 1203.25,1924.74 1205.9,1926.9 1208.56,1929.05 1211.21,1931.18 1213.86,1933.29 1216.51,1935.38 1219.16,1937.44 1221.81,1939.49 1224.47,1941.51 1227.12,1943.5 1229.77,1945.47 1232.42,1947.4 1235.07,1949.32 1237.73,1951.2 1240.38,1953.04 1243.03,1954.86 1245.68,1956.64 1248.33,1958.39 1250.98,1960.11 1253.64,1961.79 1256.29,1963.43 1258.94,1965.04 1261.59,1966.61 1264.24,1968.14 1266.89,1969.64 1269.55,1971.09 1272.2,1972.51 1274.85,1973.89 1277.5,1975.23 1280.15,1976.53 1282.81,1977.79 1285.46,1979.01 1288.11,1980.19 1290.76,1981.33 1293.41,1982.42 1296.06,1983.47 1298.72,1984.48 1301.37,1985.45 1304.02,1986.38 1306.67,1987.28 1309.32,1988.13 1311.97,1988.95 1314.63,1989.73 1317.28,1990.47 1319.93,1991.18 1322.58,1991.86 1325.23,1992.5 1327.88,1993.11 1330.54,1993.68 1333.19,1994.22 1335.84,1994.73 1338.49,1995.22 1341.14,1995.67 1343.8,1996.09 1346.45,1996.48 1349.1,1996.85 1351.75,1997.18 1354.4,1997.5 1357.05,1997.78 1359.71,1998.04 1362.36,1998.28 1365.01,1998.49 1367.66,1998.68 1370.31,1998.84 1372.96,1998.99 1375.62,1999.11 1378.27,1999.22 1380.92,1999.3 1383.57,1999.36 1386.22,1999.41 1388.88,1999.44 1391.53,1999.45 1394.18,1999.44 1396.83,1999.42 1399.48,1999.39 1402.13,1999.33 1404.79,1999.27 1407.44,1999.19 1410.09,1999.1 1412.74,1999 1415.39,1998.89 1418.04,1998.77 1420.7,1998.64 1423.35,1998.5 1426,1998.35" fill="none" stroke="#333333" stroke-width="1.4" stroke-linejoin="round" style="mix-blend-mode:darken" />
<polyline points="898.3,1952.43 900.95,1953.78 903.6,1955.1 906.26,1956.39 908.91,1957.66 911.56,1958.89 914.21,1960.1 916.86,1961.27 919.51,1962.42 922.17,1963.55 924.82,1964.64 927.47,1965.71 930.12,1966.75 932.77,1967.77 935.42,1968.76 938.08,1969.72 940.73,1970.66 943.38,1971.58 946.03,1972.47 948.68,1973.34 951.34,1974.18 953.99,1975 956.64,1975.8 959.29,1976.58 961.94,1977.34 964.59,1978.07 967.25,1978.79 969.9,1979.48 972.55,1980.16 975.2,1980.81 977.85,1981.44 980.5,1982.06 983.16,1982.66 985.81,1983.23 988.46,1983.79 991.11,1984.33 993.76,1984.86 996.42,1985.36 999.07,1985.84 1001.72,1986.31 1004.37,1986.76 1007.02,1987.19 1009.67,1987.61 1012.33,1988.01 1014.98,1988.39 1017.63,1988.75 1020.28,1989.1 1022.93,1989.43 1025.58,1989.74 1028.24,1990.04 1030.89,1990.32 1033.54,1990.58 1036.19,1990.83 1038.84,1991.06 1041.49,1991.28 1044.15,1991.48 1046.8,1991.67 1049.45,1991.84 1052.1,1992 1054.75,1992.14 1057.41,1992.27 1060.06,1992.38 1062.71,1992.47 1065.36,1992.55 1068.01,1992.6 1070.66,1992.64 1073.32,1992.67 1075.97,1992.67 1078.62,1992.65 1081.27,1992.61 1083.92,1992.56 1086.57,1992.48 1089.23,1992.38 1091.88,1992.26 1094.53,1992.12 1097.18,1991.95 1099.83,1991.77 1102.49,1991.56 1105.14,1991.32 1107.79,1991.06 1110.44,1990.78 1113.09,1990.47 1115.74,1990.14 1118.4,1989.78 1121.05,1989.39 1123.7,1988.98 1126.35,1988.54 1129,1988.07 1131.65,1987.56 1134.31,1987.01 1136.96,1986.41 1139.61,1985.76 1142.26,1985.05 1144.91,1984.28 1147.57,1983.44 1150.22,1982.52 1152.87,1981.53 1155.52,1980.45 1158.17,1979.29 1160.82,1978.07 1163.48,1976.79 1166.13,1975.47 1168.78,1974.11 1171.43,1972.74 1174.08,1971.35 1176.73,1969.97 1179.39,1968.61 1182.04,1967.27 1184.69,1965.97 1187.34,1964.71 1189.99,1963.43 1192.65,1962.09 1195.3,1960.64 1197.95,1959.01 1200.6,1957.17 1203.25,1955.06 1205.9,1952.62 1208.56,1949.82 1211.21,1946.69 1213.86,1943.26 1216.51,1939.57 1219.16,1935.68 1221.81,1931.61 1224.47,1927.41 1227.12,1923.08 1229.77,1918.6 1232.42,1913.97 1235.07,1909.17 1237.73,1904.21 1240.38,1899.07 1243.03,1893.77 1245.68,1888.32 1248.33,1882.72 1250.98,1877 1253.64,1871.15 1256.29,1865.2 1258.94,1859.14 1261.59,1853 1264.24,1846.78 1266.89,1840.5 1269.55,1834.16 1272.2,1827.79 1274.85,1821.41 1277.5,1815.06 1280.15,1808.74 1282.81,1802.5 1285.46,1796.35 1288.11,1790.32 1290.76,1784.43 1293.41,1778.71 1296.06,1773.18 1298.72,1767.87 1301.37,1762.78 1304.02,1757.9 1306.67,1753.21 1309.32,1748.69 1311.97,1744.33 1314.63,1740.1 1317.28,1736 1319.93,1731.99 1322.58,1728.07 1325.23,1724.23 1327.88,1720.5 1330.54,1716.87 1333.19,1713.37 1335.84,1709.99 1338.49,1706.75 1341.14,1703.65 1343.8,1700.71 1346.45,1697.92 1349.1,1695.3 1351.75,1692.85 1354.4,1690.58 1357.05,1688.49 1359.71,1686.6 1362.36,1684.91 1365.01,1683.43 1367.66,1682.16 1370.31,1681.11 1372.96,1680.28 1375.62,1679.63 1378.27,1679.15 1380.92,1678.81 1383.57,1678.59 1386.22,1678.45 1388.88,1678.37 1391.53,1678.33 1394.18,1678.29 1396.83,1678.25 1399.48,1678.14 1402.13,1677.92 1404.79,1677.52 1407.44,1676.9 1410.09,1675.99 1412.74,1674.74 1415.39,1673.09 1418.04,1670.98 1420.7,1668.36 1423.35,1665.18 1426,1661.37" fill="none" stroke="#333333" stroke-width="1.4" stroke-linejoin="round" style="mix-blend-mode:darken" />
<polyline points="898.3,1871.62 900.95,1875.75 903.6,1879.91 906.26,1884.1 908.91,1888.3 911.56,1892.52 914.21,1896.73 916.86,1900.93 919.51,1905.11 922.17,1909.26 924.82,1913.36 927.47,1917.41 930.12,1921.4 932.77,1925.31 935.42,1929.14 938.08,1932.88 940.73,1936.51 943.38,1940.03 946.03,1943.42 948.68,1946.67 951.34,1949.79 953.99,1952.75 956.64,1955.56 959.29,1958.24 961.94,1960.78 964.59,1963.2 967.25,1965.49 969.9,1967.66 972.55,1969.72 975.2,1971.67 977.85,1973.52 980.5,1975.27 983.16,1976.93 985.81,1978.51 988.46,1980 991.11,1981.42 993.76,1982.78 996.42,1984.06 999.07,1985.29 1001.72,1986.46 1004.37,1987.59 1007.02,1988.67 1009.67,1989.71 1012.33,1990.7 1014.98,1991.65 1017.63,1992.55 1020.28,1993.41 1022.93,1994.23 1025.58,1995 1028.24,1995.73 1030.89,1996.42 1033.54,1997.06 1036.19,1997.66 1038.84,1998.22 1041.49,1998.73 1044.15,1999.21 1046.8,1999.64 1049.45,2000.02 1052.1,2000.37 1054.75,2000.67 1057.41,2000.93 1060.06,2001.15 1062.71,2001.33 1065.36,2001.47 1068.01,2001.56 1070.66,2001.62 1073.32,2001.63 1075.97,2001.6 1078.62,2001.53 1081.27,2001.42 1083.92,2001.27 1086.57,2001.08 1089.23,2000.85 1091.88,2000.58 1094.53,2000.27 1097.18,1999.92 1099.83,1999.53 1102.49,1999.1 1105.14,1998.63 1107.79,1998.12 1110.44,1997.57 1113.09,1996.98 1115.74,1996.36 1118.4,1995.69 1121.05,1994.99 1123.7,1994.25 1126.35,1993.47 1129,1992.65 1131.65,1991.79 1134.31,1990.9 1136.96,1989.97 1139.61,1989 1142.26,1987.99 1144.91,1986.94 1147.57,1985.86 1150.22,1984.74 1152.87,1983.58 1155.52,1982.39 1158.17,1981.16 1160.82,1979.89 1163.48,1978.59 1166.13,1977.25 1168.78,1975.87 1171.43,1974.46 1174.08,1973.02 1176.73,1971.53 1179.39,1970.01 1182.04,1968.46 1184.69,1966.87 1187.34,1965.24 1189.99,1963.57 1192.65,1961.85 1195.3,1960.08 1197.95,1958.25 1200.6,1956.35 1203.25,1954.37 1205.9,1952.31 1208.56,1950.17 1211.21,1947.94 1213.86,1945.6 1216.51,1943.16 1219.16,1940.61 1221.81,1937.94 1224.47,1935.14 1227.12,1932.21 1229.77,1929.15 1232.42,1925.94 1235.07,1922.59 1237.73,1919.07 1240.38,1915.4 1243.03,1911.55 1245.68,1907.53 1248.33,1903.33 1250.98,1898.97 1253.64,1894.46 1256.29,1889.79 1258.94,1885 1261.59,1880.07 1264.24,1875.04 1266.89,1869.89 1269.55,1864.66 1272.2,1859.34 1274.85,1853.94 1277.5,1848.49 1280.15,1842.99 1282.81,1837.45 1285.46,1831.89 1288.11,1826.32 1290.76,1820.75 1293.41,1815.18 1296.06,1809.64 1298.72,1804.14 1301.37,1798.68 1304.02,1793.28 1306.67,1787.95 1309.32,1782.7 1311.97,1777.55 1314.63,1772.5 1317.28,1767.57 1319.93,1762.77 1322.58,1758.1 1325.23,1753.58 1327.88,1749.2 1330.54,1744.96 1333.19,1740.86 1335.84,1736.9 1338.49,1733.07 1341.14,1729.38 1343.8,1725.82 1346.45,1722.4 1349.1,1719.11 1351.75,1715.96 1354.4,1712.93 1357.05,1710.04 1359.71,1707.28 1362.36,1704.64 1365.01,1702.14 1367.66,1699.76 1370.31,1697.51 1372.96,1695.38 1375.62,1693.38 1378.27,1691.49 1380.92,1689.71 1383.57,1688.02 1386.22,1686.41 1388.88,1684.87 1391.53,1683.4 1394.18,1681.97 1396.83,1680.59 1399.48,1679.24 1402.13,1677.9 1404.79,1676.58 1407.44,1675.25 1410.09,1673.92 1412.74,1672.56 1415.39,1671.16 1418.04,1669.73 1420.7,1668.24 1423.35,1666.69 1426,1665.06" fill="none" stroke="#333333" stroke-width="1.4" stroke-linejoin="round" style="mix-blend-mode:darken" />
<polyline points="898.3,1911.98 900.95,1915.65 903.6,1919.25 906.26,1922.79 908.91,1926.25 911.56,1929.64 914.21,1932.95 916.86,1936.18 919.51,1939.33 922.17,1942.4 924.82,1945.38 927.47,1948.27 930.12,1951.07 932.77,1953.77 935.42,1956.38 938.08,1958.89 940.73,1961.29 943.38,1963.59 946.03,1965.79 948.68,1967.87 951.34,1969.85 953.99,1971.71 956.64,1973.46 959.29,1975.11 961.94,1976.67 964.59,1978.12 967.25,1979.49 969.9,1980.78 972.55,1981.98 975.2,1983.11 977.85,1984.16 980.5,1985.15 983.16,1986.08 985.81,1986.95 988.46,1987.76 991.11,1988.53 993.76,1989.25 996.42,1989.94 999.07,1990.59 1001.72,1991.2 1004.37,1991.8 1007.02,1992.36 1009.67,1992.91 1012.33,1993.43 1014.98,1993.93 1017.63,1994.4 1020.28,1994.86 1022.93,1995.28 1025.58,1995.68 1028.24,1996.06 1030.89,1996.41 1033.54,1996.73 1036.19,1997.03 1038.84,1997.31 1041.49,1997.55 1044.15,1997.78 1046.8,1997.97 1049.45,1998.14 1052.1,1998.27 1054.75,1998.39 1057.41,1998.47 1060.06,1998.53 1062.71,1998.55 1065.36,1998.55 1068.01,1998.52 1070.66,1998.46 1073.32,1998.38 1075.97,1998.26 1078.62,1998.11 1081.27,1997.93 1083.92,1997.72 1086.57,1997.48 1089.23,1997.21 1091.88,1996.91 1094.53,1996.58 1097.18,1996.21 1099.83,1995.82 1102.49,1995.39 1105.14,1994.93 1107.79,1994.43 1110.44,1993.9 1113.09,1993.34 1115.74,1992.75 1118.4,1992.12 1121.05,1991.46 1123.7,1990.76 1126.35,1990.03 1129,1989.27 1131.65,1988.47 1134.31,1987.63 1136.96,1986.76 1139.61,1985.85 1142.26,1984.91 1144.91,1983.93 1147.57,1982.91 1150.22,1981.86 1152.87,1980.77 1155.52,1979.64 1158.17,1978.47 1160.82,1977.27 1163.48,1976.03 1166.13,1974.75 1168.78,1973.43 1171.43,1972.07 1174.08,1970.67 1176.73,1969.24 1179.39,1967.76 1182.04,1966.24 1184.69,1964.69 1187.34,1963.09 1189.99,1961.45 1192.65,1959.75 1195.3,1958.01 1197.95,1956.21 1200.6,1954.34 1203.25,1952.42 1205.9,1950.42 1208.56,1948.35 1211.21,1946.2 1213.86,1943.98 1216.51,1941.66 1219.16,1939.26 1221.81,1936.77 1224.47,1934.18 1227.12,1931.49 1229.77,1928.69 1232.42,1925.79 1235.07,1922.77 1237.73,1919.64 1240.38,1916.38 1243.03,1913.01 1245.68,1909.5 1248.33,1905.86 1250.98,1902.08 1253.64,1898.17 1256.29,1894.11 1258.94,1889.9 1261.59,1885.53 1264.24,1881.02 1266.89,1876.34 1269.55,1871.49 1272.2,1866.5 1274.85,1861.36 1277.5,1856.1 1280.15,1850.73 1282.81,1845.27 1285.46,1839.73 1288.11,1834.14 1290.76,1828.51 1293.41,1822.85 1296.06,1817.19 1298.72,1811.53 1301.37,1805.89 1304.02,1800.3 1306.67,1794.76 1309.32,1789.3 1311.97,1783.93 1314.63,1778.66 1317.28,1773.52 1319.93,1768.52 1322.58,1763.67 1325.23,1758.98 1327.88,1754.44 1330.54,1750.06 1333.19,1745.82 1335.84,1741.73 1338.49,1737.79 1341.14,1733.99 1343.8,1730.33 1346.45,1726.8 1349.1,1723.41 1351.75,1720.15 1354.4,1717.02 1357.05,1714.01 1359.71,1711.13 1362.36,1708.37 1365.01,1705.73 1367.66,1703.21 1370.31,1700.8 1372.96,1698.5 1375.62,1696.3 1378.27,1694.22 1380.92,1692.23 1383.57,1690.35 1386.22,1688.57 1388.88,1686.88 1391.53,1685.28 1394.18,1683.78 1396.83,1682.36 1399.48,1681.03 1402.13,1679.77 1404.79,1678.6 1407.44,1677.51 1410.09,1676.49 1412.74,1675.55 1415.39,1674.67 1418.04,1673.86 1420.7,1673.12 1423.35,1672.43 1426,1671.81" fill="none" stroke="#333333" stroke-width="1.4" stroke-linejoin="round" style="mix-blend-mode:darken" />
<rect x="898.3" y="1640.3" width="527.9" height="393.0" fill="none" stroke="#2b2b2b" stroke-width="1.7"/>
<line x1="898.3" y1="1994" x2="906.3" y2="1994" stroke="#2b2b2b" stroke-width="1.5"/>
<text transform="translate(889.8,1998.8) scale(1,1.075)" font-size="16.3" text-anchor="end" font-family='"Liberation Serif", serif' font-weight="bold">1</text>
<line x1="898.3" y1="1915.4" x2="906.3" y2="1915.4" stroke="#2b2b2b" stroke-width="1.5"/>
<text transform="translate(889.8,1920.2) scale(1,1.075)" font-size="16.3" text-anchor="end" font-family='"Liberation Serif", serif' font-weight="bold">2</text>
<line x1="898.3" y1="1836.8" x2="906.3" y2="1836.8" stroke="#2b2b2b" stroke-width="1.5"/>
<text transform="translate(889.8,1841.6) scale(1,1.075)" font-size="16.3" text-anchor="end" font-family='"Liberation Serif", serif' font-weight="bold">3</text>
<line x1="898.3" y1="1758.2" x2="906.3" y2="1758.2" stroke="#2b2b2b" stroke-width="1.5"/>
<text transform="translate(889.8,1763) scale(1,1.075)" font-size="16.3" text-anchor="end" font-family='"Liberation Serif", serif' font-weight="bold">4</text>
<line x1="898.3" y1="1679.6" x2="906.3" y2="1679.6" stroke="#2b2b2b" stroke-width="1.5"/>
<text transform="translate(889.8,1684.4) scale(1,1.075)" font-size="16.3" text-anchor="end" font-family='"Liberation Serif", serif' font-weight="bold">5</text>
<line x1="1426.2" y1="1662.13" x2="1418.7" y2="1662.13" stroke="#2b2b2b" stroke-width="1.5"/>
<text transform="translate(1434.2,1666.93) scale(1,1.075)" font-size="16.3" text-anchor="start" font-family='"Liberation Serif", serif' font-weight="bold">0</text>
<line x1="1426.2" y1="1705.8" x2="1418.7" y2="1705.8" stroke="#2b2b2b" stroke-width="1.5"/>
<text transform="translate(1434.2,1710.6) scale(1,1.075)" font-size="16.3" text-anchor="start" font-family='"Liberation Serif", serif' font-weight="bold">-10</text>
<line x1="1426.2" y1="1749.47" x2="1418.7" y2="1749.47" stroke="#2b2b2b" stroke-width="1.5"/>
<text transform="translate(1434.2,1754.27) scale(1,1.075)" font-size="16.3" text-anchor="start" font-family='"Liberation Serif", serif' font-weight="bold">-20</text>
<line x1="1426.2" y1="1793.13" x2="1418.7" y2="1793.13" stroke="#2b2b2b" stroke-width="1.5"/>
<text transform="translate(1434.2,1797.93) scale(1,1.075)" font-size="16.3" text-anchor="start" font-family='"Liberation Serif", serif' font-weight="bold">-30</text>
<line x1="1426.2" y1="1836.8" x2="1418.7" y2="1836.8" stroke="#2b2b2b" stroke-width="1.5"/>
<text transform="translate(1434.2,1841.6) scale(1,1.075)" font-size="16.3" text-anchor="start" font-family='"Liberation Serif", serif' font-weight="bold">-40</text>
<line x1="1426.2" y1="1880.47" x2="1418.7" y2="1880.47" stroke="#2b2b2b" stroke-width="1.5"/>
<text transform="translate(1434.2,1885.27) scale(1,1.075)" font-size="16.3" text-anchor="start" font-family='"Liberation Serif", serif' font-weight="bold">-50</text>
<line x1="1426.2" y1="1924.13" x2="1418.7" y2="1924.13" stroke="#2b2b2b" stroke-width="1.5"/>
<text transform="translate(1434.2,1928.93) scale(1,1.075)" font-size="16.3" text-anchor="start" font-family='"Liberation Serif", serif' font-weight="bold">-60</text>
<line x1="1426.2" y1="1967.8" x2="1418.7" y2="1967.8" stroke="#2b2b2b" stroke-width="1.5"/>
<text transform="translate(1434.2,1972.6) scale(1,1.075)" font-size="16.3" text-anchor="start" font-family='"Liberation Serif", serif' font-weight="bold">-70</text>
<line x1="1426.2" y1="2011.47" x2="1418.7" y2="2011.47" stroke="#2b2b2b" stroke-width="1.5"/>
<text transform="translate(1434.2,2016.27) scale(1,1.075)" font-size="16.3" text-anchor="start" font-family='"Liberation Serif", serif' font-weight="bold">-80</text>
<text transform="translate(898.3,2054.5) scale(1,1.075)" font-size="16.3" text-anchor="middle" font-family='"Liberation Serif", serif' font-weight="bold">-2</text>
<line x1="973.71" y1="2033.3" x2="973.71" y2="2025.8" stroke="#2b2b2b" stroke-width="1.5"/>
<text transform="translate(973.71,2054.5) scale(1,1.075)" font-size="16.3" text-anchor="middle" font-family='"Liberation Serif", serif' font-weight="bold">-1</text>
<line x1="1049.13" y1="2033.3" x2="1049.13" y2="2025.8" stroke="#2b2b2b" stroke-width="1.5"/>
<text transform="translate(1049.13,2054.5) scale(1,1.075)" font-size="16.3" text-anchor="middle" font-family='"Liberation Serif", serif' font-weight="bold">0</text>
<line x1="1124.54" y1="2033.3" x2="1124.54" y2="2025.8" stroke="#2b2b2b" stroke-width="1.5"/>
<text transform="translate(1124.54,2054.5) scale(1,1.075)" font-size="16.3" text-anchor="middle" font-family='"Liberation Serif", serif' font-weight="bold">1</text>
<line x1="1199.96" y1="2033.3" x2="1199.96" y2="2025.8" stroke="#2b2b2b" stroke-width="1.5"/>
<text transform="translate(1199.96,2054.5) scale(1,1.075)" font-size="16.3" text-anchor="middle" font-family='"Liberation Serif", serif' font-weight="bold">2</text>
<line x1="1275.37" y1="2033.3" x2="1275.37" y2="2025.8" stroke="#2b2b2b" stroke-width="1.5"/>
<text transform="translate(1275.37,2054.5) scale(1,1.075)" font-size="16.3" text-anchor="middle" font-family='"Liberation Serif", serif' font-weight="bold">3</text>
<line x1="1350.79" y1="2033.3" x2="1350.79" y2="2025.8" stroke="#2b2b2b" stroke-width="1.5"/>
<text transform="translate(1350.79,2054.5) scale(1,1.075)" font-size="16.3" text-anchor="middle" font-family='"Liberation Serif", serif' font-weight="bold">4</text>
<text transform="translate(1426.2,2054.5) scale(1,1.075)" font-size="16.3" text-anchor="middle" font-family='"Liberation Serif", serif' font-weight="bold">5</text>
<text x="3.5" y="25.1" font-size="30.7" text-anchor="start" font-family='"Liberation Sans", sans-serif' font-weight="bold" >A</text>
<text x="810.5" y="25.1" font-size="30.7" text-anchor="start" font-family='"Liberation Sans", sans-serif' font-weight="bold" >B</text>
<text x="3.5" y="535.4" font-size="30.7" text-anchor="start" font-family='"Liberation Sans", sans-serif' font-weight="bold" >C</text>
<text x="811.5" y="535.4" font-size="30.7" text-anchor="start" font-family='"Liberation Sans", sans-serif' font-weight="bold" >D</text>
<text x="3.5" y="1087.4" font-size="30.7" text-anchor="start" font-family='"Liberation Sans", sans-serif' font-weight="bold" >E</text>
<text x="810.5" y="1088.4" font-size="30.7" text-anchor="start" font-family='"Liberation Sans", sans-serif' font-weight="bold" >F</text>
<text x="4.1" y="1623.9" font-size="30.7" text-anchor="start" font-family='"Liberation Sans", sans-serif' font-weight="bold" >G</text>
<text x="810.5" y="1624.1" font-size="30.7" text-anchor="start" font-family='"Liberation Sans", sans-serif' font-weight="bold" >H</text>
<rect x="504.87" y="328.97" width="5.06" height="5.06" fill="#000"/>
<circle cx="507.4" cy="353.3" r="3.05" fill="#f00"/>
<path d="M504.24 377.66L510.56 377.66L507.4 371.97Z" fill="#00f"/>
<line x1="487.7" y1="396.9" x2="527.6" y2="396.9" stroke="#4a4a4a" stroke-width="1.5"/>
<text x="532.7" y="337.35" font-size="17.2" text-anchor="start" font-family='"Liberation Serif", serif' font-weight="bold" >1 d</text>
<text x="532.7" y="359.15" font-size="17.2" text-anchor="start" font-family='"Liberation Serif", serif' font-weight="bold" >7 d</text>
<text x="532.7" y="380.95" font-size="17.2" text-anchor="start" font-family='"Liberation Serif", serif' font-weight="bold" >14 d</text>
<text x="532.7" y="402.75" font-size="17.2" text-anchor="start" font-family='"Liberation Serif", serif' font-weight="bold" >Fitting line</text>
<rect x="504.87" y="850.87" width="5.06" height="5.06" fill="#000"/>
<circle cx="507.4" cy="875.2" r="3.05" fill="#f00"/>
<path d="M504.24 899.56L510.56 899.56L507.4 893.87Z" fill="#00f"/>
<line x1="487.7" y1="918.8" x2="527.6" y2="918.8" stroke="#4a4a4a" stroke-width="1.5"/>
<text x="532.7" y="859.25" font-size="17.2" text-anchor="start" font-family='"Liberation Serif", serif' font-weight="bold" >1 d</text>
<text x="532.7" y="881.05" font-size="17.2" text-anchor="start" font-family='"Liberation Serif", serif' font-weight="bold" >7 d</text>
<text x="532.7" y="902.85" font-size="17.2" text-anchor="start" font-family='"Liberation Serif", serif' font-weight="bold" >14 d</text>
<text x="532.7" y="924.65" font-size="17.2" text-anchor="start" font-family='"Liberation Serif", serif' font-weight="bold" >Fitting line</text>
<rect x="477.07" y="1377.87" width="5.06" height="5.06" fill="#000"/>
<circle cx="479.6" cy="1406.9" r="3.05" fill="#f00"/>
<path d="M476.44 1435.96L482.76 1435.96L479.6 1430.27Z" fill="#00f"/>
<line x1="456" y1="1459.9" x2="503.7" y2="1459.9" stroke="#4a4a4a" stroke-width="1.5"/>
<text x="509.6" y="1387.51" font-size="20.9" text-anchor="start" font-family='"Liberation Serif", serif' font-weight="bold" >1 d</text>
<text x="509.6" y="1414.01" font-size="20.9" text-anchor="start" font-family='"Liberation Serif", serif' font-weight="bold" >7 d</text>
<text x="509.6" y="1440.51" font-size="20.9" text-anchor="start" font-family='"Liberation Serif", serif' font-weight="bold" >14 d</text>
<text x="509.6" y="1467.01" font-size="20.9" text-anchor="start" font-family='"Liberation Serif", serif' font-weight="bold" >Fitting line</text>
<rect x="491.47" y="1911.17" width="5.06" height="5.06" fill="#000"/>
<circle cx="494" cy="1938.9" r="3.05" fill="#f00"/>
<path d="M490.84 1966.66L497.16 1966.66L494 1960.97Z" fill="#00f"/>
<line x1="471.3" y1="1989.3" x2="516.7" y2="1989.3" stroke="#4a4a4a" stroke-width="1.5"/>
<text x="523" y="1920.47" font-size="19.9" text-anchor="start" font-family='"Liberation Serif", serif' font-weight="bold" >1 d</text>
<text x="523" y="1945.67" font-size="19.9" text-anchor="start" font-family='"Liberation Serif", serif' font-weight="bold" >7 d</text>
<text x="523" y="1970.87" font-size="19.9" text-anchor="start" font-family='"Liberation Serif", serif' font-weight="bold" >14 d</text>
<text x="523" y="1996.07" font-size="19.9" text-anchor="start" font-family='"Liberation Serif", serif' font-weight="bold" >Fitting line</text>
<rect x="979.97" y="215.27" width="5.06" height="5.06" fill="#000"/>
<circle cx="982.5" cy="239.7" r="3.05" fill="#f00"/>
<path d="M979.34 264.16L985.66 264.16L982.5 258.47Z" fill="#00f"/>
<line x1="963" y1="283.5" x2="1002" y2="283.5" stroke="#4a4a4a" stroke-width="1.5"/>
<text x="1007.3" y="223.65" font-size="17.2" text-anchor="start" font-family='"Liberation Serif", serif' font-weight="bold" >1 d</text>
<text x="1007.3" y="245.55" font-size="17.2" text-anchor="start" font-family='"Liberation Serif", serif' font-weight="bold" >7 d</text>
<text x="1007.3" y="267.45" font-size="17.2" text-anchor="start" font-family='"Liberation Serif", serif' font-weight="bold" >14 d</text>
<text x="1007.3" y="289.35" font-size="17.2" text-anchor="start" font-family='"Liberation Serif", serif' font-weight="bold" >Fitting line</text>
<rect x="1005.47" y="792.17" width="5.06" height="5.06" fill="#000"/>
<circle cx="1008" cy="816.7" r="3.05" fill="#f00"/>
<path d="M1004.84 841.26L1011.16 841.26L1008 835.57Z" fill="#00f"/>
<line x1="988.7" y1="860.7" x2="1027.7" y2="860.7" stroke="#4a4a4a" stroke-width="1.5"/>
<text x="1033" y="800.55" font-size="17.2" text-anchor="start" font-family='"Liberation Serif", serif' font-weight="bold" >1 d</text>
<text x="1033" y="822.55" font-size="17.2" text-anchor="start" font-family='"Liberation Serif", serif' font-weight="bold" >7 d</text>
<text x="1033" y="844.55" font-size="17.2" text-anchor="start" font-family='"Liberation Serif", serif' font-weight="bold" >14 d</text>
<text x="1033" y="866.55" font-size="17.2" text-anchor="start" font-family='"Liberation Serif", serif' font-weight="bold" >Fitting line</text>
<rect x="984.77" y="1338.17" width="5.06" height="5.06" fill="#000"/>
<circle cx="987.3" cy="1363.9" r="3.05" fill="#f00"/>
<path d="M984.14 1389.66L990.46 1389.66L987.3 1383.97Z" fill="#00f"/>
<line x1="967.3" y1="1410.3" x2="1008" y2="1410.3" stroke="#8a8a8a" stroke-width="1.5"/>
<text x="1014" y="1346.82" font-size="18.0" text-anchor="start" font-family='"Liberation Serif", serif' font-weight="bold" >1 d</text>
<text x="1014" y="1370.02" font-size="18.0" text-anchor="start" font-family='"Liberation Serif", serif' font-weight="bold" >7 d</text>
<text x="1014" y="1393.22" font-size="18.0" text-anchor="start" font-family='"Liberation Serif", serif' font-weight="bold" >14 d</text>
<text x="1014" y="1416.42" font-size="18.0" text-anchor="start" font-family='"Liberation Serif", serif' font-weight="bold" >Fitting line</text>
<rect x="996.77" y="1856.87" width="5.06" height="5.06" fill="#000"/>
<circle cx="999.3" cy="1882.4" r="3.05" fill="#f00"/>
<path d="M996.14 1907.96L1002.46 1907.96L999.3 1902.27Z" fill="#00f"/>
<line x1="978.7" y1="1928.4" x2="1020.7" y2="1928.4" stroke="#4a4a4a" stroke-width="1.5"/>
<text x="1026" y="1865.52" font-size="18.0" text-anchor="start" font-family='"Liberation Serif", serif' font-weight="bold" >1 d</text>
<text x="1026" y="1888.52" font-size="18.0" text-anchor="start" font-family='"Liberation Serif", serif' font-weight="bold" >7 d</text>
<text x="1026" y="1911.52" font-size="18.0" text-anchor="start" font-family='"Liberation Serif", serif' font-weight="bold" >14 d</text>
<text x="1026" y="1934.52" font-size="18.0" text-anchor="start" font-family='"Liberation Serif", serif' font-weight="bold" >Fitting line</text>
<text x="348" y="496.5" font-size="20" font-family='"Liberation Serif", serif' font-weight="bold">Z<tspan font-size="12.0" dy="-9">'</tspan><tspan dy="9"> (Ω cm</tspan><tspan font-size="12.0" dy="-8">2</tspan><tspan dy="8">)</tspan></text>
<text x="348" y="1018.4" font-size="20" font-family='"Liberation Serif", serif' font-weight="bold">Z<tspan font-size="12.0" dy="-9">'</tspan><tspan dy="9"> (Ω cm</tspan><tspan font-size="12.0" dy="-8">2</tspan><tspan dy="8">)</tspan></text>
<text x="365.8" y="1560.2" font-size="20" font-family='"Liberation Serif", serif' font-weight="bold">Z<tspan font-size="12.0" dy="-9">'</tspan><tspan dy="9"> (Ω cm</tspan><tspan font-size="12.0" dy="-8">2</tspan><tspan dy="8">)</tspan></text>
<text x="348" y="2088.2" font-size="20" font-family='"Liberation Serif", serif' font-weight="bold">Z<tspan font-size="12.0" dy="-9">'</tspan><tspan dy="9"> (Ω cm</tspan><tspan font-size="12.0" dy="-8">2</tspan><tspan dy="8">)</tspan></text>
<text transform="translate(51.3,270) rotate(-90)" x="0" y="0" text-anchor="middle" font-size="20" font-family='"Liberation Serif", serif' font-weight="bold">Z<tspan font-size="12.0" dy="-9">''</tspan><tspan dy="9"> (Ω cm</tspan><tspan font-size="12.0" dy="-8">2</tspan><tspan dy="8">)</tspan></text>
<text transform="translate(52,792.8) rotate(-90)" x="0" y="0" text-anchor="middle" font-size="20" font-family='"Liberation Serif", serif' font-weight="bold">Z<tspan font-size="12.0" dy="-9">''</tspan><tspan dy="9"> (Ω cm</tspan><tspan font-size="12.0" dy="-8">2</tspan><tspan dy="8">)</tspan></text>
<text transform="translate(50.2,1324) rotate(-90)" x="0" y="0" text-anchor="middle" font-size="20" font-family='"Liberation Serif", serif' font-weight="bold">Z<tspan font-size="12.0" dy="-9">''</tspan><tspan dy="9"> (Ω cm</tspan><tspan font-size="12.0" dy="-8">2</tspan><tspan dy="8">)</tspan></text>
<text transform="translate(51.3,1862.7) rotate(-90)" x="0" y="0" text-anchor="middle" font-size="20" font-family='"Liberation Serif", serif' font-weight="bold">Z<tspan font-size="12.0" dy="-9">''</tspan><tspan dy="9"> (Ω cm</tspan><tspan font-size="12.0" dy="-8">2</tspan><tspan dy="8">)</tspan></text>
<text x="1148.5" y="494.4" font-size="20" font-family='"Liberation Serif", serif' font-weight="bold">log <tspan font-style="italic">f</tspan> (Hz)</text>
<text x="1148.5" y="1042.3" font-size="20" font-family='"Liberation Serif", serif' font-weight="bold">log <tspan font-style="italic">f</tspan> (Hz)</text>
<text x="1148.5" y="1561.5" font-size="20" font-family='"Liberation Serif", serif' font-weight="bold">log <tspan font-style="italic">f</tspan> (Hz)</text>
<text x="1148.5" y="2086" font-size="20" font-family='"Liberation Serif", serif' font-weight="bold">log <tspan font-style="italic">f</tspan> (Hz)</text>
<text transform="translate(861.8,249.8) rotate(-90)" x="0" y="0" text-anchor="middle" font-size="20" font-family='"Liberation Serif", serif' font-weight="bold">log |Z| (Ω cm<tspan font-size="12.0" dy="-8">2</tspan><tspan dy="8">)</tspan></text>
<text transform="translate(861.8,798) rotate(-90)" x="0" y="0" text-anchor="middle" font-size="20" font-family='"Liberation Serif", serif' font-weight="bold">log |Z| (Ω cm<tspan font-size="12.0" dy="-8">2</tspan><tspan dy="8">)</tspan></text>
<text transform="translate(861.8,1313.7) rotate(-90)" x="0" y="0" text-anchor="middle" font-size="20" font-family='"Liberation Serif", serif' font-weight="bold">log |Z| (Ω cm<tspan font-size="12.0" dy="-8">2</tspan><tspan dy="8">)</tspan></text>
<text transform="translate(861.8,1842.2) rotate(-90)" x="0" y="0" text-anchor="middle" font-size="20" font-family='"Liberation Serif", serif' font-weight="bold">log |Z| (Ω cm<tspan font-size="12.0" dy="-8">2</tspan><tspan dy="8">)</tspan></text>
<text transform="translate(1491,255.8) rotate(-90)" x="0" y="0" text-anchor="middle" font-size="20" font-family='"Liberation Serif", serif' font-weight="bold">Phase (degree)</text>
<text transform="translate(1490,805.7) rotate(-90)" x="0" y="0" text-anchor="middle" font-size="20" font-family='"Liberation Serif", serif' font-weight="bold">Phase (degree)</text>
<text transform="translate(1487.6,1323.6) rotate(-90)" x="0" y="0" text-anchor="middle" font-size="20" font-family='"Liberation Serif", serif' font-weight="bold">Phase (degree)</text>
<text transform="translate(1490.6,1848.8) rotate(-90)" x="0" y="0" text-anchor="middle" font-size="20" font-family='"Liberation Serif", serif' font-weight="bold">Phase (degree)</text>
</svg></body></html>
